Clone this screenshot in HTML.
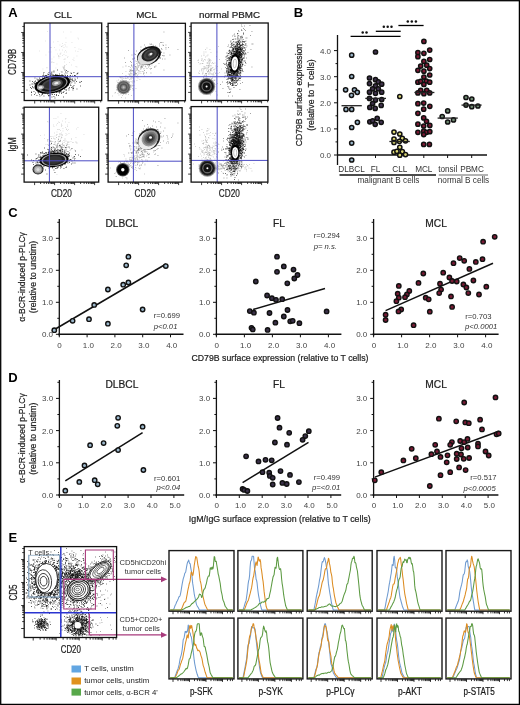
<!DOCTYPE html><html><head><meta charset="utf-8"><style>html,body{margin:0;padding:0;background:#fff;}svg{display:block;will-change:transform;}</style></head><body><svg width="520" height="705" viewBox="0 0 520 705" font-family='"Liberation Sans", sans-serif'>
<rect x="0" y="0" width="520" height="705" fill="#fff" stroke="none" stroke-width="1"/>
<text x="8.3" y="17" font-size="13" text-anchor="start" font-weight="bold" font-style="normal" fill="#000">A</text>
<text x="63" y="18.1" font-size="9.8" text-anchor="middle" font-weight="normal" font-style="normal" fill="#222" stroke="#222" stroke-width="0.22">CLL</text>
<text x="146.5" y="18.1" font-size="9.8" text-anchor="middle" font-weight="normal" font-style="normal" fill="#222" stroke="#222" stroke-width="0.22">MCL</text>
<text x="229.6" y="18.1" font-size="9.8" text-anchor="middle" font-weight="normal" font-style="normal" fill="#222" stroke="#222" stroke-width="0.22">normal PBMC</text>
<text x="15.9" y="61.8" font-size="10" text-anchor="middle" font-weight="normal" font-style="normal" fill="#222" stroke="#222" stroke-width="0.22" transform="rotate(-90 15.9 61.8)" textLength="26.2" lengthAdjust="spacingAndGlyphs">CD79B</text>
<text x="15.7" y="144.6" font-size="10" text-anchor="middle" font-weight="normal" font-style="normal" fill="#222" stroke="#222" stroke-width="0.22" transform="rotate(-90 15.7 144.6)" textLength="14.5" lengthAdjust="spacingAndGlyphs">IgM</text>
<text x="61.4" y="196.5" font-size="10" text-anchor="middle" font-weight="normal" font-style="normal" fill="#222" stroke="#222" stroke-width="0.22" textLength="21" lengthAdjust="spacingAndGlyphs">CD20</text>
<text x="145.1" y="196.5" font-size="10" text-anchor="middle" font-weight="normal" font-style="normal" fill="#222" stroke="#222" stroke-width="0.22" textLength="21" lengthAdjust="spacingAndGlyphs">CD20</text>
<text x="229.3" y="196.5" font-size="10" text-anchor="middle" font-weight="normal" font-style="normal" fill="#222" stroke="#222" stroke-width="0.22" textLength="21" lengthAdjust="spacingAndGlyphs">CD20</text>
<path d="M64 62h0.9M61.5 46.5h0.9M59.5 45h0.9M64.5 75.5h0.9M59 50h0.9M69 62.5h0.9M65 46h0.9M63.5 67h0.9M50.5 52h0.9M45 41h0.9M45.5 55h0.9M51.5 61.5h0.9M65.5 55.5h0.9M39 51h0.9M63.5 59.5h0.9M48.5 52h0.9M54 47.5h0.9M74.5 47.5h0.9M63.5 69.5h0.9M58 56.5h0.9M65 59h0.9M51.5 59h0.9M77.5 38h0.9M72.5 59.5h0.9M57.5 84h0.9M71.5 42.5h0.9M64.5 65.5h0.9M62 67h0.9M63.5 66.5h0.9M78.5 49h0.9M66 52h0.9M65.5 42.5h0.9M58 55.5h0.9M73 73h0.9M51 47.5h0.9M70.5 32h0.9M59.5 56.5h0.9M76.5 67h0.9M60.5 53h0.9M61.5 78h0.9M59.5 54h0.9M67.5 56.5h0.9M62 43.5h0.9M64 52h0.9M75.5 66.5h0.9M64 66.5h0.9M60.5 71.5h0.9M64 65.5h0.9M51 62.5h0.9M47 31.5h0.9M61 46.5h0.9M65.5 87h0.9M55.5 50h0.9M66 64.5h0.9M62 55.5h0.9M71 65h0.9M53.5 57h0.9M64.5 44.5h0.9M66.5 47h0.9M73.5 60.5h0.9M65 50.5h0.9M63 32h0.9M52.5 62.5h0.9M42.5 69h0.9M46.5 68h0.9M55.5 68h0.9M65.5 38h0.9M76.5 76.5h0.9M63.5 54.5h0.9M62.5 45.5h0.9M75 51h0.9M63.5 47.5h0.9M57.5 41.5h0.9M76.5 56h0.9M73.5 58h0.9M57 54h0.9M58.5 58h0.9M60 54h0.9M50 47.5h0.9M80.5 49.5h0.9M53.5 62.5h0.9M78 39h0.9M62 50h0.9M46.5 67.5h0.9M64 59h0.9M56.5 64h0.9M58.5 56h0.9M53 42h0.9M77.5 51.5h0.9M67 57.5h0.9" stroke="#333" stroke-opacity="0.15" stroke-width="0.9" fill="none"/>
<path d="M47.5 83h0.9M58.5 81.5h0.9M51 84.5h0.9M64.5 85h0.9M55.5 81h0.9M40 91.5h0.9M62 81.5h0.9M58.5 87h0.9M61.5 87h0.9M49.5 92.5h0.9M41 91h0.9M58 87.5h0.9M72.5 87.5h0.9M39.5 79h0.9M59.5 78h0.9M53 88.5h0.9M34.5 78h0.9M55 84h0.9M50 85h0.9M42.5 79h0.9M50 80h0.9M37 90h0.9M52.5 86.5h0.9M42 83.5h0.9M42 82h0.9M53.5 80h0.9M56.5 85h0.9M71 73.5h0.9M61 82h0.9M51 77.5h0.9M48.5 88.5h0.9M52 85h0.9M51 90.5h0.9M50 74h0.9M44 76.5h0.9M65.5 81.5h0.9M40 82.5h0.9M63.5 82.5h0.9M53 84h0.9M53.5 88h0.9M58 84h0.9M43 89h0.9M47 91h0.9M40 86.5h0.9M51 78h0.9M71 87.5h0.9M48.5 89h0.9M53.5 71h0.9M55 83.5h0.9M52 79h0.9M49.5 84h0.9M64.5 83.5h0.9M54 91.5h0.9M46.5 83.5h0.9M36.5 95.5h0.9M63 86.5h0.9M59 83.5h0.9M54.5 82.5h0.9M50.5 85h0.9M68 84h0.9M51.5 81.5h0.9M48 93h0.9M57.5 83.5h0.9M48 80h0.9M52.5 88.5h0.9M48.5 84h0.9M50.5 85.5h0.9M36.5 86.5h0.9M45 90h0.9M45.5 88.5h0.9M67 79.5h0.9M47 86.5h0.9M51.5 79.5h0.9M59 93h0.9M50 84h0.9M42.5 88h0.9M39 81.5h0.9M64 77.5h0.9M64.5 89h0.9M55.5 86.5h0.9M71.5 79.5h0.9M45.5 79h0.9M54.5 91h0.9M61 78h0.9M43.5 83.5h0.9M55 82.5h0.9M55 85h0.9M49.5 84.5h0.9M54.5 83.5h0.9M59.5 92h0.9M58.5 83.5h0.9M36.5 89.5h0.9M32 81.5h0.9M61.5 86h0.9M49.5 76.5h0.9M48 82h0.9M61 93.5h0.9M54 80h0.9M41 86.5h0.9M49.5 79.5h0.9M52.5 78.5h0.9M64.5 87h0.9M62.5 80h0.9M57.5 82.5h0.9M48.5 83.5h0.9M38.5 80h0.9M60 82h0.9M55.5 88.5h0.9M35 84h0.9M54.5 86h0.9M50 90h0.9M53.5 78h0.9M44 90h0.9M55 74.5h0.9M66.5 84.5h0.9M65.5 79.5h0.9M48.5 79.5h0.9M77 78h0.9M67.5 78h0.9M52.5 76h0.9M49.5 89.5h0.9M41.5 92h0.9M55 78.5h0.9M47 83h0.9M51.5 82h0.9M44 84.5h0.9M41 80.5h0.9M37.5 87.5h0.9M45 81h0.9M60.5 80h0.9M66.5 77.5h0.9M56 82.5h0.9M51.5 87.5h0.9M51 79.5h0.9M51.5 85h0.9M50.5 76.5h0.9M58 78h0.9M35 88h0.9M62 75h0.9M41 83h0.9M42 88.5h0.9M44 82.5h0.9M57.5 79.5h0.9M56 79h0.9M39 78h0.9M70.5 79h0.9M54 84h0.9M70 75.5h0.9M36.5 83h0.9M40 90.5h0.9M38.5 85.5h0.9M63.5 68h0.9M56.5 78h0.9M61.5 77h0.9M48 78h0.9M44.5 93h0.9M60 80.5h0.9M42 77h0.9M48.5 85h0.9M51.5 84h0.9M41.5 86.5h0.9M53.5 90.5h0.9M70.5 80h0.9M45 85.5h0.9M46 82h0.9M58.5 82.5h0.9M55 83h0.9M44.5 81.5h0.9M49.5 82h0.9M39 87.5h0.9M38.5 84h0.9M47.5 75h0.9M53.5 85h0.9M50.5 82.5h0.9M48 80.5h0.9M49.5 82.5h0.9M52 78.5h0.9M55 84.5h0.9M56 75.5h0.9M57 84.5h0.9M55.5 85.5h0.9M46 84.5h0.9M59 85h0.9M53 77h0.9M59 88.5h0.9M62.5 83.5h0.9M38 92h0.9M48.5 72.5h0.9M54.5 76.5h0.9M39 84h0.9M64.5 80h0.9M57 92h0.9M68 80.5h0.9M49 79h0.9M46 87.5h0.9M56.5 84h0.9M61.5 78.5h0.9M52.5 88h0.9M59.5 88h0.9M56 82h0.9M55 79h0.9M37 90.5h0.9M52.5 86h0.9M35.5 86h0.9M46 81.5h0.9M30 87.5h0.9M61.5 84h0.9M46.5 85.5h0.9M57 70h0.9M52 87h0.9M61 91h0.9M64 83.5h0.9M56 87.5h0.9M47 85h0.9M63.5 91.5h0.9M56 90h0.9M53.5 91.5h0.9M43 85.5h0.9M51.5 88.5h0.9M61 75h0.9M44 88h0.9M44.5 78.5h0.9M63 84.5h0.9M57 81h0.9M62.5 81h0.9M62.5 77.5h0.9M44.5 87h0.9M46.5 89h0.9M54 79.5h0.9M53 82.5h0.9M61 79.5h0.9M49.5 91h0.9M76.5 89h0.9M67.5 80.5h0.9M43 87h0.9M56 79.5h0.9M35 81h0.9M58.5 79.5h0.9M51.5 85.5h0.9M58 81.5h0.9M56.5 79h0.9M63.5 82h0.9M45 84h0.9M51 88h0.9M36 82.5h0.9M51.5 97h0.9M61.5 82h0.9M61.5 92.5h0.9M50 83h0.9M65 84h0.9M58.5 80.5h0.9M73 88.5h0.9M58.5 86.5h0.9M33.5 91.5h0.9M51 86.5h0.9M59 81.5h0.9M45 84.5h0.9M46 84h0.9M31 95h0.9M56 89h0.9M72 80.5h0.9M34 84h0.9M40 84.5h0.9M51.5 74.5h0.9M55.5 83h0.9M46.5 82.5h0.9M36 87.5h0.9M72.5 90h0.9M66 85h0.9M47.5 92.5h0.9M52 84h0.9M49.5 85.5h0.9M48 85h0.9M41.5 85h0.9M74.5 79h0.9M50.5 87.5h0.9M58.5 77.5h0.9M51.5 89h0.9M55.5 84.5h0.9M67 78h0.9M53 81.5h0.9M65 72h0.9M45.5 83h0.9M59.5 86h0.9M64.5 74h0.9M59.5 81.5h0.9M46.5 88h0.9M41.5 76.5h0.9M47.5 78h0.9M46.5 87.5h0.9M57 91h0.9M49 77.5h0.9M44 81.5h0.9M41 89h0.9M59 82.5h0.9M56 84h0.9M58.5 83h0.9M65 83.5h0.9M56.5 85.5h0.9M38 86.5h0.9M50 86h0.9M41 95h0.9M35.5 86.5h0.9M51 81h0.9M53 81h0.9M57 80h0.9M53 89h0.9M76.5 74h0.9M47 81.5h0.9M59 77.5h0.9M47.5 85h0.9M46 75.5h0.9M38 85.5h0.9M54 83h0.9M34.5 86h0.9M61 85h0.9M51 80.5h0.9M58 80.5h0.9M40.5 83h0.9M67 82.5h0.9M63.5 79.5h0.9M53.5 96.5h0.9M59.5 80.5h0.9M52 86h0.9M64 79.5h0.9M35 86.5h0.9M53 85h0.9M65.5 83h0.9M59.5 77.5h0.9M63 92.5h0.9M60.5 84h0.9M56 92.5h0.9M43.5 85.5h0.9M57.5 87h0.9M48.5 86.5h0.9M50 85.5h0.9M50 79h0.9M43 85h0.9M53 79h0.9M66 93h0.9M72 79h0.9M60 83.5h0.9M55 91.5h0.9M40.5 92h0.9M53.5 91h0.9M53.5 81h0.9M56 87h0.9M53.5 86.5h0.9M45.5 75.5h0.9M62 85.5h0.9M54 84.5h0.9M62 80h0.9M45.5 85h0.9M62.5 75.5h0.9M63.5 79h0.9M43 92.5h0.9M50.5 78.5h0.9M50 89.5h0.9M63.5 80h0.9M57 87h0.9M48 85.5h0.9M52 81.5h0.9M49.5 90.5h0.9M55.5 88h0.9M65 84.5h0.9M74 75.5h0.9M60 81h0.9M72.5 88.5h0.9M32.5 84h0.9M60 86.5h0.9M59.5 82.5h0.9M57.5 86.5h0.9M53 89.5h0.9M31 92h0.9M43.5 91h0.9M49.5 80.5h0.9M42 79h0.9M62.5 81.5h0.9M63 82h0.9M62.5 80.5h0.9M52.5 80h0.9M62 80.5h0.9M50.5 94.5h0.9M58 92h0.9M61 79h0.9M49 87h0.9M53 84.5h0.9M48 76.5h0.9M48 74.5h0.9M55.5 80h0.9M53.5 77h0.9M34.5 83h0.9M31.5 84h0.9M67 76h0.9M57.5 76.5h0.9M55 82h0.9M52.5 87h0.9M70 81.5h0.9M52.5 79.5h0.9M58 82h0.9M60.5 82.5h0.9M67.5 71.5h0.9M50.5 89h0.9M48.5 81.5h0.9M48.5 78.5h0.9M56 95.5h0.9M62.5 76.5h0.9M43.5 84h0.9M46.5 90h0.9M60.5 80.5h0.9M40 79.5h0.9M43.5 75.5h0.9M59 80h0.9M59 92h0.9M63 76.5h0.9M62 88h0.9M50 77h0.9M64.5 70h0.9M41.5 85.5h0.9M61.5 72h0.9M52 81h0.9M54 85h0.9M43 83h0.9M60.5 84.5h0.9M48 95.5h0.9M73.5 72.5h0.9M58 95.5h0.9M60.5 83.5h0.9M50 82h0.9M59.5 81h0.9M47 79.5h0.9M51 80h0.9M52 89.5h0.9M56.5 86h0.9M51 83h0.9M44.5 83.5h0.9M46 86.5h0.9M46.5 91h0.9M42.5 75.5h0.9M43.5 76.5h0.9M47 94h0.9M55.5 83.5h0.9M65.5 93.5h0.9M65.5 82.5h0.9M56.5 86.5h0.9M45.5 80.5h0.9M52 79.5h0.9M74.5 75.5h0.9M51 84h0.9M58 88.5h0.9M35.5 83.5h0.9M58 83.5h0.9M42 84.5h0.9M46.5 84.5h0.9M33.5 82.5h0.9M66 70.5h0.9M49.5 86h0.9M48 81.5h0.9M52 84.5h0.9M50 75.5h0.9M50 80.5h0.9M47.5 86.5h0.9M59.5 87h0.9M48.5 89.5h0.9M65 87h0.9M66 80.5h0.9M39.5 88h0.9M47 83.5h0.9M34.5 83.5h0.9M62 82h0.9M50 81h0.9M60 91.5h0.9M50.5 77.5h0.9M42 93h0.9M53 76.5h0.9M60 89h0.9M48.5 82h0.9M49.5 86.5h0.9M60 88.5h0.9M65.5 87.5h0.9M37.5 87h0.9M61 80.5h0.9M45 93h0.9M59 84h0.9M62.5 87.5h0.9M53.5 72h0.9M45.5 83.5h0.9M43 87.5h0.9M43.5 96h0.9M55 86h0.9M46.5 89.5h0.9M47 81h0.9M55 87.5h0.9M46.5 87h0.9M54.5 98h0.9M47 92.5h0.9M60.5 87h0.9M65 83h0.9M46 83h0.9M58 86h0.9M66.5 83.5h0.9M52.5 77h0.9M39.5 80h0.9M67 77h0.9M70.5 85.5h0.9M51.5 83.5h0.9M47.5 85.5h0.9M66.5 73h0.9M55 88h0.9M38 93h0.9M47 88.5h0.9M51.5 72h0.9M45.5 87h0.9M68 82.5h0.9M68.5 90h0.9M52.5 83h0.9M37.5 92h0.9M79.5 82h0.9M65.5 84h0.9M44 92.5h0.9M40 86h0.9M56 88h0.9M57 85.5h0.9M44 80h0.9M52.5 81h0.9M38.5 81h0.9M46 76.5h0.9M37.5 79.5h0.9M70.5 73h0.9M47 90h0.9M69 79h0.9M40 80.5h0.9M56 85h0.9M38 82.5h0.9M58.5 86h0.9M56.5 74.5h0.9M50 87h0.9M45 75.5h0.9M50.5 88.5h0.9M77 73.5h0.9M63 88h0.9M62.5 83h0.9M42 89.5h0.9M43 74h0.9M81 81.5h0.9M69.5 76h0.9M68.5 88.5h0.9M67.5 81h0.9M40.5 86h0.9M29.5 81h0.9M72.5 86.5h0.9M53.5 90h0.9M44.5 84.5h0.9M60 76.5h0.9M55.5 91.5h0.9M42.5 81h0.9M42 93.5h0.9M76 81.5h0.9M46 89h0.9M50 89h0.9M55.5 85h0.9M47 77h0.9M47 78.5h0.9M54 86h0.9M38 83.5h0.9M70 85h0.9M50.5 92h0.9M39 94.5h0.9M43.5 72.5h0.9M80 86h0.9M42.5 87h0.9M37.5 84h0.9M57.5 84.5h0.9M64.5 82h0.9M75 76h0.9M53 75h0.9M41.5 93h0.9M44 89h0.9M48.5 82.5h0.9M58.5 80h0.9M44 87.5h0.9M52.5 89.5h0.9M79.5 82.5h0.9M52 83.5h0.9M43 82h0.9M42.5 84.5h0.9M49 88.5h0.9M42 94.5h0.9M59 91.5h0.9M62 89.5h0.9M77.5 73h0.9M65.5 90h0.9M64.5 78.5h0.9M55.5 79.5h0.9M45 83h0.9M51 85.5h0.9M55.5 76.5h0.9M73.5 85.5h0.9M55 75.5h0.9M63 97h0.9M35 93h0.9M56 83h0.9M65 75.5h0.9M55.5 91h0.9M50 82.5h0.9M53 82h0.9M67 76.5h0.9M26.5 90h0.9M41.5 84.5h0.9M67 75.5h0.9M43.5 93.5h0.9M55 79.5h0.9M53 90.5h0.9M62 82.5h0.9M53 83.5h0.9M48.5 95h0.9M51.5 79h0.9M46 86h0.9M34.5 81.5h0.9M57.5 89.5h0.9M59 83h0.9M74.5 83h0.9M49.5 88.5h0.9M32.5 87.5h0.9M49 83h0.9M41.5 90h0.9M65 78h0.9M48.5 90.5h0.9M29.5 85h0.9M41.5 81h0.9M54.5 79.5h0.9M45.5 86.5h0.9M69 82.5h0.9M46 85.5h0.9M43.5 87.5h0.9M60.5 78.5h0.9M51.5 90h0.9M41.5 82.5h0.9M49.5 95.5h0.9M48 82.5h0.9M47 84.5h0.9M73 81h0.9M57 76.5h0.9M48 84h0.9M50.5 86.5h0.9M39 82.5h0.9M44.5 86h0.9M63 77h0.9M68 85h0.9M49 89h0.9M36.5 79h0.9M39.5 85h0.9M49 82.5h0.9M51.5 74h0.9M56 76.5h0.9M42.5 86.5h0.9M59 85.5h0.9M42 82.5h0.9M44 88.5h0.9M34 94.5h0.9M57 88.5h0.9M55 90h0.9M64.5 81h0.9M66.5 82h0.9M40.5 90h0.9M31 88.5h0.9M58 79.5h0.9M51 73h0.9M59 74h0.9M59.5 78.5h0.9M48.5 96h0.9M43.5 82.5h0.9M49 80h0.9M66 90h0.9M44 77.5h0.9M61.5 88h0.9M44 85.5h0.9M37.5 80.5h0.9M61.5 79h0.9M75 80h0.9M47 89.5h0.9M70.5 83h0.9M41 88.5h0.9M65.5 79h0.9M46 90.5h0.9M55.5 84h0.9M37.5 89.5h0.9M61.5 84.5h0.9M62 79.5h0.9M44 90.5h0.9M40 76.5h0.9M62 79h0.9M48 78.5h0.9M38.5 81.5h0.9M49.5 87h0.9M31 92.5h0.9M40 82h0.9M39.5 96h0.9M44.5 87.5h0.9M56 90.5h0.9M49 90h0.9M44.5 84h0.9M71.5 82h0.9M56 94.5h0.9M58.5 77h0.9M64.5 87.5h0.9M43.5 89h0.9M32 86.5h0.9M54.5 78h0.9M45 79h0.9M41.5 88.5h0.9M43 86.5h0.9M64 87h0.9M67.5 79.5h0.9M43 91.5h0.9M56.5 89h0.9M54 90h0.9M58 85h0.9M61.5 80h0.9M69.5 80h0.9M52 94.5h0.9M48 79h0.9M74 81h0.9M60.5 77.5h0.9M69.5 77.5h0.9M58.5 84.5h0.9M47.5 74h0.9M47 79h0.9M64 89h0.9M48 89h0.9M50 84.5h0.9M51.5 84.5h0.9M50.5 83.5h0.9M66 83.5h0.9M54 94.5h0.9M66.5 81.5h0.9M72 76h0.9M58.5 78h0.9M70 79h0.9M63.5 76.5h0.9M47.5 78.5h0.9M53.5 83.5h0.9M59 90.5h0.9M33.5 88h0.9M49 87.5h0.9M43 89.5h0.9M38 90.5h0.9M63.5 88h0.9M69 87.5h0.9M44 80.5h0.9M46 83.5h0.9M37 87.5h0.9M52.5 87.5h0.9M52 80.5h0.9" stroke="#000" stroke-opacity="0.75" stroke-width="0.9" fill="none"/>
<ellipse cx="52.3" cy="84.3" rx="18" ry="8.8" transform="rotate(-12 52.3 84.3)" fill="#000"/>
<ellipse cx="52.3" cy="84.3" rx="15.5" ry="7.6" transform="rotate(-12 52.3 84.3)" fill="#999"/>
<ellipse cx="52.3" cy="84.3" rx="14.2" ry="7" transform="rotate(-12 52.3 84.3)" fill="#111"/>
<ellipse cx="52.3" cy="84.3" rx="10.8" ry="5.3" transform="rotate(-12 52.3 84.3)" fill="#444"/>
<ellipse cx="52.3" cy="84.3" rx="8.1" ry="4" transform="rotate(-12 52.3 84.3)" fill="#333"/>
<ellipse cx="40.5" cy="87.5" rx="3.5" ry="2.2" transform="rotate(-12 40.5 87.5)" fill="#aaa"/>
<ellipse cx="40.5" cy="87.5" rx="1.8" ry="1.1" transform="rotate(-12 40.5 87.5)" fill="#eee"/>
<ellipse cx="56.4" cy="83.2" rx="4.5" ry="2.5" transform="rotate(-12 56.4 83.2)" fill="#999"/>
<ellipse cx="56.4" cy="83.2" rx="2.2" ry="1.2" transform="rotate(-12 56.4 83.2)" fill="#eee"/>
<path d="M24.2 92.50h-3M24.2 86.48h-1.9M24.2 82.96h-1.9M24.2 80.46h-1.9M24.2 78.52h-1.9M24.2 76.94h-1.9M24.2 75.60h-1.9M24.2 74.44h-1.9M24.2 73.42h-1.9M24.2 72.50h-3M24.2 66.48h-1.9M24.2 62.96h-1.9M24.2 60.46h-1.9M24.2 58.52h-1.9M24.2 56.94h-1.9M24.2 55.60h-1.9M24.2 54.44h-1.9M24.2 53.42h-1.9M24.2 52.50h-3M24.2 46.48h-1.9M24.2 42.96h-1.9M24.2 40.46h-1.9M24.2 38.52h-1.9M24.2 36.94h-1.9M24.2 35.60h-1.9M24.2 34.44h-1.9M24.2 33.42h-1.9M24.2 32.50h-3M24.2 26.48h-1.9" stroke="#000" stroke-width="0.75" fill="none"/>
<path d="M34.70 100.5v3M40.72 100.5v1.9M44.24 100.5v1.9M46.74 100.5v1.9M48.68 100.5v1.9M50.26 100.5v1.9M51.60 100.5v1.9M52.76 100.5v1.9M53.78 100.5v1.9M54.70 100.5v3M60.72 100.5v1.9M64.24 100.5v1.9M66.74 100.5v1.9M68.68 100.5v1.9M70.26 100.5v1.9M71.60 100.5v1.9M72.76 100.5v1.9M73.78 100.5v1.9M74.70 100.5v3M80.72 100.5v1.9M84.24 100.5v1.9M86.74 100.5v1.9M88.68 100.5v1.9M90.26 100.5v1.9M91.60 100.5v1.9M92.76 100.5v1.9M93.78 100.5v1.9M94.70 100.5v3M100.72 100.5v1.9" stroke="#000" stroke-width="0.75" fill="none"/>
<line x1="50" y1="23" x2="50" y2="100.5" stroke="#4a4ac4" stroke-width="1"/>
<line x1="24.2" y1="76.7" x2="101.7" y2="76.7" stroke="#4a4ac4" stroke-width="1"/>
<rect x="24.2" y="23" width="77.5" height="77.5" fill="none" stroke="#111" stroke-width="1.3"/>
<path d="M149 59h0.9M129 79.5h0.9M142 66.5h0.9M151.5 60h0.9M132.5 75h0.9M128.5 81.5h0.9M144 76h0.9M131 65.5h0.9M132 76.5h0.9M125.5 78.5h0.9M134.5 74.5h0.9M132.5 70.5h0.9M139.5 64h0.9M129 71.5h0.9M132.5 78.5h0.9M125.5 83h0.9M139.5 64.5h0.9M134.5 66.5h0.9M147.5 63.5h0.9M133 65h0.9M132 81h0.9M148 58.5h0.9M142.5 60h0.9M135 72.5h0.9M134.5 64.5h0.9M145.5 67h0.9M125 77h0.9M136.5 67h0.9M123 91h0.9M135.5 68.5h0.9M150 55h0.9M131.5 77h0.9M127.5 77.5h0.9M137 67h0.9M137.5 78h0.9M143.5 66h0.9M140.5 68h0.9M145.5 60h0.9M145.5 54.5h0.9M130.5 70h0.9M135 75h0.9M143.5 58.5h0.9M135 70h0.9M128 74h0.9M131.5 66.5h0.9M137 70h0.9M129 74h0.9M132 86h0.9M131.5 85h0.9M139 65.5h0.9M131.5 82h0.9M144.5 55.5h0.9M137 75.5h0.9M143.5 73h0.9M134 76.5h0.9M133.5 85.5h0.9M125.5 71.5h0.9M135 71.5h0.9M147.5 55.5h0.9M137.5 72.5h0.9M146 58.5h0.9M144 64h0.9M134.5 73.5h0.9M133.5 68.5h0.9M140 58.5h0.9M146 64h0.9M133.5 70h0.9M136 74h0.9M141.5 66h0.9M141 62h0.9M133.5 65.5h0.9M141.5 65.5h0.9M136.5 77h0.9M133 59.5h0.9M132.5 67.5h0.9M149.5 68.5h0.9M133 75h0.9M135.5 73.5h0.9M143.5 69h0.9M134 82h0.9M131 79h0.9M145.5 63.5h0.9M128 76.5h0.9M133 74.5h0.9M140 59.5h0.9M140.5 69h0.9M141 68h0.9M147 60.5h0.9M143 65.5h0.9M142.5 53h0.9M143.5 60.5h0.9M131.5 71h0.9M123 84.5h0.9M133 77.5h0.9M130.5 85.5h0.9M137 68.5h0.9M129.5 74.5h0.9M127.5 78.5h0.9M135.5 70.5h0.9M126 81h0.9M130.5 78h0.9M149.5 58h0.9M129.5 69.5h0.9M122.5 78h0.9M138.5 63.5h0.9M134.5 69h0.9M140.5 73.5h0.9M130.5 75.5h0.9M133 79h0.9M126.5 76.5h0.9M123.5 78.5h0.9M146 73h0.9M133.5 72.5h0.9M136.5 80.5h0.9M125 86.5h0.9M139.5 72h0.9M138 71h0.9M135 61h0.9M151.5 65h0.9M145 66h0.9M126.5 81.5h0.9M129 76h0.9M140 62h0.9M130 67.5h0.9M129.5 75h0.9M145 54h0.9M127 77h0.9M149.5 66.5h0.9M136 67h0.9M136 76.5h0.9M134 81h0.9M145.5 60.5h0.9M142 67.5h0.9M143 56.5h0.9M142.5 61h0.9M132 70.5h0.9M123 81h0.9M150.5 64.5h0.9M143.5 68.5h0.9M135 66.5h0.9M130 79h0.9M131 71h0.9M138 67.5h0.9M142.5 63h0.9M133 71h0.9M135.5 76h0.9M124 83h0.9M134 74.5h0.9M131.5 73.5h0.9M132 83h0.9M139.5 63h0.9M142.5 62h0.9M130 76.5h0.9M131.5 77.5h0.9M137 69.5h0.9M122.5 67h0.9M131.5 66h0.9M140.5 71.5h0.9M136.5 68h0.9M134.5 72h0.9M131 74h0.9M133 81h0.9M138.5 73.5h0.9M134.5 73h0.9M136 73.5h0.9M142 65h0.9M146 57.5h0.9M138 76.5h0.9M144.5 64h0.9M139.5 79.5h0.9M140 69h0.9M131 69h0.9M128.5 82h0.9M124.5 76.5h0.9M130 70h0.9M145 66.5h0.9M156.5 51.5h0.9M130 73.5h0.9M112 96h0.9M137.5 74.5h0.9M141.5 67.5h0.9M139 71h0.9M142.5 57.5h0.9M129.5 71.5h0.9M150 61.5h0.9M137.5 62.5h0.9M136.5 69h0.9M136 70h0.9M138.5 66h0.9M134 73h0.9M135 73.5h0.9M129.5 70.5h0.9M139 61.5h0.9M141.5 66.5h0.9M123 81.5h0.9M130.5 73h0.9M130.5 81.5h0.9M134 75h0.9M131 76.5h0.9M140 66.5h0.9M130 72h0.9M138 70.5h0.9M132.5 71h0.9M146 72.5h0.9M135 74h0.9" stroke="#444" stroke-opacity="0.3" stroke-width="0.9" fill="none"/>
<path d="M125.5 75.5h0.9M124 84h0.9M130 86h0.9M120 86h0.9M124.5 84.5h0.9M123.5 81h0.9M122.5 90.5h0.9M132.5 90h0.9M125 92.5h0.9M128 94.5h0.9M128.5 86.5h0.9M125 88h0.9M120 77.5h0.9M120.5 78h0.9M124 87h0.9M116 90h0.9M127.5 87.5h0.9M131 95.5h0.9M118 91.5h0.9M125.5 89h0.9M128 84h0.9M121 83.5h0.9M120 86.5h0.9M117 82.5h0.9M126 86.5h0.9M125.5 78.5h0.9M120 84.5h0.9M123.5 84.5h0.9M128 86.5h0.9M123.5 87h0.9M127 85h0.9M128.5 89h0.9M124.5 87h0.9M126 91.5h0.9M128 88.5h0.9M129 87h0.9M114.5 93h0.9M124 81.5h0.9M122.5 83h0.9M133 89h0.9M116.5 89.5h0.9M122 95.5h0.9M119 77h0.9M124 85.5h0.9M121.5 77.5h0.9M125.5 94.5h0.9M115 92.5h0.9M121 97.5h0.9M125.5 86h0.9M128.5 89.5h0.9M121 90h0.9M121.5 79h0.9M132.5 85.5h0.9M121 88.5h0.9M116.5 81h0.9M121.5 84.5h0.9M124 92h0.9M121.5 89h0.9M126.5 82h0.9M124.5 83h0.9M124 83.5h0.9M127 86.5h0.9M120 91h0.9M127 84.5h0.9M129 85.5h0.9M122 87.5h0.9M120 85h0.9M123 94h0.9M130.5 86h0.9M131 87h0.9M125.5 91h0.9M125 98h0.9M124.5 81.5h0.9M129.5 85h0.9M122 73.5h0.9M128 90.5h0.9M127 91.5h0.9M128 83.5h0.9M122 92h0.9M125.5 81h0.9M125 86h0.9M120 89h0.9M122 80h0.9M118.5 95h0.9M117 88h0.9M126.5 90h0.9M118 85.5h0.9M124 90.5h0.9M120.5 82h0.9M128 92h0.9M125.5 84.5h0.9M125.5 87.5h0.9M127.5 81.5h0.9M124 86.5h0.9M118.5 88h0.9M124 85h0.9M125.5 80.5h0.9M123.5 89h0.9M125 92h0.9M118 80h0.9M124.5 89h0.9M133 90h0.9M119.5 90.5h0.9M120 80.5h0.9M135.5 88.5h0.9M127 89.5h0.9M132 88.5h0.9M129 82.5h0.9M117.5 93.5h0.9M130 89.5h0.9M124.5 87.5h0.9M120.5 94h0.9M126.5 89.5h0.9M125.5 91.5h0.9M126 90.5h0.9" stroke="#555" stroke-opacity="0.35" stroke-width="0.9" fill="none"/>
<ellipse cx="123.6" cy="87.3" rx="7" ry="7" transform="rotate(0 123.6 87.3)" fill="#999"/>
<ellipse cx="123.6" cy="87.3" rx="6.1" ry="6.1" transform="rotate(0 123.6 87.3)" fill="#555"/>
<ellipse cx="123.6" cy="87.3" rx="5" ry="5" transform="rotate(0 123.6 87.3)" fill="#777"/>
<ellipse cx="123.6" cy="87.3" rx="3.9" ry="3.9" transform="rotate(0 123.6 87.3)" fill="#555"/>
<ellipse cx="123.6" cy="87.3" rx="2.4" ry="2.4" transform="rotate(0 123.6 87.3)" fill="#888"/>
<ellipse cx="123.6" cy="87.3" rx="1.1" ry="1.1" transform="rotate(0 123.6 87.3)" fill="#bbb"/>
<path d="M141 63h0.9M165.5 45h0.9M150 61.5h0.9M158.5 56h0.9M137 65h0.9M137.5 56h0.9M152.5 52.5h0.9M163.5 70h0.9M157 57h0.9M140 56h0.9M139 57h0.9M138.5 56.5h0.9M145 51.5h0.9M134 54h0.9M153 54.5h0.9M160 58h0.9M148 61h0.9M143 74h0.9M158 50.5h0.9M140.5 62.5h0.9M132 59h0.9M155.5 53.5h0.9M147.5 63h0.9M141.5 61.5h0.9M143 53.5h0.9M150.5 49h0.9M163 45.5h0.9M162.5 42.5h0.9M151 47h0.9M138.5 62h0.9M151.5 46.5h0.9M156.5 47h0.9M151 57.5h0.9M149.5 44h0.9M163.5 53h0.9M143 52h0.9M131.5 55h0.9M152.5 52h0.9M138.5 57.5h0.9M161 48.5h0.9M147.5 65.5h0.9M140 50h0.9M138 58h0.9M148 59h0.9M154 55h0.9M148 49.5h0.9M130 61.5h0.9M139.5 56h0.9M143.5 50.5h0.9M139.5 59.5h0.9M148.5 52h0.9M152.5 53h0.9M141 60h0.9M162.5 45h0.9M162 59h0.9M159 46h0.9M165.5 49h0.9M146.5 55.5h0.9M154 54h0.9M151 63.5h0.9M140.5 53h0.9M157.5 57h0.9M155 46h0.9M159 54.5h0.9M160 42.5h0.9M150 53.5h0.9M134 58h0.9M157 49h0.9M145.5 63.5h0.9M159.5 57.5h0.9M142.5 58.5h0.9M155.5 48.5h0.9M145 63.5h0.9M159 44h0.9M124 58h0.9M140.5 59h0.9M153.5 53h0.9M143.5 59.5h0.9M141 59.5h0.9M150.5 73h0.9M153.5 48.5h0.9M140 57.5h0.9M133.5 58.5h0.9M143.5 53.5h0.9M135 54.5h0.9M148 55h0.9M156.5 48.5h0.9M158.5 53.5h0.9M144 45h0.9M140.5 65h0.9M161 52h0.9M154 51h0.9M144.5 54h0.9M158 54h0.9M146.5 55h0.9M154.5 55.5h0.9M146.5 68.5h0.9M151 55h0.9M163.5 56h0.9M149.5 59h0.9M133.5 71h0.9M135 67h0.9M139.5 54h0.9M148 58h0.9M158.5 63.5h0.9M154 59.5h0.9M146 62h0.9M149 53h0.9M148 56h0.9M151.5 57.5h0.9M143 54h0.9M151 44h0.9M148 67h0.9M125 62.5h0.9M150.5 44.5h0.9M163.5 32h0.9M164.5 59h0.9M156 51.5h0.9M149.5 50h0.9M153 47h0.9M149.5 62.5h0.9M139 58.5h0.9M147 48h0.9M159.5 53.5h0.9M136.5 61.5h0.9M141 55.5h0.9M148 52h0.9M155 48.5h0.9M157 52h0.9M154.5 50h0.9M142 51.5h0.9M156 59h0.9M169.5 55h0.9M150.5 54h0.9M152 54.5h0.9M163.5 55.5h0.9M140.5 55.5h0.9M161 52.5h0.9M150 63.5h0.9M145 56h0.9M140.5 47h0.9M153 46h0.9M142.5 54h0.9M155 53h0.9M145 47h0.9M144.5 48.5h0.9M152.5 57h0.9M154 67h0.9M155 57h0.9M149.5 54.5h0.9M159.5 58.5h0.9M141 66.5h0.9M155.5 59.5h0.9M149.5 47.5h0.9M144 70.5h0.9M147.5 47.5h0.9M151 52.5h0.9M128 50.5h0.9M136.5 63.5h0.9M153 58h0.9M131 62.5h0.9M139 52.5h0.9M144 57.5h0.9M143 49h0.9M150 69h0.9M136 51h0.9M150 48h0.9M155 48h0.9M138 57h0.9M150 60.5h0.9M154 53.5h0.9M157 53h0.9M152.5 45h0.9M138 66h0.9M137 59.5h0.9M147 53.5h0.9M149 65.5h0.9M130.5 70.5h0.9M168 47.5h0.9M150.5 60h0.9M161 42.5h0.9M149 54.5h0.9M154 54.5h0.9M153.5 51h0.9M147.5 52h0.9M143 58h0.9M145 50h0.9M161.5 49.5h0.9M140.5 67.5h0.9M144 61.5h0.9M149.5 57.5h0.9M149 52h0.9M154.5 67h0.9M131 65h0.9M150 48.5h0.9M143.5 73h0.9M151 68.5h0.9M153.5 54.5h0.9M154.5 57.5h0.9M159.5 54h0.9M150.5 56.5h0.9M162 55.5h0.9M139 56.5h0.9M150 51.5h0.9M143.5 52h0.9M148 59.5h0.9M157 52.5h0.9M165.5 47.5h0.9M177.5 49.5h0.9M152 51.5h0.9M125.5 66h0.9M155.5 66h0.9M142.5 71.5h0.9M149 61h0.9M128.5 66.5h0.9" stroke="#000" stroke-opacity="0.4" stroke-width="0.9" fill="none"/>
<ellipse cx="149" cy="55.5" rx="12.5" ry="8.8" transform="rotate(-25 149 55.5)" fill="#111"/>
<ellipse cx="148" cy="56.6" rx="11" ry="7.5" transform="rotate(-25 148 56.6)" fill="#ddd"/>
<ellipse cx="150.2" cy="54.6" rx="9.2" ry="6.2" transform="rotate(-25 150.2 54.6)" fill="#222"/>
<ellipse cx="150.2" cy="54.6" rx="6.9" ry="4.7" transform="rotate(-25 150.2 54.6)" fill="#444"/>
<ellipse cx="150.2" cy="54.6" rx="4.6" ry="3.1" transform="rotate(-25 150.2 54.6)" fill="#333"/>
<ellipse cx="150.2" cy="54.6" rx="2.3" ry="1.6" transform="rotate(-25 150.2 54.6)" fill="#666"/>
<ellipse cx="151" cy="54" rx="1.6" ry="1" transform="rotate(-25 151 54)" fill="#eee"/>
<path d="M108.1 92.70h-3M108.1 86.68h-1.9M108.1 83.16h-1.9M108.1 80.66h-1.9M108.1 78.72h-1.9M108.1 77.14h-1.9M108.1 75.80h-1.9M108.1 74.64h-1.9M108.1 73.62h-1.9M108.1 72.70h-3M108.1 66.68h-1.9M108.1 63.16h-1.9M108.1 60.66h-1.9M108.1 58.72h-1.9M108.1 57.14h-1.9M108.1 55.80h-1.9M108.1 54.64h-1.9M108.1 53.62h-1.9M108.1 52.70h-3M108.1 46.68h-1.9M108.1 43.16h-1.9M108.1 40.66h-1.9M108.1 38.72h-1.9M108.1 37.14h-1.9M108.1 35.80h-1.9M108.1 34.64h-1.9M108.1 33.62h-1.9M108.1 32.70h-3M108.1 26.68h-1.9" stroke="#000" stroke-width="0.75" fill="none"/>
<path d="M118.60 100.7v3M124.62 100.7v1.9M128.14 100.7v1.9M130.64 100.7v1.9M132.58 100.7v1.9M134.16 100.7v1.9M135.50 100.7v1.9M136.66 100.7v1.9M137.68 100.7v1.9M138.60 100.7v3M144.62 100.7v1.9M148.14 100.7v1.9M150.64 100.7v1.9M152.58 100.7v1.9M154.16 100.7v1.9M155.50 100.7v1.9M156.66 100.7v1.9M157.68 100.7v1.9M158.60 100.7v3M164.62 100.7v1.9M168.14 100.7v1.9M170.64 100.7v1.9M172.58 100.7v1.9M174.16 100.7v1.9M175.50 100.7v1.9M176.66 100.7v1.9M177.68 100.7v1.9M178.60 100.7v3M184.62 100.7v1.9" stroke="#000" stroke-width="0.75" fill="none"/>
<line x1="133.9" y1="23.3" x2="133.9" y2="100.7" stroke="#4a4ac4" stroke-width="1"/>
<line x1="108.1" y1="76.7" x2="185.4" y2="76.7" stroke="#4a4ac4" stroke-width="1"/>
<rect x="108.1" y="23.3" width="77.3" height="77.4" fill="none" stroke="#111" stroke-width="1.3"/>
<path d="M206.5 77h0.9M208.5 58.5h0.9M212.5 77h0.9M211 80h0.9M213.5 70h0.9M201 56h0.9M214.5 77h0.9M208.5 65.5h0.9M208 70h0.9M206.5 63h0.9M219 72.5h0.9M205 57h0.9M204.5 77h0.9M212 68h0.9M208.5 67h0.9M202.5 83h0.9M210 95h0.9M204 68.5h0.9M212.5 67.5h0.9M201 60.5h0.9M208.5 73.5h0.9M207.5 80h0.9M213 73h0.9M208 67.5h0.9M211 79h0.9M208.5 74.5h0.9M206.5 56h0.9M203 77.5h0.9M210 86h0.9M208.5 78.5h0.9M214.5 80h0.9M205 68h0.9M208.5 60h0.9M210.5 80h0.9M205.5 89.5h0.9M206.5 68h0.9M207 63h0.9M210 70h0.9M216.5 76h0.9M210.5 68h0.9M201 69h0.9M203.5 79.5h0.9M208 86.5h0.9M211.5 78.5h0.9M209 72h0.9M211.5 79h0.9M204.5 75h0.9M221 69h0.9M201 82h0.9M208.5 73h0.9M217 95h0.9M203.5 80.5h0.9M211 74h0.9M210.5 70h0.9M216 76h0.9M209.5 82.5h0.9M212.5 74.5h0.9M209.5 87.5h0.9M210.5 69h0.9M203.5 66.5h0.9M203 71h0.9M209.5 49.5h0.9M208 76.5h0.9M209 60.5h0.9M214.5 63h0.9M202 59h0.9M208 80h0.9M214 72h0.9M202 63.5h0.9M203.5 68h0.9M199 71h0.9M211 68.5h0.9M210.5 60.5h0.9M200.5 63.5h0.9M214 80.5h0.9M205.5 82h0.9M206.5 85h0.9M210.5 65.5h0.9M212 62.5h0.9M203.5 55.5h0.9M209.5 69.5h0.9M207.5 66h0.9M215 66h0.9M204.5 82.5h0.9M215 73.5h0.9M199.5 64h0.9M211 70h0.9M216 56.5h0.9M211.5 63.5h0.9M214.5 69h0.9M213 63.5h0.9M201 59h0.9M205 60h0.9M214 83.5h0.9M209.5 59.5h0.9M207.5 63h0.9M215.5 73h0.9M210.5 66h0.9M198 62.5h0.9M202.5 73.5h0.9M208.5 62h0.9M206 85.5h0.9M203 61h0.9M206 75.5h0.9M216.5 52h0.9M208 70.5h0.9M207.5 68h0.9M206.5 80h0.9M205.5 68.5h0.9M208 71h0.9M207 80h0.9M208 71.5h0.9M207.5 60h0.9M204 59.5h0.9M209 63h0.9M202.5 72.5h0.9M210.5 52.5h0.9M216.5 70.5h0.9M207.5 80.5h0.9M208.5 64h0.9M219 59.5h0.9M207.5 78.5h0.9M202.5 69h0.9M210 94h0.9M203.5 69.5h0.9M211.5 71h0.9M202 74h0.9M213.5 80h0.9M210 73h0.9M202.5 68.5h0.9M209 66h0.9M208.5 61.5h0.9M215.5 91.5h0.9M206 74h0.9M207 82.5h0.9M210 71h0.9M207 71.5h0.9M203 77h0.9M204.5 75.5h0.9M208.5 81h0.9M203.5 76h0.9M207 72h0.9M208.5 79.5h0.9M198 73h0.9M200.5 82h0.9M198 60h0.9M199.5 86.5h0.9M201.5 71h0.9M205.5 52h0.9M206.5 76.5h0.9M207 79.5h0.9M206 70h0.9M206 73.5h0.9M217.5 73.5h0.9M209 64h0.9M204 84.5h0.9M202.5 61h0.9M207.5 65.5h0.9M218 46.5h0.9M210 77h0.9M202.5 63.5h0.9M210 86.5h0.9M203.5 54h0.9M213 85h0.9M206.5 48h0.9M215.5 68h0.9M213.5 69.5h0.9M206 65.5h0.9M215.5 84.5h0.9M197.5 60.5h0.9M217 66.5h0.9M201 70h0.9M207.5 69h0.9M205.5 67h0.9M205.5 73.5h0.9M204 67h0.9M207.5 83h0.9M210 69h0.9M210.5 74h0.9M213.5 75h0.9M217 83.5h0.9M208 66h0.9M212.5 75h0.9M207.5 55h0.9M199 73.5h0.9M212 78h0.9M201.5 80.5h0.9M205.5 74h0.9M210 62h0.9M205 49.5h0.9M203.5 52h0.9M210 70.5h0.9M212.5 73.5h0.9M205 73.5h0.9M206 76h0.9M209.5 60h0.9" stroke="#444" stroke-opacity="0.3" stroke-width="0.9" fill="none"/>
<path d="M235 63.5h0.9M232.5 71h0.9M241.5 60.5h0.9M238 42h0.9M235.5 59h0.9M227.5 64.5h0.9M238.5 56.5h0.9M235.5 53.5h0.9M240 49h0.9M231 81h0.9M234.5 67.5h0.9M236.5 52h0.9M234.5 67h0.9M231.5 65.5h0.9M237.5 73.5h0.9M231.5 53h0.9M228 72h0.9M236 70h0.9M234.5 51.5h0.9M235.5 64h0.9M232 64h0.9M237 65.5h0.9M235.5 42.5h0.9M234 64.5h0.9M235 59h0.9M232 69.5h0.9M235 64h0.9M233 56.5h0.9M237.5 53.5h0.9M231.5 59h0.9M239 65.5h0.9M240 62.5h0.9M236.5 50h0.9M231 76h0.9M235 70h0.9M237.5 63.5h0.9M234.5 64h0.9M236.5 67.5h0.9M236.5 64.5h0.9M233 60h0.9M230.5 72h0.9M228.5 60h0.9M243.5 61h0.9M231.5 62h0.9M239.5 62h0.9M237 64.5h0.9M229 92.5h0.9M236.5 58h0.9M233 66.5h0.9M235.5 70.5h0.9M238 49.5h0.9M237.5 60.5h0.9M236.5 49h0.9M234.5 56h0.9M237.5 49.5h0.9M232.5 56.5h0.9M231 71h0.9M227.5 58.5h0.9M230.5 58h0.9M239 57.5h0.9M237 55h0.9M240 72.5h0.9M241 51h0.9M230 72.5h0.9M235 60.5h0.9M238.5 51.5h0.9M238 57h0.9M238 56.5h0.9M236.5 74h0.9M237.5 68.5h0.9M241.5 38h0.9M238.5 61h0.9M236 60.5h0.9M231.5 57h0.9M235 76.5h0.9M234.5 54h0.9M241.5 55.5h0.9M242 64.5h0.9M230.5 71.5h0.9M243 50.5h0.9M240.5 61.5h0.9M240.5 60.5h0.9M229 67h0.9M235 83h0.9M239.5 70.5h0.9M235.5 58h0.9M235.5 55h0.9M238.5 39h0.9M236 63h0.9M242.5 71.5h0.9M232.5 68h0.9M232 56.5h0.9M227 75.5h0.9M239 52.5h0.9M233.5 72h0.9M236 67h0.9M233.5 56.5h0.9M234 71.5h0.9M234.5 52h0.9M240.5 55h0.9M238.5 66h0.9M235 80h0.9M236 70.5h0.9M233.5 56h0.9M235 77.5h0.9M236 85.5h0.9M236 65h0.9M238.5 64h0.9M236.5 53h0.9M240 53.5h0.9M239 50h0.9M240.5 54h0.9M240.5 48.5h0.9M232 74h0.9M232.5 63h0.9M237.5 41h0.9M235.5 67h0.9M230.5 67.5h0.9M234.5 53h0.9M236.5 56.5h0.9M245 50h0.9M236 72.5h0.9M231.5 45.5h0.9M238 59h0.9M234.5 74h0.9M235.5 53h0.9M226 63.5h0.9M238 50h0.9M239 74h0.9M240 52.5h0.9M235 57.5h0.9M235.5 52h0.9M236 65.5h0.9M237 58.5h0.9M227.5 55.5h0.9M234.5 60.5h0.9M232 69h0.9M234.5 57h0.9M232 68h0.9M236 47h0.9M238.5 57h0.9M235.5 66.5h0.9M233.5 61h0.9M228 78h0.9M234.5 76.5h0.9M237.5 43.5h0.9M240 64.5h0.9M235.5 63.5h0.9M236.5 68.5h0.9M228 72.5h0.9M234.5 58.5h0.9M239.5 72.5h0.9M237 45.5h0.9M235 68h0.9M237 51.5h0.9M234.5 51h0.9M234.5 71h0.9M239.5 56.5h0.9M235 68.5h0.9M234 61.5h0.9M242 66h0.9M239 59.5h0.9M238 47h0.9M233 74h0.9M240 75.5h0.9M237.5 64h0.9M238.5 56h0.9M240 54.5h0.9M231 52.5h0.9M232 49h0.9M239 62h0.9M234 74h0.9M240 59h0.9M239 67.5h0.9M232 55h0.9M234 68.5h0.9M236 77h0.9M235.5 75.5h0.9M234.5 60h0.9M236.5 60.5h0.9M231 78h0.9M236 54h0.9M234 80.5h0.9M233.5 74.5h0.9M234.5 58h0.9M233 61.5h0.9M243 53h0.9M242 54.5h0.9M233 70.5h0.9M237 66h0.9M229 65.5h0.9M227.5 86.5h0.9M232.5 58h0.9M229.5 71.5h0.9M233.5 68h0.9M234 58h0.9M241 54.5h0.9M228.5 66h0.9M232 58h0.9M239.5 56h0.9M239 57h0.9M238 76.5h0.9M234 60.5h0.9M232 64.5h0.9M241.5 50h0.9M240.5 51h0.9M235.5 46h0.9M242 65h0.9M237 57h0.9M242 44h0.9M231.5 83.5h0.9M234 63h0.9M235 66.5h0.9M233.5 66h0.9M233 76.5h0.9M238 61h0.9M226 68.5h0.9M239 55h0.9M230.5 51h0.9M233.5 65h0.9M239 63.5h0.9M236 58h0.9M238.5 74h0.9M237 50h0.9M231.5 68h0.9M231.5 71h0.9M236 66h0.9M236.5 68h0.9M233 59.5h0.9M245 53h0.9M232 72.5h0.9M236 55.5h0.9M230 67.5h0.9M236 76.5h0.9M233.5 73h0.9M231.5 64h0.9M232.5 64h0.9M236 73.5h0.9M230 74.5h0.9M237 49h0.9M234.5 65.5h0.9M230.5 62.5h0.9M233 58.5h0.9M234.5 64.5h0.9M232.5 47.5h0.9M233.5 67.5h0.9M235 71.5h0.9M238.5 68.5h0.9M237 53.5h0.9M233 58h0.9M235.5 65h0.9M235.5 61.5h0.9M235.5 66h0.9M235 53h0.9M244 57h0.9M234 65.5h0.9M231.5 63.5h0.9M239.5 73h0.9M236.5 69h0.9M234 72h0.9M235 69.5h0.9M226.5 73h0.9M240.5 77h0.9M237.5 54h0.9M238.5 58.5h0.9M228 64.5h0.9M235.5 49.5h0.9M233.5 60.5h0.9M241 49.5h0.9M235.5 82.5h0.9M236 68.5h0.9M237 52h0.9M236.5 67h0.9M233.5 87.5h0.9M237 67.5h0.9M242.5 51.5h0.9M232 59h0.9M231.5 79h0.9M239 71h0.9M233 68.5h0.9M239.5 53.5h0.9M233.5 78h0.9M240.5 56h0.9M237 55.5h0.9M238.5 55h0.9M237.5 67h0.9M238.5 62h0.9M227.5 78.5h0.9M232.5 76h0.9M235.5 69.5h0.9M240.5 67h0.9M242 50h0.9M234.5 63h0.9M233.5 78.5h0.9M229 62.5h0.9M231 73.5h0.9M233 67h0.9M233 69h0.9M239 60h0.9M235 71h0.9M231.5 73h0.9M231.5 44.5h0.9M231.5 57.5h0.9M235.5 62.5h0.9M234 69.5h0.9M236 51h0.9M227.5 82h0.9M228 60h0.9M239 68.5h0.9M232.5 62.5h0.9M236 75h0.9M231 69.5h0.9M234 73.5h0.9M230 66h0.9M240 70.5h0.9M232 85.5h0.9M230.5 71h0.9M233.5 63h0.9M233 77h0.9M233 57.5h0.9M229 66.5h0.9M232.5 59h0.9M236.5 48h0.9M238 65h0.9M241.5 44.5h0.9M233.5 42h0.9M237 63h0.9M234.5 70h0.9M233.5 66.5h0.9M239.5 42.5h0.9M231.5 75.5h0.9M239.5 61h0.9M237 33.5h0.9M236.5 44.5h0.9M228 69.5h0.9M240.5 45.5h0.9M237 68h0.9M231.5 69.5h0.9M232 51h0.9M232.5 52h0.9M233 53.5h0.9M236.5 60h0.9M232 57.5h0.9M237 54.5h0.9M233 80h0.9M233 63h0.9M240.5 57.5h0.9M234 52h0.9M235.5 68h0.9M238 71.5h0.9M230.5 62h0.9M234.5 69.5h0.9M235.5 56.5h0.9M236.5 46h0.9M236 57h0.9M238.5 53.5h0.9M230.5 68.5h0.9M231.5 63h0.9M230.5 57h0.9M236 61h0.9M237.5 65h0.9M235.5 70h0.9M235.5 60h0.9M237 59h0.9M234.5 73h0.9M238.5 59.5h0.9M231 61.5h0.9M233 73h0.9M232 78.5h0.9M239 69.5h0.9M237 63.5h0.9M235.5 61h0.9M234 76h0.9M239 47.5h0.9M234.5 47h0.9M231.5 67.5h0.9M237.5 57h0.9M233 48.5h0.9M230 75.5h0.9M228.5 73.5h0.9M239.5 61.5h0.9M238.5 66.5h0.9M236.5 62h0.9M238 52.5h0.9M236 64.5h0.9M229 82h0.9M233.5 54h0.9M239 44.5h0.9M235 48h0.9M232 60.5h0.9M236 74h0.9M238 58.5h0.9M239.5 58.5h0.9M230.5 76.5h0.9M236 71h0.9M231 61h0.9M231 63h0.9M230.5 75h0.9M238 55h0.9M237 51h0.9M230 66.5h0.9M235.5 69h0.9M233 64h0.9M233.5 48.5h0.9M237 62h0.9M231.5 53.5h0.9M232.5 77h0.9M237 70.5h0.9M229.5 60.5h0.9M236 66.5h0.9M237 60.5h0.9M238.5 77h0.9M242.5 58.5h0.9M236 81h0.9M231.5 64.5h0.9M233 81h0.9M237 62.5h0.9M239 60.5h0.9M230 83h0.9M237 52.5h0.9M226.5 71h0.9M233.5 57h0.9M241.5 70.5h0.9M238 60.5h0.9M235.5 48h0.9M239.5 50h0.9M232.5 64.5h0.9M238 65.5h0.9M241 45.5h0.9M238 54h0.9M231 62h0.9M233 67.5h0.9M242.5 41.5h0.9M231.5 80.5h0.9M235.5 76.5h0.9M238 49h0.9M230 58h0.9M237 84h0.9M231.5 79.5h0.9M234.5 54.5h0.9M226.5 70h0.9M230 84h0.9M239.5 57.5h0.9M235 66h0.9M238 64h0.9M241 61h0.9M234 57.5h0.9M228 53.5h0.9M232 65.5h0.9M229 58.5h0.9M231 70.5h0.9M242 59.5h0.9M240 48.5h0.9M227.5 67h0.9M235 64.5h0.9M233.5 59.5h0.9M235 79h0.9M237 47h0.9M238.5 69h0.9M242.5 64.5h0.9M240 45.5h0.9M234.5 55.5h0.9M230 78.5h0.9M232.5 57.5h0.9M238 51h0.9M231 80h0.9M235 65h0.9M235 46.5h0.9M233.5 59h0.9M232.5 69.5h0.9M229 50.5h0.9M227 74h0.9M230 70.5h0.9M233.5 64.5h0.9M226.5 72.5h0.9M233.5 69h0.9M236 71.5h0.9M232 80h0.9M230.5 59.5h0.9M241.5 59.5h0.9M227.5 74.5h0.9M239 51.5h0.9M231 60.5h0.9M233 49.5h0.9M232 77h0.9M240 52h0.9M233.5 65.5h0.9M232 61h0.9M230 72h0.9M231 54h0.9M238.5 73.5h0.9M234 57h0.9M235.5 68.5h0.9M232.5 65.5h0.9M237.5 76h0.9M234 59h0.9M236.5 80h0.9M231 57.5h0.9M230 84.5h0.9M237 61.5h0.9M232.5 72.5h0.9M239 53h0.9M235 50h0.9M232 55.5h0.9M231 67h0.9M230 69.5h0.9M231.5 43h0.9M232 57h0.9M238 55.5h0.9M235 49h0.9M230 70h0.9M238.5 52h0.9M239 52h0.9M238 42.5h0.9M230.5 66h0.9M235 57h0.9M237.5 70.5h0.9M228.5 71h0.9M236.5 61.5h0.9M236 67.5h0.9M239.5 59.5h0.9M235 60h0.9M233 62.5h0.9M232 84h0.9M227.5 71h0.9M237.5 56.5h0.9M228 74h0.9M231.5 76.5h0.9M234.5 74.5h0.9M235 73h0.9M236.5 55h0.9M236 69.5h0.9M245.5 45h0.9M231.5 60h0.9M239.5 77h0.9M237.5 64.5h0.9M228 58h0.9M241 57.5h0.9M229 75.5h0.9M228.5 53.5h0.9M237 59.5h0.9M238 62h0.9M230 82.5h0.9M234.5 61h0.9M233 55h0.9M236.5 56h0.9M240 47h0.9M234.5 55h0.9M240 71h0.9M239 64h0.9M235 85.5h0.9M234 65h0.9M241 30h0.9M238 58h0.9M237 75.5h0.9M231.5 76h0.9M240 68.5h0.9M229.5 76h0.9M235.5 59.5h0.9M237.5 71h0.9M238 69h0.9M233 61h0.9M245 62.5h0.9M231.5 73.5h0.9M237.5 63h0.9M233.5 67h0.9M236.5 70.5h0.9M226.5 53h0.9M233 60.5h0.9M234.5 71.5h0.9M237.5 62h0.9M232.5 79.5h0.9M239.5 67h0.9M228 65.5h0.9M238 68h0.9M233 71h0.9M236.5 64h0.9M235 58.5h0.9M237 54h0.9M229 74.5h0.9M234.5 62.5h0.9M231 71.5h0.9M231 72.5h0.9M230.5 52h0.9M232.5 66h0.9M228.5 57.5h0.9M232 67.5h0.9M239.5 55.5h0.9M241.5 58.5h0.9M232.5 39.5h0.9M240.5 63h0.9M229.5 75h0.9M232 79.5h0.9M238.5 41h0.9M238.5 60h0.9M232 77.5h0.9M232.5 73.5h0.9M238 57.5h0.9M237.5 72.5h0.9M234.5 68.5h0.9M238.5 61.5h0.9M239 54.5h0.9M235 67h0.9M233.5 58.5h0.9M232 66.5h0.9M239.5 67.5h0.9M230 63.5h0.9M239 61h0.9M238 69.5h0.9M237 61h0.9M234.5 68h0.9M231 55h0.9M231.5 69h0.9M239 48h0.9M241.5 60h0.9M234 63.5h0.9M240 66h0.9M229.5 78.5h0.9M237.5 58.5h0.9M241.5 70h0.9M236.5 74.5h0.9M235 75h0.9M242 52.5h0.9M235 54h0.9M239 54h0.9M233.5 62h0.9M239 46.5h0.9M237 67h0.9M238.5 54.5h0.9M236 64h0.9M232.5 80h0.9M240.5 57h0.9M230.5 79h0.9M232 76h0.9M241.5 59h0.9M234 64h0.9M234 53.5h0.9M234 61h0.9M236 50h0.9M244 42h0.9M229.5 68h0.9M237.5 53h0.9M233.5 76h0.9M234.5 76h0.9M239.5 52.5h0.9M228.5 75h0.9M232 63.5h0.9M239 43.5h0.9M241.5 53.5h0.9M229.5 53h0.9M228.5 83.5h0.9M234 82h0.9M231 69h0.9M231 68h0.9M233.5 51.5h0.9M231.5 55.5h0.9M234.5 49h0.9M231.5 70.5h0.9M237 70h0.9M231.5 81.5h0.9M237 48.5h0.9M236.5 44h0.9M240 78.5h0.9M236.5 75.5h0.9M237 72.5h0.9M231.5 66.5h0.9M235.5 51.5h0.9M231 66.5h0.9M238.5 78h0.9M236 52.5h0.9M239.5 44h0.9M233.5 74h0.9M235 70.5h0.9M234.5 62h0.9M236.5 79h0.9M238 56h0.9M239 67h0.9M237.5 66h0.9M241 62.5h0.9M238.5 75.5h0.9M236 55h0.9M236 54.5h0.9M235.5 71h0.9M224.5 64h0.9M229 63.5h0.9M242.5 48h0.9M236 62.5h0.9M228 68h0.9M236 58.5h0.9M227.5 92.5h0.9M237 46h0.9M233 59h0.9M234 62h0.9M231 67.5h0.9M232.5 82h0.9M232.5 67h0.9M235.5 64.5h0.9M244.5 54h0.9M234.5 69h0.9M234 62.5h0.9M230.5 69.5h0.9M238 80h0.9M241.5 57h0.9M230.5 70.5h0.9M241.5 51h0.9M234 59.5h0.9M233 52h0.9M229.5 77.5h0.9M242 48.5h0.9M233 68h0.9M230.5 41h0.9M229.5 72h0.9M237.5 47h0.9M232 65h0.9M237.5 68h0.9M240.5 49h0.9M234 54.5h0.9M229.5 59.5h0.9M234 83h0.9M229 64.5h0.9M233 46h0.9M241.5 63.5h0.9M236.5 52.5h0.9M238 67h0.9M240 46h0.9M234.5 59h0.9M238.5 78.5h0.9M243 53.5h0.9M232.5 55.5h0.9M226.5 79.5h0.9M236.5 59h0.9M231 74h0.9M235 54.5h0.9M239.5 62.5h0.9M237.5 59.5h0.9M227 67h0.9M229 72.5h0.9M233 44.5h0.9M237.5 51.5h0.9M240.5 50h0.9M235 55.5h0.9M240.5 47.5h0.9M232 58.5h0.9M233 65.5h0.9M227.5 68.5h0.9M233.5 70h0.9M229.5 52h0.9M239.5 49h0.9M239.5 52h0.9M242.5 55h0.9M237 74.5h0.9M235 65.5h0.9M226.5 56h0.9M244 47.5h0.9M234.5 78.5h0.9M229.5 62.5h0.9M240 51h0.9M232 80.5h0.9M227 60.5h0.9M230 92h0.9M237.5 65.5h0.9M231.5 61h0.9M237.5 59h0.9M239 78.5h0.9M233.5 71.5h0.9M235.5 49h0.9M236.5 65.5h0.9M233.5 70.5h0.9M230.5 54.5h0.9M237 80.5h0.9M236 62h0.9M230.5 65.5h0.9M240 49.5h0.9M236 68h0.9M238.5 52.5h0.9M239.5 49.5h0.9M240 65h0.9M229 75h0.9M240 57.5h0.9M244 55h0.9M226 71h0.9M235 63h0.9M231 65.5h0.9M236 51.5h0.9M234 70.5h0.9M238.5 60.5h0.9M236.5 70h0.9M237 43.5h0.9M240.5 73h0.9M235 53.5h0.9M229 60h0.9M229 66h0.9M232 67h0.9M236.5 48.5h0.9M236.5 71.5h0.9M231.5 85.5h0.9M228.5 64.5h0.9M229.5 64.5h0.9M240 67.5h0.9M228.5 62.5h0.9M234 69h0.9M233.5 58h0.9M229 63h0.9M240 65.5h0.9M241 56.5h0.9M236.5 63h0.9M235.5 48.5h0.9M229.5 63h0.9M237.5 41.5h0.9M235.5 62h0.9M229 82.5h0.9M239.5 69.5h0.9M233 55.5h0.9M235.5 72h0.9M235.5 78.5h0.9M234.5 80.5h0.9M239.5 55h0.9M239 56.5h0.9M235.5 81.5h0.9M237.5 73h0.9M236.5 76h0.9M233 69.5h0.9M236.5 51.5h0.9M238.5 58h0.9M237.5 48h0.9M231 43.5h0.9M243 47h0.9M234.5 77h0.9M242 70h0.9M236 50.5h0.9M227 84h0.9M233.5 62.5h0.9M233.5 49h0.9M240 74h0.9M240.5 68.5h0.9M237 50.5h0.9M239 43h0.9M231.5 78h0.9M236 82.5h0.9M231 63.5h0.9M231.5 61.5h0.9M228 71h0.9M232.5 60h0.9M234.5 57.5h0.9M234.5 46h0.9M240.5 66.5h0.9M232.5 83h0.9M236.5 66.5h0.9M234 66h0.9M242.5 44.5h0.9M237.5 44.5h0.9M239 56h0.9M235.5 58.5h0.9M231 53.5h0.9M241.5 68.5h0.9M232.5 57h0.9M233.5 61.5h0.9M240.5 64.5h0.9M235 74h0.9M224.5 64.5h0.9M238 47.5h0.9M230.5 56.5h0.9M236.5 75h0.9M239.5 54h0.9M245.5 54h0.9M237.5 50h0.9M238 64.5h0.9M227.5 71.5h0.9M234.5 66h0.9M239.5 68.5h0.9M234.5 70.5h0.9M227.5 74h0.9M229.5 70.5h0.9M237 71.5h0.9M238.5 49h0.9M240.5 68h0.9M233 74.5h0.9M238.5 49.5h0.9M233.5 77h0.9M229 58h0.9M243 33h0.9M238.5 48.5h0.9M233 65h0.9M236.5 53.5h0.9M241 54h0.9M231 64h0.9M244 51h0.9M237 64h0.9M232.5 73h0.9M242.5 52.5h0.9M238.5 67.5h0.9M238 67.5h0.9M243.5 58.5h0.9M229.5 69.5h0.9M228 76.5h0.9M235 67.5h0.9M233 73.5h0.9M237 76.5h0.9M229 69h0.9M234.5 59.5h0.9M235.5 54.5h0.9M237 72h0.9M244.5 41.5h0.9M234 66.5h0.9M235 72h0.9M241 66h0.9M240.5 62.5h0.9M240 55.5h0.9M232.5 85.5h0.9M228.5 74.5h0.9M242 47h0.9" stroke="#000" stroke-opacity="0.7" stroke-width="0.9" fill="none"/>
<path d="M232 45.5h0.9M241 55h0.9M233 69.5h0.9M235.5 63.5h0.9M231 75h0.9M227 82.5h0.9M236.5 49h0.9M237 67h0.9M226 61h0.9M232 47.5h0.9M241.5 49h0.9M238.5 55h0.9M244.5 60.5h0.9M233.5 44h0.9M231 61h0.9M233 73.5h0.9M236 62h0.9M237.5 58.5h0.9M234.5 71h0.9M240.5 53.5h0.9M230 47h0.9M244 26h0.9M232 65.5h0.9M236.5 44h0.9M239.5 80.5h0.9M230.5 78h0.9M244.5 45.5h0.9M250.5 49.5h0.9M237.5 44.5h0.9M240 42h0.9M232.5 74.5h0.9M237.5 56.5h0.9M245 49h0.9M241 56.5h0.9M236.5 60.5h0.9M236.5 59h0.9M233.5 51h0.9M238 58.5h0.9M232.5 49h0.9M232.5 58.5h0.9M236 61h0.9M232.5 59.5h0.9M240 37h0.9M235 42h0.9M242 43.5h0.9M238 53h0.9M234.5 36.5h0.9M236.5 65h0.9M233.5 85h0.9M236 63.5h0.9M234.5 60.5h0.9M236.5 46.5h0.9M250 35.5h0.9M235.5 65.5h0.9M239 46h0.9M236 52.5h0.9M231 57.5h0.9M235.5 51h0.9M241.5 45h0.9M239.5 51h0.9M237 60.5h0.9M239.5 46h0.9M234.5 46.5h0.9M234 69.5h0.9M242 53h0.9M240.5 37h0.9M228 45h0.9M237 37h0.9M226 64.5h0.9M237 35h0.9M245.5 63.5h0.9M232 67.5h0.9M227.5 79.5h0.9M232.5 39.5h0.9M237 48h0.9M246.5 38h0.9M231.5 61h0.9M235 73h0.9M230.5 89h0.9M233 60.5h0.9M240 55h0.9M235.5 52h0.9M236 42.5h0.9M237.5 37h0.9M242 37h0.9M240 83.5h0.9M229.5 74.5h0.9M234.5 66h0.9M229 72h0.9M231.5 59h0.9M229.5 47.5h0.9M239 52.5h0.9M231 68.5h0.9M231.5 75h0.9M223 63.5h0.9M242 37.5h0.9M227 69h0.9M232.5 48.5h0.9M239 54.5h0.9M240 47h0.9M233.5 73.5h0.9M243 28.5h0.9M238 59.5h0.9M227.5 76.5h0.9M222 82h0.9M228 79h0.9M239 40h0.9M235 63h0.9M230 64h0.9M239.5 55h0.9M234 44.5h0.9M236.5 70h0.9M235.5 39h0.9M245.5 38h0.9M238.5 47.5h0.9M227 58h0.9M230.5 77.5h0.9M246 58h0.9M237 73.5h0.9M235.5 46h0.9M243.5 54.5h0.9M236 54h0.9M236.5 50h0.9M235 76h0.9M237.5 39h0.9M240 38h0.9M229 74.5h0.9M244.5 65.5h0.9M228.5 68h0.9M227.5 46.5h0.9M240 70h0.9M234 34h0.9M239.5 58.5h0.9M231.5 63h0.9M238.5 31.5h0.9M241 50h0.9M235 39h0.9M239 47.5h0.9M239 55h0.9M241.5 54h0.9M238 30.5h0.9M228.5 67h0.9M252.5 44h0.9M230 62h0.9M239.5 49.5h0.9M240.5 36.5h0.9M231.5 70h0.9M243 57.5h0.9M233 64h0.9M239 66h0.9M231 62.5h0.9M242 49.5h0.9M228 64h0.9M234.5 71.5h0.9M237.5 49.5h0.9M233 49.5h0.9M230 73h0.9M230 56.5h0.9M228.5 78h0.9M237.5 53.5h0.9M239 60h0.9M229 78.5h0.9M233.5 82.5h0.9M238.5 70h0.9M239 43.5h0.9M238.5 60h0.9M238.5 59h0.9M235.5 44h0.9M235 76.5h0.9M233 64.5h0.9M244 48.5h0.9M237 43h0.9M240 63h0.9M238 35.5h0.9M231.5 72h0.9M235.5 52.5h0.9M242 42h0.9M234 66.5h0.9M237 57.5h0.9M234 61h0.9M231 64h0.9M236.5 78h0.9M228.5 72.5h0.9M239 59h0.9M235 70h0.9M246.5 46h0.9M238.5 57h0.9M231 74h0.9M242 45.5h0.9M233.5 61.5h0.9M226.5 69h0.9M231.5 83.5h0.9M236.5 53.5h0.9M244.5 53.5h0.9M237 39h0.9M239.5 63.5h0.9M237 61.5h0.9M230.5 63.5h0.9M231.5 81h0.9M233.5 51.5h0.9M227 76.5h0.9M227.5 68h0.9M242.5 58h0.9M245 30.5h0.9M238.5 36h0.9M236 59h0.9M229.5 70.5h0.9M238.5 52h0.9M237.5 38h0.9M228.5 87h0.9M231 63.5h0.9M230.5 69h0.9M238 56h0.9M229 50h0.9M241.5 56.5h0.9M239.5 52.5h0.9M226 62.5h0.9M238.5 51h0.9M233 62h0.9M232 63h0.9M241.5 26.5h0.9M236.5 50.5h0.9M231.5 65.5h0.9M240 61.5h0.9M230.5 47.5h0.9M240.5 56h0.9M232 56.5h0.9M237 62.5h0.9M240.5 48h0.9M235 55h0.9M241.5 30.5h0.9M238.5 40.5h0.9M237 81h0.9M240.5 71.5h0.9M230.5 71h0.9M233 67h0.9M233 50h0.9M232.5 83h0.9M229 89h0.9M251.5 44h0.9M238 46h0.9M236.5 51.5h0.9M232.5 71.5h0.9M239 63h0.9M235 60.5h0.9M234.5 66.5h0.9M234 65.5h0.9M227.5 68.5h0.9M242.5 63h0.9M225.5 75.5h0.9M233.5 76h0.9M238 61h0.9M230 42h0.9M234.5 68h0.9M232.5 49.5h0.9M243 33.5h0.9M227.5 54h0.9M238 52.5h0.9M225 57h0.9M227.5 66.5h0.9M234.5 62.5h0.9M240 52.5h0.9M235.5 76.5h0.9M233.5 77h0.9M230 70.5h0.9M239.5 45.5h0.9M233 59.5h0.9M241 55.5h0.9M240.5 39h0.9M237.5 66h0.9M236 45h0.9M239 40.5h0.9M227.5 70.5h0.9M226 82.5h0.9M228 63.5h0.9M230 60h0.9M230.5 58.5h0.9M233.5 80h0.9M230.5 70.5h0.9M236 58.5h0.9M251.5 31.5h0.9M237.5 33.5h0.9M234.5 55.5h0.9M251.5 67h0.9M239.5 78h0.9M232 65h0.9M235 66h0.9M231 46.5h0.9M235.5 66.5h0.9M232.5 53.5h0.9M235.5 56.5h0.9M238.5 61h0.9M240.5 40h0.9M227.5 61h0.9M235 47h0.9M240.5 50h0.9M233.5 49h0.9M228 96h0.9M226 56.5h0.9M231.5 71.5h0.9M241 25h0.9M244.5 45h0.9M232 51h0.9M237 71h0.9M231.5 65h0.9M233.5 60h0.9M234.5 67h0.9M233 56.5h0.9M236 60h0.9M227 81.5h0.9M233 75.5h0.9M220 84.5h0.9M238 41.5h0.9M229.5 89.5h0.9M241.5 42.5h0.9M229.5 76.5h0.9M229.5 55h0.9M228 88h0.9M230.5 76h0.9M234.5 47h0.9M238 68h0.9M226 65.5h0.9M240 51h0.9M235.5 62.5h0.9M235 50h0.9M233 54h0.9M229.5 56.5h0.9M228.5 58h0.9M238 44.5h0.9M233.5 85.5h0.9M245.5 41h0.9M240.5 62.5h0.9M237 50.5h0.9M231.5 77.5h0.9M239 53.5h0.9M233.5 52h0.9M232.5 84.5h0.9M230.5 57.5h0.9M236 48h0.9M232 43h0.9M240 64h0.9M239 52h0.9M232.5 64.5h0.9M236.5 43h0.9M233 71h0.9M228 72h0.9M241 47.5h0.9M235.5 58h0.9M236.5 68h0.9M233.5 39h0.9M239.5 61h0.9M236.5 63.5h0.9M245.5 43.5h0.9M242.5 48.5h0.9M235 77.5h0.9M228 62.5h0.9M235 54.5h0.9M238.5 44.5h0.9M229.5 66.5h0.9M241 51.5h0.9M222.5 88.5h0.9M239.5 64.5h0.9M242 62h0.9M240 45h0.9M233.5 47h0.9M237.5 55h0.9M233.5 62.5h0.9M232 79h0.9M231 78h0.9M233 58.5h0.9M232.5 63.5h0.9M239 48h0.9M231.5 71h0.9M237.5 72h0.9M231 70.5h0.9M230.5 56.5h0.9M228.5 51.5h0.9M236 41.5h0.9M240 49h0.9M234.5 54.5h0.9M228 77h0.9M232.5 60.5h0.9M231 51h0.9M235 54h0.9M232.5 60h0.9M236 53h0.9M242 82.5h0.9M236 68.5h0.9M232.5 56h0.9M236 60.5h0.9M234 47.5h0.9M237 63h0.9M226 58h0.9M243 51h0.9M242.5 44.5h0.9M231 53h0.9M247.5 52.5h0.9M228.5 63.5h0.9M234.5 36h0.9M233 63.5h0.9M234 73.5h0.9M231 46h0.9M232.5 69.5h0.9M228.5 69.5h0.9M232 96h0.9M230 80h0.9M231.5 50h0.9M234 51.5h0.9M233 50.5h0.9M236.5 52.5h0.9M238.5 58h0.9M231 78.5h0.9M236.5 61h0.9M235 59.5h0.9M240.5 48.5h0.9M236 80.5h0.9M229.5 51h0.9M234 70h0.9M235.5 54.5h0.9M244 51h0.9M237.5 71.5h0.9M229 61h0.9M235.5 45.5h0.9M232 36h0.9M238.5 54h0.9M239.5 44.5h0.9M233.5 35h0.9M237 61h0.9M231.5 56.5h0.9M233 84h0.9M230 66h0.9M244.5 61.5h0.9M249.5 25.5h0.9M242 60h0.9M225 67.5h0.9M236.5 76h0.9M241 59.5h0.9M234 64h0.9M233 59h0.9M238.5 64h0.9M239.5 89.5h0.9M232 50h0.9M233 41.5h0.9M240.5 46h0.9M231.5 54h0.9M240 54.5h0.9M231.5 70.5h0.9M236 65h0.9M242.5 46h0.9M238 50h0.9M237.5 70.5h0.9M227 75.5h0.9M227 73h0.9M239 47h0.9M231.5 53.5h0.9M237.5 49h0.9M242 40h0.9M235.5 58.5h0.9M226.5 61h0.9M233.5 55h0.9M241 53h0.9M238 79.5h0.9M236.5 77.5h0.9M238.5 51.5h0.9M235.5 72h0.9M237 55.5h0.9M226.5 66h0.9M240.5 41.5h0.9M234 68.5h0.9M232.5 69h0.9M243 39.5h0.9M232.5 65h0.9M235.5 78.5h0.9M227 56h0.9M245.5 47.5h0.9M237 44h0.9M243 41.5h0.9M238 72.5h0.9M244 29.5h0.9M230.5 68h0.9M230 54h0.9M232.5 70.5h0.9M236 62.5h0.9M233.5 58h0.9M233 68.5h0.9M231.5 72.5h0.9M224.5 73h0.9M231.5 73.5h0.9M233.5 70h0.9M243.5 52.5h0.9M236.5 56.5h0.9M241 37h0.9M235.5 55h0.9M232.5 55h0.9M224.5 76h0.9M232 84.5h0.9M241.5 36h0.9M238.5 49h0.9M233 61.5h0.9M230.5 83.5h0.9M242 41.5h0.9M243.5 41.5h0.9M239.5 41.5h0.9M228 75.5h0.9M235 49h0.9M234 53.5h0.9M245 44h0.9M228.5 65h0.9M229.5 52h0.9M240.5 59.5h0.9M235.5 48.5h0.9M232.5 75.5h0.9M241.5 51.5h0.9M230 67h0.9M228.5 50.5h0.9M230.5 44.5h0.9M226 71.5h0.9M228 72.5h0.9M236.5 57h0.9M238 59h0.9M229.5 67.5h0.9M227 65.5h0.9M230.5 62.5h0.9M240 67h0.9M233 57h0.9M237 42h0.9M243 34.5h0.9M233.5 64.5h0.9M243.5 42.5h0.9M225.5 59.5h0.9M233 53h0.9M229 58h0.9M232.5 50.5h0.9M235 58.5h0.9M234.5 58.5h0.9M234 77.5h0.9M231 47.5h0.9M234 70.5h0.9M234.5 75.5h0.9M234 63h0.9M239 67h0.9M241 53.5h0.9M243 44.5h0.9M229 66.5h0.9M224 77h0.9M238 58h0.9M241 61.5h0.9M229.5 52.5h0.9M239.5 66.5h0.9" stroke="#000" stroke-opacity="0.45" stroke-width="0.9" fill="none"/>
<ellipse cx="206.6" cy="86.4" rx="8.6" ry="8.6" transform="rotate(0 206.6 86.4)" fill="#999"/>
<ellipse cx="206.6" cy="86.4" rx="7.6" ry="7.6" transform="rotate(0 206.6 86.4)" fill="#333"/>
<ellipse cx="206.6" cy="86.4" rx="6.5" ry="6.5" transform="rotate(0 206.6 86.4)" fill="#111"/>
<ellipse cx="206.6" cy="86.4" rx="5.2" ry="5.2" transform="rotate(0 206.6 86.4)" fill="#666"/>
<ellipse cx="206.6" cy="86.4" rx="3.9" ry="3.9" transform="rotate(0 206.6 86.4)" fill="#111"/>
<ellipse cx="206.6" cy="86.4" rx="1" ry="1" transform="rotate(0 206.6 86.4)" fill="#fff"/>
<ellipse cx="234.8" cy="63.5" rx="4.5" ry="9.5" transform="rotate(3 234.8 63.5)" fill="#000"/>
<ellipse cx="234.8" cy="63.5" rx="3.4" ry="7.1" transform="rotate(3 234.8 63.5)" fill="#fff"/>
<ellipse cx="234.8" cy="63.5" rx="1.6" ry="4.5" transform="rotate(3 234.8 63.5)" fill="none" stroke="#999" stroke-width="0.6"/>
<path d="M191.1 92.40h-3M191.1 86.38h-1.9M191.1 82.86h-1.9M191.1 80.36h-1.9M191.1 78.42h-1.9M191.1 76.84h-1.9M191.1 75.50h-1.9M191.1 74.34h-1.9M191.1 73.32h-1.9M191.1 72.40h-3M191.1 66.38h-1.9M191.1 62.86h-1.9M191.1 60.36h-1.9M191.1 58.42h-1.9M191.1 56.84h-1.9M191.1 55.50h-1.9M191.1 54.34h-1.9M191.1 53.32h-1.9M191.1 52.40h-3M191.1 46.38h-1.9M191.1 42.86h-1.9M191.1 40.36h-1.9M191.1 38.42h-1.9M191.1 36.84h-1.9M191.1 35.50h-1.9M191.1 34.34h-1.9M191.1 33.32h-1.9M191.1 32.40h-3M191.1 26.38h-1.9" stroke="#000" stroke-width="0.75" fill="none"/>
<path d="M201.60 100.4v3M207.62 100.4v1.9M211.14 100.4v1.9M213.64 100.4v1.9M215.58 100.4v1.9M217.16 100.4v1.9M218.50 100.4v1.9M219.66 100.4v1.9M220.68 100.4v1.9M221.60 100.4v3M227.62 100.4v1.9M231.14 100.4v1.9M233.64 100.4v1.9M235.58 100.4v1.9M237.16 100.4v1.9M238.50 100.4v1.9M239.66 100.4v1.9M240.68 100.4v1.9M241.60 100.4v3M247.62 100.4v1.9M251.14 100.4v1.9M253.64 100.4v1.9M255.58 100.4v1.9M257.16 100.4v1.9M258.50 100.4v1.9M259.66 100.4v1.9M260.68 100.4v1.9M261.60 100.4v3M267.62 100.4v1.9" stroke="#000" stroke-width="0.75" fill="none"/>
<line x1="216.9" y1="23" x2="216.9" y2="100.4" stroke="#4a4ac4" stroke-width="1"/>
<line x1="191.1" y1="76.7" x2="268.2" y2="76.7" stroke="#4a4ac4" stroke-width="1"/>
<rect x="191.1" y="23" width="77.1" height="77.4" fill="none" stroke="#111" stroke-width="1.3"/>
<path d="M62 142h0.9M47 121.5h0.9M67 130.5h0.9M64 160.5h0.9M58.5 137h0.9M56 125h0.9M60.5 113.5h0.9M42.5 152.5h0.9M60 149h0.9M62 135.5h0.9M67 143.5h0.9M50.5 150h0.9M52.5 136.5h0.9M83.5 134.5h0.9M76 129h0.9M66.5 134.5h0.9M65 122h0.9M53 138h0.9M47.5 122h0.9M67 125h0.9M53.5 118.5h0.9M62.5 128.5h0.9M62.5 131h0.9M77.5 127.5h0.9M44 135h0.9M61 136h0.9M47 149h0.9M61 133h0.9M47 140h0.9M60.5 152h0.9M57.5 117h0.9M62 121h0.9M65 119h0.9M60 130.5h0.9M61 126.5h0.9M54 133h0.9M56 135.5h0.9M60.5 152.5h0.9M64 142h0.9M65 127.5h0.9M49.5 144.5h0.9M70.5 141.5h0.9M65 139h0.9M61 137.5h0.9M61 138h0.9M53 125h0.9M66 129h0.9M40 135.5h0.9M41.5 159.5h0.9M67.5 142.5h0.9M55.5 118.5h0.9M59.5 134h0.9M54.5 136h0.9M67 142h0.9M61 125h0.9M65 156h0.9M75.5 137.5h0.9M71 156h0.9M61.5 137.5h0.9M68.5 133.5h0.9M57 123.5h0.9M61.5 125.5h0.9M68 129.5h0.9M74 150h0.9M50.5 148.5h0.9M58 152h0.9M65.5 133.5h0.9M67 126.5h0.9M64 139h0.9M60 139h0.9M52.5 141.5h0.9M51 142.5h0.9M65.5 143.5h0.9M56.5 174.5h0.9M59.5 136h0.9M55 153h0.9M57.5 147.5h0.9M53.5 138.5h0.9M58.5 146.5h0.9M59 122.5h0.9M65.5 118.5h0.9M53.5 144.5h0.9M45.5 144.5h0.9M58 122h0.9M63.5 142.5h0.9M56.5 132h0.9M68.5 144.5h0.9M61 124h0.9M53.5 126.5h0.9M67.5 142h0.9M64 153h0.9M59 129.5h0.9M58.5 160h0.9M44 138.5h0.9M65.5 135.5h0.9M81.5 150h0.9M68.5 122.5h0.9M66 129.5h0.9" stroke="#333" stroke-opacity="0.18" stroke-width="0.9" fill="none"/>
<path d="M54 159h0.9M51 161.5h0.9M66 161h0.9M54 150h0.9M62 162h0.9M52 156.5h0.9M58 154.5h0.9M59 153h0.9M47.5 159.5h0.9M43.5 160h0.9M57 152.5h0.9M60 155h0.9M58 159h0.9M50.5 156.5h0.9M41.5 157h0.9M49.5 166h0.9M60 151.5h0.9M59.5 158.5h0.9M51.5 161h0.9M59 155.5h0.9M52 159.5h0.9M47 160h0.9M53 155.5h0.9M48.5 160.5h0.9M60.5 159h0.9M48.5 162.5h0.9M55.5 161h0.9M61.5 153.5h0.9M52.5 156h0.9M49 167.5h0.9M59.5 150h0.9M56.5 156h0.9M62 157.5h0.9M53 159.5h0.9M56.5 158h0.9M52.5 158h0.9M57 153.5h0.9M54 158h0.9M51 162h0.9M45 158h0.9M48.5 161.5h0.9M51 159h0.9M55.5 151.5h0.9M56.5 155h0.9M52 158.5h0.9M60 161h0.9M66.5 157.5h0.9M50.5 157h0.9M59.5 164.5h0.9M56 156h0.9M56 159.5h0.9M54 155.5h0.9M36 158.5h0.9M61.5 158.5h0.9M38.5 160.5h0.9M42.5 168.5h0.9M54.5 153.5h0.9M59 154.5h0.9M58 158h0.9M46 162.5h0.9M45.5 165.5h0.9M54 154h0.9M42.5 167h0.9M63.5 152h0.9M65.5 157.5h0.9M52.5 158.5h0.9M53 164.5h0.9M54 150.5h0.9M69 160h0.9M46 158h0.9M48 159.5h0.9M57 159h0.9M49.5 156h0.9M60 157.5h0.9M69 153h0.9M59.5 158h0.9M49.5 165h0.9M54.5 154.5h0.9M52.5 163h0.9M46.5 165.5h0.9M58.5 156.5h0.9M64.5 164.5h0.9M58.5 158.5h0.9M67.5 163h0.9M47.5 158.5h0.9M52.5 157h0.9M44 163.5h0.9M54.5 159h0.9M63.5 155h0.9M54 159.5h0.9M51 158.5h0.9M59.5 157.5h0.9M63 154h0.9M54.5 152.5h0.9M64 160.5h0.9M58.5 165.5h0.9M64.5 160h0.9M48.5 153h0.9M53.5 157h0.9M49.5 158h0.9M43.5 166.5h0.9M45.5 157h0.9M57 151h0.9M61 161.5h0.9M51 154.5h0.9M49.5 151h0.9M64 157.5h0.9M48.5 155.5h0.9M59 164.5h0.9M44.5 157.5h0.9M42 163h0.9M56.5 168h0.9M53 157h0.9M49.5 163h0.9M43 163.5h0.9M55.5 156h0.9M48.5 164h0.9M67 155h0.9M59 165.5h0.9M45.5 159h0.9M48 152.5h0.9M44 155.5h0.9M58 155.5h0.9M48.5 162h0.9M57.5 154.5h0.9M50 162h0.9M56 154.5h0.9M55.5 158h0.9M60.5 159.5h0.9M47.5 164h0.9M59.5 152h0.9M67.5 151.5h0.9M47.5 158h0.9M60 160h0.9M54 164.5h0.9M57.5 164h0.9M74 156.5h0.9M35.5 159h0.9M46.5 160h0.9M54 153h0.9M45.5 158.5h0.9M51 147.5h0.9M61 157.5h0.9M54 160h0.9M46.5 159.5h0.9M57 157h0.9M49 165h0.9M57.5 156h0.9M38 157h0.9M41 166h0.9M55 155h0.9M53.5 170h0.9M62 151.5h0.9M52.5 153.5h0.9M41.5 161h0.9M72.5 163h0.9M54 157h0.9M56 163h0.9M42 152h0.9M68 158h0.9M66 158h0.9M64.5 154.5h0.9M58.5 165h0.9M61 155.5h0.9M60 154.5h0.9M44 162.5h0.9M65 161h0.9M45.5 163.5h0.9M58.5 156h0.9M36.5 165.5h0.9M61 160h0.9M40.5 153.5h0.9M62 161h0.9M57.5 157h0.9M56.5 155.5h0.9M51 155h0.9M55.5 156.5h0.9M61.5 160.5h0.9M46 161.5h0.9M63 163h0.9M38.5 165h0.9M64 163.5h0.9M37 158h0.9M53 156.5h0.9M63.5 154h0.9M63.5 159.5h0.9M42.5 155.5h0.9M50.5 159.5h0.9M61.5 156.5h0.9M60 150.5h0.9M31 160h0.9M57 156.5h0.9M47 161.5h0.9M68.5 156h0.9M48 155.5h0.9M68.5 156.5h0.9M59.5 163.5h0.9M61.5 161.5h0.9M58.5 162.5h0.9M50 159h0.9M50.5 162.5h0.9M49.5 161h0.9M46 159h0.9M55 157.5h0.9M51 149.5h0.9M62 154.5h0.9M51.5 155h0.9M61 153.5h0.9M58.5 163h0.9M67 162h0.9M58 152.5h0.9M64.5 162.5h0.9M60.5 161h0.9M54.5 156h0.9M47 163.5h0.9M56.5 162h0.9M57 163h0.9M62 161.5h0.9M44.5 163.5h0.9M54 153.5h0.9M58.5 151.5h0.9M62 165h0.9M51 163h0.9M58 161h0.9M44.5 162.5h0.9M55.5 161.5h0.9M55 163.5h0.9M56.5 161.5h0.9M64.5 158h0.9M57.5 155.5h0.9M60.5 163h0.9M54 162h0.9M56.5 153.5h0.9M49.5 151.5h0.9M55.5 155.5h0.9M68 156.5h0.9M54 156h0.9M45.5 159.5h0.9M48.5 153.5h0.9M65 147.5h0.9M64 151h0.9M56.5 168.5h0.9M38 155h0.9M64 158h0.9M50.5 159h0.9M47.5 160h0.9M65 155.5h0.9M56 163.5h0.9M68.5 154h0.9M49.5 157.5h0.9M48.5 151.5h0.9M39.5 157.5h0.9M56 164h0.9M50.5 158.5h0.9M59.5 161h0.9M53.5 158.5h0.9M67.5 155h0.9M49.5 152h0.9M68 155h0.9M61 162h0.9M65.5 151h0.9M65.5 157h0.9M53.5 157.5h0.9M51 157.5h0.9M37.5 163h0.9M54 154.5h0.9M55 168.5h0.9M66 153.5h0.9M53 162h0.9M58 155h0.9M53.5 159h0.9M51.5 159h0.9M48.5 156h0.9M57 157.5h0.9M47 157h0.9M49 165.5h0.9M61 158h0.9M61.5 159h0.9M52.5 159h0.9M74 160h0.9M61.5 156h0.9M60 168h0.9M58 163h0.9M63.5 160h0.9M65.5 158h0.9M73.5 157h0.9M56 164.5h0.9M48.5 159.5h0.9M52 161.5h0.9M53 156h0.9M59 158.5h0.9M46 162h0.9M45 160.5h0.9M48 156.5h0.9M69 155.5h0.9M53.5 163h0.9M58 162.5h0.9M45 155h0.9M78 155h0.9M60.5 152.5h0.9M56 158h0.9M50 155.5h0.9M37.5 165.5h0.9M43.5 158.5h0.9M66 155h0.9M58.5 157h0.9M59 158h0.9M51.5 165h0.9M51.5 153h0.9M52 161h0.9M46.5 163h0.9M61 167h0.9M42 158.5h0.9M55 160h0.9M54 158.5h0.9M56.5 160.5h0.9M59.5 162h0.9M61.5 149.5h0.9M50 163.5h0.9M51.5 157.5h0.9M61 159.5h0.9M64.5 158.5h0.9M35.5 163h0.9M53.5 163.5h0.9M54.5 163h0.9M70 159.5h0.9M55.5 163h0.9M42.5 159h0.9M58.5 154.5h0.9M58 162h0.9M65 159.5h0.9M49.5 160.5h0.9M59 164h0.9M39 162.5h0.9M41.5 163.5h0.9M57.5 160.5h0.9M50 160.5h0.9M62.5 157h0.9M53.5 153.5h0.9M62 155.5h0.9M48.5 157.5h0.9M48 158.5h0.9M63.5 160.5h0.9M65 163.5h0.9M48 161.5h0.9M66 167h0.9M43.5 154h0.9M57.5 156.5h0.9M47.5 161h0.9M47.5 149.5h0.9M55.5 157.5h0.9M48.5 152h0.9M51.5 163.5h0.9M60 166.5h0.9M52 151h0.9M60.5 162h0.9M45 153h0.9M48 154.5h0.9M51 156h0.9M36.5 168.5h0.9M47.5 159h0.9M46.5 161.5h0.9M43.5 160.5h0.9M53.5 162.5h0.9M46 157h0.9M53.5 167.5h0.9M44 161.5h0.9M50 158h0.9M48.5 158h0.9M59.5 159.5h0.9M37.5 162.5h0.9M45 162h0.9M63 162h0.9M54 161.5h0.9M61.5 165.5h0.9M63 158h0.9M55 159h0.9M59 155h0.9M48.5 161h0.9M40 164h0.9M57.5 159h0.9M50.5 167.5h0.9M51.5 163h0.9M66.5 154h0.9M54 155h0.9M47 165h0.9M60 154h0.9M62.5 158h0.9M74.5 163h0.9M48 160h0.9M55 161.5h0.9M53.5 152h0.9M62 156.5h0.9M53 158h0.9M53 151.5h0.9M53.5 147.5h0.9M56.5 164h0.9M39 167h0.9M57 155h0.9M43.5 165h0.9M56 161h0.9M51.5 155.5h0.9M59.5 153.5h0.9M59.5 150.5h0.9M46.5 153h0.9M62 149.5h0.9M46.5 162.5h0.9M57 167.5h0.9M67.5 159.5h0.9M58 150h0.9M52 153h0.9M47 156h0.9M62 159.5h0.9M55.5 155h0.9M51 151.5h0.9M57 160h0.9M58 167h0.9M47 162.5h0.9M62 160.5h0.9M60 158.5h0.9M43 157h0.9M41 158.5h0.9M44.5 160.5h0.9M51.5 150.5h0.9M44 160.5h0.9M59 156.5h0.9M61.5 158h0.9M53 161h0.9M59.5 159h0.9M50.5 155.5h0.9M51 156.5h0.9M55.5 159h0.9M56 165h0.9M62 155h0.9M56.5 156.5h0.9M53 157.5h0.9M36.5 162h0.9M62 153.5h0.9M55.5 154.5h0.9M52 158h0.9M37 162h0.9M51.5 148h0.9M58.5 157.5h0.9M55.5 160h0.9M50 154h0.9M71 164h0.9M50 157h0.9M48 155h0.9M68.5 161h0.9M41.5 152.5h0.9M42.5 161h0.9M50.5 161.5h0.9M53.5 152.5h0.9M46.5 160.5h0.9M61.5 148h0.9M54 165.5h0.9M43.5 159.5h0.9M35.5 154h0.9M50 159.5h0.9M62.5 160.5h0.9M58.5 153.5h0.9M54.5 172.5h0.9M70.5 159.5h0.9M52 167.5h0.9M68.5 147h0.9M55.5 150.5h0.9M49 158.5h0.9M51.5 159.5h0.9M44.5 163h0.9M50.5 157.5h0.9M62.5 157.5h0.9M40 162.5h0.9M32.5 162.5h0.9M50 152.5h0.9M68 154.5h0.9M69 162.5h0.9M49 155.5h0.9M63.5 156.5h0.9M55 157h0.9M44.5 158h0.9M45.5 152.5h0.9M52.5 166.5h0.9M65.5 156.5h0.9M55 160.5h0.9M64 158.5h0.9M63.5 168.5h0.9M48 150h0.9M59.5 157h0.9M55.5 163.5h0.9M39 160h0.9M45.5 161h0.9M44 158h0.9M42.5 158.5h0.9M63.5 156h0.9M48.5 168h0.9M57 160.5h0.9M59 154h0.9M54.5 158.5h0.9M60.5 160h0.9M47.5 161.5h0.9M57 158.5h0.9M39.5 155h0.9M50.5 166h0.9M47 158h0.9M45.5 157.5h0.9M55 149h0.9M33 164.5h0.9M53.5 155.5h0.9M38 160h0.9M61.5 154.5h0.9M52 163h0.9M51 153.5h0.9M48 153h0.9M57 150h0.9M60 150h0.9M53 152h0.9M52 163.5h0.9M53 159h0.9M48 157.5h0.9M44 158.5h0.9M53 162.5h0.9M46.5 174h0.9M53.5 164h0.9M60 146h0.9M53 165h0.9M36.5 164.5h0.9M46.5 157.5h0.9M54.5 150h0.9M55 155.5h0.9M80 156.5h0.9M58 157.5h0.9M65 157.5h0.9M60 156.5h0.9M71.5 148.5h0.9M58.5 160h0.9M55 153h0.9M45 158.5h0.9M53.5 153h0.9M61 155h0.9M48 156h0.9M72.5 158h0.9M54 163h0.9M71.5 161h0.9M43 159.5h0.9M46 161h0.9M40.5 158h0.9M59 160h0.9M51 143.5h0.9M49.5 155.5h0.9M50.5 153.5h0.9M50 156h0.9M74.5 158.5h0.9M57 164h0.9M40 157h0.9M53.5 160h0.9M48 162.5h0.9M39 166.5h0.9M49.5 153.5h0.9M61 152h0.9M64.5 157h0.9M62 153h0.9M57 163.5h0.9M53.5 151.5h0.9M42.5 153.5h0.9M55 154h0.9M39.5 157h0.9M64 153h0.9M40 152.5h0.9M33 160.5h0.9M52.5 162h0.9M64.5 155.5h0.9M52 160.5h0.9M64.5 153h0.9M58 156.5h0.9M51.5 162.5h0.9M47 154.5h0.9M51.5 158h0.9M57 156h0.9M65.5 162.5h0.9M75 154.5h0.9M58.5 164h0.9M43 156h0.9M50 154.5h0.9M44 157.5h0.9M56 153h0.9M49.5 154.5h0.9M57.5 159.5h0.9M56 157h0.9M52 168h0.9M40.5 165.5h0.9M56.5 158.5h0.9M44 153.5h0.9M60.5 162.5h0.9M27 155h0.9M56 159h0.9M60 161.5h0.9M67 156.5h0.9M59 150.5h0.9M65.5 167.5h0.9M57 152h0.9M53 158.5h0.9M59 145.5h0.9M50.5 165.5h0.9M51 152.5h0.9M44 160h0.9M61.5 164h0.9M65.5 154.5h0.9M65 158h0.9M55.5 157h0.9M48.5 158.5h0.9M49 160.5h0.9M54.5 157h0.9M52 157.5h0.9M66.5 156.5h0.9M49 157.5h0.9M52.5 157.5h0.9M56 150.5h0.9M44 148h0.9M63.5 157.5h0.9M52 151.5h0.9M47.5 156.5h0.9M61.5 165h0.9M50.5 160.5h0.9M40.5 157h0.9M43 158.5h0.9M53 160.5h0.9M47.5 163.5h0.9M41.5 160.5h0.9M42.5 163h0.9M49.5 162.5h0.9M56 154h0.9M55.5 160.5h0.9M46 153h0.9M54.5 151.5h0.9M75 151h0.9M61 148h0.9M56 162h0.9M45 162.5h0.9M45 170h0.9M60 157h0.9M54 166h0.9M48.5 156.5h0.9M51.5 161.5h0.9M57.5 162h0.9M44 161h0.9" stroke="#000" stroke-opacity="0.75" stroke-width="0.9" fill="none"/>
<path d="M56 147.5h0.9M51 138.5h0.9M59.5 147.5h0.9M51 153h0.9M63.5 140.5h0.9M59.5 144.5h0.9M50.5 147h0.9M61 155.5h0.9M59 141.5h0.9M62 143.5h0.9M56.5 152.5h0.9M47.5 144.5h0.9M56.5 134.5h0.9M54.5 139h0.9M57 147h0.9M47.5 139.5h0.9M57 148h0.9M53.5 151h0.9M59.5 141h0.9M54.5 142h0.9M62 149.5h0.9M72.5 142.5h0.9M65 152.5h0.9M57.5 156.5h0.9M53 147h0.9M63.5 145h0.9M58.5 136.5h0.9M57 144.5h0.9M49.5 140.5h0.9M63 145.5h0.9M48 145.5h0.9M59 157.5h0.9M56 147h0.9M60 146h0.9M61.5 150.5h0.9M62.5 150.5h0.9M52.5 153h0.9M56.5 150h0.9M55.5 145.5h0.9M60 153.5h0.9M50.5 144.5h0.9M64.5 150h0.9M57 149.5h0.9M53.5 150.5h0.9M66 147.5h0.9M57.5 146h0.9M52 155.5h0.9M64 151h0.9M68.5 142h0.9M58 139.5h0.9M66.5 147.5h0.9M66.5 146h0.9M65.5 153h0.9M57.5 153.5h0.9M60 140.5h0.9M54.5 154.5h0.9M61 150.5h0.9M58 142h0.9M64 152h0.9M55.5 148h0.9M56 156h0.9M61.5 134.5h0.9M65 149h0.9M54 148.5h0.9M50.5 148.5h0.9M62 151.5h0.9M69 148h0.9M61.5 158.5h0.9M60.5 147h0.9M57.5 129.5h0.9M53.5 157h0.9M53.5 144.5h0.9M67 144.5h0.9M50 150h0.9M68.5 153h0.9M50 156.5h0.9M50 141.5h0.9M51.5 141.5h0.9M62 157.5h0.9M63.5 149.5h0.9M62.5 147.5h0.9M58 139h0.9M60 153h0.9M53.5 149h0.9M69.5 150.5h0.9M52.5 146.5h0.9M62 147h0.9M57.5 153h0.9M61 146.5h0.9M76.5 143h0.9M66 149.5h0.9M75.5 142h0.9M56.5 152h0.9M56.5 145h0.9M60.5 148h0.9M56.5 146h0.9M56 137.5h0.9M62 145h0.9M50.5 136.5h0.9M59.5 134h0.9M57 154h0.9M46.5 154.5h0.9M62 150.5h0.9M58 150h0.9M58 143.5h0.9M62.5 159.5h0.9M59 157h0.9M64.5 154.5h0.9M59 146h0.9M57 143.5h0.9M56.5 146.5h0.9M61.5 144.5h0.9M50.5 151.5h0.9M54.5 144.5h0.9M66 145h0.9M59.5 141.5h0.9M60.5 154h0.9M53.5 155h0.9M57 145.5h0.9M54.5 143h0.9M55 141.5h0.9M58 159h0.9M47 141h0.9M60 141h0.9M42.5 161h0.9M64 146h0.9M65.5 141h0.9M57.5 141h0.9M65 154.5h0.9M61.5 147h0.9M48 154h0.9M55.5 156.5h0.9M61 160.5h0.9M53.5 153h0.9M71 139h0.9M66 148h0.9M50.5 156.5h0.9M56 164.5h0.9M63.5 147.5h0.9M59 160h0.9M50.5 141h0.9M70.5 149.5h0.9M66 145.5h0.9" stroke="#333" stroke-opacity="0.35" stroke-width="0.9" fill="none"/>
<ellipse cx="38" cy="169.5" rx="5.5" ry="5" transform="rotate(0 38 169.5)" fill="#222"/>
<ellipse cx="38" cy="169.5" rx="4.5" ry="4.1" transform="rotate(0 38 169.5)" fill="#888"/>
<ellipse cx="38" cy="169.5" rx="3.3" ry="3" transform="rotate(0 38 169.5)" fill="#bbb"/>
<ellipse cx="38" cy="169.5" rx="1.6" ry="1.5" transform="rotate(0 38 169.5)" fill="#ddd"/>
<ellipse cx="54" cy="160" rx="14.5" ry="7" transform="rotate(-5 54 160)" fill="#000"/>
<ellipse cx="54" cy="160" rx="12.5" ry="6" transform="rotate(-5 54 160)" fill="#aaa"/>
<ellipse cx="54" cy="160" rx="11.2" ry="5.4" transform="rotate(-5 54 160)" fill="#222"/>
<ellipse cx="54" cy="160" rx="8" ry="3.9" transform="rotate(-5 54 160)" fill="#333"/>
<path d="M24.1 174.10h-3M24.1 168.08h-1.9M24.1 164.56h-1.9M24.1 162.06h-1.9M24.1 160.12h-1.9M24.1 158.54h-1.9M24.1 157.20h-1.9M24.1 156.04h-1.9M24.1 155.02h-1.9M24.1 154.10h-3M24.1 148.08h-1.9M24.1 144.56h-1.9M24.1 142.06h-1.9M24.1 140.12h-1.9M24.1 138.54h-1.9M24.1 137.20h-1.9M24.1 136.04h-1.9M24.1 135.02h-1.9M24.1 134.10h-3M24.1 128.08h-1.9M24.1 124.56h-1.9M24.1 122.06h-1.9M24.1 120.12h-1.9M24.1 118.54h-1.9M24.1 117.20h-1.9M24.1 116.04h-1.9M24.1 115.02h-1.9M24.1 114.10h-3M24.1 108.08h-1.9" stroke="#000" stroke-width="0.75" fill="none"/>
<path d="M34.60 182.1v3M40.62 182.1v1.9M44.14 182.1v1.9M46.64 182.1v1.9M48.58 182.1v1.9M50.16 182.1v1.9M51.50 182.1v1.9M52.66 182.1v1.9M53.68 182.1v1.9M54.60 182.1v3M60.62 182.1v1.9M64.14 182.1v1.9M66.64 182.1v1.9M68.58 182.1v1.9M70.16 182.1v1.9M71.50 182.1v1.9M72.66 182.1v1.9M73.68 182.1v1.9M74.60 182.1v3M80.62 182.1v1.9M84.14 182.1v1.9M86.64 182.1v1.9M88.58 182.1v1.9M90.16 182.1v1.9M91.50 182.1v1.9M92.66 182.1v1.9M93.68 182.1v1.9M94.60 182.1v3" stroke="#000" stroke-width="0.75" fill="none"/>
<line x1="49.4" y1="107.2" x2="49.4" y2="182.1" stroke="#4a4ac4" stroke-width="1"/>
<line x1="24.1" y1="160.8" x2="98.7" y2="160.8" stroke="#4a4ac4" stroke-width="1"/>
<rect x="24.1" y="107.2" width="74.6" height="74.9" fill="none" stroke="#111" stroke-width="1.3"/>
<path d="M134.5 165h0.9M155 139.5h0.9M147 136.5h0.9M149 147.5h0.9M120 162h0.9M132.5 160.5h0.9M140 149h0.9M136.5 154h0.9M140.5 155h0.9M141 149h0.9M138 150h0.9M142 145h0.9M150 138.5h0.9M137 149h0.9M135.5 157.5h0.9M135.5 151.5h0.9M129 164.5h0.9M141 154h0.9M146 141.5h0.9M122 171.5h0.9M118.5 166.5h0.9M147.5 146h0.9M130.5 157.5h0.9M130.5 149h0.9M140 148h0.9M147.5 133.5h0.9M142.5 142.5h0.9M141.5 141h0.9M141.5 145.5h0.9M130.5 160.5h0.9M143 150.5h0.9M153 142h0.9M116 176.5h0.9M121 170.5h0.9M137.5 143.5h0.9M129 165h0.9M141.5 161.5h0.9M142 152.5h0.9M149 136h0.9M134 150.5h0.9M143.5 154.5h0.9M148 141h0.9M129.5 157.5h0.9M127.5 167h0.9M139 133.5h0.9M126.5 178h0.9M126.5 169.5h0.9M131 167.5h0.9M144.5 147h0.9M144.5 146h0.9M149 154.5h0.9M143.5 141.5h0.9M130.5 160h0.9M136.5 156h0.9M135.5 161.5h0.9M139.5 154.5h0.9M140 155.5h0.9M134.5 169.5h0.9M142 152h0.9M146.5 151.5h0.9M144.5 147.5h0.9M130 150h0.9M138.5 150.5h0.9M144.5 164h0.9M123.5 171h0.9M151 145.5h0.9M142.5 138h0.9M133 164.5h0.9M142 162h0.9M140.5 152h0.9M140.5 148.5h0.9M136.5 150.5h0.9M136 152.5h0.9M134.5 146.5h0.9M128 168.5h0.9M136 148.5h0.9M132 152h0.9M147.5 129.5h0.9M148 135h0.9M138.5 160h0.9M143 145h0.9M139 168.5h0.9M149.5 141h0.9M137 157h0.9M143 156.5h0.9M130.5 162.5h0.9M137 165h0.9M151.5 136.5h0.9M147.5 153h0.9M132 153h0.9M148 145.5h0.9M142 160h0.9M133 145.5h0.9M140.5 150h0.9M152.5 136h0.9M138 157h0.9M137.5 151.5h0.9M158 148.5h0.9M125.5 160.5h0.9M129 159h0.9M133 160h0.9M141.5 139.5h0.9M119 161.5h0.9M151.5 147.5h0.9M120 162.5h0.9M143.5 156h0.9M146.5 144.5h0.9M144.5 148h0.9M141 164.5h0.9M134 150h0.9M128.5 153h0.9M142.5 157h0.9M132.5 168.5h0.9M155.5 135.5h0.9M126 161.5h0.9M130.5 152.5h0.9M127.5 164h0.9M139 157h0.9M136 170.5h0.9M149.5 146.5h0.9M139.5 165h0.9M142.5 162.5h0.9M143 140.5h0.9M142 163.5h0.9M145 143.5h0.9M131.5 160h0.9M131.5 158h0.9M138 146h0.9M144 147h0.9M147.5 149.5h0.9M150 144h0.9M143 146.5h0.9M139 145.5h0.9M139 158h0.9M139.5 155.5h0.9M135 167.5h0.9M135 160h0.9M141.5 156.5h0.9M131.5 153.5h0.9M122.5 170h0.9M131 166h0.9M140.5 133h0.9M129.5 166.5h0.9M149 143h0.9M142.5 152h0.9M149 153.5h0.9M138 144h0.9M135 158.5h0.9M131 160h0.9M131.5 156h0.9M142 146h0.9M127 161h0.9M146.5 160h0.9M146 156h0.9M133.5 142h0.9M137.5 147h0.9M123.5 162.5h0.9M146 132h0.9M137.5 163h0.9M136.5 142h0.9M135 153h0.9M139.5 157.5h0.9M132.5 157.5h0.9M142.5 134h0.9M137 158.5h0.9M126 163h0.9M128.5 166h0.9M136.5 162h0.9M146 144h0.9M136 158h0.9M134 149h0.9M147 144.5h0.9M139 141.5h0.9M153 152h0.9M137 143h0.9M138 153h0.9M139 150.5h0.9M140 147.5h0.9M142.5 156h0.9M137 160h0.9M129.5 160.5h0.9M141 159.5h0.9M137 164.5h0.9M126 166.5h0.9M148 147.5h0.9M125.5 159h0.9M140 141h0.9M140.5 146.5h0.9M147 161h0.9M153.5 142h0.9M128.5 167.5h0.9M138 152.5h0.9M141.5 135.5h0.9M141 151h0.9M139 166h0.9M128 165.5h0.9M130 145.5h0.9M123 163.5h0.9M148 149.5h0.9M143.5 149h0.9M121.5 174.5h0.9M138.5 162h0.9M157 148.5h0.9M146.5 149.5h0.9M130 163.5h0.9M132 168h0.9M128 164h0.9M129.5 159.5h0.9M139.5 147.5h0.9M135.5 148h0.9M146.5 138.5h0.9M154 151h0.9M115 173h0.9M135.5 159.5h0.9M134.5 162h0.9M131.5 167.5h0.9M153 137h0.9M139.5 169h0.9M150.5 147.5h0.9M137 159.5h0.9M135.5 143.5h0.9M142 147.5h0.9M153 146h0.9M142 154h0.9M134 157h0.9M144.5 149h0.9M148 143.5h0.9M124 156h0.9M134 156h0.9M124 167h0.9M115.5 176.5h0.9M138 168h0.9M142 154.5h0.9M144.5 165h0.9M130.5 146.5h0.9M154 154.5h0.9M144 174h0.9M141 157.5h0.9M132 158h0.9M124 161.5h0.9M125.5 177.5h0.9M130 165.5h0.9M138 148.5h0.9M137.5 153h0.9M134 158.5h0.9M124 163h0.9M144 157h0.9M150.5 141h0.9M145.5 145h0.9M147 143.5h0.9M139.5 149h0.9M145 160h0.9M128 165h0.9M137 162.5h0.9M151 135.5h0.9M136 142h0.9M135.5 155.5h0.9M122 178h0.9M142 150.5h0.9M126.5 161.5h0.9M134.5 161.5h0.9M135.5 168h0.9M132 143h0.9M151.5 138h0.9M133.5 159.5h0.9M124 171.5h0.9M114 173.5h0.9M153.5 145h0.9M131 153.5h0.9M145 144.5h0.9M132 166.5h0.9M126.5 179h0.9M122.5 166.5h0.9M135 162.5h0.9M145 148h0.9M143.5 150h0.9M129.5 148h0.9M110 168h0.9M136 153.5h0.9M137.5 156h0.9M131.5 152.5h0.9M118 162h0.9M151 145h0.9M125.5 166h0.9M147.5 155h0.9M133.5 160h0.9M140 137h0.9M131.5 160.5h0.9M140 168h0.9M145 146h0.9M133 166h0.9M140.5 146h0.9M128 153h0.9M140 157.5h0.9M141.5 144h0.9M138.5 162.5h0.9M138 147h0.9M144.5 152h0.9M143.5 147.5h0.9M133.5 161.5h0.9M128.5 166.5h0.9M142.5 156.5h0.9M155 131h0.9M132.5 163.5h0.9M137 155h0.9M129 146h0.9M136.5 157h0.9M144.5 140.5h0.9M135.5 165.5h0.9M144 152h0.9M133 150h0.9M143.5 142.5h0.9M141 165.5h0.9M140 142h0.9M123.5 154.5h0.9M147 149h0.9M137.5 150h0.9M141.5 154h0.9M127.5 162.5h0.9M134 147h0.9M139.5 165.5h0.9M137 164h0.9M127 164.5h0.9M146.5 148h0.9M133 171.5h0.9M131 152.5h0.9M135.5 150.5h0.9" stroke="#333" stroke-opacity="0.3" stroke-width="0.9" fill="none"/>
<path d="M142 138h0.9M146.5 136.5h0.9M137 150.5h0.9M149.5 149h0.9M155.5 140.5h0.9M155.5 146.5h0.9M143 134.5h0.9M142 120.5h0.9M147 142h0.9M150.5 149h0.9M155 136.5h0.9M150 147.5h0.9M142 139.5h0.9M157.5 139.5h0.9M164.5 128h0.9M136.5 152h0.9M158.5 132h0.9M168 143h0.9M142 139h0.9M141 148h0.9M157 139.5h0.9M136.5 140h0.9M131.5 135.5h0.9M132.5 135.5h0.9M149 142.5h0.9M154 136h0.9M143.5 142h0.9M152.5 134.5h0.9M148.5 137h0.9M145 141.5h0.9M144 151h0.9M138 149h0.9M143.5 155h0.9M153 130h0.9M141.5 134h0.9M150 142h0.9M164.5 118.5h0.9M157 129.5h0.9M154.5 143h0.9M155 139h0.9M147.5 140h0.9M154.5 146h0.9M135.5 142.5h0.9M135.5 139h0.9M146.5 149.5h0.9M171 137.5h0.9M140 145h0.9M141.5 147h0.9M161.5 137h0.9M155.5 134h0.9M126 136h0.9M150.5 143h0.9M158 131h0.9M150.5 140h0.9M157.5 133.5h0.9M153.5 139.5h0.9M139 145h0.9M128 134.5h0.9M145.5 137.5h0.9M158.5 145.5h0.9M155 150.5h0.9M147 146.5h0.9M139.5 145.5h0.9M145.5 139h0.9M147 124.5h0.9M147 133.5h0.9M151.5 141h0.9M144.5 138.5h0.9M141.5 147.5h0.9M145 145h0.9M142.5 154h0.9M145 151h0.9M147.5 144.5h0.9M150.5 144h0.9M153.5 147h0.9M157 140h0.9M160 127h0.9M159.5 133.5h0.9M139 149h0.9M153.5 150.5h0.9M144 126h0.9M149.5 130.5h0.9M166 143h0.9M143 129h0.9M151 139.5h0.9M153.5 134h0.9M139 143.5h0.9M148 154.5h0.9M141 138h0.9M144 131.5h0.9M145 140h0.9M144 139.5h0.9M160.5 136h0.9M137 142.5h0.9M152.5 131.5h0.9M149.5 138.5h0.9M152.5 135.5h0.9M145 134.5h0.9M148.5 131.5h0.9M163 131h0.9M150 145h0.9M148.5 140h0.9M146 134.5h0.9M139 139h0.9M156 130h0.9M144 138h0.9M161.5 148h0.9M143.5 146.5h0.9M149 136.5h0.9M148.5 129h0.9M156.5 136.5h0.9M147 153.5h0.9M160 142.5h0.9M136.5 144h0.9M147 145.5h0.9M153 121h0.9M148.5 138h0.9M157 134h0.9M138 143.5h0.9M138 139h0.9M147.5 136h0.9M146 128.5h0.9M172 136h0.9M150 127.5h0.9M128.5 143.5h0.9M155 154h0.9M157.5 129.5h0.9M163 141h0.9M153.5 146.5h0.9M149.5 133.5h0.9M152 126h0.9M138 150h0.9M134 163h0.9M148 145.5h0.9M158.5 121.5h0.9M148.5 157.5h0.9M146.5 139.5h0.9M154.5 144.5h0.9M160 133.5h0.9M146 140.5h0.9M156 145.5h0.9M156.5 149.5h0.9M144 146h0.9M167.5 139h0.9M148.5 132h0.9M143 141.5h0.9M150.5 136h0.9M135 141h0.9M156 142h0.9M136.5 143h0.9M133.5 143h0.9M177.5 123h0.9M144 137h0.9M132.5 133h0.9M147.5 137.5h0.9M155 122h0.9M157.5 145.5h0.9M136 152h0.9M138 149.5h0.9M160.5 132h0.9M149 133.5h0.9M155.5 144.5h0.9M147 139h0.9M155 142.5h0.9M136 147h0.9M145.5 145h0.9M158.5 136h0.9M156 127h0.9M142 134.5h0.9M150 139.5h0.9M143 132.5h0.9M147 136.5h0.9M153 134.5h0.9M159 135h0.9M133.5 146.5h0.9M141 151.5h0.9M147.5 128h0.9M129 146h0.9M141.5 131h0.9M151 140.5h0.9M159.5 145.5h0.9M154 133h0.9M152 142h0.9M145.5 152h0.9M155.5 133.5h0.9M157.5 165.5h0.9M159 141h0.9M167 137h0.9M153 142.5h0.9M144.5 147.5h0.9M138.5 148.5h0.9M148 127h0.9M160.5 123h0.9M155.5 131h0.9M172.5 134h0.9M166.5 135.5h0.9M155 137h0.9M149.5 144h0.9M150 137.5h0.9M137 143.5h0.9M152.5 133.5h0.9M151.5 136.5h0.9M138 138h0.9M142.5 140.5h0.9M151 147h0.9M133.5 131.5h0.9M153 133h0.9M157.5 155.5h0.9M163 136h0.9M157.5 135.5h0.9M155 131h0.9M167.5 141.5h0.9M148.5 149h0.9M152 146.5h0.9" stroke="#000" stroke-opacity="0.4" stroke-width="0.9" fill="none"/>
<ellipse cx="149" cy="139" rx="12" ry="10" transform="rotate(-40 149 139)" fill="#222"/>
<ellipse cx="148" cy="140.3" rx="10.5" ry="8.6" transform="rotate(-40 148 140.3)" fill="#eee"/>
<ellipse cx="150" cy="138.3" rx="9" ry="7.5" transform="rotate(-40 150 138.3)" fill="#999"/>
<ellipse cx="150" cy="138.3" rx="7.2" ry="6" transform="rotate(-40 150 138.3)" fill="#777"/>
<ellipse cx="150" cy="138.3" rx="5.4" ry="4.5" transform="rotate(-40 150 138.3)" fill="#555"/>
<ellipse cx="150" cy="138.3" rx="3.6" ry="3" transform="rotate(-40 150 138.3)" fill="#333"/>
<ellipse cx="150.5" cy="137.5" rx="1.5" ry="1.2" transform="rotate(0 150.5 137.5)" fill="#fff"/>
<ellipse cx="122.8" cy="169.8" rx="6.8" ry="6.8" transform="rotate(0 122.8 169.8)" fill="#555"/>
<ellipse cx="122.8" cy="169.8" rx="5.8" ry="5.8" transform="rotate(0 122.8 169.8)" fill="#000"/>
<ellipse cx="122.8" cy="169.8" rx="1.7" ry="1.7" transform="rotate(0 122.8 169.8)" fill="#fff"/>
<path d="M108.1 174.10h-3M108.1 168.08h-1.9M108.1 164.56h-1.9M108.1 162.06h-1.9M108.1 160.12h-1.9M108.1 158.54h-1.9M108.1 157.20h-1.9M108.1 156.04h-1.9M108.1 155.02h-1.9M108.1 154.10h-3M108.1 148.08h-1.9M108.1 144.56h-1.9M108.1 142.06h-1.9M108.1 140.12h-1.9M108.1 138.54h-1.9M108.1 137.20h-1.9M108.1 136.04h-1.9M108.1 135.02h-1.9M108.1 134.10h-3M108.1 128.08h-1.9M108.1 124.56h-1.9M108.1 122.06h-1.9M108.1 120.12h-1.9M108.1 118.54h-1.9M108.1 117.20h-1.9M108.1 116.04h-1.9M108.1 115.02h-1.9M108.1 114.10h-3M108.1 108.08h-1.9" stroke="#000" stroke-width="0.75" fill="none"/>
<path d="M118.60 182.1v3M124.62 182.1v1.9M128.14 182.1v1.9M130.64 182.1v1.9M132.58 182.1v1.9M134.16 182.1v1.9M135.50 182.1v1.9M136.66 182.1v1.9M137.68 182.1v1.9M138.60 182.1v3M144.62 182.1v1.9M148.14 182.1v1.9M150.64 182.1v1.9M152.58 182.1v1.9M154.16 182.1v1.9M155.50 182.1v1.9M156.66 182.1v1.9M157.68 182.1v1.9M158.60 182.1v3M164.62 182.1v1.9M168.14 182.1v1.9M170.64 182.1v1.9M172.58 182.1v1.9M174.16 182.1v1.9M175.50 182.1v1.9M176.66 182.1v1.9M177.68 182.1v1.9M178.60 182.1v3" stroke="#000" stroke-width="0.75" fill="none"/>
<line x1="133.4" y1="107.7" x2="133.4" y2="182.1" stroke="#4a4ac4" stroke-width="1"/>
<line x1="108.1" y1="161.2" x2="182.1" y2="161.2" stroke="#4a4ac4" stroke-width="1"/>
<rect x="108.1" y="107.7" width="74" height="74.4" fill="none" stroke="#111" stroke-width="1.3"/>
<path d="M206.5 160h0.9M207.5 147.5h0.9M208 152h0.9M205 136.5h0.9M217 146.5h0.9M199 127h0.9M194 144h0.9M215 133.5h0.9M206.5 131.5h0.9M214 154h0.9M210 164h0.9M216.5 161h0.9M205 137h0.9M203 132.5h0.9M217.5 148.5h0.9M209 152.5h0.9M218.5 144.5h0.9M214.5 153.5h0.9M207.5 130.5h0.9M213 143h0.9M206 152.5h0.9M208.5 162h0.9M205 152h0.9M209.5 150.5h0.9M211.5 148h0.9M214.5 143h0.9M201 150h0.9M214.5 145h0.9M205 147h0.9M209 148.5h0.9M210 132.5h0.9M216 156.5h0.9M204 164.5h0.9M210.5 165.5h0.9M202 167.5h0.9M208.5 129h0.9M212 147.5h0.9M203 148h0.9M198 156.5h0.9M207 147.5h0.9M215.5 151h0.9M205 140.5h0.9M208 161.5h0.9M205 139.5h0.9M213 151h0.9M208 172h0.9M202 152.5h0.9M199 147.5h0.9M211 162h0.9M201.5 159h0.9M212 149h0.9M221 150.5h0.9M203.5 155h0.9M198.5 166.5h0.9M213.5 146.5h0.9M211.5 156h0.9M218 144h0.9M201.5 129.5h0.9M206.5 134.5h0.9M207.5 154.5h0.9M206 140.5h0.9M214.5 148.5h0.9M209.5 160h0.9M201.5 141h0.9M221 149h0.9M205.5 138h0.9M206 150h0.9M208 156h0.9M199.5 135h0.9M212.5 146h0.9M201 156h0.9M203 153h0.9M214.5 172h0.9M208 157.5h0.9M210 158.5h0.9M195 146.5h0.9M209.5 155h0.9M204.5 159h0.9M214 151h0.9M207 146.5h0.9M209 162.5h0.9M216 145.5h0.9M203.5 142.5h0.9M213.5 152.5h0.9M209.5 155.5h0.9M210 149h0.9M203 144h0.9M209 154.5h0.9M206.5 146h0.9M215 145.5h0.9M209.5 147h0.9M204 135h0.9M205.5 142h0.9M212.5 138.5h0.9M206 157h0.9M207.5 155.5h0.9M212.5 133.5h0.9M215 149h0.9M210.5 168h0.9M206.5 151h0.9M210.5 147.5h0.9M214.5 159h0.9M213.5 151h0.9M206.5 147h0.9M206.5 133.5h0.9M208 145.5h0.9M208.5 152.5h0.9M210 168.5h0.9M204 154h0.9M211.5 151h0.9M207 140h0.9M205 157.5h0.9M215.5 143.5h0.9M210.5 155.5h0.9M213.5 153h0.9M210.5 159.5h0.9M202.5 151h0.9M199 130.5h0.9M211 160.5h0.9M206.5 149h0.9M209 154h0.9M206 142.5h0.9M205.5 158.5h0.9M206 165h0.9M207 164h0.9M202 143.5h0.9M207.5 171h0.9M208.5 153.5h0.9M205.5 167h0.9M212.5 154.5h0.9M200 154h0.9M206 154.5h0.9M209.5 159h0.9M209 147h0.9M203 143.5h0.9M202 160.5h0.9M208.5 138h0.9M208 137.5h0.9M214 135.5h0.9M204.5 152.5h0.9M206 141.5h0.9M205.5 148h0.9M205.5 152.5h0.9M207 142.5h0.9M208.5 133.5h0.9M215.5 133h0.9M207.5 153.5h0.9M210 153h0.9M214.5 139h0.9M205.5 144.5h0.9M205.5 147.5h0.9M207 152h0.9M207 154h0.9M209 155h0.9M215 142h0.9M216.5 146h0.9M211.5 152h0.9M206.5 130.5h0.9M216 142.5h0.9M204 161h0.9M208.5 169h0.9M216.5 157.5h0.9M209.5 158h0.9M201.5 152h0.9M209 145.5h0.9M209.5 135.5h0.9M212.5 163h0.9M201.5 151.5h0.9M216 154.5h0.9M203 140.5h0.9M212.5 168.5h0.9M202.5 150.5h0.9M204 147.5h0.9M209.5 150h0.9M204.5 171h0.9M207.5 148.5h0.9M213.5 150.5h0.9M207 159.5h0.9M203 157.5h0.9M213 157h0.9M207 150h0.9M199.5 149h0.9M209 146.5h0.9M204 149.5h0.9M209 162h0.9M208 145h0.9M207.5 145.5h0.9M207 128.5h0.9" stroke="#444" stroke-opacity="0.3" stroke-width="0.9" fill="none"/>
<path d="M232 135h0.9M237 147.5h0.9M234.5 160h0.9M231 159.5h0.9M238 141h0.9M242.5 134h0.9M232 145.5h0.9M237 146.5h0.9M229 144.5h0.9M232 174.5h0.9M240 150h0.9M231.5 151.5h0.9M231.5 150h0.9M237.5 144h0.9M237 145h0.9M232 163.5h0.9M238 145h0.9M233 149.5h0.9M236.5 157h0.9M240 153.5h0.9M229.5 168.5h0.9M238.5 157h0.9M242 133.5h0.9M235 143h0.9M241 136.5h0.9M232.5 163.5h0.9M238 144.5h0.9M243.5 135h0.9M237.5 146h0.9M237.5 145.5h0.9M232.5 150h0.9M230.5 153h0.9M233.5 157.5h0.9M235 141h0.9M235.5 161h0.9M229 148.5h0.9M239.5 134h0.9M232 154.5h0.9M234 141h0.9M242.5 139h0.9M236 124h0.9M233.5 135h0.9M239.5 161.5h0.9M229 168h0.9M238.5 146.5h0.9M238 152.5h0.9M235.5 129.5h0.9M232.5 147.5h0.9M235.5 140.5h0.9M240 137.5h0.9M239 143.5h0.9M237.5 136.5h0.9M236.5 140h0.9M230 147h0.9M234.5 156.5h0.9M238 138h0.9M237 122.5h0.9M230.5 161h0.9M239.5 156.5h0.9M236 154h0.9M239.5 130.5h0.9M231.5 160h0.9M239 151h0.9M235 144h0.9M235 138.5h0.9M229 149h0.9M234.5 145.5h0.9M240.5 155h0.9M232.5 154h0.9M229.5 158.5h0.9M236.5 146h0.9M235.5 163.5h0.9M235.5 137.5h0.9M242.5 149h0.9M241.5 141.5h0.9M237.5 141.5h0.9M238 145.5h0.9M231.5 164h0.9M239.5 127.5h0.9M236 138.5h0.9M232.5 141.5h0.9M234 148h0.9M235.5 128.5h0.9M233 157h0.9M230.5 154h0.9M237.5 143.5h0.9M237.5 140.5h0.9M235.5 162.5h0.9M232 160h0.9M230 138h0.9M230 165.5h0.9M232.5 156h0.9M237.5 148h0.9M226.5 149h0.9M236.5 162h0.9M239 130.5h0.9M234 157.5h0.9M232 153.5h0.9M234 149h0.9M239 141h0.9M245 150.5h0.9M236 145h0.9M233 131.5h0.9M236.5 147h0.9M229.5 124.5h0.9M234.5 147h0.9M239 135.5h0.9M234 146.5h0.9M238 154h0.9M239.5 141h0.9M236 136h0.9M234.5 143.5h0.9M233 155h0.9M236 156h0.9M234.5 159h0.9M234.5 158h0.9M236.5 156h0.9M237 135h0.9M228.5 168h0.9M236.5 153h0.9M235.5 143h0.9M246.5 137.5h0.9M235.5 147.5h0.9M233.5 134.5h0.9M233.5 144h0.9M233 156.5h0.9M231 151.5h0.9M239.5 158h0.9M235.5 117h0.9M237.5 153.5h0.9M232 161h0.9M232 151h0.9M235 142.5h0.9M239 150.5h0.9M230 154.5h0.9M239.5 139.5h0.9M234 148.5h0.9M234.5 149h0.9M238.5 143h0.9M243.5 141.5h0.9M231.5 168.5h0.9M243.5 149.5h0.9M236.5 136.5h0.9M232.5 152h0.9M239 155.5h0.9M241.5 161h0.9M237 148h0.9M236 161h0.9M237 159.5h0.9M235.5 156h0.9M240 147h0.9M229 165.5h0.9M238 143.5h0.9M236.5 145.5h0.9M230.5 145.5h0.9M230.5 149.5h0.9M234 160h0.9M234.5 152h0.9M230 158h0.9M237 142h0.9M237 144h0.9M233 150.5h0.9M240 145.5h0.9M231.5 141h0.9M242.5 140.5h0.9M240 146h0.9M238 147h0.9M231 143h0.9M242.5 147.5h0.9M235 151.5h0.9M234.5 171.5h0.9M236 146h0.9M235 134h0.9M229.5 154.5h0.9M227.5 162h0.9M239 145.5h0.9M232 148h0.9M236 130h0.9M231 140.5h0.9M233.5 158.5h0.9M241 167h0.9M234.5 168h0.9M236 142.5h0.9M244.5 138h0.9M234.5 145h0.9M241 142.5h0.9M238.5 144h0.9M237.5 136h0.9M234 139.5h0.9M238 153h0.9M236 153.5h0.9M233.5 153h0.9M235.5 134h0.9M233 150h0.9M230.5 145h0.9M230.5 159.5h0.9M235.5 138h0.9M233.5 140h0.9M232.5 150.5h0.9M228 160h0.9M236.5 163h0.9M235.5 123.5h0.9M234 146h0.9M237.5 143h0.9M235 149.5h0.9M228 166.5h0.9M231.5 150.5h0.9M240 140.5h0.9M233.5 165h0.9M233.5 159h0.9M236.5 150.5h0.9M238.5 146h0.9M233.5 158h0.9M231.5 148h0.9M238.5 158h0.9M233 152.5h0.9M240 149h0.9M240.5 145.5h0.9M241 138h0.9M237.5 137h0.9M237 154.5h0.9M236 132.5h0.9M233.5 139h0.9M237 143h0.9M233.5 157h0.9M236.5 147.5h0.9M233.5 149h0.9M233 141.5h0.9M236.5 144h0.9M237.5 149h0.9M234 123.5h0.9M239.5 142.5h0.9M240.5 149h0.9M232.5 153.5h0.9M234.5 148h0.9M240 143h0.9M242 143h0.9M238.5 131h0.9M226.5 169.5h0.9M239 160.5h0.9M230 150h0.9M237 149h0.9M238 138.5h0.9M236.5 136h0.9M234 152h0.9M233.5 145h0.9M238.5 151h0.9M239 133.5h0.9M233.5 156.5h0.9M233.5 143.5h0.9M230.5 161.5h0.9M235 140.5h0.9M236 160h0.9M236 158.5h0.9M233 151.5h0.9M235 149h0.9M232 139.5h0.9M234.5 128h0.9M237.5 135.5h0.9M233 136.5h0.9M239 145h0.9M239 147.5h0.9M233.5 154h0.9M237.5 149.5h0.9M233 143h0.9M232 145h0.9M234 163.5h0.9M239.5 155.5h0.9M242.5 165h0.9M244 153h0.9M235.5 159h0.9M236 151.5h0.9M231 157.5h0.9M235 156.5h0.9M237 129.5h0.9M236 160.5h0.9M232.5 137.5h0.9M235 145.5h0.9M228 165.5h0.9M239.5 142h0.9M229 151h0.9M241 157.5h0.9M240.5 138.5h0.9M238.5 132.5h0.9M241.5 154.5h0.9M231 128h0.9M237 149.5h0.9M234 154.5h0.9M241.5 152.5h0.9M230 145.5h0.9M232.5 139h0.9M232 147.5h0.9M232 153h0.9M234 155.5h0.9M235 147.5h0.9M226.5 175h0.9M233 148.5h0.9M234.5 142.5h0.9M237.5 142.5h0.9M236 133.5h0.9M234 135.5h0.9M243 134.5h0.9M232 149.5h0.9M242.5 131h0.9M230.5 148.5h0.9M238.5 133h0.9M231 137h0.9M238 147.5h0.9M234.5 154h0.9M235 150h0.9M233.5 141h0.9M232.5 154.5h0.9M232 157h0.9M245 140h0.9M231.5 139h0.9M234 134h0.9M230.5 156h0.9M236.5 163.5h0.9M240 142h0.9M236 135.5h0.9M238.5 159h0.9M234.5 144.5h0.9M235.5 150h0.9M238 149h0.9M239 132h0.9M237 129h0.9M239.5 163h0.9M236.5 159.5h0.9M241 158.5h0.9M229 138.5h0.9M231.5 147h0.9M234.5 150.5h0.9M235.5 145.5h0.9M228 142h0.9M238 150.5h0.9M231 144h0.9M237.5 137.5h0.9M239 139.5h0.9M234.5 146.5h0.9M243 145h0.9M232.5 155h0.9M233.5 149.5h0.9M228 150h0.9M237 134h0.9M236.5 134h0.9M231 141h0.9M230 152h0.9M239 141.5h0.9M232 149h0.9M236.5 143h0.9M234.5 158.5h0.9M230.5 160.5h0.9M236.5 149h0.9M237 146h0.9M237 161.5h0.9M234 153.5h0.9M231.5 173h0.9M238.5 147h0.9M234 147.5h0.9M231.5 159.5h0.9M236.5 158h0.9M230.5 150h0.9M233 148h0.9M239.5 150.5h0.9M236.5 167h0.9M229 150h0.9M235.5 138.5h0.9M229.5 137h0.9M232.5 167h0.9M234.5 135h0.9M229.5 143h0.9M232 139h0.9M228 148.5h0.9M234 118.5h0.9M238.5 153.5h0.9M231 158.5h0.9M229.5 167h0.9M238.5 128.5h0.9M236 168.5h0.9M235.5 141h0.9M225.5 159.5h0.9M233.5 151.5h0.9M233 137.5h0.9M239.5 144h0.9M236 134.5h0.9M235 156h0.9M229.5 161.5h0.9M233.5 145.5h0.9M241.5 146h0.9M231.5 137.5h0.9M232 166h0.9M236.5 161.5h0.9M231 162.5h0.9M227.5 148.5h0.9M243 149.5h0.9M231.5 153.5h0.9M235.5 156.5h0.9M233 161.5h0.9M237 141h0.9M237 159h0.9M231 143.5h0.9M243.5 129h0.9M231.5 175h0.9M236.5 139.5h0.9M242.5 140h0.9M232 136.5h0.9M233.5 148h0.9M238.5 132h0.9M234 171.5h0.9M233.5 146h0.9M236.5 161h0.9M234.5 137.5h0.9M231 159h0.9M241.5 125.5h0.9M230 134h0.9M230 151.5h0.9M233.5 168.5h0.9M238 149.5h0.9M240.5 139h0.9M231 147.5h0.9M241 131h0.9M237.5 157h0.9M234.5 148.5h0.9M238 157.5h0.9M241 127.5h0.9M228.5 154.5h0.9M234.5 140h0.9M235 133h0.9M235.5 140h0.9M230 159h0.9M225 173.5h0.9M230.5 153.5h0.9M238.5 148h0.9M229 150.5h0.9M240 142.5h0.9M230.5 140.5h0.9M236 151h0.9M238.5 154h0.9M240 126.5h0.9M243 149h0.9M239 144.5h0.9M235 148.5h0.9M239 164.5h0.9M235 169h0.9M232.5 161.5h0.9M244 126.5h0.9M242.5 152h0.9M237 127.5h0.9M237.5 123h0.9M242 145h0.9M237.5 160.5h0.9M243 146h0.9M240 132h0.9M232 144.5h0.9M233.5 155h0.9M234.5 146h0.9M241.5 151h0.9M233 165.5h0.9M232 141h0.9M243.5 142.5h0.9M245.5 149h0.9M233 162h0.9M233.5 134h0.9M236 126.5h0.9M237.5 146.5h0.9M235.5 141.5h0.9M226 164h0.9M233.5 153.5h0.9M236.5 148h0.9M235.5 158h0.9M236.5 152h0.9M237.5 150.5h0.9M240 150.5h0.9M238.5 149h0.9M235 137.5h0.9M234.5 153.5h0.9M240 147.5h0.9M240 149.5h0.9M233 155.5h0.9M231 148.5h0.9M235.5 146.5h0.9M230.5 158h0.9M235 155h0.9M243.5 144.5h0.9M242.5 149.5h0.9M234 167h0.9M231.5 124h0.9M237.5 156.5h0.9M235.5 150.5h0.9M233.5 143h0.9M232.5 148h0.9M232.5 166h0.9M240 131.5h0.9M235 163.5h0.9M235 159.5h0.9M234.5 155.5h0.9M231.5 156h0.9M229.5 161h0.9M233.5 125h0.9M235.5 152.5h0.9M236.5 138.5h0.9M236 152h0.9M234.5 169.5h0.9M239.5 145.5h0.9M238.5 140.5h0.9M232.5 149h0.9M234 164h0.9M229.5 153h0.9M239 163h0.9M233.5 151h0.9M239 137h0.9M231 146.5h0.9M233.5 175h0.9M237.5 148.5h0.9M241.5 140.5h0.9M235.5 158.5h0.9M237.5 152.5h0.9M236 141.5h0.9M239.5 131h0.9M240 139.5h0.9M232 132.5h0.9M232 159.5h0.9M239.5 136h0.9M236 147h0.9M231.5 137h0.9M227.5 138.5h0.9M234 150.5h0.9M237 158h0.9M238.5 142.5h0.9M233 139h0.9M234 159.5h0.9M233 167h0.9M239.5 143.5h0.9M242.5 117.5h0.9M239.5 153h0.9M239 130h0.9M244.5 146.5h0.9M233.5 160h0.9M236 139h0.9M239 137.5h0.9M238 150h0.9M241 135.5h0.9M239.5 151.5h0.9M243 142h0.9M241 156.5h0.9M239 140.5h0.9M236.5 155.5h0.9M234.5 135.5h0.9M231 163.5h0.9M235 158h0.9M236.5 149.5h0.9M237 143.5h0.9M238 133.5h0.9M237.5 141h0.9M232.5 159h0.9M238 136h0.9M231 126.5h0.9M232 140.5h0.9M234.5 144h0.9M232.5 171.5h0.9M233 149h0.9M233 145h0.9M237.5 138.5h0.9M243.5 136.5h0.9M234 171h0.9M231.5 162h0.9M240 152h0.9M227.5 162.5h0.9M236.5 142h0.9M241 141h0.9M239 136.5h0.9M230 144h0.9M238 158.5h0.9M234 155h0.9M229 161h0.9M236.5 153.5h0.9M235 170h0.9M235.5 147h0.9M236 148.5h0.9M236 135h0.9M236.5 158.5h0.9M236.5 128h0.9M232.5 152.5h0.9M230 162h0.9M241 144.5h0.9M240.5 133.5h0.9M232.5 143.5h0.9M230 168.5h0.9M237.5 150h0.9M235.5 142h0.9M228 163h0.9M234.5 130h0.9M235 130.5h0.9M242 152.5h0.9M238.5 164h0.9M233.5 147h0.9M231.5 161h0.9M229 154.5h0.9M238.5 147.5h0.9M231 152h0.9M241.5 128h0.9M240 129h0.9M233.5 166.5h0.9M235.5 153h0.9M241.5 163h0.9M233 171.5h0.9M235 160h0.9M234 140.5h0.9M234 141.5h0.9M229 160h0.9M234 151.5h0.9M234.5 160.5h0.9M238 152h0.9M235 135h0.9M235.5 134.5h0.9M241 151.5h0.9M230.5 135.5h0.9M231 150h0.9M240.5 138h0.9M237.5 163h0.9M235.5 155.5h0.9M236 144h0.9M231.5 151h0.9M235.5 146h0.9M233 142h0.9M239.5 146h0.9M241.5 136.5h0.9M231 149h0.9M239.5 147.5h0.9M237.5 130.5h0.9M235.5 151h0.9M242 135h0.9M234 137h0.9M242 121.5h0.9M229.5 169.5h0.9M234.5 157h0.9M232 156.5h0.9M241 143.5h0.9M238 141.5h0.9M237.5 168h0.9M240.5 147h0.9M240 153h0.9M243 135.5h0.9M241.5 142.5h0.9M240 143.5h0.9M230.5 137h0.9M235 148h0.9M229.5 134.5h0.9M237.5 139.5h0.9M230 150.5h0.9M233 154.5h0.9M232.5 146.5h0.9M233 146h0.9M234 179.5h0.9M235 155.5h0.9M236 159h0.9M233.5 173.5h0.9M242.5 130.5h0.9M229.5 138h0.9M235 140h0.9M238.5 129.5h0.9M237 156.5h0.9M237 144.5h0.9M236 143h0.9M242.5 145h0.9M236.5 137h0.9M237.5 147.5h0.9M235.5 164h0.9M235 152h0.9M236.5 156.5h0.9M241 150.5h0.9M232 151.5h0.9M232.5 138h0.9M237.5 132h0.9M242 127.5h0.9M235 132.5h0.9M240 127h0.9M239 129h0.9M233 153h0.9M230.5 166h0.9M237 157.5h0.9M233 168.5h0.9M231.5 152.5h0.9M234.5 129h0.9M234 145.5h0.9M244 146.5h0.9M242.5 150h0.9M238 146.5h0.9M234 137.5h0.9M241.5 138h0.9M234.5 150h0.9M238.5 155h0.9M234.5 153h0.9M238.5 152.5h0.9M241 153.5h0.9M233 139.5h0.9M237 152h0.9M240 157.5h0.9M241.5 141h0.9M235 154.5h0.9M239.5 160.5h0.9M239 152h0.9M239 143h0.9M238.5 150.5h0.9M232 143.5h0.9M234 153h0.9M239.5 137h0.9M238 148h0.9M231 156.5h0.9M232 159h0.9M242.5 148.5h0.9M239.5 123.5h0.9M238.5 142h0.9M237.5 164h0.9M245.5 118.5h0.9M226.5 139.5h0.9M233.5 163h0.9M233 157.5h0.9M240.5 134.5h0.9M240.5 141h0.9M235.5 154.5h0.9M237.5 155h0.9M238.5 148.5h0.9M231 151h0.9M233.5 140.5h0.9M234.5 167.5h0.9M234.5 166.5h0.9M236 175.5h0.9M236 148h0.9M240.5 144h0.9M234 151h0.9M239 134.5h0.9M237 145.5h0.9M237.5 147h0.9M234.5 159.5h0.9M236.5 162.5h0.9M235 150.5h0.9M240 158.5h0.9M239 142h0.9M235.5 131h0.9M236.5 150h0.9M226.5 155.5h0.9M242.5 135.5h0.9M224.5 163.5h0.9M239 132.5h0.9M233.5 155.5h0.9M231 154.5h0.9M241 164.5h0.9M229 168.5h0.9M232.5 164.5h0.9M242 143.5h0.9M236 137h0.9M235 135.5h0.9M234 158.5h0.9M243 141.5h0.9M237.5 135h0.9M231.5 140h0.9M240.5 157.5h0.9M232.5 140h0.9M238 159.5h0.9M245 145h0.9M238 140h0.9M236 162h0.9M235 125h0.9M235 123h0.9M229.5 140h0.9M236 132h0.9M232.5 130.5h0.9M240.5 128.5h0.9M237 151.5h0.9M234.5 138h0.9M235 152.5h0.9M232.5 159.5h0.9M229.5 150h0.9M238 140.5h0.9M237 128h0.9M231 161.5h0.9M240.5 146.5h0.9M238.5 139.5h0.9M239 135h0.9M240 126h0.9M231 138h0.9M234.5 149.5h0.9M233.5 169h0.9M233 156h0.9M237 155h0.9M234.5 154.5h0.9M241.5 140h0.9M227.5 155.5h0.9M230.5 176h0.9M235.5 135h0.9M234 143.5h0.9M236 147.5h0.9M230.5 157h0.9M230 142.5h0.9M229.5 163h0.9M231.5 134.5h0.9M236.5 133.5h0.9M240 144h0.9M236.5 144.5h0.9M237 130.5h0.9M236.5 146.5h0.9M237 148.5h0.9M242 136h0.9M231.5 154h0.9M232 150.5h0.9M238 127.5h0.9M239.5 137.5h0.9M235 130h0.9M235 147h0.9M235 141.5h0.9M238 154.5h0.9M235.5 139h0.9M240.5 154h0.9M234.5 177.5h0.9M232 146.5h0.9M239 138h0.9M240 136.5h0.9M229 158.5h0.9M232.5 145h0.9M235.5 152h0.9M234.5 143h0.9M239.5 151h0.9M233 160h0.9M236 142h0.9M231.5 143h0.9M236 150.5h0.9M233.5 171h0.9M237.5 145h0.9M241.5 137h0.9M237 153h0.9M231 153.5h0.9M242 155.5h0.9M237.5 133.5h0.9M233 140h0.9M229 145h0.9M234 122h0.9M238 142.5h0.9M233.5 161h0.9M232 147h0.9M237.5 134h0.9M236 169h0.9M238.5 137.5h0.9M237.5 154.5h0.9M233 147.5h0.9M231 152.5h0.9M229.5 142.5h0.9M232 163h0.9M238 143h0.9M231 169.5h0.9M227 147h0.9M226.5 157h0.9M231 163h0.9M232.5 158h0.9M239 118h0.9M235 132h0.9M238 153.5h0.9M241.5 150.5h0.9M236.5 133h0.9M233.5 147.5h0.9M237.5 132.5h0.9M237.5 153h0.9M237 136h0.9M241 133.5h0.9M239.5 133.5h0.9M242 137h0.9M235 153h0.9M238 157h0.9M236.5 160.5h0.9M232.5 137h0.9M238.5 160.5h0.9M234 150h0.9M230.5 141.5h0.9M234.5 151h0.9M236 144.5h0.9M239.5 122.5h0.9M244 157h0.9M234.5 168.5h0.9M241 149h0.9M231.5 149h0.9M233.5 156h0.9M240.5 137h0.9M232 144h0.9M238.5 145h0.9M232.5 155.5h0.9M237 142.5h0.9M236 145.5h0.9M233.5 142.5h0.9M238 139.5h0.9M241.5 149h0.9M232.5 148.5h0.9M236.5 151h0.9M233.5 144.5h0.9M236 157.5h0.9M224.5 152.5h0.9M237.5 161h0.9M236 154.5h0.9M238.5 137h0.9M230.5 149h0.9M233 142.5h0.9M229 143h0.9M238 165.5h0.9M233.5 138h0.9M233 163.5h0.9M243 136h0.9M232 162.5h0.9M235 154h0.9M230.5 172.5h0.9M234 129.5h0.9M234.5 162.5h0.9M234 147h0.9M233.5 137.5h0.9M231.5 141.5h0.9M241.5 148h0.9M233.5 170h0.9M238.5 135.5h0.9M242 138h0.9M239 144h0.9M233.5 152.5h0.9M236.5 141h0.9M236.5 134.5h0.9M239 121h0.9M234.5 161.5h0.9M239.5 114h0.9M239.5 138.5h0.9M230.5 129h0.9M236.5 141.5h0.9M242.5 129.5h0.9M232 141.5h0.9M237 134.5h0.9M235 161h0.9M236.5 168.5h0.9M239 148h0.9M240.5 155.5h0.9M241.5 146.5h0.9M235.5 153.5h0.9M233 140.5h0.9M234 162h0.9M241.5 153.5h0.9M233.5 142h0.9M239 149.5h0.9M243.5 153h0.9M232.5 145.5h0.9M230.5 152.5h0.9M235.5 132.5h0.9M233 160.5h0.9M233 147h0.9M240.5 127.5h0.9M237 155.5h0.9M235.5 149h0.9M237 139.5h0.9M235 157.5h0.9M236.5 148.5h0.9M236.5 129h0.9M234 158h0.9" stroke="#000" stroke-opacity="0.7" stroke-width="0.9" fill="none"/>
<path d="M235.5 149h0.9M239 142h0.9M228.5 166h0.9M238 131h0.9M234 159h0.9M226.5 159.5h0.9M230.5 170.5h0.9M239 141h0.9M238.5 161h0.9M234 145h0.9M231.5 154.5h0.9M230 138.5h0.9M225 149h0.9M228.5 125.5h0.9M237.5 137.5h0.9M236 128h0.9M237.5 117h0.9M235.5 153.5h0.9M240 149.5h0.9M239 148.5h0.9M237.5 131.5h0.9M223 149.5h0.9M231 170h0.9M225.5 152.5h0.9M231.5 141.5h0.9M231 146.5h0.9M233.5 154.5h0.9M240 150.5h0.9M232.5 159.5h0.9M234.5 148h0.9M236 132.5h0.9M221.5 150h0.9M229 151.5h0.9M246.5 125h0.9M240 141.5h0.9M240.5 125.5h0.9M235.5 144.5h0.9M237 173.5h0.9M238 137h0.9M245.5 142h0.9M235.5 143.5h0.9M236 152.5h0.9M233.5 140h0.9M240.5 166h0.9M237 146.5h0.9M232.5 156.5h0.9M233.5 143.5h0.9M235 133h0.9M236 142.5h0.9M233.5 141h0.9M237 135.5h0.9M236.5 158.5h0.9M237 138.5h0.9M231.5 169h0.9M242 129.5h0.9M237 135h0.9M238 118.5h0.9M239 123h0.9M230 163h0.9M242 130.5h0.9M233.5 128.5h0.9M230 127h0.9M237 127.5h0.9M229.5 166.5h0.9M238.5 143.5h0.9M241 162h0.9M232 146.5h0.9M237 121.5h0.9M240.5 165h0.9M229 148.5h0.9M226.5 156.5h0.9M236.5 138h0.9M241.5 143.5h0.9M232.5 155h0.9M232.5 154.5h0.9M234 154h0.9M237 154h0.9M227 168.5h0.9M231 167h0.9M234 138h0.9M232 158.5h0.9M233 148h0.9M230 134.5h0.9M237 141h0.9M226.5 148h0.9M227.5 169h0.9M230 174.5h0.9M237.5 149.5h0.9M234 140.5h0.9M242 115h0.9M243 126.5h0.9M236 153.5h0.9M236.5 147h0.9M234 144h0.9M242 137h0.9M236.5 153h0.9M234.5 145.5h0.9M238 135.5h0.9M247.5 138h0.9M241 159h0.9M226.5 144.5h0.9M238.5 154.5h0.9M231.5 145.5h0.9M233 126.5h0.9M234.5 145h0.9M242 148.5h0.9M243 126h0.9M232 134.5h0.9M246.5 124.5h0.9M229 140h0.9M245 119.5h0.9M238 122.5h0.9M240.5 153h0.9M237 141.5h0.9M234.5 144h0.9M235 129h0.9M231 141.5h0.9M230.5 154h0.9M225.5 149h0.9M235.5 160h0.9M238 120.5h0.9M229 158h0.9M235.5 136h0.9M238.5 119.5h0.9M231 156.5h0.9M242.5 141.5h0.9M230.5 161.5h0.9M237.5 125h0.9M233.5 152h0.9M244 136h0.9M239 138h0.9M240.5 146.5h0.9M239 128h0.9M235 137.5h0.9M218 152h0.9M236.5 139h0.9M234 142.5h0.9M240 123.5h0.9M236 144h0.9M239.5 120.5h0.9M238 123.5h0.9M234.5 161.5h0.9M240.5 138h0.9M234.5 133.5h0.9M239 133h0.9M234 130h0.9M230.5 159h0.9M233 122h0.9M240.5 128.5h0.9M234.5 144.5h0.9M237.5 131h0.9M236.5 164.5h0.9M232 137.5h0.9M240.5 140h0.9M232.5 135h0.9M242 128.5h0.9M236 148h0.9M231.5 150h0.9M236.5 157h0.9M243.5 121.5h0.9M238.5 151h0.9M239 148h0.9M228 159.5h0.9M234.5 127h0.9M239 133.5h0.9M238 139h0.9M235 154h0.9M241.5 130.5h0.9M238 151.5h0.9M234 158.5h0.9M241.5 154h0.9M228.5 147.5h0.9M236 138h0.9M238 137.5h0.9M242.5 147.5h0.9M234 153.5h0.9M236.5 159.5h0.9M238.5 142h0.9M241.5 111.5h0.9M227 156h0.9M230.5 168h0.9M246.5 125.5h0.9M231.5 147.5h0.9M235.5 138.5h0.9M234.5 142h0.9M241 131h0.9M239.5 132.5h0.9M237.5 147h0.9M232 143.5h0.9M234.5 129.5h0.9M245 117h0.9M230.5 157.5h0.9M243 124.5h0.9M237 149.5h0.9M241 132.5h0.9M226 146.5h0.9M236.5 117h0.9M239.5 108h0.9M231 163.5h0.9M222 147h0.9M232.5 135.5h0.9M230.5 151h0.9M231 135h0.9M243.5 125.5h0.9M237 147.5h0.9M224.5 157h0.9M230.5 174.5h0.9M244 140h0.9M237.5 127.5h0.9M228 153h0.9M235.5 136.5h0.9M240 143h0.9M234.5 143.5h0.9M250 113.5h0.9M229.5 148.5h0.9M233.5 160h0.9M237 172h0.9M231 150.5h0.9M232.5 156h0.9M234.5 155.5h0.9M232 144h0.9M236 127h0.9M240 147.5h0.9M243 128.5h0.9M228.5 131.5h0.9M233.5 153.5h0.9M237.5 161h0.9M241 154h0.9M238 131.5h0.9M240 135.5h0.9M235 155h0.9M230 159h0.9M238 140h0.9M235 126h0.9M226.5 162h0.9M228 150.5h0.9M236 134h0.9M239 122.5h0.9M223.5 168.5h0.9M235 119h0.9M244.5 121.5h0.9M237 156.5h0.9M234.5 156.5h0.9M232.5 123.5h0.9M235 142h0.9M234.5 149h0.9M237.5 111h0.9M238 139.5h0.9M234.5 173h0.9M235 151h0.9M230 155h0.9M237 146h0.9M242.5 126.5h0.9M247 117h0.9M230.5 174h0.9M235 135.5h0.9M238 180h0.9M238 132h0.9M234 136h0.9M236.5 143h0.9M238 143h0.9M228.5 152h0.9M238.5 134h0.9M234 147h0.9M236.5 140.5h0.9M237 158.5h0.9M231.5 139h0.9M236 155h0.9M232 145h0.9M230.5 143.5h0.9M238 129h0.9M239.5 135.5h0.9M234.5 165.5h0.9M234 136.5h0.9M228 138.5h0.9M230.5 143h0.9M228.5 128.5h0.9M235.5 148h0.9M229.5 135h0.9M245.5 155.5h0.9M230.5 149h0.9M236 149h0.9M240 144.5h0.9M243.5 117h0.9M247.5 139.5h0.9M229.5 163.5h0.9M232.5 146h0.9M241.5 126h0.9M236 132h0.9M229 147.5h0.9M234.5 159h0.9M237 132.5h0.9M229 142.5h0.9M230 171h0.9M242.5 166.5h0.9M235 121.5h0.9M237 129h0.9M242 145h0.9M234 141.5h0.9M243.5 129.5h0.9M241 123.5h0.9M236.5 132.5h0.9M237 144.5h0.9M239.5 153h0.9M236 122.5h0.9M233 135.5h0.9M236.5 131h0.9M238.5 156.5h0.9M235.5 134.5h0.9M235 141.5h0.9M239.5 118.5h0.9M238 114.5h0.9M234.5 152h0.9M234.5 131.5h0.9M242.5 156.5h0.9M239 136h0.9M240 129.5h0.9M236.5 136.5h0.9M225.5 165.5h0.9M241.5 131h0.9M231 130.5h0.9M233.5 132.5h0.9M231 129h0.9M235 148h0.9M227 140.5h0.9M234 126h0.9M237.5 152.5h0.9M239.5 170.5h0.9M237 164h0.9M229.5 168h0.9M232.5 158h0.9M233.5 142.5h0.9M233.5 142h0.9M242.5 129.5h0.9M233 150h0.9M229 171.5h0.9M223.5 178h0.9M230.5 156h0.9M242 151h0.9M230.5 136h0.9M235 150.5h0.9M237.5 159h0.9M244.5 129h0.9M244.5 117h0.9M239 126.5h0.9M225.5 154h0.9M233.5 156.5h0.9M231.5 123h0.9M237 132h0.9M237.5 133h0.9M237 125h0.9M242.5 138.5h0.9M229 151h0.9M237.5 145.5h0.9M237.5 136.5h0.9M240.5 109.5h0.9M234 160h0.9M235.5 138h0.9M241.5 137.5h0.9M238 149h0.9M229 145.5h0.9M239.5 125.5h0.9M234 122.5h0.9M237 174h0.9M235.5 165.5h0.9M241 167h0.9M229 157.5h0.9M233 158h0.9M233 142h0.9M232 148.5h0.9M232.5 158.5h0.9M238.5 149h0.9M236.5 137.5h0.9M234 153h0.9M235.5 146.5h0.9M236 141h0.9M237 114h0.9M237 150.5h0.9M227 169.5h0.9M228 156h0.9M236 147h0.9M239 156.5h0.9M238.5 126.5h0.9M230 144h0.9M241 156h0.9M235 147h0.9M235 168h0.9M230.5 152h0.9M239 131h0.9M228 160h0.9M234 156.5h0.9M232.5 166h0.9M236.5 130.5h0.9M237.5 128h0.9M231.5 160h0.9M242 152.5h0.9M239 129h0.9M230.5 147h0.9M238 133.5h0.9M230 165h0.9M240 143.5h0.9M234 161h0.9M232.5 116h0.9M231 148h0.9M238 141h0.9M225.5 162.5h0.9M243.5 134.5h0.9M244.5 144h0.9M228 135.5h0.9M226 157.5h0.9M240.5 122h0.9M242.5 117h0.9M235.5 149.5h0.9M239 125.5h0.9M235.5 139.5h0.9M232.5 164h0.9M240 166.5h0.9M234.5 130.5h0.9M235 148.5h0.9M228 131.5h0.9M247 125h0.9M234 131h0.9M238 141.5h0.9M238 119.5h0.9M238.5 142.5h0.9M232.5 142h0.9M243 120.5h0.9M231 126h0.9M230.5 158h0.9M232 157h0.9M223 138.5h0.9M238.5 166.5h0.9M235.5 129.5h0.9M240.5 124h0.9M238 117h0.9M236 142h0.9M242.5 148.5h0.9M233 140h0.9M230 141.5h0.9M234 148h0.9M244.5 113h0.9M235.5 153h0.9M226 169.5h0.9M226.5 178h0.9M237 157h0.9M234.5 157h0.9M233 129.5h0.9M225.5 148.5h0.9M231 152.5h0.9M241.5 122.5h0.9M238.5 146.5h0.9M235.5 142h0.9M243 128h0.9M232 130h0.9M241.5 138h0.9M233.5 135h0.9M234 162h0.9M237.5 127h0.9M236 165.5h0.9M223 149h0.9M239 130h0.9M233 146h0.9M236.5 138.5h0.9M230 145.5h0.9M232.5 143h0.9M232.5 144.5h0.9M238.5 146h0.9M242 122h0.9M233.5 139h0.9M223 141h0.9M239.5 133h0.9M237.5 138.5h0.9M238 143.5h0.9M233.5 149h0.9M245 109h0.9M227.5 160.5h0.9M242.5 127.5h0.9M229 153.5h0.9M233.5 136.5h0.9M227 138.5h0.9M242 136h0.9M231 167.5h0.9M236.5 163.5h0.9M236 160h0.9M230 128.5h0.9M223 173.5h0.9M237 140h0.9M234.5 126.5h0.9M218 173h0.9M235.5 143h0.9M229.5 140h0.9M237.5 141h0.9M240.5 130h0.9M235 155.5h0.9M237.5 148h0.9M239 136.5h0.9M229.5 152.5h0.9M230 132.5h0.9M238.5 141h0.9M231.5 148h0.9M236.5 143.5h0.9M240 147h0.9M233.5 144h0.9M246.5 132.5h0.9M236.5 130h0.9M240.5 123.5h0.9M234.5 128.5h0.9M229 141.5h0.9M232 132h0.9M235.5 131.5h0.9M236 166h0.9M228 128.5h0.9M239.5 126.5h0.9M233 144.5h0.9M239.5 160.5h0.9M234 143.5h0.9M234.5 139h0.9M234.5 115h0.9M232 156h0.9M243.5 115h0.9M239.5 126h0.9M240.5 139.5h0.9M236.5 155.5h0.9M227.5 137.5h0.9M242.5 143.5h0.9M239.5 149h0.9M233 145.5h0.9M237.5 162h0.9M245 126.5h0.9M243 122h0.9M238 147h0.9M243 134h0.9M238.5 148.5h0.9M238.5 124h0.9M239.5 142h0.9M233.5 147.5h0.9M236.5 152.5h0.9M246 134h0.9M247 130.5h0.9M229 153h0.9M241.5 132h0.9M247.5 139h0.9M245.5 128h0.9M231 142.5h0.9M230 148h0.9" stroke="#000" stroke-opacity="0.45" stroke-width="0.9" fill="none"/>
<path d="M199.5 167.5h0.9M218 164h0.9M227.5 166.5h0.9M219.5 169.5h0.9M228.5 168h0.9M241 167h0.9M235 165.5h0.9M232 168.5h0.9M218.5 162.5h0.9M209.5 164h0.9M231.5 166.5h0.9M221.5 168.5h0.9M233.5 171h0.9M218 168.5h0.9M233.5 164h0.9M226.5 164.5h0.9M222.5 168h0.9M204.5 164.5h0.9M215.5 167.5h0.9M216 168h0.9M214.5 165.5h0.9M232 168h0.9M227 167h0.9M237 171h0.9M220.5 165h0.9M212.5 172h0.9M214.5 163h0.9M228 170h0.9M210 166.5h0.9M208 165h0.9M244.5 167.5h0.9M222 167h0.9M228.5 166.5h0.9M211 163.5h0.9M249 164.5h0.9M239.5 165h0.9M240.5 169h0.9M222.5 173h0.9M214 166.5h0.9M214.5 164.5h0.9M220.5 164h0.9M221 171.5h0.9M204 163.5h0.9M213.5 165.5h0.9M237 169h0.9M230.5 167.5h0.9M253.5 163.5h0.9M211 167h0.9M215 163h0.9M221.5 165h0.9M219 164h0.9M241 168.5h0.9M247 165.5h0.9M225.5 166.5h0.9M225 166h0.9M223 161h0.9M221.5 169h0.9M202 166h0.9M232 171h0.9M224 168.5h0.9M246 171h0.9M219.5 165h0.9M237 167.5h0.9M218.5 166.5h0.9M229 166.5h0.9M222 166.5h0.9M207 172h0.9M239.5 171.5h0.9M223.5 167.5h0.9M232 169.5h0.9M203 168h0.9M213 167h0.9M217 172h0.9M231.5 167h0.9M241.5 167h0.9M216.5 166.5h0.9M220.5 167h0.9M235 166.5h0.9M224 170h0.9M228.5 170h0.9M226.5 163h0.9M211.5 162h0.9M238.5 168h0.9M219.5 164h0.9M229.5 166.5h0.9M229 164.5h0.9M212 171.5h0.9M213.5 167h0.9M241 161.5h0.9M233.5 167h0.9M223.5 168h0.9M211 160.5h0.9M247.5 166h0.9M235.5 170.5h0.9M228.5 168.5h0.9M233.5 171.5h0.9M231 170.5h0.9M221.5 165.5h0.9M226 168h0.9M231.5 173h0.9M235 167h0.9M248.5 168h0.9M229.5 168.5h0.9M221 164h0.9M226.5 166h0.9M215 167.5h0.9M222.5 165h0.9M204 166.5h0.9M246 169.5h0.9M238 167h0.9M237.5 165h0.9M219.5 168.5h0.9M208 167h0.9M228.5 172h0.9M216.5 168.5h0.9M217.5 165.5h0.9M193 164h0.9M238.5 168.5h0.9M227 174.5h0.9M231.5 163.5h0.9M222.5 167h0.9M244 164.5h0.9M230 170h0.9M201 167.5h0.9M199 166h0.9M245.5 168h0.9M225.5 167.5h0.9M250.5 168.5h0.9M237.5 165.5h0.9M220 164h0.9M223 165h0.9M223.5 165.5h0.9M228.5 169h0.9M227 164h0.9M222.5 165.5h0.9M232 161.5h0.9M218.5 170h0.9M227.5 164.5h0.9M230.5 168h0.9M214.5 169h0.9M233 166.5h0.9M236 163.5h0.9M234 166.5h0.9M214 165h0.9M239 165.5h0.9M221 165h0.9M215.5 170h0.9M251.5 171h0.9M231 169.5h0.9M221 165.5h0.9M211 171.5h0.9M217.5 167.5h0.9M218.5 167h0.9M227 171h0.9M210.5 168h0.9M217 165.5h0.9M244.5 169h0.9M220.5 168.5h0.9M225 170.5h0.9M223.5 165h0.9M226.5 170h0.9M218 166h0.9M229.5 165h0.9M235.5 169h0.9M198 165h0.9M212.5 169.5h0.9M217 167h0.9M220.5 169h0.9M236.5 169h0.9M238 170h0.9M224.5 165.5h0.9M216.5 169.5h0.9M235.5 170h0.9M221.5 166h0.9M228.5 170.5h0.9M229.5 167.5h0.9M215.5 168.5h0.9M231.5 164h0.9M246 164.5h0.9M236 166.5h0.9M227 164.5h0.9M218.5 169h0.9M223 166h0.9M227 167.5h0.9M245.5 166.5h0.9M230 168.5h0.9M208.5 161.5h0.9M226.5 169.5h0.9M227.5 165.5h0.9M217.5 169.5h0.9" stroke="#444" stroke-opacity="0.3" stroke-width="0.9" fill="none"/>
<ellipse cx="207.4" cy="168.2" rx="8.6" ry="8.6" transform="rotate(0 207.4 168.2)" fill="#999"/>
<ellipse cx="207.4" cy="168.2" rx="7.6" ry="7.6" transform="rotate(0 207.4 168.2)" fill="#333"/>
<ellipse cx="207.4" cy="168.2" rx="6.5" ry="6.5" transform="rotate(0 207.4 168.2)" fill="#111"/>
<ellipse cx="207.4" cy="168.2" rx="5.2" ry="5.2" transform="rotate(0 207.4 168.2)" fill="#666"/>
<ellipse cx="207.4" cy="168.2" rx="3.9" ry="3.9" transform="rotate(0 207.4 168.2)" fill="#111"/>
<ellipse cx="207.4" cy="168.2" rx="1" ry="1" transform="rotate(0 207.4 168.2)" fill="#fff"/>
<ellipse cx="235.2" cy="152.7" rx="4.3" ry="8" transform="rotate(0 235.2 152.7)" fill="#000"/>
<ellipse cx="235.2" cy="152.7" rx="3.1" ry="5.8" transform="rotate(0 235.2 152.7)" fill="#fff"/>
<ellipse cx="235.2" cy="152.7" rx="1.5" ry="3.8" transform="rotate(0 235.2 152.7)" fill="none" stroke="#999" stroke-width="0.6"/>
<path d="M191.1 174.10h-3M191.1 168.08h-1.9M191.1 164.56h-1.9M191.1 162.06h-1.9M191.1 160.12h-1.9M191.1 158.54h-1.9M191.1 157.20h-1.9M191.1 156.04h-1.9M191.1 155.02h-1.9M191.1 154.10h-3M191.1 148.08h-1.9M191.1 144.56h-1.9M191.1 142.06h-1.9M191.1 140.12h-1.9M191.1 138.54h-1.9M191.1 137.20h-1.9M191.1 136.04h-1.9M191.1 135.02h-1.9M191.1 134.10h-3M191.1 128.08h-1.9M191.1 124.56h-1.9M191.1 122.06h-1.9M191.1 120.12h-1.9M191.1 118.54h-1.9M191.1 117.20h-1.9M191.1 116.04h-1.9M191.1 115.02h-1.9M191.1 114.10h-3M191.1 108.08h-1.9" stroke="#000" stroke-width="0.75" fill="none"/>
<path d="M201.60 182.1v3M207.62 182.1v1.9M211.14 182.1v1.9M213.64 182.1v1.9M215.58 182.1v1.9M217.16 182.1v1.9M218.50 182.1v1.9M219.66 182.1v1.9M220.68 182.1v1.9M221.60 182.1v3M227.62 182.1v1.9M231.14 182.1v1.9M233.64 182.1v1.9M235.58 182.1v1.9M237.16 182.1v1.9M238.50 182.1v1.9M239.66 182.1v1.9M240.68 182.1v1.9M241.60 182.1v3M247.62 182.1v1.9M251.14 182.1v1.9M253.64 182.1v1.9M255.58 182.1v1.9M257.16 182.1v1.9M258.50 182.1v1.9M259.66 182.1v1.9M260.68 182.1v1.9M261.60 182.1v3M267.62 182.1v1.9" stroke="#000" stroke-width="0.75" fill="none"/>
<line x1="217.2" y1="106.6" x2="217.2" y2="182.1" stroke="#4a4ac4" stroke-width="1"/>
<line x1="191.1" y1="160.4" x2="267.9" y2="160.4" stroke="#4a4ac4" stroke-width="1"/>
<rect x="191.1" y="106.6" width="76.8" height="75.5" fill="none" stroke="#111" stroke-width="1.3"/>
<text x="293.8" y="17.3" font-size="13" text-anchor="start" font-weight="bold" font-style="normal" fill="#000">B</text>
<line x1="337.5" y1="35" x2="337.5" y2="165" stroke="#111" stroke-width="1.3"/>
<line x1="337.5" y1="155" x2="487" y2="155" stroke="#111" stroke-width="1.3"/>
<path d="M334.0 155.0H337.5M335.5 141.9H337.5M334.0 128.9H337.5M335.5 115.8H337.5M334.0 102.8H337.5M335.5 89.8H337.5M334.0 76.7H337.5M335.5 63.6H337.5M334.0 50.6H337.5" stroke="#111" stroke-width="1" fill="none"/>
<text x="331" y="158" font-size="8" text-anchor="end" font-weight="normal" font-style="normal" fill="#444">0.0</text>
<text x="331" y="131.9" font-size="8" text-anchor="end" font-weight="normal" font-style="normal" fill="#444">1.0</text>
<text x="331" y="105.8" font-size="8" text-anchor="end" font-weight="normal" font-style="normal" fill="#444">2.0</text>
<text x="331" y="79.7" font-size="8" text-anchor="end" font-weight="normal" font-style="normal" fill="#444">3.0</text>
<text x="331" y="53.6" font-size="8" text-anchor="end" font-weight="normal" font-style="normal" fill="#444">4.0</text>
<path d="M375.5 155.0V158.0M399.8 155.0V158.0M423.8 155.0V158.0M447.6 155.0V158.0M471.7 155.0V158.0" stroke="#111" stroke-width="1" fill="none"/>
<text x="351.5" y="171.5" font-size="8.2" text-anchor="middle" font-weight="normal" font-style="normal" fill="#333">DLBCL</text>
<text x="375.5" y="171.5" font-size="8.2" text-anchor="middle" font-weight="normal" font-style="normal" fill="#333">FL</text>
<text x="399.8" y="171.5" font-size="8.2" text-anchor="middle" font-weight="normal" font-style="normal" fill="#333">CLL</text>
<text x="423.8" y="171.5" font-size="8.2" text-anchor="middle" font-weight="normal" font-style="normal" fill="#333">MCL</text>
<text x="447.8" y="171.5" font-size="8.2" text-anchor="middle" font-weight="normal" font-style="normal" fill="#333">tonsil</text>
<text x="472" y="171.5" font-size="8.2" text-anchor="middle" font-weight="normal" font-style="normal" fill="#333">PBMC</text>
<line x1="339.5" y1="175" x2="436" y2="175" stroke="#111" stroke-width="1.3"/>
<line x1="438.8" y1="175" x2="488" y2="175" stroke="#666" stroke-width="1"/>
<text x="388.5" y="183" font-size="8.2" text-anchor="middle" font-weight="normal" font-style="normal" fill="#333">malignant B cells</text>
<text x="463.5" y="183" font-size="8.2" text-anchor="middle" font-weight="normal" font-style="normal" fill="#333">normal B cells</text>
<text x="302.4" y="95" font-size="9.6" text-anchor="middle" font-weight="normal" font-style="normal" fill="#222" stroke="#222" stroke-width="0.22" transform="rotate(-90 302.4 95)" textLength="102.3" lengthAdjust="spacingAndGlyphs">CD79B surface expression</text>
<text x="314" y="95" font-size="9.2" text-anchor="middle" font-weight="normal" font-style="normal" fill="#222" stroke="#222" stroke-width="0.22" transform="rotate(-90 314 95)" textLength="71.5" lengthAdjust="spacingAndGlyphs">(relative to T cells)</text>
<line x1="350.6" y1="36.3" x2="400.6" y2="36.3" stroke="#000" stroke-width="1.3"/>
<line x1="375.8" y1="31.3" x2="400.7" y2="31.3" stroke="#000" stroke-width="1.3"/>
<line x1="398.4" y1="25.5" x2="423.6" y2="25.5" stroke="#000" stroke-width="1.3"/>
<circle cx="362.7" cy="32.5" r="1.25" fill="#111"/>
<circle cx="366.5" cy="32.5" r="1.25" fill="#111"/>
<circle cx="383.8" cy="26.8" r="1.25" fill="#111"/>
<circle cx="387.7" cy="26.8" r="1.25" fill="#111"/>
<circle cx="391.5" cy="26.8" r="1.25" fill="#111"/>
<circle cx="407.8" cy="21.6" r="1.25" fill="#111"/>
<circle cx="411.8" cy="21.6" r="1.25" fill="#111"/>
<circle cx="415.9" cy="21.6" r="1.25" fill="#111"/>
<circle cx="351.7" cy="55.2" r="2.1" fill="#9cb8cc" stroke="#111" stroke-width="1.5"/>
<circle cx="351.7" cy="76.5" r="2.1" fill="#9cb8cc" stroke="#111" stroke-width="1.5"/>
<circle cx="345.6" cy="89.8" r="2.1" fill="#9cb8cc" stroke="#111" stroke-width="1.5"/>
<circle cx="354.5" cy="89.8" r="2.1" fill="#9cb8cc" stroke="#111" stroke-width="1.5"/>
<circle cx="357.3" cy="92.3" r="2.1" fill="#9cb8cc" stroke="#111" stroke-width="1.5"/>
<circle cx="351.5" cy="95.3" r="2.1" fill="#9cb8cc" stroke="#111" stroke-width="1.5"/>
<circle cx="346" cy="109.4" r="2.1" fill="#9cb8cc" stroke="#111" stroke-width="1.5"/>
<circle cx="351.7" cy="109.4" r="2.1" fill="#9cb8cc" stroke="#111" stroke-width="1.5"/>
<circle cx="357.4" cy="122.3" r="2.1" fill="#9cb8cc" stroke="#111" stroke-width="1.5"/>
<circle cx="351.7" cy="127.5" r="2.1" fill="#9cb8cc" stroke="#111" stroke-width="1.5"/>
<circle cx="351.7" cy="143.1" r="2.1" fill="#9cb8cc" stroke="#111" stroke-width="1.5"/>
<circle cx="351.7" cy="160" r="2.1" fill="#9cb8cc" stroke="#111" stroke-width="1.5"/>
<circle cx="375.5" cy="52" r="2.1" fill="#40324e" stroke="#111" stroke-width="1.5"/>
<circle cx="369.5" cy="78" r="2.1" fill="#40324e" stroke="#111" stroke-width="1.5"/>
<circle cx="375.5" cy="79.7" r="2.1" fill="#40324e" stroke="#111" stroke-width="1.5"/>
<circle cx="369.5" cy="83.6" r="2.1" fill="#40324e" stroke="#111" stroke-width="1.5"/>
<circle cx="378.3" cy="81.9" r="2.1" fill="#40324e" stroke="#111" stroke-width="1.5"/>
<circle cx="381.7" cy="84.2" r="2.1" fill="#40324e" stroke="#111" stroke-width="1.5"/>
<circle cx="375.5" cy="85.9" r="2.1" fill="#40324e" stroke="#111" stroke-width="1.5"/>
<circle cx="372.6" cy="88.8" r="2.1" fill="#40324e" stroke="#111" stroke-width="1.5"/>
<circle cx="378.3" cy="88.8" r="2.1" fill="#40324e" stroke="#111" stroke-width="1.5"/>
<circle cx="369.5" cy="92.2" r="2.1" fill="#40324e" stroke="#111" stroke-width="1.5"/>
<circle cx="375.5" cy="93.3" r="2.1" fill="#40324e" stroke="#111" stroke-width="1.5"/>
<circle cx="381.7" cy="92.2" r="2.1" fill="#40324e" stroke="#111" stroke-width="1.5"/>
<circle cx="369.5" cy="98.4" r="2.1" fill="#40324e" stroke="#111" stroke-width="1.5"/>
<circle cx="375.5" cy="100.1" r="2.1" fill="#40324e" stroke="#111" stroke-width="1.5"/>
<circle cx="381.7" cy="99.5" r="2.1" fill="#40324e" stroke="#111" stroke-width="1.5"/>
<circle cx="372.6" cy="103.5" r="2.1" fill="#40324e" stroke="#111" stroke-width="1.5"/>
<circle cx="369.8" cy="107.4" r="2.1" fill="#40324e" stroke="#111" stroke-width="1.5"/>
<circle cx="375.2" cy="108.4" r="2.1" fill="#40324e" stroke="#111" stroke-width="1.5"/>
<circle cx="381.2" cy="105.4" r="2.1" fill="#40324e" stroke="#111" stroke-width="1.5"/>
<circle cx="369.8" cy="121.8" r="2.1" fill="#40324e" stroke="#111" stroke-width="1.5"/>
<circle cx="372.7" cy="120.8" r="2.1" fill="#40324e" stroke="#111" stroke-width="1.5"/>
<circle cx="377.2" cy="118.3" r="2.1" fill="#40324e" stroke="#111" stroke-width="1.5"/>
<circle cx="381.2" cy="122.3" r="2.1" fill="#40324e" stroke="#111" stroke-width="1.5"/>
<circle cx="375.2" cy="124.3" r="2.1" fill="#40324e" stroke="#111" stroke-width="1.5"/>
<circle cx="399.8" cy="96.5" r="2.1" fill="#dcd874" stroke="#111" stroke-width="1.5"/>
<circle cx="394" cy="132.1" r="2.1" fill="#dcd874" stroke="#111" stroke-width="1.5"/>
<circle cx="399.8" cy="134" r="2.1" fill="#dcd874" stroke="#111" stroke-width="1.5"/>
<circle cx="402.3" cy="138.3" r="2.1" fill="#dcd874" stroke="#111" stroke-width="1.5"/>
<circle cx="394" cy="139.2" r="2.1" fill="#dcd874" stroke="#111" stroke-width="1.5"/>
<circle cx="399.4" cy="141.3" r="2.1" fill="#dcd874" stroke="#111" stroke-width="1.5"/>
<circle cx="405.5" cy="140.8" r="2.1" fill="#dcd874" stroke="#111" stroke-width="1.5"/>
<circle cx="394" cy="142.5" r="2.1" fill="#dcd874" stroke="#111" stroke-width="1.5"/>
<circle cx="399.8" cy="147.3" r="2.1" fill="#dcd874" stroke="#111" stroke-width="1.5"/>
<circle cx="394" cy="152.2" r="2.1" fill="#dcd874" stroke="#111" stroke-width="1.5"/>
<circle cx="396.9" cy="151.3" r="2.1" fill="#dcd874" stroke="#111" stroke-width="1.5"/>
<circle cx="402.3" cy="151.7" r="2.1" fill="#dcd874" stroke="#111" stroke-width="1.5"/>
<circle cx="399.8" cy="155.2" r="2.1" fill="#dcd874" stroke="#111" stroke-width="1.5"/>
<circle cx="405.5" cy="154.6" r="2.1" fill="#dcd874" stroke="#111" stroke-width="1.5"/>
<circle cx="423.9" cy="41.4" r="2.1" fill="#7e1834" stroke="#111" stroke-width="1.5"/>
<circle cx="429.7" cy="50.1" r="2.1" fill="#7e1834" stroke="#111" stroke-width="1.5"/>
<circle cx="417.9" cy="52.7" r="2.1" fill="#7e1834" stroke="#111" stroke-width="1.5"/>
<circle cx="423.9" cy="53.3" r="2.1" fill="#7e1834" stroke="#111" stroke-width="1.5"/>
<circle cx="417.9" cy="56.7" r="2.1" fill="#7e1834" stroke="#111" stroke-width="1.5"/>
<circle cx="429.7" cy="59.5" r="2.1" fill="#7e1834" stroke="#111" stroke-width="1.5"/>
<circle cx="423.9" cy="61.4" r="2.1" fill="#7e1834" stroke="#111" stroke-width="1.5"/>
<circle cx="420.7" cy="66.1" r="2.1" fill="#7e1834" stroke="#111" stroke-width="1.5"/>
<circle cx="426.7" cy="65.2" r="2.1" fill="#7e1834" stroke="#111" stroke-width="1.5"/>
<circle cx="417.9" cy="70.3" r="2.1" fill="#7e1834" stroke="#111" stroke-width="1.5"/>
<circle cx="423.9" cy="71.2" r="2.1" fill="#7e1834" stroke="#111" stroke-width="1.5"/>
<circle cx="429.7" cy="68.6" r="2.1" fill="#7e1834" stroke="#111" stroke-width="1.5"/>
<circle cx="429.7" cy="75" r="2.1" fill="#7e1834" stroke="#111" stroke-width="1.5"/>
<circle cx="423.9" cy="77.1" r="2.1" fill="#7e1834" stroke="#111" stroke-width="1.5"/>
<circle cx="417.9" cy="82.2" r="2.1" fill="#7e1834" stroke="#111" stroke-width="1.5"/>
<circle cx="420.7" cy="81.4" r="2.1" fill="#7e1834" stroke="#111" stroke-width="1.5"/>
<circle cx="426.3" cy="81" r="2.1" fill="#7e1834" stroke="#111" stroke-width="1.5"/>
<circle cx="429.7" cy="82.2" r="2.1" fill="#7e1834" stroke="#111" stroke-width="1.5"/>
<circle cx="423.9" cy="84.4" r="2.1" fill="#7e1834" stroke="#111" stroke-width="1.5"/>
<circle cx="420.7" cy="90.3" r="2.1" fill="#7e1834" stroke="#111" stroke-width="1.5"/>
<circle cx="426.7" cy="90.3" r="2.1" fill="#7e1834" stroke="#111" stroke-width="1.5"/>
<circle cx="417.9" cy="92.9" r="2.1" fill="#7e1834" stroke="#111" stroke-width="1.5"/>
<circle cx="423.9" cy="93.7" r="2.1" fill="#7e1834" stroke="#111" stroke-width="1.5"/>
<circle cx="429.7" cy="92.9" r="2.1" fill="#7e1834" stroke="#111" stroke-width="1.5"/>
<circle cx="417.9" cy="103.7" r="2.1" fill="#7e1834" stroke="#111" stroke-width="1.5"/>
<circle cx="423.7" cy="103.1" r="2.1" fill="#7e1834" stroke="#111" stroke-width="1.5"/>
<circle cx="429.8" cy="106.3" r="2.1" fill="#7e1834" stroke="#111" stroke-width="1.5"/>
<circle cx="423.7" cy="109.2" r="2.1" fill="#7e1834" stroke="#111" stroke-width="1.5"/>
<circle cx="417.9" cy="113.3" r="2.1" fill="#7e1834" stroke="#111" stroke-width="1.5"/>
<circle cx="423.7" cy="117.9" r="2.1" fill="#7e1834" stroke="#111" stroke-width="1.5"/>
<circle cx="426.5" cy="121.3" r="2.1" fill="#7e1834" stroke="#111" stroke-width="1.5"/>
<circle cx="417.9" cy="124.2" r="2.1" fill="#7e1834" stroke="#111" stroke-width="1.5"/>
<circle cx="423.7" cy="126" r="2.1" fill="#7e1834" stroke="#111" stroke-width="1.5"/>
<circle cx="429.8" cy="125.4" r="2.1" fill="#7e1834" stroke="#111" stroke-width="1.5"/>
<circle cx="417.9" cy="132.3" r="2.1" fill="#7e1834" stroke="#111" stroke-width="1.5"/>
<circle cx="423.7" cy="131.2" r="2.1" fill="#7e1834" stroke="#111" stroke-width="1.5"/>
<circle cx="426.5" cy="132.3" r="2.1" fill="#7e1834" stroke="#111" stroke-width="1.5"/>
<circle cx="429.8" cy="131.7" r="2.1" fill="#7e1834" stroke="#111" stroke-width="1.5"/>
<circle cx="423.7" cy="134.6" r="2.1" fill="#7e1834" stroke="#111" stroke-width="1.5"/>
<circle cx="423.7" cy="144.4" r="2.1" fill="#7e1834" stroke="#111" stroke-width="1.5"/>
<circle cx="429.4" cy="144.4" r="2.1" fill="#7e1834" stroke="#111" stroke-width="1.5"/>
<circle cx="447.7" cy="110.9" r="2.1" fill="#6f8a72" stroke="#111" stroke-width="1.5"/>
<circle cx="442.2" cy="116.5" r="2.1" fill="#6f8a72" stroke="#111" stroke-width="1.5"/>
<circle cx="447.7" cy="122" r="2.1" fill="#6f8a72" stroke="#111" stroke-width="1.5"/>
<circle cx="453.5" cy="119.9" r="2.1" fill="#6f8a72" stroke="#111" stroke-width="1.5"/>
<circle cx="466" cy="97.5" r="2.1" fill="#6f8a72" stroke="#111" stroke-width="1.5"/>
<circle cx="471.8" cy="99" r="2.1" fill="#6f8a72" stroke="#111" stroke-width="1.5"/>
<circle cx="466" cy="105.1" r="2.1" fill="#6f8a72" stroke="#111" stroke-width="1.5"/>
<circle cx="471.8" cy="106.7" r="2.1" fill="#6f8a72" stroke="#111" stroke-width="1.5"/>
<circle cx="477.9" cy="106" r="2.1" fill="#6f8a72" stroke="#111" stroke-width="1.5"/>
<line x1="341.5" y1="105.7" x2="361.8" y2="105.7" stroke="#222" stroke-width="1.3"/>
<line x1="365.3" y1="98.4" x2="386" y2="98.4" stroke="#222" stroke-width="1.3"/>
<line x1="389.4" y1="141.5" x2="409.8" y2="141.5" stroke="#222" stroke-width="1.3"/>
<line x1="414.4" y1="92.5" x2="434.4" y2="92.5" stroke="#222" stroke-width="1.3"/>
<line x1="437.6" y1="118.1" x2="457.8" y2="118.1" stroke="#222" stroke-width="1.3"/>
<line x1="461.5" y1="105.1" x2="481.6" y2="105.1" stroke="#222" stroke-width="1.3"/>
<text x="8.3" y="216.5" font-size="13" text-anchor="start" font-weight="bold" font-style="normal" fill="#000">C</text>
<line x1="59.3" y1="219" x2="59.3" y2="335.8" stroke="#111" stroke-width="1.3"/>
<line x1="58.3" y1="334.3" x2="183.5" y2="334.3" stroke="#111" stroke-width="1.4"/>
<path d="M55.9 334.3H59.3M57.3 318.3H59.3M55.9 302.3H59.3M57.3 286.3H59.3M55.9 270.3H59.3M57.3 254.3H59.3M55.9 238.3H59.3M57.3 222.3H59.3M59.3 334.3V337.3M87.1 334.3V337.3M114.9 334.3V337.3M142.7 334.3V337.3M170.5 334.3V337.3" stroke="#111" stroke-width="1" fill="none"/>
<text x="53" y="337.2" font-size="8" text-anchor="end" font-weight="normal" font-style="normal" fill="#444">0.0</text>
<text x="53" y="305.2" font-size="8" text-anchor="end" font-weight="normal" font-style="normal" fill="#444">1.0</text>
<text x="53" y="273.2" font-size="8" text-anchor="end" font-weight="normal" font-style="normal" fill="#444">2.0</text>
<text x="53" y="241.2" font-size="8" text-anchor="end" font-weight="normal" font-style="normal" fill="#444">3.0</text>
<text x="59.6" y="347.7" font-size="8" text-anchor="middle" font-weight="normal" font-style="normal" fill="#444">0</text>
<text x="88.3" y="347.7" font-size="8" text-anchor="middle" font-weight="normal" font-style="normal" fill="#444">1.0</text>
<text x="116.1" y="347.7" font-size="8" text-anchor="middle" font-weight="normal" font-style="normal" fill="#444">2.0</text>
<text x="143.9" y="347.7" font-size="8" text-anchor="middle" font-weight="normal" font-style="normal" fill="#444">3.0</text>
<text x="171.7" y="347.7" font-size="8" text-anchor="middle" font-weight="normal" font-style="normal" fill="#444">4.0</text>
<text x="121.8" y="227.2" font-size="10.2" text-anchor="middle" font-weight="normal" font-style="normal" fill="#222" stroke="#222" stroke-width="0.22">DLBCL</text>
<line x1="52" y1="331" x2="166" y2="264" stroke="#111" stroke-width="1.5"/>
<circle cx="54.3" cy="330.2" r="2.2" fill="#9cb8cc" stroke="#111" stroke-width="1.4"/>
<circle cx="72.6" cy="320.8" r="2.2" fill="#9cb8cc" stroke="#111" stroke-width="1.4"/>
<circle cx="89" cy="319.2" r="2.2" fill="#9cb8cc" stroke="#111" stroke-width="1.4"/>
<circle cx="94.2" cy="304.9" r="2.2" fill="#9cb8cc" stroke="#111" stroke-width="1.4"/>
<circle cx="107.9" cy="289.5" r="2.2" fill="#9cb8cc" stroke="#111" stroke-width="1.4"/>
<circle cx="107.9" cy="323.7" r="2.2" fill="#9cb8cc" stroke="#111" stroke-width="1.4"/>
<circle cx="123.2" cy="284.7" r="2.2" fill="#9cb8cc" stroke="#111" stroke-width="1.4"/>
<circle cx="128.4" cy="282.5" r="2.2" fill="#9cb8cc" stroke="#111" stroke-width="1.4"/>
<circle cx="126.2" cy="265.3" r="2.2" fill="#9cb8cc" stroke="#111" stroke-width="1.4"/>
<circle cx="128.4" cy="256.7" r="2.2" fill="#9cb8cc" stroke="#111" stroke-width="1.4"/>
<circle cx="142.6" cy="309.5" r="2.2" fill="#9cb8cc" stroke="#111" stroke-width="1.4"/>
<circle cx="165.8" cy="266.1" r="2.2" fill="#9cb8cc" stroke="#111" stroke-width="1.4"/>
<text x="153.7" y="318" font-size="7.7" text-anchor="start" font-weight="normal" font-style="normal" fill="#333">r=0.699</text>
<text x="153.7" y="328.9" font-size="7.7" text-anchor="start" font-weight="normal" font-style="italic" fill="#333">p&lt;0.01</text>
<line x1="216.4" y1="219" x2="216.4" y2="335.8" stroke="#111" stroke-width="1.3"/>
<line x1="215.4" y1="334.3" x2="341.4" y2="334.3" stroke="#111" stroke-width="1.4"/>
<path d="M213.0 334.3H216.4M214.4 318.3H216.4M213.0 302.3H216.4M214.4 286.3H216.4M213.0 270.3H216.4M214.4 254.3H216.4M213.0 238.3H216.4M214.4 222.3H216.4M216.4 334.3V337.3M244.4 334.3V337.3M272.4 334.3V337.3M300.4 334.3V337.3M328.4 334.3V337.3" stroke="#111" stroke-width="1" fill="none"/>
<text x="210.1" y="337.2" font-size="8" text-anchor="end" font-weight="normal" font-style="normal" fill="#444">0.0</text>
<text x="210.1" y="305.2" font-size="8" text-anchor="end" font-weight="normal" font-style="normal" fill="#444">1.0</text>
<text x="210.1" y="273.2" font-size="8" text-anchor="end" font-weight="normal" font-style="normal" fill="#444">2.0</text>
<text x="210.1" y="241.2" font-size="8" text-anchor="end" font-weight="normal" font-style="normal" fill="#444">3.0</text>
<text x="216.7" y="347.7" font-size="8" text-anchor="middle" font-weight="normal" font-style="normal" fill="#444">0</text>
<text x="245.6" y="347.7" font-size="8" text-anchor="middle" font-weight="normal" font-style="normal" fill="#444">1.0</text>
<text x="273.6" y="347.7" font-size="8" text-anchor="middle" font-weight="normal" font-style="normal" fill="#444">2.0</text>
<text x="301.6" y="347.7" font-size="8" text-anchor="middle" font-weight="normal" font-style="normal" fill="#444">3.0</text>
<text x="329.6" y="347.7" font-size="8" text-anchor="middle" font-weight="normal" font-style="normal" fill="#444">4.0</text>
<text x="278.9" y="227.2" font-size="10.2" text-anchor="middle" font-weight="normal" font-style="normal" fill="#222" stroke="#222" stroke-width="0.22">FL</text>
<line x1="253.1" y1="309.5" x2="325" y2="288.5" stroke="#111" stroke-width="1.5"/>
<circle cx="277" cy="256.7" r="2.2" fill="#3a3048" stroke="#111" stroke-width="1.4"/>
<circle cx="283.8" cy="266.4" r="2.2" fill="#3a3048" stroke="#111" stroke-width="1.4"/>
<circle cx="277" cy="271.8" r="2.2" fill="#3a3048" stroke="#111" stroke-width="1.4"/>
<circle cx="293.5" cy="269.6" r="2.2" fill="#3a3048" stroke="#111" stroke-width="1.4"/>
<circle cx="297.5" cy="275" r="2.2" fill="#3a3048" stroke="#111" stroke-width="1.4"/>
<circle cx="294.3" cy="278.5" r="2.2" fill="#3a3048" stroke="#111" stroke-width="1.4"/>
<circle cx="255.8" cy="281.5" r="2.2" fill="#3a3048" stroke="#111" stroke-width="1.4"/>
<circle cx="287.3" cy="283.3" r="2.2" fill="#3a3048" stroke="#111" stroke-width="1.4"/>
<circle cx="267.1" cy="295.5" r="2.2" fill="#3a3048" stroke="#111" stroke-width="1.4"/>
<circle cx="271.9" cy="298.2" r="2.2" fill="#3a3048" stroke="#111" stroke-width="1.4"/>
<circle cx="276" cy="299.8" r="2.2" fill="#3a3048" stroke="#111" stroke-width="1.4"/>
<circle cx="282.2" cy="299.2" r="2.2" fill="#3a3048" stroke="#111" stroke-width="1.4"/>
<circle cx="249.8" cy="311.1" r="2.2" fill="#3a3048" stroke="#111" stroke-width="1.4"/>
<circle cx="253.9" cy="312.7" r="2.2" fill="#3a3048" stroke="#111" stroke-width="1.4"/>
<circle cx="269.5" cy="313" r="2.2" fill="#3a3048" stroke="#111" stroke-width="1.4"/>
<circle cx="287.5" cy="310" r="2.2" fill="#3a3048" stroke="#111" stroke-width="1.4"/>
<circle cx="283.8" cy="316.5" r="2.2" fill="#3a3048" stroke="#111" stroke-width="1.4"/>
<circle cx="275.4" cy="322.7" r="2.2" fill="#3a3048" stroke="#111" stroke-width="1.4"/>
<circle cx="290.2" cy="321.3" r="2.2" fill="#3a3048" stroke="#111" stroke-width="1.4"/>
<circle cx="292.7" cy="320.8" r="2.2" fill="#3a3048" stroke="#111" stroke-width="1.4"/>
<circle cx="299.4" cy="323.2" r="2.2" fill="#3a3048" stroke="#111" stroke-width="1.4"/>
<circle cx="251.5" cy="327.8" r="2.2" fill="#3a3048" stroke="#111" stroke-width="1.4"/>
<circle cx="252.8" cy="329.4" r="2.2" fill="#3a3048" stroke="#111" stroke-width="1.4"/>
<circle cx="267.6" cy="329.9" r="2.2" fill="#3a3048" stroke="#111" stroke-width="1.4"/>
<circle cx="326.6" cy="311.4" r="2.2" fill="#3a3048" stroke="#111" stroke-width="1.4"/>
<text x="313.7" y="238" font-size="7.7" text-anchor="start" font-weight="normal" font-style="normal" fill="#333">r=0.294</text>
<text x="313.7" y="248.5" font-size="7.7" text-anchor="start" font-weight="normal" font-style="italic" fill="#333">p= n.s.</text>
<line x1="373.6" y1="219" x2="373.6" y2="335.8" stroke="#111" stroke-width="1.3"/>
<line x1="372.6" y1="334.3" x2="498.6" y2="334.3" stroke="#111" stroke-width="1.4"/>
<path d="M370.20000000000005 334.3H373.6M371.6 318.3H373.6M370.20000000000005 302.3H373.6M371.6 286.3H373.6M370.20000000000005 270.3H373.6M371.6 254.3H373.6M370.20000000000005 238.3H373.6M371.6 222.3H373.6M373.6 334.3V337.3M401.6 334.3V337.3M429.6 334.3V337.3M457.6 334.3V337.3M485.6 334.3V337.3" stroke="#111" stroke-width="1" fill="none"/>
<text x="367.3" y="337.2" font-size="8" text-anchor="end" font-weight="normal" font-style="normal" fill="#444">0.0</text>
<text x="367.3" y="305.2" font-size="8" text-anchor="end" font-weight="normal" font-style="normal" fill="#444">1.0</text>
<text x="367.3" y="273.2" font-size="8" text-anchor="end" font-weight="normal" font-style="normal" fill="#444">2.0</text>
<text x="367.3" y="241.2" font-size="8" text-anchor="end" font-weight="normal" font-style="normal" fill="#444">3.0</text>
<text x="373.9" y="347.7" font-size="8" text-anchor="middle" font-weight="normal" font-style="normal" fill="#444">0</text>
<text x="402.8" y="347.7" font-size="8" text-anchor="middle" font-weight="normal" font-style="normal" fill="#444">1.0</text>
<text x="430.8" y="347.7" font-size="8" text-anchor="middle" font-weight="normal" font-style="normal" fill="#444">2.0</text>
<text x="458.8" y="347.7" font-size="8" text-anchor="middle" font-weight="normal" font-style="normal" fill="#444">3.0</text>
<text x="486.8" y="347.7" font-size="8" text-anchor="middle" font-weight="normal" font-style="normal" fill="#444">4.0</text>
<text x="436.1" y="227.2" font-size="10.2" text-anchor="middle" font-weight="normal" font-style="normal" fill="#222" stroke="#222" stroke-width="0.22">MCL</text>
<line x1="385.6" y1="310.6" x2="493" y2="263.2" stroke="#111" stroke-width="1.5"/>
<circle cx="494.7" cy="236.8" r="2.2" fill="#781a34" stroke="#111" stroke-width="1.4"/>
<circle cx="483.1" cy="241.7" r="2.2" fill="#781a34" stroke="#111" stroke-width="1.4"/>
<circle cx="459.7" cy="258.1" r="2.2" fill="#781a34" stroke="#111" stroke-width="1.4"/>
<circle cx="464.2" cy="260.8" r="2.2" fill="#781a34" stroke="#111" stroke-width="1.4"/>
<circle cx="475.8" cy="261.9" r="2.2" fill="#781a34" stroke="#111" stroke-width="1.4"/>
<circle cx="482.5" cy="259.2" r="2.2" fill="#781a34" stroke="#111" stroke-width="1.4"/>
<circle cx="453.5" cy="263.2" r="2.2" fill="#781a34" stroke="#111" stroke-width="1.4"/>
<circle cx="469.4" cy="268.9" r="2.2" fill="#781a34" stroke="#111" stroke-width="1.4"/>
<circle cx="443.2" cy="272.7" r="2.2" fill="#781a34" stroke="#111" stroke-width="1.4"/>
<circle cx="423.3" cy="273.5" r="2.2" fill="#781a34" stroke="#111" stroke-width="1.4"/>
<circle cx="449.4" cy="277.5" r="2.2" fill="#781a34" stroke="#111" stroke-width="1.4"/>
<circle cx="452.1" cy="281" r="2.2" fill="#781a34" stroke="#111" stroke-width="1.4"/>
<circle cx="456.7" cy="281.5" r="2.2" fill="#781a34" stroke="#111" stroke-width="1.4"/>
<circle cx="473.4" cy="280.5" r="2.2" fill="#781a34" stroke="#111" stroke-width="1.4"/>
<circle cx="418.5" cy="282.9" r="2.2" fill="#781a34" stroke="#111" stroke-width="1.4"/>
<circle cx="440" cy="283.7" r="2.2" fill="#781a34" stroke="#111" stroke-width="1.4"/>
<circle cx="463.4" cy="284.5" r="2.2" fill="#781a34" stroke="#111" stroke-width="1.4"/>
<circle cx="466.4" cy="287.5" r="2.2" fill="#781a34" stroke="#111" stroke-width="1.4"/>
<circle cx="398.8" cy="285.9" r="2.2" fill="#781a34" stroke="#111" stroke-width="1.4"/>
<circle cx="441.1" cy="289.6" r="2.2" fill="#781a34" stroke="#111" stroke-width="1.4"/>
<circle cx="409.3" cy="291" r="2.2" fill="#781a34" stroke="#111" stroke-width="1.4"/>
<circle cx="468.3" cy="293.1" r="2.2" fill="#781a34" stroke="#111" stroke-width="1.4"/>
<circle cx="439.2" cy="293.1" r="2.2" fill="#781a34" stroke="#111" stroke-width="1.4"/>
<circle cx="486.3" cy="286.7" r="2.2" fill="#781a34" stroke="#111" stroke-width="1.4"/>
<circle cx="397.7" cy="293.7" r="2.2" fill="#781a34" stroke="#111" stroke-width="1.4"/>
<circle cx="406.9" cy="294.5" r="2.2" fill="#781a34" stroke="#111" stroke-width="1.4"/>
<circle cx="405" cy="297.2" r="2.2" fill="#781a34" stroke="#111" stroke-width="1.4"/>
<circle cx="479" cy="294.5" r="2.2" fill="#781a34" stroke="#111" stroke-width="1.4"/>
<circle cx="451" cy="296.4" r="2.2" fill="#781a34" stroke="#111" stroke-width="1.4"/>
<circle cx="425.7" cy="297.7" r="2.2" fill="#781a34" stroke="#111" stroke-width="1.4"/>
<circle cx="428.7" cy="299.3" r="2.2" fill="#781a34" stroke="#111" stroke-width="1.4"/>
<circle cx="398.8" cy="297.7" r="2.2" fill="#781a34" stroke="#111" stroke-width="1.4"/>
<circle cx="396.4" cy="301.2" r="2.2" fill="#781a34" stroke="#111" stroke-width="1.4"/>
<circle cx="452.1" cy="306.9" r="2.2" fill="#781a34" stroke="#111" stroke-width="1.4"/>
<circle cx="401.2" cy="309.5" r="2.2" fill="#781a34" stroke="#111" stroke-width="1.4"/>
<circle cx="398.5" cy="311.4" r="2.2" fill="#781a34" stroke="#111" stroke-width="1.4"/>
<circle cx="429.8" cy="311.7" r="2.2" fill="#781a34" stroke="#111" stroke-width="1.4"/>
<circle cx="385.6" cy="314.7" r="2.2" fill="#781a34" stroke="#111" stroke-width="1.4"/>
<circle cx="385.6" cy="320" r="2.2" fill="#781a34" stroke="#111" stroke-width="1.4"/>
<circle cx="413.6" cy="325.2" r="2.2" fill="#781a34" stroke="#111" stroke-width="1.4"/>
<text x="465.2" y="318.8" font-size="7.7" text-anchor="start" font-weight="normal" font-style="normal" fill="#333">r=0.703</text>
<text x="465" y="329.3" font-size="7.7" text-anchor="start" font-weight="normal" font-style="italic" fill="#333">p&lt;0.0001</text>
<text x="280" y="360.5" font-size="9.3" text-anchor="middle" font-weight="normal" font-style="normal" fill="#222" stroke="#222" stroke-width="0.22" textLength="177" lengthAdjust="spacingAndGlyphs">CD79B surface expression (relative to T cells)</text>
<text x="24.6" y="276.9" font-size="9.5" text-anchor="middle" font-weight="normal" font-style="normal" fill="#222" stroke="#222" stroke-width="0.22" transform="rotate(-90 24.6 276.9)" textLength="89.6" lengthAdjust="spacingAndGlyphs">&#945;-BCR-induced p-PLC&#947;</text>
<text x="35.6" y="277" font-size="9" text-anchor="middle" font-weight="normal" font-style="normal" fill="#222" stroke="#222" stroke-width="0.22" transform="rotate(-90 35.6 277)" textLength="72.3" lengthAdjust="spacingAndGlyphs">(relative to unstim)</text>
<text x="8.3" y="381.5" font-size="13" text-anchor="start" font-weight="bold" font-style="normal" fill="#000">D</text>
<line x1="59.4" y1="380" x2="59.4" y2="496.5" stroke="#111" stroke-width="1.3"/>
<line x1="58.4" y1="495" x2="184.2" y2="495" stroke="#111" stroke-width="1.4"/>
<path d="M56.0 495.0H59.4M57.4 478.9H59.4M56.0 462.8H59.4M57.4 446.7H59.4M56.0 430.6H59.4M57.4 414.5H59.4M56.0 398.4H59.4M57.4 382.3H59.4M59.4 495V498M82.3 495V498M105.2 495V498M128.1 495V498M151.0 495V498M173.9 495V498" stroke="#111" stroke-width="1" fill="none"/>
<text x="53.1" y="497.9" font-size="8" text-anchor="end" font-weight="normal" font-style="normal" fill="#444">0.0</text>
<text x="53.1" y="465.7" font-size="8" text-anchor="end" font-weight="normal" font-style="normal" fill="#444">1.0</text>
<text x="53.1" y="433.5" font-size="8" text-anchor="end" font-weight="normal" font-style="normal" fill="#444">2.0</text>
<text x="53.1" y="401.3" font-size="8" text-anchor="end" font-weight="normal" font-style="normal" fill="#444">3.0</text>
<text x="59.7" y="508.4" font-size="8" text-anchor="middle" font-weight="normal" font-style="normal" fill="#444">0</text>
<text x="83.5" y="508.4" font-size="8" text-anchor="middle" font-weight="normal" font-style="normal" fill="#444">1.0</text>
<text x="106.4" y="508.4" font-size="8" text-anchor="middle" font-weight="normal" font-style="normal" fill="#444">2.0</text>
<text x="129.3" y="508.4" font-size="8" text-anchor="middle" font-weight="normal" font-style="normal" fill="#444">3.0</text>
<text x="152.2" y="508.4" font-size="8" text-anchor="middle" font-weight="normal" font-style="normal" fill="#444">4.0</text>
<text x="175.1" y="508.4" font-size="8" text-anchor="middle" font-weight="normal" font-style="normal" fill="#444">5.0</text>
<text x="121.9" y="388.2" font-size="10.2" text-anchor="middle" font-weight="normal" font-style="normal" fill="#222" stroke="#222" stroke-width="0.22">DLBCL</text>
<line x1="65.3" y1="480.8" x2="142.6" y2="432.6" stroke="#111" stroke-width="1.5"/>
<circle cx="65.3" cy="490.7" r="2.2" fill="#9cb8cc" stroke="#111" stroke-width="1.4"/>
<circle cx="79.3" cy="481.9" r="2.2" fill="#9cb8cc" stroke="#111" stroke-width="1.4"/>
<circle cx="84.5" cy="465.4" r="2.2" fill="#9cb8cc" stroke="#111" stroke-width="1.4"/>
<circle cx="90.1" cy="445.2" r="2.2" fill="#9cb8cc" stroke="#111" stroke-width="1.4"/>
<circle cx="94.7" cy="480.2" r="2.2" fill="#9cb8cc" stroke="#111" stroke-width="1.4"/>
<circle cx="97.7" cy="484.3" r="2.2" fill="#9cb8cc" stroke="#111" stroke-width="1.4"/>
<circle cx="103.6" cy="443.1" r="2.2" fill="#9cb8cc" stroke="#111" stroke-width="1.4"/>
<circle cx="118.1" cy="417.8" r="2.2" fill="#9cb8cc" stroke="#111" stroke-width="1.4"/>
<circle cx="117.3" cy="425.8" r="2.2" fill="#9cb8cc" stroke="#111" stroke-width="1.4"/>
<circle cx="118.1" cy="450.1" r="2.2" fill="#9cb8cc" stroke="#111" stroke-width="1.4"/>
<circle cx="142.6" cy="426.7" r="2.2" fill="#9cb8cc" stroke="#111" stroke-width="1.4"/>
<circle cx="143.4" cy="470" r="2.2" fill="#9cb8cc" stroke="#111" stroke-width="1.4"/>
<text x="154" y="480.8" font-size="7.7" text-anchor="start" font-weight="normal" font-style="normal" fill="#333">r=0.601</text>
<text x="156.6" y="490.2" font-size="7.7" text-anchor="start" font-weight="normal" font-style="italic" fill="#333">p&lt;0.04</text>
<line x1="216.4" y1="380" x2="216.4" y2="496.5" stroke="#111" stroke-width="1.3"/>
<line x1="215.4" y1="495" x2="341.2" y2="495" stroke="#111" stroke-width="1.4"/>
<path d="M213.0 495.0H216.4M214.4 478.9H216.4M213.0 462.8H216.4M214.4 446.7H216.4M213.0 430.6H216.4M214.4 414.5H216.4M213.0 398.4H216.4M214.4 382.3H216.4M216.4 495V498M239.3 495V498M262.2 495V498M285.1 495V498M308.0 495V498M330.9 495V498" stroke="#111" stroke-width="1" fill="none"/>
<text x="210.1" y="497.9" font-size="8" text-anchor="end" font-weight="normal" font-style="normal" fill="#444">0.0</text>
<text x="210.1" y="465.7" font-size="8" text-anchor="end" font-weight="normal" font-style="normal" fill="#444">1.0</text>
<text x="210.1" y="433.5" font-size="8" text-anchor="end" font-weight="normal" font-style="normal" fill="#444">2.0</text>
<text x="210.1" y="401.3" font-size="8" text-anchor="end" font-weight="normal" font-style="normal" fill="#444">3.0</text>
<text x="216.7" y="508.4" font-size="8" text-anchor="middle" font-weight="normal" font-style="normal" fill="#444">0</text>
<text x="240.5" y="508.4" font-size="8" text-anchor="middle" font-weight="normal" font-style="normal" fill="#444">1.0</text>
<text x="263.4" y="508.4" font-size="8" text-anchor="middle" font-weight="normal" font-style="normal" fill="#444">2.0</text>
<text x="286.3" y="508.4" font-size="8" text-anchor="middle" font-weight="normal" font-style="normal" fill="#444">3.0</text>
<text x="309.2" y="508.4" font-size="8" text-anchor="middle" font-weight="normal" font-style="normal" fill="#444">4.0</text>
<text x="332.1" y="508.4" font-size="8" text-anchor="middle" font-weight="normal" font-style="normal" fill="#444">5.0</text>
<text x="278.9" y="388.2" font-size="10.2" text-anchor="middle" font-weight="normal" font-style="normal" fill="#222" stroke="#222" stroke-width="0.22">FL</text>
<line x1="242.6" y1="482.7" x2="308.5" y2="442.3" stroke="#111" stroke-width="1.5"/>
<circle cx="277.6" cy="418" r="2.2" fill="#3a3048" stroke="#111" stroke-width="1.4"/>
<circle cx="279.5" cy="427.7" r="2.2" fill="#3a3048" stroke="#111" stroke-width="1.4"/>
<circle cx="289.2" cy="432.8" r="2.2" fill="#3a3048" stroke="#111" stroke-width="1.4"/>
<circle cx="308.8" cy="431.2" r="2.2" fill="#3a3048" stroke="#111" stroke-width="1.4"/>
<circle cx="305.3" cy="436.1" r="2.2" fill="#3a3048" stroke="#111" stroke-width="1.4"/>
<circle cx="302.6" cy="439.8" r="2.2" fill="#3a3048" stroke="#111" stroke-width="1.4"/>
<circle cx="274.9" cy="442.5" r="2.2" fill="#3a3048" stroke="#111" stroke-width="1.4"/>
<circle cx="287" cy="444.7" r="2.2" fill="#3a3048" stroke="#111" stroke-width="1.4"/>
<circle cx="246.1" cy="456.3" r="2.2" fill="#3a3048" stroke="#111" stroke-width="1.4"/>
<circle cx="258.5" cy="461.4" r="2.2" fill="#3a3048" stroke="#111" stroke-width="1.4"/>
<circle cx="265.5" cy="459.8" r="2.2" fill="#3a3048" stroke="#111" stroke-width="1.4"/>
<circle cx="271.7" cy="460.3" r="2.2" fill="#3a3048" stroke="#111" stroke-width="1.4"/>
<circle cx="262.5" cy="472.2" r="2.2" fill="#3a3048" stroke="#111" stroke-width="1.4"/>
<circle cx="269.2" cy="472.7" r="2.2" fill="#3a3048" stroke="#111" stroke-width="1.4"/>
<circle cx="269.8" cy="475.9" r="2.2" fill="#3a3048" stroke="#111" stroke-width="1.4"/>
<circle cx="272.7" cy="477.8" r="2.2" fill="#3a3048" stroke="#111" stroke-width="1.4"/>
<circle cx="280.5" cy="471.1" r="2.2" fill="#3a3048" stroke="#111" stroke-width="1.4"/>
<circle cx="290" cy="474.9" r="2.2" fill="#3a3048" stroke="#111" stroke-width="1.4"/>
<circle cx="272.7" cy="484.5" r="2.2" fill="#3a3048" stroke="#111" stroke-width="1.4"/>
<circle cx="282.4" cy="482.9" r="2.2" fill="#3a3048" stroke="#111" stroke-width="1.4"/>
<circle cx="286.7" cy="484" r="2.2" fill="#3a3048" stroke="#111" stroke-width="1.4"/>
<circle cx="298.9" cy="482.1" r="2.2" fill="#3a3048" stroke="#111" stroke-width="1.4"/>
<circle cx="242.6" cy="488.9" r="2.2" fill="#3a3048" stroke="#111" stroke-width="1.4"/>
<circle cx="244.2" cy="489.9" r="2.2" fill="#3a3048" stroke="#111" stroke-width="1.4"/>
<circle cx="247.4" cy="491" r="2.2" fill="#3a3048" stroke="#111" stroke-width="1.4"/>
<text x="313.8" y="480.2" font-size="7.7" text-anchor="start" font-weight="normal" font-style="normal" fill="#333">r=0.499</text>
<text x="312.1" y="490.3" font-size="7.7" text-anchor="start" font-weight="normal" font-style="italic" fill="#333">p=&lt;0.01</text>
<line x1="373.6" y1="380" x2="373.6" y2="496.5" stroke="#111" stroke-width="1.3"/>
<line x1="372.6" y1="495" x2="498.4" y2="495" stroke="#111" stroke-width="1.4"/>
<path d="M370.20000000000005 495.0H373.6M371.6 478.9H373.6M370.20000000000005 462.8H373.6M371.6 446.7H373.6M370.20000000000005 430.6H373.6M371.6 414.5H373.6M370.20000000000005 398.4H373.6M371.6 382.3H373.6M373.6 495V498M396.5 495V498M419.4 495V498M442.3 495V498M465.2 495V498M488.1 495V498" stroke="#111" stroke-width="1" fill="none"/>
<text x="367.3" y="497.9" font-size="8" text-anchor="end" font-weight="normal" font-style="normal" fill="#444">0.0</text>
<text x="367.3" y="465.7" font-size="8" text-anchor="end" font-weight="normal" font-style="normal" fill="#444">1.0</text>
<text x="367.3" y="433.5" font-size="8" text-anchor="end" font-weight="normal" font-style="normal" fill="#444">2.0</text>
<text x="367.3" y="401.3" font-size="8" text-anchor="end" font-weight="normal" font-style="normal" fill="#444">3.0</text>
<text x="373.9" y="508.4" font-size="8" text-anchor="middle" font-weight="normal" font-style="normal" fill="#444">0</text>
<text x="397.7" y="508.4" font-size="8" text-anchor="middle" font-weight="normal" font-style="normal" fill="#444">1.0</text>
<text x="420.6" y="508.4" font-size="8" text-anchor="middle" font-weight="normal" font-style="normal" fill="#444">2.0</text>
<text x="443.5" y="508.4" font-size="8" text-anchor="middle" font-weight="normal" font-style="normal" fill="#444">3.0</text>
<text x="466.4" y="508.4" font-size="8" text-anchor="middle" font-weight="normal" font-style="normal" fill="#444">4.0</text>
<text x="489.3" y="508.4" font-size="8" text-anchor="middle" font-weight="normal" font-style="normal" fill="#444">5.0</text>
<text x="436.1" y="388.2" font-size="10.2" text-anchor="middle" font-weight="normal" font-style="normal" fill="#222" stroke="#222" stroke-width="0.22">MCL</text>
<line x1="374.8" y1="477.1" x2="498.7" y2="431.3" stroke="#111" stroke-width="1.5"/>
<circle cx="495.5" cy="397.4" r="2.2" fill="#781a34" stroke="#111" stroke-width="1.4"/>
<circle cx="464.2" cy="402.5" r="2.2" fill="#781a34" stroke="#111" stroke-width="1.4"/>
<circle cx="438.9" cy="418.7" r="2.2" fill="#781a34" stroke="#111" stroke-width="1.4"/>
<circle cx="456.2" cy="421.3" r="2.2" fill="#781a34" stroke="#111" stroke-width="1.4"/>
<circle cx="465.3" cy="422.4" r="2.2" fill="#781a34" stroke="#111" stroke-width="1.4"/>
<circle cx="468.8" cy="423.2" r="2.2" fill="#781a34" stroke="#111" stroke-width="1.4"/>
<circle cx="480.1" cy="419.7" r="2.2" fill="#781a34" stroke="#111" stroke-width="1.4"/>
<circle cx="482" cy="429.4" r="2.2" fill="#781a34" stroke="#111" stroke-width="1.4"/>
<circle cx="496.5" cy="434.3" r="2.2" fill="#781a34" stroke="#111" stroke-width="1.4"/>
<circle cx="498.7" cy="433.5" r="2.2" fill="#781a34" stroke="#111" stroke-width="1.4"/>
<circle cx="451.9" cy="442.1" r="2.2" fill="#781a34" stroke="#111" stroke-width="1.4"/>
<circle cx="450.2" cy="444.8" r="2.2" fill="#781a34" stroke="#111" stroke-width="1.4"/>
<circle cx="435.2" cy="444.8" r="2.2" fill="#781a34" stroke="#111" stroke-width="1.4"/>
<circle cx="460.2" cy="441" r="2.2" fill="#781a34" stroke="#111" stroke-width="1.4"/>
<circle cx="464.2" cy="442.1" r="2.2" fill="#781a34" stroke="#111" stroke-width="1.4"/>
<circle cx="467.5" cy="438.9" r="2.2" fill="#781a34" stroke="#111" stroke-width="1.4"/>
<circle cx="478" cy="443.7" r="2.2" fill="#781a34" stroke="#111" stroke-width="1.4"/>
<circle cx="478" cy="446.4" r="2.2" fill="#781a34" stroke="#111" stroke-width="1.4"/>
<circle cx="411.7" cy="448.8" r="2.2" fill="#781a34" stroke="#111" stroke-width="1.4"/>
<circle cx="437" cy="451.5" r="2.2" fill="#781a34" stroke="#111" stroke-width="1.4"/>
<circle cx="461.5" cy="448.3" r="2.2" fill="#781a34" stroke="#111" stroke-width="1.4"/>
<circle cx="467.7" cy="447.5" r="2.2" fill="#781a34" stroke="#111" stroke-width="1.4"/>
<circle cx="431.4" cy="454.2" r="2.2" fill="#781a34" stroke="#111" stroke-width="1.4"/>
<circle cx="447.5" cy="455.3" r="2.2" fill="#781a34" stroke="#111" stroke-width="1.4"/>
<circle cx="456.7" cy="453.7" r="2.2" fill="#781a34" stroke="#111" stroke-width="1.4"/>
<circle cx="461" cy="454.5" r="2.2" fill="#781a34" stroke="#111" stroke-width="1.4"/>
<circle cx="485.5" cy="451.5" r="2.2" fill="#781a34" stroke="#111" stroke-width="1.4"/>
<circle cx="488.7" cy="455.5" r="2.2" fill="#781a34" stroke="#111" stroke-width="1.4"/>
<circle cx="440.5" cy="456.9" r="2.2" fill="#781a34" stroke="#111" stroke-width="1.4"/>
<circle cx="415.8" cy="458.2" r="2.2" fill="#781a34" stroke="#111" stroke-width="1.4"/>
<circle cx="403.4" cy="460.4" r="2.2" fill="#781a34" stroke="#111" stroke-width="1.4"/>
<circle cx="456.7" cy="459" r="2.2" fill="#781a34" stroke="#111" stroke-width="1.4"/>
<circle cx="463.7" cy="458.8" r="2.2" fill="#781a34" stroke="#111" stroke-width="1.4"/>
<circle cx="469.1" cy="458" r="2.2" fill="#781a34" stroke="#111" stroke-width="1.4"/>
<circle cx="446.7" cy="462.3" r="2.2" fill="#781a34" stroke="#111" stroke-width="1.4"/>
<circle cx="459.1" cy="467.4" r="2.2" fill="#781a34" stroke="#111" stroke-width="1.4"/>
<circle cx="465.6" cy="470.1" r="2.2" fill="#781a34" stroke="#111" stroke-width="1.4"/>
<circle cx="450.2" cy="472.2" r="2.2" fill="#781a34" stroke="#111" stroke-width="1.4"/>
<circle cx="440.5" cy="475.2" r="2.2" fill="#781a34" stroke="#111" stroke-width="1.4"/>
<circle cx="381.3" cy="472.2" r="2.2" fill="#781a34" stroke="#111" stroke-width="1.4"/>
<circle cx="374.8" cy="480.3" r="2.2" fill="#781a34" stroke="#111" stroke-width="1.4"/>
<circle cx="429.8" cy="486" r="2.2" fill="#781a34" stroke="#111" stroke-width="1.4"/>
<text x="470.2" y="480.4" font-size="7.7" text-anchor="start" font-weight="normal" font-style="normal" fill="#333">r=0.517</text>
<text x="463.4" y="490.5" font-size="7.7" text-anchor="start" font-weight="normal" font-style="italic" fill="#333">p&lt;0.0005</text>
<text x="279.8" y="521.6" font-size="9.3" text-anchor="middle" font-weight="normal" font-style="normal" fill="#222" stroke="#222" stroke-width="0.22" textLength="182" lengthAdjust="spacingAndGlyphs">IgM/IgG surface expression (relative to T cells)</text>
<text x="24.6" y="438.1" font-size="9.5" text-anchor="middle" font-weight="normal" font-style="normal" fill="#222" stroke="#222" stroke-width="0.22" transform="rotate(-90 24.6 438.1)" textLength="89.6" lengthAdjust="spacingAndGlyphs">&#945;-BCR-induced p-PLC&#947;</text>
<text x="35.6" y="438.7" font-size="9" text-anchor="middle" font-weight="normal" font-style="normal" fill="#222" stroke="#222" stroke-width="0.22" transform="rotate(-90 35.6 438.7)" textLength="72.3" lengthAdjust="spacingAndGlyphs">(relative to unstim)</text>
<text x="8.4" y="541.5" font-size="13" text-anchor="start" font-weight="bold" font-style="normal" fill="#000">E</text>
<path d="M44 563.5h0.9M52 582.5h0.9M49.5 591h0.9M57.5 586h0.9M45 558.5h0.9M49 578.5h0.9M57.5 593.5h0.9M50.5 594.5h0.9M46 579.5h0.9M39.5 577h0.9M48 591h0.9M40.5 588.5h0.9M66 566h0.9M44.5 580.5h0.9M55 600.5h0.9M56.5 580h0.9M39.5 579.5h0.9M46 582.5h0.9M39 596h0.9M40.5 587h0.9M48 569h0.9M47 580.5h0.9M45 588.5h0.9M42.5 606.5h0.9M56 570.5h0.9M25.5 593h0.9M48.5 581h0.9M38 565h0.9M31 606.5h0.9M60 574.5h0.9M62 561h0.9M52 587.5h0.9M39 575.5h0.9M37.5 580.5h0.9M57.5 590.5h0.9M50 591.5h0.9M31.5 601h0.9M46 566.5h0.9M43 573.5h0.9M47 583.5h0.9M26.5 593h0.9M61 569.5h0.9M59 593h0.9M55 597h0.9M34.5 587.5h0.9M38 604.5h0.9M38 567.5h0.9M56 586.5h0.9M46.5 581.5h0.9M51.5 598h0.9M40.5 574h0.9M41.5 579.5h0.9M46.5 566.5h0.9M49 567h0.9M43.5 577.5h0.9M44.5 595.5h0.9M60 591.5h0.9M59.5 577h0.9M58.5 579.5h0.9M48 583h0.9M35 573.5h0.9M45 584h0.9M45 571h0.9M36.5 580h0.9M36.5 567.5h0.9M45.5 582h0.9M39.5 561.5h0.9M48.5 588.5h0.9M43 576h0.9M26.5 589.5h0.9M37 587.5h0.9M41.5 578.5h0.9M44.5 561h0.9M69.5 563.5h0.9M47 571.5h0.9M44.5 594.5h0.9M30.5 578.5h0.9M50.5 581.5h0.9M49.5 572h0.9M32.5 566h0.9M43 588h0.9M47 597h0.9M47 582h0.9M48 562h0.9M51 568.5h0.9M43 604.5h0.9M36 581h0.9M49 581.5h0.9M46.5 574h0.9M63 559h0.9M37.5 595.5h0.9M51 572h0.9M38.5 577.5h0.9M68.5 585h0.9M37.5 582.5h0.9M41 595.5h0.9M49 593h0.9M47.5 601.5h0.9M50 583h0.9M37.5 575.5h0.9M49.5 575h0.9M67.5 580h0.9M40 590.5h0.9M42 584.5h0.9M45.5 572.5h0.9M58 581h0.9M55.5 576.5h0.9M34 567h0.9M42 578h0.9M47 585.5h0.9M35.5 582.5h0.9M36 573h0.9M68 593.5h0.9M43 599h0.9M58.5 589.5h0.9M59 577.5h0.9M51.5 567h0.9M42 585h0.9M42 583.5h0.9M62 569.5h0.9M58 573h0.9M38.5 582.5h0.9M55 572.5h0.9M40 575.5h0.9M40 582h0.9M40 577.5h0.9M49.5 575.5h0.9M56 573h0.9M39.5 601.5h0.9M59 580.5h0.9M53.5 583.5h0.9M42 587h0.9M49 593.5h0.9M30.5 588.5h0.9M47.5 573h0.9M42.5 575.5h0.9M35 574h0.9M53 564h0.9M43 555h0.9M41.5 584h0.9M46 580.5h0.9M37 586h0.9M38.5 589.5h0.9M48 576h0.9M59 576h0.9M55 581h0.9M46.5 590.5h0.9M50 580h0.9M47 576.5h0.9M37.5 553h0.9M45.5 577.5h0.9M56.5 584.5h0.9M56 598h0.9M45.5 571h0.9M53.5 574h0.9M44 595h0.9M51 591.5h0.9M35 580.5h0.9M56 566.5h0.9M48 584.5h0.9M26.5 597h0.9M40.5 578.5h0.9M60.5 561h0.9M50.5 575.5h0.9M46.5 571.5h0.9M58 568.5h0.9M49.5 585.5h0.9M45.5 577h0.9M44 591h0.9M50 579h0.9M37 581.5h0.9M51 579.5h0.9M58.5 560h0.9M67.5 578h0.9M36.5 561.5h0.9M53.5 586h0.9M44.5 579.5h0.9M48 575.5h0.9M45.5 563h0.9M58 575h0.9M37.5 593.5h0.9M50.5 559h0.9M32 576h0.9M35.5 578.5h0.9M68.5 611.5h0.9M46 588.5h0.9M54 579h0.9M34 591.5h0.9M45 585h0.9M52.5 571.5h0.9M60.5 581h0.9M48.5 575.5h0.9M52.5 590.5h0.9M41.5 586h0.9M42.5 567h0.9M43.5 586.5h0.9M40.5 577h0.9M47 586.5h0.9M45.5 570h0.9M33 592.5h0.9M55.5 573h0.9M59 579.5h0.9M50.5 593.5h0.9M42.5 572h0.9M31.5 583.5h0.9M50.5 589h0.9M51.5 581.5h0.9M56 569.5h0.9M45.5 598.5h0.9M50 594.5h0.9M54 578.5h0.9M63 592h0.9M46.5 579h0.9M37.5 578.5h0.9M44.5 582.5h0.9M43 586h0.9M45.5 563.5h0.9M42 570.5h0.9M35.5 577.5h0.9M54 568.5h0.9M29.5 578.5h0.9M72 574h0.9M49 576h0.9M54 595.5h0.9M45 592.5h0.9M37 582.5h0.9M35.5 582h0.9M41 582.5h0.9M47.5 574h0.9M39.5 567.5h0.9M43 584.5h0.9M57.5 577h0.9M49 589h0.9M51 584.5h0.9M47 600.5h0.9M46 576h0.9M51.5 597.5h0.9M58.5 580.5h0.9M53.5 585.5h0.9M47 587h0.9M52 582h0.9M61 576.5h0.9M58.5 602.5h0.9M64.5 583h0.9M45 563.5h0.9M46 606h0.9M33 564h0.9M53.5 587h0.9M31 579.5h0.9M49.5 564.5h0.9M54.5 566.5h0.9M56 582.5h0.9M40.5 563.5h0.9M43.5 579.5h0.9M45.5 574h0.9M44.5 589.5h0.9M39 578h0.9M50.5 580h0.9M54 596.5h0.9M43.5 582.5h0.9M52 568.5h0.9M58 560.5h0.9M38 575h0.9M44 569.5h0.9M34.5 574.5h0.9M54.5 584.5h0.9M58 574h0.9M43.5 576.5h0.9M47.5 585h0.9M61.5 587.5h0.9M48 594.5h0.9M40 566.5h0.9M47.5 590h0.9M43.5 579h0.9M49.5 587h0.9M55 581.5h0.9M48.5 554.5h0.9M57 563.5h0.9M46 607h0.9M43.5 563.5h0.9M45 578.5h0.9M52.5 588.5h0.9M45.5 592h0.9M38.5 587h0.9M41 587.5h0.9M40.5 575.5h0.9M59 568.5h0.9M36.5 586h0.9M44 575.5h0.9M45 602.5h0.9M37.5 577h0.9M48 570h0.9M46 585h0.9M38.5 592h0.9M36.5 578.5h0.9M49 613.5h0.9M31.5 583h0.9M68 574h0.9M55.5 582.5h0.9M34 584h0.9M39 581h0.9M33.5 587.5h0.9M26 578h0.9M57.5 585.5h0.9M42.5 608.5h0.9M46 580h0.9M40 575h0.9M51.5 573.5h0.9M39.5 574h0.9M43.5 582h0.9M40 593h0.9M49 579.5h0.9M33 578h0.9M60.5 585.5h0.9M56.5 573h0.9M33.5 572.5h0.9M58 569.5h0.9M39.5 591.5h0.9M44 578h0.9M49.5 581h0.9M40 579.5h0.9M52 569h0.9M44.5 568h0.9M52.5 586.5h0.9M54.5 591h0.9M55 587.5h0.9M39.5 590h0.9M38.5 604.5h0.9M49 586h0.9M36 591.5h0.9M56.5 563.5h0.9M41.5 575h0.9M41 594.5h0.9M64.5 569h0.9M55 577h0.9M58 554.5h0.9M42.5 593h0.9M40 592.5h0.9M42 592h0.9M51.5 575.5h0.9M40 578h0.9M56 580h0.9M40.5 615h0.9M33 577.5h0.9M51 569h0.9M46 575.5h0.9M33.5 584.5h0.9M36.5 572h0.9M57 568h0.9M51.5 592.5h0.9M54.5 585h0.9M44.5 565h0.9M47.5 584.5h0.9M42 569.5h0.9M53.5 569h0.9M50 575h0.9M32 597h0.9M51.5 585.5h0.9M34 578.5h0.9M48.5 572h0.9M60 558.5h0.9M52 560h0.9M33 566.5h0.9M40.5 570h0.9M33.5 570h0.9M37.5 576.5h0.9M43 554.5h0.9M40.5 592.5h0.9M42 578.5h0.9M39.5 572h0.9M45 565h0.9M44.5 562h0.9M48.5 562.5h0.9M51 590h0.9M32 586h0.9M42 591.5h0.9M41 576h0.9M43 592.5h0.9M29 587h0.9M43.5 589h0.9M52.5 597h0.9M40 559h0.9M41.5 592h0.9M65 583h0.9M30.5 590h0.9M52.5 583h0.9M45 582h0.9M52 585.5h0.9M38.5 572.5h0.9M52.5 581h0.9M52.5 564h0.9M43.5 585.5h0.9M45 574.5h0.9M47.5 596h0.9M27.5 595.5h0.9M55.5 570.5h0.9M53.5 569.5h0.9M48 586h0.9M44.5 585.5h0.9M40.5 590h0.9M41 571.5h0.9M44.5 578.5h0.9M44.5 585h0.9M32.5 565h0.9M43 568.5h0.9M55 594.5h0.9M52 571.5h0.9M50 573.5h0.9M50 568h0.9M57 583h0.9M43 564.5h0.9M48 573.5h0.9M47.5 571.5h0.9M41 585.5h0.9M58 565.5h0.9M44 583h0.9M44 574.5h0.9M64 570h0.9M48.5 574h0.9M44.5 555h0.9M53 576.5h0.9M37 596.5h0.9M43 572.5h0.9M38 590h0.9M45.5 575.5h0.9M34 569.5h0.9M48.5 578.5h0.9M28.5 570h0.9M47.5 607h0.9M39 555.5h0.9M52 574h0.9M34 585h0.9M43.5 569h0.9M34.5 577.5h0.9M46 560.5h0.9M54 565.5h0.9M57.5 582.5h0.9M44 582.5h0.9M59.5 573h0.9M52.5 569.5h0.9M45.5 589h0.9M35 582.5h0.9M27 567h0.9M42 588h0.9M51.5 569.5h0.9M44.5 581h0.9M32 583.5h0.9M57 592h0.9M40.5 574.5h0.9M37.5 573.5h0.9M43.5 586h0.9M46 569h0.9M52.5 588h0.9M40.5 576.5h0.9M44.5 561.5h0.9M46.5 586h0.9M62 581h0.9M43 577.5h0.9M50.5 587.5h0.9M38 581h0.9M51 558h0.9M57 576.5h0.9M53 578.5h0.9M43.5 578h0.9M48 588h0.9M43 567h0.9M39.5 569h0.9M42.5 576h0.9M52 587h0.9M37 605h0.9M50.5 566h0.9M44 589h0.9M47.5 588h0.9M65.5 589h0.9M62.5 586.5h0.9M40 595h0.9M39.5 589h0.9M51 570.5h0.9M39.5 577.5h0.9M46.5 599.5h0.9M53 572.5h0.9M40.5 580.5h0.9M52.5 582h0.9M54 572.5h0.9M38.5 565h0.9M31 575h0.9M46.5 577.5h0.9M46 601h0.9M36.5 577h0.9M42 570h0.9M57.5 579.5h0.9M56.5 568h0.9M62 603.5h0.9M38.5 579.5h0.9M45 585.5h0.9M35 584.5h0.9M52 573.5h0.9M27 572.5h0.9M42.5 588h0.9M41 567.5h0.9M51.5 583.5h0.9M52.5 580.5h0.9M55 585h0.9M31 582h0.9M52.5 580h0.9M58.5 575h0.9M52 567h0.9M46 574h0.9M37.5 566h0.9M41 567h0.9M38.5 588h0.9M36 592h0.9M32 583h0.9M52 592.5h0.9M34 589.5h0.9M45 575h0.9M42.5 582.5h0.9M46.5 592h0.9M28 588.5h0.9M41.5 579h0.9M34 579h0.9M45.5 584h0.9M55 568.5h0.9M64.5 574h0.9M37.5 588h0.9M55.5 593h0.9M58.5 585h0.9M47 584h0.9M46 574.5h0.9M60 599h0.9M42 562.5h0.9M46 569.5h0.9M30 587h0.9M61 557.5h0.9M45 589h0.9M36.5 565h0.9M41 597.5h0.9M59 587h0.9M46 576.5h0.9M54 577.5h0.9M41.5 588h0.9M60 587h0.9M43.5 581.5h0.9M54 594.5h0.9M42 565h0.9M50 580.5h0.9M49 571h0.9M39 553.5h0.9M42.5 575h0.9M51 609h0.9M42 576.5h0.9M50.5 561.5h0.9M34.5 572h0.9M51 589.5h0.9M41 586.5h0.9M46.5 605.5h0.9M29.5 598h0.9M53.5 585h0.9M46 575h0.9M39 564.5h0.9M64.5 591h0.9M53 585h0.9M31 578h0.9M48 593h0.9M38.5 584h0.9M45 581.5h0.9M40.5 585h0.9M48 561.5h0.9M57.5 604h0.9M39.5 593h0.9M62 583h0.9M60 584h0.9M56 579.5h0.9M59.5 600h0.9M53 575.5h0.9M44 571.5h0.9M52.5 587h0.9M41.5 591h0.9M42.5 600.5h0.9M54.5 598h0.9M41.5 571h0.9M32 588h0.9M38 595.5h0.9M48.5 589.5h0.9M36.5 575h0.9M36.5 585h0.9M45.5 578.5h0.9M51 593.5h0.9M45.5 594.5h0.9M39 584.5h0.9M38 583.5h0.9M53 571.5h0.9M32.5 579.5h0.9M52 584h0.9M40 590h0.9M45 589.5h0.9M40 586h0.9M57.5 574.5h0.9M45 588h0.9M52 585h0.9M46.5 565h0.9M47.5 568h0.9M48 557h0.9M59.5 601h0.9M51 572.5h0.9M45 590.5h0.9M53 574h0.9M57.5 589h0.9M52 577.5h0.9M49 574.5h0.9M57 581.5h0.9M49 584.5h0.9M50 566.5h0.9M58 582.5h0.9M42.5 571h0.9M47.5 572.5h0.9M41.5 604h0.9M46.5 584.5h0.9M48 579.5h0.9M53 595.5h0.9M46.5 572h0.9M52 558.5h0.9M48.5 579h0.9M50 565.5h0.9M43.5 570.5h0.9M42.5 587h0.9M45.5 575h0.9M57 581h0.9M30 570h0.9M50.5 585.5h0.9M49 583.5h0.9M39.5 580h0.9M37 572h0.9M39 572h0.9M44 578.5h0.9M40 592h0.9M43 596.5h0.9M55 568h0.9M54 566h0.9M59 584h0.9M38.5 557.5h0.9M43 566.5h0.9M55.5 567.5h0.9M46.5 583h0.9M44.5 587.5h0.9M38.5 586h0.9M36.5 582h0.9M37 578h0.9M51 593h0.9M31 572h0.9M38 592.5h0.9M39 587.5h0.9M47 568h0.9M57.5 569.5h0.9M59.5 590h0.9M31 603h0.9M60.5 569h0.9M49 566h0.9M51.5 571.5h0.9M46 570h0.9M47 592h0.9M52.5 583.5h0.9M56 567h0.9M46 561.5h0.9M41 579h0.9M33 592h0.9M35.5 575h0.9M37 589h0.9M41.5 592.5h0.9M40.5 583h0.9M52.5 590h0.9M36 576h0.9M45.5 561h0.9M50.5 565.5h0.9M55 574.5h0.9M52 600.5h0.9M43.5 564.5h0.9M43 597h0.9M38.5 578h0.9M56.5 586h0.9M48 576.5h0.9M45.5 580h0.9M52 581h0.9M54 560.5h0.9M53 574.5h0.9M46.5 575.5h0.9M51.5 579h0.9M48 592.5h0.9M47.5 576h0.9M58.5 596h0.9M35.5 583h0.9M42.5 563.5h0.9M37.5 575h0.9M45 579.5h0.9M42 615h0.9M52 570h0.9M47 589h0.9M33 572.5h0.9M43 577h0.9M42 583h0.9M55 583.5h0.9M55 591h0.9M41.5 583h0.9M43 587h0.9M60.5 578.5h0.9M33.5 581.5h0.9M49 575h0.9M47 590.5h0.9M40.5 583.5h0.9M45.5 570.5h0.9M45 599h0.9M32 566h0.9M62.5 565h0.9M55.5 588.5h0.9M51 583h0.9M57 561.5h0.9M48.5 595h0.9M37.5 583.5h0.9M56.5 593h0.9M45.5 599h0.9M50.5 591h0.9M37.5 572.5h0.9M40 598h0.9M27 561.5h0.9M53 581.5h0.9M44 592.5h0.9M30.5 574.5h0.9M55 588h0.9M39 577h0.9M34 594h0.9M43 593h0.9M53 571h0.9M45 587h0.9M50 596h0.9M55.5 583.5h0.9M52 573h0.9M41.5 586.5h0.9M49.5 569h0.9M46 572h0.9M42 593.5h0.9M38.5 573.5h0.9M51 581h0.9M48 565.5h0.9M46.5 576.5h0.9M40 574.5h0.9M62 581.5h0.9M59 581.5h0.9M34.5 581h0.9M57 594.5h0.9M39.5 603h0.9M40.5 573h0.9M42.5 595h0.9M50 589.5h0.9M28.5 580h0.9M45.5 587.5h0.9M41 566h0.9M33 593.5h0.9M55.5 578.5h0.9M45.5 565.5h0.9M42 581.5h0.9M48.5 574.5h0.9M55 595h0.9M40 584.5h0.9M34 584.5h0.9M39 579h0.9M48 578h0.9M55.5 572.5h0.9M43 584h0.9M45 572.5h0.9M52 581.5h0.9M54 594h0.9M44 573h0.9M43 574h0.9M30.5 597h0.9M50 604h0.9M42 586.5h0.9M49 580h0.9M55 580.5h0.9M46 582h0.9M28.5 573.5h0.9M40.5 597.5h0.9M51.5 588.5h0.9M52 578.5h0.9M35 587h0.9M56.5 581.5h0.9M50 590.5h0.9M59.5 586.5h0.9M60.5 583.5h0.9M64 566.5h0.9M54.5 583.5h0.9M48 567.5h0.9M38.5 574.5h0.9M39.5 571.5h0.9M63 576.5h0.9M53 598h0.9M60 570.5h0.9M42 563h0.9M46 590.5h0.9M44.5 589h0.9M40.5 592h0.9M60 580.5h0.9M51.5 582h0.9M37 583.5h0.9M50.5 584.5h0.9M41 582h0.9M48.5 569.5h0.9M33.5 577.5h0.9M49 587h0.9M56.5 585h0.9M54.5 597.5h0.9M27.5 590.5h0.9M43 585.5h0.9M48.5 570.5h0.9M39.5 585h0.9M45.5 588h0.9M43.5 602h0.9M44.5 601.5h0.9M40.5 586h0.9M56 567.5h0.9M56 594.5h0.9M51.5 591h0.9M45 563h0.9M45 564.5h0.9M49.5 595.5h0.9M49.5 582h0.9M37.5 576h0.9M64.5 567.5h0.9M42 566.5h0.9M56.5 578h0.9M36.5 568h0.9M55.5 587.5h0.9M53 580h0.9M54 593.5h0.9M52 564.5h0.9M30.5 565.5h0.9M49 565.5h0.9M38 580.5h0.9M54.5 585.5h0.9M53 589.5h0.9M58.5 580h0.9M45 562.5h0.9M44.5 574h0.9M55 587h0.9M58.5 591h0.9M56 585.5h0.9M47.5 576.5h0.9M46 570.5h0.9M49.5 579h0.9M30 553h0.9M44 593h0.9M49.5 590h0.9M59.5 570h0.9M58.5 587h0.9M46.5 587.5h0.9M44 583.5h0.9M48 595h0.9M53.5 579h0.9M28.5 565h0.9M42 576h0.9M35.5 576h0.9M47 573.5h0.9M45 579h0.9M40.5 571h0.9M45 582.5h0.9M37.5 559.5h0.9M38.5 585h0.9M33 589h0.9M41.5 581h0.9M40 585.5h0.9M46.5 583.5h0.9M30.5 587h0.9M32.5 576.5h0.9M50 577.5h0.9M50 581.5h0.9M54 591h0.9M41.5 570.5h0.9M47.5 572h0.9M47 588h0.9M51.5 594.5h0.9M49.5 569.5h0.9M39 585h0.9M61.5 576h0.9M38.5 593.5h0.9M45 586.5h0.9M54.5 570h0.9M50.5 586h0.9M34.5 578.5h0.9M37.5 594h0.9M46.5 585h0.9M38.5 590.5h0.9M48 590h0.9M45.5 565h0.9M37 577.5h0.9M57 575.5h0.9M41.5 582.5h0.9M54.5 576.5h0.9M69 583h0.9M44 572.5h0.9M38 587.5h0.9M35 578h0.9M45.5 566.5h0.9M38 592h0.9M43.5 588h0.9M50.5 585h0.9M36.5 592.5h0.9M43 572h0.9M49.5 586.5h0.9M56 578.5h0.9M41 577h0.9M36.5 572.5h0.9M62 572h0.9M42.5 586h0.9M48 587h0.9M39 569h0.9M31 577.5h0.9M41 585h0.9M43.5 557.5h0.9M52.5 554.5h0.9M42.5 573h0.9M41 579.5h0.9M53.5 571h0.9M41 587h0.9M50 586.5h0.9M48.5 577h0.9M42 575h0.9M53 594.5h0.9M44 579.5h0.9M44.5 568.5h0.9M63.5 594.5h0.9M44.5 575h0.9M46 567.5h0.9M43.5 587h0.9M59 588.5h0.9M56.5 569h0.9M47.5 579h0.9M59 589h0.9M31.5 596h0.9M46 584h0.9M40 598.5h0.9M49.5 592.5h0.9M38 586.5h0.9M39.5 572.5h0.9M36.5 573h0.9M46 585.5h0.9M33.5 569.5h0.9M41 563.5h0.9M43.5 577h0.9M44.5 583.5h0.9M53.5 587.5h0.9M48 585.5h0.9M39.5 570h0.9M51 585h0.9M63.5 577.5h0.9M38 582.5h0.9M42.5 570.5h0.9M57 599h0.9M49 573h0.9M48 579h0.9M35 588h0.9M49 592h0.9M66.5 558.5h0.9M36.5 576h0.9M33.5 584h0.9M42.5 580.5h0.9M48 580.5h0.9M47 578h0.9M49.5 588h0.9M44 575h0.9M43 583h0.9M34 599h0.9M36 596.5h0.9M48.5 585h0.9M48.5 586h0.9M53 595h0.9M38 585h0.9M59.5 594h0.9M38 583h0.9M48.5 582.5h0.9M33 602h0.9M42 579h0.9M49 572h0.9M52 591.5h0.9M55 592h0.9M57 587.5h0.9M62.5 576.5h0.9M34.5 602h0.9M56 598.5h0.9M54 582.5h0.9M41 570.5h0.9M58.5 590h0.9M49 569h0.9M42 574h0.9M44 551h0.9M48.5 596h0.9M42 580.5h0.9M48.5 570h0.9M50 572h0.9M46 581h0.9M37.5 589h0.9M42.5 568h0.9M45.5 569.5h0.9M53 588.5h0.9M50.5 577.5h0.9M34 578h0.9M44 579h0.9M53 566.5h0.9M46.5 593h0.9M40 570h0.9M44.5 576.5h0.9M48.5 594h0.9M45.5 586h0.9M49 573.5h0.9M56.5 576h0.9M45 569.5h0.9M43 570h0.9M42.5 562h0.9M46.5 598h0.9M31 598h0.9M45.5 589.5h0.9M38 601h0.9M37.5 579.5h0.9M59.5 567h0.9M27 579.5h0.9M39 565h0.9M58 592.5h0.9M35 579h0.9M42.5 591.5h0.9M39.5 597h0.9M65.5 581.5h0.9M42.5 581h0.9M59 570h0.9M32.5 593.5h0.9M45.5 591.5h0.9M46 612.5h0.9M41 591.5h0.9M29 581h0.9M55 592.5h0.9M34.5 598.5h0.9M41.5 593.5h0.9M44 576.5h0.9M60 571h0.9M57.5 576.5h0.9M39 571.5h0.9M56 579h0.9M43.5 564h0.9M56.5 591h0.9M49 588h0.9M47.5 581h0.9M40 573h0.9M35.5 581.5h0.9M58 579.5h0.9M46 564h0.9M42 590.5h0.9M51 580.5h0.9M45 580.5h0.9M49.5 576.5h0.9M58.5 566.5h0.9M57.5 582h0.9M54 576.5h0.9M47.5 586h0.9M55 585.5h0.9M50 574h0.9M61 582h0.9M36 572h0.9M33.5 582h0.9M45.5 582.5h0.9M35.5 575.5h0.9M41 590.5h0.9M33.5 564h0.9M57 584h0.9M33 594h0.9M59 592h0.9M33 598h0.9M53 586.5h0.9M50 576h0.9M48 577.5h0.9M27 590.5h0.9M41 574.5h0.9M43 565.5h0.9M36 561h0.9M50.5 592.5h0.9M32.5 560h0.9M44 571h0.9M40 589.5h0.9M60.5 571.5h0.9M56.5 590.5h0.9M43.5 597h0.9M26 582.5h0.9M47.5 580h0.9M53.5 575.5h0.9M44.5 592h0.9M45.5 569h0.9M51 579h0.9M41.5 585.5h0.9M39.5 569.5h0.9M46.5 567.5h0.9M61 587h0.9M47.5 582.5h0.9M37.5 585h0.9M36 590.5h0.9M41.5 577.5h0.9M59 590.5h0.9M34.5 572.5h0.9M30.5 570.5h0.9M52.5 593h0.9M52.5 579h0.9M57.5 563h0.9M55.5 568h0.9M35 567h0.9M40 597.5h0.9M47.5 581.5h0.9M49 572.5h0.9M58.5 576h0.9M53 562.5h0.9M49.5 581.5h0.9M58 552.5h0.9M51 588.5h0.9M44 594h0.9M64 589h0.9M53 594h0.9M50 593h0.9M51.5 573h0.9M37.5 592.5h0.9M46.5 595.5h0.9M31.5 570.5h0.9M52 588.5h0.9M36.5 569.5h0.9M47.5 594.5h0.9M46.5 555.5h0.9M55 579.5h0.9M56.5 583h0.9M49.5 583.5h0.9M50 589h0.9M61 569h0.9M60.5 577h0.9M40 572h0.9M42.5 566h0.9M30 600.5h0.9M45 570h0.9M51.5 594h0.9M31.5 575.5h0.9M48.5 571h0.9M50 567h0.9M40.5 576h0.9M28.5 602.5h0.9M32 578h0.9M57 578.5h0.9M31.5 586h0.9M54 562.5h0.9M41.5 581.5h0.9M49.5 586h0.9M46 605.5h0.9M37 577h0.9M55.5 566h0.9M56.5 567.5h0.9M68.5 573h0.9M55.5 577h0.9M52.5 572h0.9M47 588.5h0.9M42.5 576.5h0.9M35 578.5h0.9M42 589h0.9M52 572.5h0.9M50 593.5h0.9M44.5 567.5h0.9M67 586h0.9M52 606.5h0.9M39.5 583h0.9M30 585h0.9M49.5 571.5h0.9M44.5 596.5h0.9M44.5 563h0.9M42 565.5h0.9M47.5 557h0.9M36.5 582.5h0.9M28.5 563.5h0.9M54.5 566h0.9M46 583h0.9M37 562h0.9M59 574h0.9M50.5 572h0.9M49.5 566h0.9M34.5 569h0.9M41 573.5h0.9M43.5 584.5h0.9M41.5 589.5h0.9M57.5 598h0.9M31 595h0.9M46 583.5h0.9M38 589.5h0.9M41 589h0.9M43 580h0.9M54 588.5h0.9M56 581.5h0.9M50 574.5h0.9M50 571h0.9M48.5 573.5h0.9M64.5 592.5h0.9M48.5 566h0.9M36 587.5h0.9M45 583h0.9M47 577.5h0.9M35 571.5h0.9M51 597.5h0.9M41 592.5h0.9M34 568.5h0.9M46 564.5h0.9M54.5 573.5h0.9M50.5 576.5h0.9M44 580h0.9M29.5 568.5h0.9M42 603.5h0.9M53 587.5h0.9M37.5 589.5h0.9M57 588h0.9M68.5 566h0.9M53 573h0.9M43.5 571h0.9M48.5 576h0.9M47 579h0.9M51.5 589.5h0.9M39 567h0.9M60 572.5h0.9M33 560h0.9M46 573h0.9M30.5 570h0.9M37 590.5h0.9M35.5 578h0.9M52 584.5h0.9M41.5 594h0.9M49 588.5h0.9M37 568.5h0.9M44.5 571.5h0.9M51.5 584h0.9M36.5 590h0.9M40.5 572h0.9M46.5 579.5h0.9M55 609.5h0.9M50 595h0.9M42 575.5h0.9M57.5 584.5h0.9M50 571.5h0.9M60.5 578h0.9M40.5 579.5h0.9M58.5 568.5h0.9M42.5 596h0.9M65.5 573.5h0.9M39 570.5h0.9M45.5 567.5h0.9M54 579.5h0.9M44 589.5h0.9M44 567h0.9M46.5 602.5h0.9M44.5 577.5h0.9M50.5 552h0.9M35.5 573.5h0.9M67 586.5h0.9M59 569.5h0.9M48.5 560h0.9M50 563h0.9M27 585h0.9M54.5 601h0.9M50.5 568.5h0.9M34 567.5h0.9M37.5 591.5h0.9M48.5 579.5h0.9M53.5 580h0.9M46.5 571h0.9M41 580h0.9M36.5 597h0.9M47 574h0.9M54.5 569h0.9M62 574h0.9M43 571h0.9M37 583h0.9M40.5 591h0.9M46.5 580h0.9M41 598h0.9M42.5 584.5h0.9" stroke="#000" stroke-opacity="0.8" stroke-width="0.9" fill="none"/>
<path d="M43 577h0.9M46.5 590.5h0.9M34.5 575.5h0.9M32 587h0.9M37.5 572h0.9M52.5 581.5h0.9M50 580h0.9M50 583h0.9M34.5 584.5h0.9M42.5 578.5h0.9M48.5 574.5h0.9M35 597h0.9M64 577.5h0.9M57 586.5h0.9M39.5 571h0.9M43 576h0.9M42.5 580h0.9M34.5 593h0.9M34.5 568h0.9M55 591.5h0.9M60.5 583.5h0.9M39.5 596.5h0.9M45 580h0.9M37.5 587h0.9M26 593h0.9M30.5 590.5h0.9M70.5 578h0.9M34 607h0.9M41.5 567.5h0.9M31 564.5h0.9M39 555.5h0.9M54 595h0.9M45 576.5h0.9M30 588h0.9M39 589.5h0.9M56 582.5h0.9M59.5 585.5h0.9M60 552.5h0.9M44.5 579.5h0.9M29.5 573.5h0.9M55.5 589h0.9M40.5 586h0.9M57.5 567.5h0.9M48.5 595.5h0.9M39 598.5h0.9M45 596h0.9M55 585h0.9M43 573.5h0.9M47.5 584.5h0.9M60 580.5h0.9M49.5 603.5h0.9M49 587.5h0.9M62 583h0.9M50 591.5h0.9M44.5 567.5h0.9M31 579h0.9M57 595h0.9M62 593.5h0.9M39.5 563h0.9M40.5 578.5h0.9M38.5 594h0.9M38 589.5h0.9M53.5 559h0.9M41.5 598h0.9M54.5 583.5h0.9M35 572.5h0.9M46.5 598h0.9M51 580.5h0.9M48 592h0.9M28.5 569h0.9M46 597.5h0.9M56.5 571.5h0.9M46 572h0.9M42 583.5h0.9M42 574.5h0.9M34 561h0.9M44 584.5h0.9M52 571h0.9M38.5 598h0.9M50 593h0.9M40 572.5h0.9M34.5 594.5h0.9M34.5 559.5h0.9M46 585h0.9M47 581h0.9M44 563.5h0.9M62.5 580h0.9M58 561.5h0.9M51 566.5h0.9M33 585h0.9M56 599.5h0.9M59 578h0.9M53.5 574h0.9M40.5 585h0.9M44.5 592.5h0.9M27.5 596.5h0.9M40 601h0.9M57 567h0.9M45.5 590.5h0.9M38 572h0.9M43 591.5h0.9M55 576.5h0.9M54 601h0.9M55 572.5h0.9M37.5 585.5h0.9M54 587.5h0.9M42 570h0.9M58.5 580h0.9M64.5 567h0.9M42.5 573.5h0.9M64 598h0.9M41 557h0.9M57.5 583.5h0.9M34.5 562.5h0.9M50 579h0.9M47.5 587h0.9M42 578.5h0.9M52.5 580.5h0.9M43 590h0.9M26.5 598h0.9M50.5 572h0.9M44 598h0.9M51.5 559h0.9M36 584.5h0.9M63.5 592h0.9M44 589.5h0.9M46 578h0.9M50 554.5h0.9M56 589h0.9M41.5 571h0.9M34 585.5h0.9M63 553.5h0.9M39 572h0.9M55.5 579h0.9M36.5 584.5h0.9M50 603h0.9M48.5 576.5h0.9M41 571.5h0.9M51 592.5h0.9M44 580.5h0.9M59.5 583.5h0.9M51 568h0.9M40 554.5h0.9M32.5 587h0.9M58.5 578.5h0.9M34 583h0.9M57.5 580h0.9M55 581h0.9M34 570.5h0.9M43.5 611.5h0.9M52 579h0.9M49 585h0.9M41.5 580.5h0.9M43.5 591.5h0.9M61.5 599h0.9M43 589h0.9M39 568h0.9M47 590h0.9M45.5 592.5h0.9M54 592h0.9M44.5 564.5h0.9M64 576h0.9M53.5 588.5h0.9M42.5 605.5h0.9M52.5 582h0.9M42 569.5h0.9M33.5 589.5h0.9M41.5 576h0.9M51 577.5h0.9M52.5 574h0.9M41 594h0.9M39.5 590h0.9M51 582h0.9M29.5 565h0.9M35 565.5h0.9M54.5 571h0.9M33.5 575.5h0.9M45 560.5h0.9M52 591.5h0.9M40 592.5h0.9M30.5 575h0.9M44.5 583h0.9M57.5 578h0.9M36 585h0.9M47.5 587.5h0.9M42.5 584h0.9M40.5 589h0.9M39.5 574h0.9M57.5 572h0.9M46 589.5h0.9M43 593.5h0.9M40.5 595h0.9M30.5 564.5h0.9M46.5 600.5h0.9M62 571h0.9M45.5 575.5h0.9M42.5 599.5h0.9M48.5 575h0.9M39 579.5h0.9M50.5 575.5h0.9M73.5 584.5h0.9M35 583h0.9M57 587.5h0.9M38 567h0.9M41 585.5h0.9M40.5 603h0.9M49.5 576.5h0.9M45.5 600.5h0.9M29 585h0.9M72.5 595h0.9M37 583.5h0.9M43.5 617.5h0.9M39.5 578.5h0.9M42.5 564h0.9M51 576.5h0.9M51 591.5h0.9M53 560.5h0.9M61 593h0.9M54 582h0.9M46 575h0.9M50 594h0.9M40.5 592.5h0.9M41.5 589.5h0.9M44.5 593h0.9M65 585h0.9M41 576.5h0.9M52 575.5h0.9M55.5 586h0.9M55 575h0.9M36.5 572.5h0.9M50 572h0.9M53 555.5h0.9M39.5 580h0.9M28 574h0.9M31.5 581h0.9M37.5 561h0.9M40.5 583.5h0.9M47 584h0.9M58 577.5h0.9M44 571h0.9M40 595.5h0.9" stroke="#000" stroke-opacity="0.5" stroke-width="0.9" fill="none"/>
<path d="M80.5 550.5h0.9M69 573.5h0.9M73 570.5h0.9M78 568.5h0.9M63.5 569h0.9M70 570.5h0.9M73 566h0.9M84 568h0.9M78.5 568.5h0.9M83.5 563h0.9M80 580.5h0.9M69.5 574.5h0.9M62.5 568.5h0.9M77 559.5h0.9M59.5 566.5h0.9M70 567.5h0.9M74 572.5h0.9M83 569.5h0.9M61.5 571.5h0.9M75 567.5h0.9M83 568h0.9M69.5 570h0.9M61 573.5h0.9M72.5 579.5h0.9M77 569h0.9M73.5 557h0.9M71.5 568.5h0.9M79 569.5h0.9M77 571.5h0.9M68.5 568.5h0.9M70.5 556.5h0.9M62 573h0.9M82 577.5h0.9M66.5 578h0.9M83 560.5h0.9M75.5 579.5h0.9M73 575.5h0.9M68 563.5h0.9M78.5 565h0.9M73 567h0.9M65 578h0.9M71.5 563.5h0.9M69 567h0.9M66 573h0.9M70 572.5h0.9M66 558.5h0.9M66 568h0.9M63 573h0.9M70 573.5h0.9M69.5 572.5h0.9M65 557.5h0.9M76.5 562h0.9M79.5 561h0.9M75.5 560h0.9M60 577.5h0.9M71 574h0.9M73.5 552.5h0.9M75 575h0.9M81 579h0.9M75 565.5h0.9M72.5 557h0.9M77.5 572h0.9M74.5 560h0.9M81 561.5h0.9M68.5 563.5h0.9M65 559h0.9M86 569h0.9M74 559h0.9M73.5 566h0.9M73 554.5h0.9M71.5 551h0.9M71 559h0.9M78 576h0.9M72.5 557.5h0.9M82.5 555h0.9M68.5 564.5h0.9M67 576.5h0.9M75 574.5h0.9M70 573h0.9M71 565h0.9M74 569h0.9M76 564.5h0.9M61.5 563.5h0.9M53.5 564h0.9M66.5 572.5h0.9M53 582h0.9M69.5 553.5h0.9M75 570h0.9M75 583.5h0.9M66.5 568.5h0.9M73 560.5h0.9M74 576h0.9M66 569.5h0.9M79 571h0.9M61 568.5h0.9M69.5 575.5h0.9M71 581.5h0.9M63.5 570h0.9M66 580h0.9M83 558.5h0.9M77 565.5h0.9M60.5 557.5h0.9M72.5 570h0.9M69.5 568.5h0.9M74 568.5h0.9M64 567h0.9M75.5 554h0.9M82.5 577.5h0.9M73 582.5h0.9M66.5 558.5h0.9M67.5 560.5h0.9M85 566.5h0.9M71.5 569h0.9M83 567.5h0.9M69.5 568h0.9M81 564.5h0.9M82 568.5h0.9M71 570h0.9M85.5 564h0.9M81.5 570.5h0.9M73 566.5h0.9M77.5 571h0.9M74.5 571.5h0.9M66 561h0.9M65 563.5h0.9M70.5 563h0.9M75.5 558.5h0.9M70.5 573h0.9M83.5 566.5h0.9M80.5 577h0.9M65 568h0.9M65 563h0.9M75 556h0.9M75.5 565h0.9M70.5 570.5h0.9M66.5 552.5h0.9M72 560.5h0.9M70.5 557.5h0.9M65.5 558h0.9M63 559.5h0.9M66.5 566h0.9M94 561h0.9M61 570.5h0.9M63.5 559h0.9M69.5 566.5h0.9M72.5 568h0.9M71 574.5h0.9M77.5 561.5h0.9M70.5 555.5h0.9M76.5 564.5h0.9M85 560.5h0.9M82.5 558.5h0.9M60.5 559h0.9M74.5 574h0.9M66 573.5h0.9M68.5 562h0.9M70 579h0.9M73 568.5h0.9M61.5 567h0.9M74 578.5h0.9M66 560.5h0.9M65.5 561h0.9M76.5 559.5h0.9M80.5 566h0.9M65.5 560.5h0.9M62.5 554.5h0.9M79.5 572.5h0.9M65 562.5h0.9M83 560h0.9M73.5 570h0.9M70.5 564.5h0.9M61 566h0.9M73 555.5h0.9M75 558.5h0.9M54 550.5h0.9M69 554.5h0.9M71.5 554h0.9M75 564h0.9M70.5 566h0.9M65 565h0.9M72.5 575h0.9M63.5 564.5h0.9M65.5 568h0.9M78 560.5h0.9M64 554h0.9M64.5 555.5h0.9M70.5 567h0.9M71 568.5h0.9M66 570.5h0.9M71 569h0.9M76 563h0.9M80 572h0.9M69 579.5h0.9M83 553.5h0.9M56.5 561h0.9M75 573h0.9M76.5 565.5h0.9M78.5 571.5h0.9M68.5 567h0.9M79 560.5h0.9M67.5 559h0.9M82 571h0.9M77.5 563h0.9M71.5 575h0.9M70 575h0.9M71.5 565.5h0.9M75.5 572.5h0.9M84 563h0.9M83.5 560h0.9M66 548.5h0.9" stroke="#000" stroke-opacity="0.6" stroke-width="0.9" fill="none"/>
<path d="M80.5 579h0.9M65.5 575.5h0.9M71 570h0.9M74.5 576h0.9M70 572h0.9M75 577h0.9M64.5 576.5h0.9M76 565h0.9M77 580.5h0.9M66 581h0.9M72 577.5h0.9M72 571.5h0.9M64 585h0.9M64.5 575.5h0.9M83.5 574.5h0.9M74 568h0.9M69 571h0.9M62 578.5h0.9M79 571.5h0.9M70 577h0.9M79 570.5h0.9M82.5 576.5h0.9M73.5 571h0.9M78 576.5h0.9M85.5 571h0.9M84.5 572h0.9M77.5 574h0.9M75.5 580h0.9M70 578.5h0.9M72 575h0.9M69 576.5h0.9M60.5 576.5h0.9M81 576.5h0.9M62.5 573h0.9M72 582h0.9M71 575.5h0.9M72.5 576.5h0.9M68 577h0.9M78 578h0.9M68.5 579h0.9M87.5 575.5h0.9M77 566h0.9M84 580h0.9M82.5 575h0.9M81.5 584h0.9M69 574.5h0.9M81.5 574.5h0.9M59.5 578.5h0.9M76 571.5h0.9M76.5 575.5h0.9M62 579h0.9M89.5 578.5h0.9M65.5 572h0.9M64.5 574h0.9M83.5 574h0.9M81 573.5h0.9M80.5 572h0.9M70 572.5h0.9M60.5 576h0.9M64.5 575h0.9M75 575.5h0.9M76.5 573h0.9M74 579h0.9M73 575.5h0.9M56.5 574h0.9M81 570.5h0.9M67 579.5h0.9M66 580h0.9M73 573h0.9M60.5 582h0.9M60.5 573h0.9M78.5 570h0.9M71.5 571.5h0.9M69.5 576.5h0.9M67.5 578.5h0.9M76 576.5h0.9M77 577.5h0.9M66.5 570h0.9M75 578h0.9M66.5 570.5h0.9M70.5 577h0.9M79.5 573h0.9M65.5 576h0.9M78.5 574h0.9M81 579.5h0.9M66.5 573h0.9M80 585h0.9M82.5 573h0.9M62 573.5h0.9M82 567.5h0.9M64.5 579.5h0.9M75.5 579h0.9M66 573.5h0.9M70.5 571h0.9M72 574.5h0.9M79.5 573.5h0.9M71.5 577h0.9M82 577h0.9M75.5 573.5h0.9M70 571h0.9M74.5 575h0.9M85.5 573.5h0.9M80 578.5h0.9M60.5 575h0.9M72.5 575.5h0.9M66.5 579.5h0.9M80.5 575.5h0.9M78 570.5h0.9M81.5 571.5h0.9M61 577.5h0.9M76.5 572h0.9M62 573h0.9M71.5 566.5h0.9M81.5 577h0.9M73 579h0.9M72 571h0.9M78.5 576h0.9M66.5 571h0.9M68 580h0.9M73.5 585h0.9M69.5 578h0.9M76 574h0.9M79 571h0.9M72.5 571h0.9M59 578h0.9M65 572h0.9M77.5 573.5h0.9M77.5 580.5h0.9M75.5 576.5h0.9M66 579.5h0.9M78.5 575.5h0.9M90 570h0.9M71.5 575.5h0.9M71.5 569h0.9M79 577.5h0.9M65.5 578.5h0.9M67 576h0.9M71 576h0.9M71 578h0.9M69 584.5h0.9M79 572h0.9M67 575.5h0.9M84 576.5h0.9M66.5 578h0.9M74.5 577.5h0.9M70.5 583h0.9M75.5 581.5h0.9M71.5 580h0.9M74 581h0.9M66 574h0.9M75.5 578.5h0.9M84.5 569.5h0.9M82.5 581.5h0.9M69.5 574h0.9M77 575.5h0.9M70 575.5h0.9M85.5 576h0.9M67.5 570h0.9M66.5 577h0.9M68 573h0.9M78.5 573h0.9M71.5 576h0.9M84 574.5h0.9M79 574.5h0.9M84 569h0.9M66 574.5h0.9M89 578h0.9M78 574.5h0.9M80 572h0.9M63 579h0.9M81.5 568h0.9M61 575.5h0.9M61.5 578.5h0.9M66.5 579h0.9M78.5 573.5h0.9M67.5 579.5h0.9M64.5 581.5h0.9M77 576h0.9M76.5 569.5h0.9M68 577.5h0.9M76.5 574h0.9M83 573h0.9M81 577.5h0.9M79.5 575.5h0.9M78 571.5h0.9M78 580h0.9M72 576h0.9M73 578.5h0.9M61 583h0.9M76.5 578.5h0.9M77 577h0.9M82.5 574h0.9M80 579h0.9M77.5 572h0.9M80.5 581h0.9M72 577h0.9M77.5 577.5h0.9M88 575h0.9M70.5 578.5h0.9M63 577.5h0.9M80 569.5h0.9M69.5 577.5h0.9M74 574h0.9M75.5 570h0.9M69.5 582h0.9M70 577.5h0.9M74.5 578h0.9M76.5 576h0.9M82.5 574.5h0.9M62 575h0.9M84.5 577h0.9M71.5 570h0.9M83 578h0.9M62.5 572.5h0.9M69.5 571h0.9M74 571h0.9M77 573.5h0.9M70.5 578h0.9M77.5 575h0.9M60 570.5h0.9M86.5 574.5h0.9M67 574.5h0.9M65.5 576.5h0.9M73.5 575h0.9M76.5 578h0.9M77 575h0.9M85.5 572.5h0.9M73.5 574h0.9M80 575h0.9M73 578h0.9M89.5 578h0.9M84 571.5h0.9M73.5 575.5h0.9M63.5 583h0.9M64.5 578h0.9M66 577h0.9M80 576h0.9M68 574h0.9M80.5 573.5h0.9M75.5 578h0.9M57.5 579h0.9M84 579.5h0.9M78.5 571.5h0.9M82 580.5h0.9M69.5 573.5h0.9M73 574h0.9M59 569.5h0.9M65 574.5h0.9M77 572.5h0.9M76 579.5h0.9M95 574.5h0.9M68 579.5h0.9M64.5 573h0.9M76.5 577h0.9M89 574.5h0.9M71.5 574h0.9M68.5 571.5h0.9M74.5 572.5h0.9M72.5 574h0.9M76 575h0.9M56.5 579h0.9M74.5 573h0.9M75 572.5h0.9M74.5 572h0.9M79 575.5h0.9M64 574.5h0.9M74.5 571h0.9M76 574.5h0.9M68.5 575h0.9M70 571.5h0.9" stroke="#000" stroke-opacity="0.75" stroke-width="0.9" fill="none"/>
<path d="M39.5 600h0.9M35.5 605h0.9M57.5 606.5h0.9M42.5 600h0.9M52.5 601h0.9M47 602h0.9M34.5 608h0.9M36 597h0.9M58 598.5h0.9M60.5 604.5h0.9M53.5 601.5h0.9M36 598.5h0.9M51 602.5h0.9M38 598.5h0.9M41.5 603h0.9M54.5 606.5h0.9M46.5 608.5h0.9M57 609h0.9M41.5 605.5h0.9M60.5 596h0.9M59 604.5h0.9M59 603.5h0.9M61 601.5h0.9M45 606h0.9M57 598h0.9M61.5 607.5h0.9M60 600h0.9M62.5 605h0.9M59 603h0.9M46 600.5h0.9M44 606.5h0.9M42.5 600.5h0.9M53 602h0.9M30 600.5h0.9M46.5 609h0.9M56.5 599h0.9M39.5 601h0.9M52 600h0.9M54 597.5h0.9M53 607.5h0.9M52.5 604.5h0.9M52.5 603.5h0.9M51 609h0.9M60 606.5h0.9M44 601h0.9M60 599h0.9M60 598h0.9M70.5 608h0.9M44.5 601h0.9M30.5 603h0.9M61.5 605.5h0.9M47.5 611h0.9M55.5 604.5h0.9M47 605.5h0.9M75.5 604.5h0.9M34 604h0.9M68.5 607.5h0.9M45 604.5h0.9M35.5 605.5h0.9M41.5 601h0.9M44.5 600h0.9M66.5 608.5h0.9M47 603.5h0.9M66.5 602h0.9M45.5 599.5h0.9M65 603.5h0.9M50 601.5h0.9M41 606.5h0.9M42.5 601h0.9M33.5 598.5h0.9M45 601h0.9M35.5 600.5h0.9M48.5 593h0.9M55.5 602h0.9M37 602h0.9M54 603h0.9M50.5 603h0.9M56 597.5h0.9M44 604.5h0.9M50 599h0.9M47 600h0.9M50 596.5h0.9M34 597.5h0.9M48.5 612.5h0.9M59.5 607.5h0.9M50 609h0.9M53.5 603h0.9M60.5 598h0.9M28.5 598.5h0.9M63.5 606.5h0.9M51.5 602h0.9M48 604.5h0.9M41.5 606h0.9M40.5 608h0.9M46.5 599.5h0.9M47 599.5h0.9M48.5 596h0.9M45 603h0.9M61.5 596.5h0.9M47.5 601h0.9M49.5 602h0.9M63 603h0.9M41 612.5h0.9M50 602.5h0.9M58.5 600.5h0.9M47.5 606h0.9M38 601h0.9M59 610h0.9M49 602.5h0.9M60.5 597h0.9M43 600h0.9M29.5 591.5h0.9M46 606.5h0.9M56 608h0.9M62.5 599.5h0.9M37 604h0.9" stroke="#000" stroke-opacity="0.5" stroke-width="0.9" fill="none"/>
<path d="M78 629.5h0.9M78 633h0.9M82 627h0.9M75.5 630h0.9M74 631.5h0.9M84.5 631.5h0.9M70.5 628h0.9M80 631h0.9M69 621.5h0.9M77.5 634h0.9M74.5 631h0.9M80 615h0.9M76.5 627h0.9M85.5 629.5h0.9M76 617.5h0.9M78 624.5h0.9M85.5 631.5h0.9M69.5 610.5h0.9M75.5 627h0.9M72 622h0.9M85 630h0.9M68 627.5h0.9M79 624h0.9M81 629h0.9M92.5 627h0.9M73.5 622h0.9M81.5 629h0.9M79.5 622.5h0.9M78.5 617.5h0.9M82.5 628.5h0.9M79 620h0.9M76.5 622h0.9M79.5 623.5h0.9M80 631.5h0.9M85.5 619h0.9M76 618.5h0.9M85.5 620h0.9M86 622.5h0.9M84 622h0.9M76.5 626.5h0.9M78.5 624.5h0.9M82 633h0.9M83 622.5h0.9M67 626h0.9M61.5 630h0.9M81.5 617.5h0.9M81.5 621.5h0.9M85.5 620.5h0.9M73 621.5h0.9M79.5 619h0.9M91 623h0.9M88.5 623.5h0.9M76 621h0.9M73.5 628.5h0.9M85 626h0.9M72.5 627h0.9M73.5 608.5h0.9M78.5 614.5h0.9M74.5 626h0.9M75.5 624h0.9M87 631.5h0.9M87 627h0.9M74.5 627.5h0.9M79 627.5h0.9M81.5 626h0.9M82.5 620h0.9M81 619h0.9M77 622h0.9M78 629h0.9M69 619h0.9M83.5 624h0.9M70.5 611.5h0.9M75.5 614.5h0.9M78.5 625h0.9M88.5 617.5h0.9M81.5 618h0.9M72 624h0.9M77.5 620.5h0.9M91.5 620.5h0.9M73.5 629h0.9M85 617h0.9M75 623h0.9M69.5 617h0.9M75.5 619.5h0.9M79.5 630.5h0.9M79 627h0.9M72.5 621.5h0.9M80 629h0.9M77 628.5h0.9M76 618h0.9M68 630.5h0.9M80 629.5h0.9M75 634.5h0.9M80.5 631.5h0.9M74 623h0.9M85 625h0.9M78 634.5h0.9M84.5 626.5h0.9M88.5 616h0.9M77.5 621.5h0.9M86 635h0.9M75 626h0.9M83 628.5h0.9M79.5 631.5h0.9M89 626h0.9M71.5 624.5h0.9M77.5 623h0.9M82 630h0.9M83 628h0.9M76 620h0.9M79.5 624.5h0.9M77.5 628.5h0.9M76 632h0.9M84 619.5h0.9M85.5 623h0.9M73.5 623.5h0.9M70.5 627.5h0.9M84.5 616h0.9M81.5 629.5h0.9M80.5 622.5h0.9M83 627.5h0.9M82.5 627h0.9M76.5 625h0.9M81.5 631.5h0.9M67 617.5h0.9M68.5 622h0.9M74 626.5h0.9M76 633.5h0.9M74.5 621h0.9M73 623.5h0.9M78.5 622h0.9M72.5 617h0.9M79 622h0.9M72 623.5h0.9M87 619.5h0.9M75 613h0.9M66.5 614h0.9M83 624.5h0.9M69.5 621h0.9M75 621h0.9M86 613h0.9M75 626.5h0.9M80.5 611.5h0.9M79 617.5h0.9M74.5 615.5h0.9M83.5 623.5h0.9M67.5 630.5h0.9M84.5 618.5h0.9M83 614h0.9M70.5 626h0.9M70 630h0.9M86 625.5h0.9M80.5 635h0.9M80.5 633.5h0.9M86 619h0.9M90.5 632.5h0.9M78.5 630.5h0.9M79.5 627h0.9M72 623h0.9M80.5 628h0.9M77.5 633h0.9M64 620h0.9M83.5 623h0.9M81.5 635h0.9M82.5 616.5h0.9M76.5 618.5h0.9M80.5 632h0.9M76.5 628.5h0.9M78.5 627h0.9M81 632h0.9M82 625.5h0.9M78.5 628.5h0.9M81.5 623h0.9M74.5 624h0.9M75 629h0.9M88.5 628.5h0.9M72.5 633h0.9M76 620.5h0.9M81.5 617h0.9M77.5 629h0.9M82.5 622.5h0.9M75 625h0.9M85 614.5h0.9M82.5 627.5h0.9M86 618.5h0.9M84.5 620h0.9M79.5 623h0.9M64 625h0.9M80.5 631h0.9M74.5 618.5h0.9M82 623.5h0.9M84 634.5h0.9M76.5 624.5h0.9M74 613h0.9M78 630h0.9M84 625.5h0.9M88.5 622.5h0.9M78 622h0.9M79.5 626.5h0.9M72 628.5h0.9M78.5 613.5h0.9M72 631.5h0.9M74.5 621.5h0.9M75.5 626.5h0.9M81.5 624h0.9M87.5 622h0.9M75.5 624.5h0.9M79 634.5h0.9M91.5 623.5h0.9M77 629.5h0.9M77.5 631h0.9M72 631h0.9M65.5 629h0.9M73 630h0.9M82 620h0.9M79.5 620.5h0.9M71.5 616h0.9M77 619h0.9M66 627.5h0.9M68 630h0.9M69 620h0.9M70.5 623h0.9M66 622h0.9M86 619.5h0.9M82.5 607.5h0.9M76.5 631h0.9M82 616.5h0.9M73 612h0.9M73.5 617h0.9M81.5 625h0.9M86 630.5h0.9M85.5 628.5h0.9M67.5 623h0.9M64 616.5h0.9M74 633.5h0.9M78 627h0.9M82.5 619.5h0.9M84.5 627h0.9M72.5 622h0.9M76.5 629.5h0.9M86.5 623.5h0.9M79 623h0.9M82 627.5h0.9M73.5 634h0.9M93 620h0.9M70.5 630.5h0.9M69.5 629.5h0.9M80.5 630h0.9M69.5 626.5h0.9M79.5 631h0.9M80 622h0.9M84.5 634.5h0.9M86 620.5h0.9M81 619.5h0.9M77 630.5h0.9M85 620.5h0.9M74.5 625h0.9M77 617.5h0.9M77 615.5h0.9M87.5 627.5h0.9M81.5 622h0.9M84.5 623.5h0.9M83 629.5h0.9M88 632h0.9M78 618.5h0.9M87 622.5h0.9M64.5 628h0.9M83 619.5h0.9M82 617h0.9M80 628h0.9M74 630.5h0.9M86.5 619.5h0.9M78.5 636h0.9M85.5 621h0.9M74.5 629h0.9M74 626h0.9M70 629.5h0.9M68.5 626.5h0.9M82 621h0.9M68.5 617.5h0.9M66.5 617h0.9M80 626h0.9M84 634h0.9M80.5 625h0.9M74.5 624.5h0.9M83.5 629.5h0.9M81.5 614.5h0.9M73.5 621h0.9M82 632.5h0.9M89 622h0.9M77.5 626h0.9M78 620h0.9M82.5 612.5h0.9M81.5 616.5h0.9M71 625.5h0.9M71.5 627h0.9M70.5 620h0.9M80.5 623.5h0.9M83.5 627.5h0.9M86 616.5h0.9M79.5 624h0.9M80.5 619.5h0.9M83 617h0.9M83.5 629h0.9M67 628h0.9M66.5 629h0.9M68.5 625h0.9M76.5 615h0.9M67 628.5h0.9M75 632.5h0.9M81.5 620.5h0.9M77 618h0.9M81 620h0.9M78.5 633h0.9M81.5 627.5h0.9M77.5 633.5h0.9M61 626.5h0.9M87.5 621.5h0.9M78 632h0.9M80 626.5h0.9M84 617.5h0.9M88 629h0.9M61 620h0.9M78.5 616h0.9M86.5 628.5h0.9M76 625.5h0.9M84.5 629h0.9M84.5 624h0.9M89 617h0.9M70.5 629.5h0.9M77 627.5h0.9M79 625h0.9M72.5 628.5h0.9M86.5 621h0.9M73.5 631.5h0.9M72 625.5h0.9M67.5 625.5h0.9M72.5 620.5h0.9M67 626.5h0.9M90 624h0.9M78 619h0.9M69.5 620.5h0.9M75.5 628.5h0.9M76.5 628h0.9M86.5 632.5h0.9M76 614.5h0.9M77.5 627h0.9M95.5 624h0.9M72.5 624h0.9M80 630.5h0.9M59.5 633.5h0.9M87.5 635h0.9M83.5 625.5h0.9M82 634.5h0.9M72.5 630.5h0.9M89.5 621.5h0.9M72.5 626h0.9M74.5 635h0.9M71.5 634.5h0.9M67 632.5h0.9M73 623h0.9M89 625.5h0.9M89.5 626.5h0.9M74 627.5h0.9M71 621.5h0.9M75 630h0.9M75.5 629h0.9M68 625.5h0.9M71.5 630h0.9M75 619.5h0.9M68 632h0.9M77 626h0.9M89.5 624.5h0.9M82 615h0.9M74.5 633.5h0.9M79 626.5h0.9M79 624.5h0.9M77 621.5h0.9M77 613.5h0.9M78.5 625.5h0.9M81 618.5h0.9M72.5 631h0.9M74 629h0.9M74.5 618h0.9M69.5 622h0.9M75.5 618h0.9M86.5 626h0.9M73 635.5h0.9M83 621h0.9M72 624.5h0.9M82.5 617h0.9M85 623.5h0.9M83.5 625h0.9M81 630h0.9M86 621.5h0.9M89.5 617.5h0.9M80 630h0.9M78.5 631.5h0.9M68.5 625.5h0.9M84.5 626h0.9M72 627h0.9M79.5 619.5h0.9M72.5 626.5h0.9M80 623h0.9M82 628h0.9M85.5 619.5h0.9M80 612.5h0.9M72 628h0.9M82 626h0.9M79.5 634h0.9M76.5 621h0.9M87.5 630h0.9M88 624h0.9M69.5 625h0.9M82 624h0.9M71 624.5h0.9M82.5 619h0.9M86.5 624.5h0.9M78 623h0.9M82 623h0.9M80 634h0.9M86 616h0.9M86.5 623h0.9M83 633h0.9M80.5 627.5h0.9M80.5 624h0.9M76.5 611h0.9M68 628.5h0.9M83 629h0.9M81.5 623.5h0.9M78.5 635.5h0.9M70 622h0.9M71.5 632.5h0.9M89.5 625.5h0.9M75 633h0.9M81.5 627h0.9M77.5 614h0.9M66 626h0.9M84 620.5h0.9M79 616h0.9M69.5 625.5h0.9M82.5 630.5h0.9M78 625.5h0.9M83.5 628.5h0.9M75.5 611h0.9M83 632h0.9M81 628h0.9M81 633.5h0.9M75 625.5h0.9M72.5 624.5h0.9M73.5 620.5h0.9M66.5 625h0.9M84 606.5h0.9M85.5 625.5h0.9M86.5 626.5h0.9M77 620h0.9M85 624h0.9M82.5 634h0.9M84 621h0.9M88 613.5h0.9M86.5 609.5h0.9M72.5 625h0.9M74 612h0.9M69 627h0.9M68 629.5h0.9M85 634h0.9M79.5 625h0.9M85 629.5h0.9M80 632.5h0.9M66.5 631h0.9M74.5 610.5h0.9M84.5 620.5h0.9M80.5 621h0.9M75.5 636h0.9M68.5 631.5h0.9M74 628.5h0.9M81.5 616h0.9M80 620h0.9M85.5 628h0.9M83 623h0.9M89.5 622.5h0.9M79 618.5h0.9M77 627h0.9M77.5 626.5h0.9M71 631.5h0.9M85 631h0.9M75 623.5h0.9M76 626h0.9M76 622h0.9M76 631.5h0.9M84.5 622h0.9M91 628h0.9M69.5 629h0.9M83.5 633.5h0.9M69 619.5h0.9M81.5 612.5h0.9M75 624.5h0.9M81.5 628h0.9M70 625.5h0.9M82.5 618.5h0.9M92 625h0.9M76.5 618h0.9M71.5 615h0.9M67.5 630h0.9M78 627.5h0.9M68.5 612.5h0.9M78.5 626.5h0.9M84 630h0.9M79 629h0.9M79.5 629h0.9M78 623.5h0.9M73.5 631h0.9M90 627.5h0.9M77.5 621h0.9M78.5 620.5h0.9M65 628.5h0.9M80 624h0.9M78.5 634h0.9M88.5 632.5h0.9M81 631h0.9M77.5 628h0.9M75.5 615.5h0.9M77.5 627.5h0.9M77.5 630h0.9M80 632h0.9M82 631.5h0.9M86.5 622.5h0.9M80.5 623h0.9M79.5 635h0.9M70 604.5h0.9M82 636h0.9M83.5 620h0.9M82.5 634.5h0.9M85.5 630.5h0.9M81.5 628.5h0.9M78.5 610h0.9M77 617h0.9M76.5 620.5h0.9M88 614h0.9M81 622h0.9M86 631h0.9M79 616.5h0.9M79.5 628h0.9M77 619.5h0.9M71 632.5h0.9M77.5 622.5h0.9M75 628.5h0.9M73 619h0.9M86 624h0.9M78 624h0.9M88 621.5h0.9M77.5 619.5h0.9M79.5 622h0.9M82 624.5h0.9M79 630h0.9M70 630.5h0.9M72 617.5h0.9M76 635h0.9M74.5 628.5h0.9M72.5 629.5h0.9M80 633h0.9M79 625.5h0.9M67 627.5h0.9M83 627h0.9M79 629.5h0.9M66.5 627.5h0.9M80.5 620h0.9M81 625h0.9M74 616.5h0.9M67.5 621h0.9M75.5 626h0.9M89.5 625h0.9M74 622.5h0.9M79.5 630h0.9M88 610.5h0.9M85.5 627.5h0.9M78.5 621h0.9M62.5 626h0.9M74.5 627h0.9M77.5 617.5h0.9M69.5 633h0.9M70.5 618.5h0.9M92 620h0.9M70 619.5h0.9M82.5 620.5h0.9M77 610.5h0.9M74.5 625.5h0.9M78.5 635h0.9M81 607h0.9M68 619.5h0.9M64.5 630.5h0.9M72 610h0.9M72 622.5h0.9M70.5 617.5h0.9M84 618h0.9M79.5 632.5h0.9M75.5 633h0.9M87 622h0.9M85 629h0.9M79.5 618h0.9M61 622h0.9M80.5 614.5h0.9M88 626h0.9M74 629.5h0.9M75 619h0.9M82 613.5h0.9M81.5 624.5h0.9M76.5 620h0.9M78 607.5h0.9M86 621h0.9M86 623.5h0.9M73.5 624h0.9M74 624.5h0.9M81 624h0.9M80.5 625.5h0.9M77 616.5h0.9M80 625.5h0.9M86.5 617h0.9M67.5 624.5h0.9M74 625.5h0.9M70 618.5h0.9M77.5 616h0.9M73.5 633.5h0.9M77.5 625.5h0.9M84.5 614.5h0.9M75.5 625h0.9M82.5 621h0.9M81.5 612h0.9M80.5 630.5h0.9M72.5 623.5h0.9M85 626.5h0.9M73 622.5h0.9M74.5 630.5h0.9M71 626h0.9M71 630.5h0.9M80 633.5h0.9M78 621.5h0.9M77.5 624h0.9M76.5 626h0.9M77 630h0.9M76.5 624h0.9M77.5 629.5h0.9M80 623.5h0.9M78 626h0.9M81 616.5h0.9M76.5 608.5h0.9M68.5 630.5h0.9M70.5 625h0.9M81.5 622.5h0.9M79.5 618.5h0.9M69 616h0.9M81 612h0.9M76.5 633h0.9M83 631.5h0.9M75.5 633.5h0.9M80.5 627h0.9M69 628.5h0.9M77 631h0.9M74 621h0.9M78.5 632h0.9M70.5 622h0.9M75 624h0.9M75.5 632h0.9M64.5 621.5h0.9M71 622.5h0.9M76 627h0.9M72.5 634.5h0.9M76.5 632.5h0.9M90.5 635.5h0.9M78 626.5h0.9M73.5 614.5h0.9M70 620h0.9M82.5 633h0.9M79 626h0.9" stroke="#000" stroke-opacity="0.75" stroke-width="0.9" fill="none"/>
<path d="M42.5 621.5h0.9M44 628h0.9M41 624.5h0.9M43.5 627h0.9M44 621.5h0.9M38 622.5h0.9M32 620h0.9M40.5 622h0.9M38.5 626.5h0.9M42.5 626.5h0.9M40.5 623h0.9M38.5 624.5h0.9M35 621.5h0.9M43 626.5h0.9M41 620.5h0.9M43 622h0.9M41 621h0.9M47.5 628.5h0.9M38.5 620.5h0.9M41 626h0.9M45.5 624h0.9M37 625h0.9M42 619.5h0.9M38 624.5h0.9M44.5 627h0.9M43.5 623h0.9M40 630.5h0.9M32.5 622h0.9M38.5 624h0.9M47 623.5h0.9M40.5 624.5h0.9M40 625h0.9M49.5 622h0.9M40.5 624h0.9M34 625.5h0.9M41 618.5h0.9M38 627h0.9M39 619.5h0.9M44 623.5h0.9M41.5 619.5h0.9M36.5 621h0.9M40.5 623.5h0.9M46 628.5h0.9M41.5 623.5h0.9M47.5 624h0.9M44.5 622.5h0.9M41 623h0.9M39 625h0.9M38.5 623.5h0.9M42.5 630h0.9M35 624h0.9M44 625.5h0.9M43 623h0.9M37.5 621.5h0.9M36.5 627h0.9M39.5 621.5h0.9M44 623h0.9M42.5 623.5h0.9M42.5 624.5h0.9M34 628h0.9M44.5 620h0.9M41.5 627.5h0.9M48 627h0.9M39 620.5h0.9M44 619h0.9M40 623h0.9M39 628h0.9M45 630h0.9M41 623.5h0.9M45 618.5h0.9M37 621h0.9M36 624h0.9M42 624h0.9M41 626.5h0.9M45 627.5h0.9M46 625h0.9M45.5 622.5h0.9M41 622h0.9M41 625h0.9M39.5 629.5h0.9M36 626.5h0.9M37.5 625h0.9M41.5 621.5h0.9M37 622h0.9M41.5 626.5h0.9M46.5 619h0.9M42.5 622.5h0.9M44 625h0.9M41 628.5h0.9M45 620.5h0.9M38 628h0.9M40.5 619h0.9M44 627.5h0.9M39 621.5h0.9M43 625.5h0.9M36 621h0.9M40 622h0.9M42 625.5h0.9M47.5 625h0.9M44 619.5h0.9M39 627h0.9M36.5 628h0.9M43 624.5h0.9M40.5 620.5h0.9M37.5 622.5h0.9M39.5 627.5h0.9M38 622h0.9M35.5 624.5h0.9M41 627h0.9M47.5 625.5h0.9M37 623.5h0.9M40 616.5h0.9M43 630h0.9M44 620h0.9M39.5 623.5h0.9M38.5 622.5h0.9M43.5 621.5h0.9M39 622h0.9M38.5 625h0.9M34.5 618.5h0.9M42 629h0.9M39.5 625h0.9M36.5 624.5h0.9M38.5 629.5h0.9M37.5 626h0.9M45.5 630h0.9M40.5 619.5h0.9M44 622h0.9M38 626h0.9M42 626h0.9M43.5 627.5h0.9M47.5 624.5h0.9M40.5 621.5h0.9M40 624h0.9M42 620h0.9M40 623.5h0.9M42.5 621h0.9M42 621h0.9M45 626h0.9M45.5 621.5h0.9M37 620h0.9M40.5 627h0.9M43.5 626h0.9M37 627h0.9M43.5 622.5h0.9M32.5 621.5h0.9M40.5 628.5h0.9M46.5 628.5h0.9M42.5 625.5h0.9M45.5 622h0.9M42.5 623h0.9M38 625.5h0.9M45 629.5h0.9M44 627h0.9M39 629.5h0.9M45.5 623.5h0.9M47 626h0.9M46.5 623.5h0.9M41 627.5h0.9M42 621.5h0.9M40.5 625.5h0.9M37 623h0.9M37.5 624.5h0.9M40.5 621h0.9M41 622.5h0.9M37.5 627h0.9M43.5 620h0.9M37 628h0.9M38 625h0.9M37.5 629.5h0.9M50 624.5h0.9M43.5 625.5h0.9M41 624h0.9M40 626.5h0.9M37 621.5h0.9M46.5 623h0.9M42 628h0.9M39.5 625.5h0.9M44.5 628h0.9M39.5 619h0.9M39 624h0.9M45.5 627.5h0.9M43.5 622h0.9M44 624h0.9M38 619h0.9M44.5 619.5h0.9M45.5 630.5h0.9M42.5 627h0.9M38.5 623h0.9M39 627.5h0.9M44.5 621.5h0.9M40 624.5h0.9M35 622.5h0.9M41.5 620h0.9M39.5 627h0.9M38.5 626h0.9M46.5 619.5h0.9M45.5 624.5h0.9" stroke="#000" stroke-opacity="0.7" stroke-width="0.9" fill="none"/>
<path d="M77.5 578.5h0.9M73 598.5h0.9M67.5 593.5h0.9M80 591h0.9M84.5 585.5h0.9M89 587.5h0.9M86.5 586.5h0.9M80.5 588.5h0.9M91.5 583h0.9M73.5 602.5h0.9M85 591h0.9M76.5 581h0.9M76.5 594h0.9M88 598.5h0.9M90 594h0.9M73 588.5h0.9M90.5 592h0.9M89.5 579h0.9M75 585h0.9M80.5 585h0.9M68.5 590.5h0.9M61 586.5h0.9M82 582h0.9M78 584h0.9M76 593h0.9M82 594.5h0.9M72.5 603h0.9M81 586h0.9M89 588h0.9M94 597.5h0.9M78 587.5h0.9M72 585h0.9M76.5 601.5h0.9M80 590.5h0.9M82 588.5h0.9M69 579.5h0.9M90 589h0.9M91 606h0.9M81 597h0.9M76 590h0.9M79.5 591h0.9M90.5 590.5h0.9M86 592h0.9M83.5 605.5h0.9M66.5 600.5h0.9M74 593h0.9M76 587.5h0.9M68 570.5h0.9M95.5 598h0.9M77 576.5h0.9M84 603.5h0.9M82 577.5h0.9M74.5 593.5h0.9M78 600h0.9M71 586h0.9M59 600h0.9M84 588h0.9M64.5 598h0.9M67.5 581h0.9M63.5 580h0.9M71 582.5h0.9M87.5 597h0.9M79 586.5h0.9M78 580.5h0.9M81.5 583.5h0.9M74.5 594h0.9M71.5 580h0.9M86.5 577h0.9M68.5 581.5h0.9M72.5 590h0.9M52.5 587h0.9M90 600.5h0.9M85.5 590.5h0.9M80.5 586.5h0.9M65 594h0.9M87 593.5h0.9M78.5 598h0.9M81 600h0.9M75 576.5h0.9M82.5 598h0.9M72 593h0.9M84.5 569h0.9M98.5 597.5h0.9M77 581.5h0.9M65.5 618h0.9M76 596.5h0.9M84 583.5h0.9M78 589.5h0.9M77 602.5h0.9M74.5 588h0.9M79 589h0.9M85 568h0.9M64 573.5h0.9M90 597.5h0.9M73 594h0.9M64 588.5h0.9M90.5 596.5h0.9M96 587h0.9M88 592h0.9M81 593h0.9M85 602h0.9M79 594h0.9M77.5 593.5h0.9M72 599h0.9M84.5 593.5h0.9M78.5 585.5h0.9M71 582h0.9M72 598.5h0.9M82 579.5h0.9M70.5 602h0.9M92 598h0.9M96 585.5h0.9M82.5 586h0.9M97 595h0.9M73.5 591h0.9M60.5 588h0.9M70.5 598h0.9M90 593.5h0.9M70.5 582.5h0.9M85 589.5h0.9M77 582.5h0.9M85.5 584h0.9M79 580h0.9M81 591.5h0.9M76 599h0.9M68.5 604.5h0.9M82.5 596.5h0.9M81.5 586h0.9M74.5 599.5h0.9M76.5 598.5h0.9M84.5 581h0.9M95 600h0.9M86 594.5h0.9M78.5 598.5h0.9M100 591h0.9M70.5 591.5h0.9M80 599.5h0.9M69 588h0.9M76.5 599.5h0.9M88 593.5h0.9M88 592.5h0.9M80 573h0.9M72 582.5h0.9M82.5 592h0.9M70.5 592h0.9M78 594.5h0.9M74.5 585.5h0.9M89 589.5h0.9M87 584h0.9M77 588.5h0.9M71 597h0.9M68 593h0.9M61.5 597h0.9M79 600.5h0.9M95 586h0.9M79 581h0.9M75 592h0.9M79 597.5h0.9M83 599h0.9M73.5 592.5h0.9M70.5 590h0.9M56.5 590.5h0.9M79 587.5h0.9M75.5 577.5h0.9M73.5 586.5h0.9M80.5 595h0.9M75 590h0.9M81.5 584h0.9M87 607.5h0.9M81.5 587.5h0.9M80.5 600.5h0.9M89 580.5h0.9M81 585.5h0.9M75 593.5h0.9M83 589h0.9M72 589.5h0.9M70.5 605h0.9M66 596h0.9M70.5 587h0.9M76 587h0.9M76.5 592h0.9M75 594.5h0.9M84.5 587h0.9M84.5 591.5h0.9M74 595h0.9M87.5 588.5h0.9M64 597h0.9M86.5 582h0.9M77.5 594.5h0.9M59.5 597h0.9M84 597.5h0.9M90.5 582.5h0.9M86 609h0.9M84 585h0.9M64 593.5h0.9M79.5 585h0.9M80.5 598h0.9M86.5 594h0.9M68.5 588.5h0.9M60 582.5h0.9M79.5 595h0.9M78 590.5h0.9M62.5 580.5h0.9M69 586h0.9M73.5 608h0.9M86.5 582.5h0.9M73 586.5h0.9M62 600h0.9M83.5 596h0.9M79 594.5h0.9M75.5 575h0.9M79 591h0.9M67.5 572.5h0.9M87 582.5h0.9M76.5 585h0.9M91.5 578.5h0.9M86.5 570.5h0.9M85.5 586.5h0.9M60 591h0.9M77.5 577.5h0.9M81 590.5h0.9M72 583h0.9M70 601.5h0.9M74 599.5h0.9M84.5 585h0.9M63.5 592h0.9M83.5 600h0.9M81 594h0.9M73 584.5h0.9M104 599.5h0.9M67.5 593h0.9M82 576h0.9M76 595h0.9M91.5 603.5h0.9M75.5 588h0.9M74.5 592.5h0.9M85 582h0.9M76.5 586h0.9M72 586.5h0.9M93 604.5h0.9M90 577h0.9M80.5 610h0.9M81.5 585h0.9M83 588.5h0.9M75 592.5h0.9M82 589.5h0.9M78 582.5h0.9M78 596.5h0.9M79 589.5h0.9M66.5 600h0.9M69 596h0.9M75.5 597h0.9M86.5 588h0.9M53.5 574h0.9M70.5 583h0.9M80.5 606.5h0.9M83.5 589.5h0.9M89 589h0.9M85 593.5h0.9M62.5 598.5h0.9M92.5 588h0.9M84.5 595h0.9M86.5 585.5h0.9M74 597.5h0.9M86 603.5h0.9M73.5 580h0.9M87 578.5h0.9M75 589h0.9M92 591h0.9M89 576h0.9M67.5 599h0.9M79.5 582.5h0.9M76.5 591.5h0.9M87.5 590.5h0.9M74 593.5h0.9M71 594h0.9M76 588.5h0.9M76 583h0.9M89.5 578.5h0.9M80 580.5h0.9M85.5 589h0.9M80 594.5h0.9M81 592.5h0.9M81.5 593.5h0.9M74.5 588.5h0.9M74 601.5h0.9M67 604.5h0.9M74 596h0.9M78.5 589.5h0.9M83 604.5h0.9M77.5 590.5h0.9M74 607h0.9M87.5 600h0.9M78.5 575.5h0.9M82 576.5h0.9M73.5 598.5h0.9M73.5 585.5h0.9M61.5 596.5h0.9M81.5 587h0.9M81 578h0.9M71 592.5h0.9M68.5 587h0.9M87 586h0.9M80.5 594.5h0.9M74 591h0.9M64 586h0.9M78.5 596h0.9M88.5 587h0.9M82 590h0.9M72 584.5h0.9M78 591h0.9M72.5 612.5h0.9M78 596h0.9M76 613h0.9M80 600.5h0.9M78 583h0.9M91 596h0.9M76 592h0.9M64.5 592h0.9M73.5 594.5h0.9M81 582.5h0.9M89 597h0.9M72.5 593.5h0.9M88.5 583.5h0.9M72 595h0.9M77 588h0.9M92 598.5h0.9M75.5 600.5h0.9M93 594.5h0.9M80.5 587h0.9M79 592.5h0.9M88.5 583h0.9M65 586.5h0.9M81 574.5h0.9M76.5 584h0.9M69 591.5h0.9M87.5 580h0.9M80 589.5h0.9M83.5 590.5h0.9M73 597.5h0.9M81.5 582.5h0.9M62 585h0.9M79.5 596.5h0.9M73.5 587.5h0.9M63.5 587h0.9M79 586h0.9M77 583h0.9M65.5 590.5h0.9M87.5 586h0.9M74 584h0.9M67.5 586h0.9M68 588.5h0.9M73.5 581.5h0.9M78 598.5h0.9M77.5 582h0.9M76 595.5h0.9M84 601h0.9M66 602.5h0.9M81 602.5h0.9M80.5 586h0.9M84 595.5h0.9M85.5 578h0.9M87 583.5h0.9M78.5 587h0.9M68.5 597h0.9M69.5 586h0.9M89.5 572.5h0.9M74.5 596.5h0.9M77.5 586.5h0.9M83.5 584.5h0.9M73.5 592h0.9M69 579h0.9M64.5 597.5h0.9M93 599.5h0.9M72.5 586h0.9M70 590h0.9M86 589.5h0.9M77.5 564.5h0.9M90 572h0.9M65.5 603.5h0.9M81.5 584.5h0.9M76 590.5h0.9M78 580h0.9M89.5 594h0.9M74 580h0.9M78 597.5h0.9M96.5 606h0.9M75 587h0.9M70 594h0.9M80.5 594h0.9M70.5 600h0.9M78 592h0.9M88 609h0.9M77.5 600.5h0.9M57.5 605.5h0.9M78 601h0.9M76.5 595h0.9M83.5 586h0.9M73.5 567.5h0.9M82.5 589.5h0.9M76.5 600.5h0.9M63 592h0.9M76 598.5h0.9M74.5 581h0.9M76.5 605.5h0.9M71.5 601h0.9M77 574.5h0.9M83.5 609.5h0.9M76.5 583.5h0.9M101.5 595h0.9M59 597.5h0.9M82 582.5h0.9M73.5 590h0.9M92 586.5h0.9M73 582.5h0.9M77 597.5h0.9M79.5 588h0.9M90 602h0.9M65.5 581.5h0.9M71 589h0.9M79.5 590h0.9M68 573h0.9M80.5 601h0.9M80 587.5h0.9M83 588h0.9M68 587.5h0.9M84 587h0.9M83 602.5h0.9M75.5 587h0.9M88 591.5h0.9M69 587.5h0.9M89 594h0.9M93.5 596h0.9M80.5 599.5h0.9M73.5 599.5h0.9M77.5 589h0.9M69.5 584h0.9M82.5 593.5h0.9M79 596.5h0.9M71.5 587.5h0.9M91.5 583.5h0.9M88.5 589h0.9M82.5 593h0.9M86 585.5h0.9M71 598h0.9M75.5 589.5h0.9M77 587.5h0.9M64 590h0.9M75 580h0.9M92.5 586.5h0.9M82 589h0.9M84.5 592h0.9M75.5 578.5h0.9M86.5 579h0.9M73.5 605h0.9M80.5 591.5h0.9M79.5 593h0.9M76 594h0.9M77.5 588.5h0.9M82.5 596h0.9M81.5 598.5h0.9M93.5 604.5h0.9M87.5 592h0.9M85 588.5h0.9M85.5 582.5h0.9M94.5 589h0.9M62 601.5h0.9M86.5 602h0.9M89 590h0.9M76.5 602h0.9M72.5 591.5h0.9M83.5 591.5h0.9M85.5 575.5h0.9M88 582h0.9M82.5 590h0.9M95 586.5h0.9M69 581.5h0.9M75 597h0.9M78 585h0.9M100 603.5h0.9M79 578h0.9M74.5 584h0.9M72 574h0.9M74.5 586.5h0.9M73.5 581h0.9M61 583h0.9M85 600.5h0.9M69.5 590h0.9M83 598.5h0.9M75 577h0.9M86 590.5h0.9M71.5 587h0.9M81 581h0.9M90.5 609h0.9M60.5 598.5h0.9M75 596h0.9M85.5 592h0.9M67.5 590h0.9M78.5 586.5h0.9M69 606.5h0.9M66 595.5h0.9M77.5 599.5h0.9M92 586h0.9M73 600.5h0.9M84.5 588.5h0.9M78.5 591h0.9M62 597h0.9M85 584h0.9M79.5 583.5h0.9M84 581h0.9M72.5 588h0.9M79 609.5h0.9M85 601.5h0.9M92 595.5h0.9M71 588.5h0.9M90.5 608h0.9M88.5 610h0.9M84 584.5h0.9M79.5 593.5h0.9M86 598h0.9M72 600.5h0.9M84 596.5h0.9M83 587h0.9M77.5 598.5h0.9M75 582h0.9M59 591.5h0.9M71.5 591h0.9M70.5 587.5h0.9M75.5 598.5h0.9M72 582h0.9M79.5 597.5h0.9M71.5 595h0.9M78.5 595h0.9M64 592h0.9M76.5 592.5h0.9M61.5 591h0.9M89.5 592.5h0.9M89.5 585.5h0.9M67 582.5h0.9M85 585.5h0.9M87 585h0.9M84.5 589.5h0.9M74.5 590h0.9M71.5 577.5h0.9M67.5 585h0.9M85 584.5h0.9M78 579.5h0.9M70.5 599h0.9M77.5 606h0.9M73 574.5h0.9M89 599h0.9M107 607.5h0.9M64.5 588h0.9M84 598.5h0.9M70.5 589h0.9M67 599h0.9M71.5 582h0.9M63 583h0.9M64.5 599.5h0.9M83.5 581h0.9M71.5 590.5h0.9M89 596h0.9M94.5 568.5h0.9M65.5 596.5h0.9M80 588.5h0.9M69 595h0.9M74.5 602h0.9M87 598h0.9M63.5 593.5h0.9M92.5 605.5h0.9M88.5 600h0.9M72.5 602.5h0.9M93.5 594.5h0.9M66 586h0.9M81.5 592.5h0.9M90 598.5h0.9M89 590.5h0.9M87 585.5h0.9M73 598h0.9M80.5 584.5h0.9M86 602.5h0.9M84.5 601.5h0.9M86 598.5h0.9M72 576h0.9M75.5 565h0.9M74 582h0.9M78.5 583.5h0.9M76.5 603h0.9M70 577h0.9M90 597h0.9M81 588h0.9M86 588.5h0.9M73.5 595.5h0.9M72 595.5h0.9M69 586.5h0.9M80 585h0.9M86.5 590h0.9M80 575h0.9M83 591.5h0.9M62.5 593h0.9M81 585h0.9M69.5 579.5h0.9M76.5 607h0.9M65.5 593.5h0.9M86 583.5h0.9M75 567.5h0.9M85 573h0.9M88.5 582h0.9M74 611h0.9M68.5 589.5h0.9M81.5 603.5h0.9M57.5 590h0.9M83 598h0.9M72 591.5h0.9M93.5 594h0.9M95.5 581h0.9M72.5 591h0.9M70 596h0.9M69.5 593.5h0.9M66 584h0.9M80.5 595.5h0.9M70.5 578.5h0.9M83 583h0.9M81.5 601.5h0.9M83.5 578.5h0.9M82 599.5h0.9M82.5 613.5h0.9M89.5 592h0.9M79.5 588.5h0.9M88.5 581.5h0.9M63.5 599h0.9M82 593.5h0.9M76 591h0.9M73.5 602h0.9M89.5 590.5h0.9M78.5 593.5h0.9M86 593h0.9M75 589.5h0.9M81 590h0.9M75.5 601h0.9M82 598.5h0.9M71.5 598h0.9M73 586h0.9M78 607.5h0.9M72 594h0.9M66.5 604.5h0.9M91.5 579.5h0.9M88 596.5h0.9M92 585h0.9M85.5 599.5h0.9M77 594.5h0.9M86.5 574.5h0.9M74.5 584.5h0.9M77.5 581.5h0.9M68.5 593h0.9M93.5 581.5h0.9M91.5 599h0.9M87 602h0.9M66.5 585h0.9M81.5 597.5h0.9M68 576h0.9M84.5 590.5h0.9M68.5 600.5h0.9M85 592.5h0.9M96.5 593.5h0.9M91 590.5h0.9M55.5 582h0.9M57 589.5h0.9M88.5 577.5h0.9M84.5 589h0.9M71 596h0.9M94.5 590h0.9M92 590.5h0.9M84 593h0.9M75.5 596h0.9M70.5 583.5h0.9M86 596h0.9M87.5 595.5h0.9M86.5 585h0.9M83 585.5h0.9M69 589.5h0.9M84 591.5h0.9M93.5 597h0.9M82.5 592.5h0.9M68 592h0.9M79 605.5h0.9M72.5 590.5h0.9M73 592.5h0.9M79 593h0.9M87.5 609.5h0.9M92.5 594h0.9M65.5 584.5h0.9M74 582.5h0.9M79 588.5h0.9M73 594.5h0.9M73 602h0.9M66 595h0.9M94.5 573.5h0.9M98.5 576h0.9M61 574.5h0.9M69.5 586.5h0.9M63.5 589.5h0.9M85.5 585h0.9M80 596.5h0.9M93 590.5h0.9M84.5 595.5h0.9M82 597h0.9M81.5 604.5h0.9M87.5 581h0.9M91.5 585.5h0.9M72 600h0.9M76 577.5h0.9M84 595h0.9M83 580h0.9M85.5 586h0.9M86 581h0.9M71 575h0.9M72.5 600h0.9M90 593h0.9M85 594h0.9M78 592.5h0.9M82.5 600.5h0.9M83.5 598.5h0.9M69.5 576h0.9M82.5 583h0.9M80 582.5h0.9M79.5 590.5h0.9M77 593.5h0.9M74.5 591h0.9M84.5 603.5h0.9M82 598h0.9M83.5 605h0.9M96 586h0.9M91.5 571h0.9M73.5 577h0.9M84 594.5h0.9M81 594.5h0.9M75.5 574.5h0.9M81.5 590.5h0.9M74 586h0.9M89.5 585h0.9M70 596.5h0.9M90.5 580.5h0.9M82 595.5h0.9M90 590.5h0.9M88 586h0.9M72 589h0.9M78.5 594.5h0.9M73.5 605.5h0.9M94.5 582h0.9M80 583h0.9M76.5 593.5h0.9M80 580h0.9M62 576h0.9M88.5 589.5h0.9M79 603h0.9M70.5 594.5h0.9M63 588h0.9M67 589h0.9M85.5 596.5h0.9M80.5 588h0.9M79 583.5h0.9M84 593.5h0.9M88.5 609.5h0.9M85.5 595.5h0.9M80 598h0.9M68 580h0.9M86.5 595h0.9M83 577.5h0.9M74 578.5h0.9M73 604h0.9M68 586h0.9M84.5 584.5h0.9M65 587.5h0.9" stroke="#000" stroke-opacity="0.75" stroke-width="0.9" fill="none"/>
<path d="M98.5 564.5h0.9M86.5 576h0.9M98 567.5h0.9M82 581.5h0.9M105.5 570.5h0.9M100 565.5h0.9M103 567h0.9M107.5 566.5h0.9M107 567.5h0.9M99 580h0.9M92 581.5h0.9M94 573h0.9M99.5 567.5h0.9M87 574.5h0.9M89 579.5h0.9M101.5 569h0.9M86 583h0.9M103.5 560h0.9M94.5 582h0.9M101.5 577.5h0.9M91 567.5h0.9M98.5 571.5h0.9M98.5 565.5h0.9M102 583.5h0.9M99.5 582.5h0.9M90 580.5h0.9M105.5 573h0.9M97 568.5h0.9M95 564h0.9M72 582h0.9M82.5 577h0.9M99 565.5h0.9M87 573h0.9M86 568.5h0.9M100.5 565.5h0.9M102 576.5h0.9M109.5 565h0.9M102 578.5h0.9M104.5 566h0.9M94.5 575h0.9M109.5 568h0.9M93.5 575h0.9M99 568.5h0.9M95 568h0.9M93 578.5h0.9M100 568.5h0.9M106 568h0.9M97.5 577.5h0.9M109 564h0.9M113 580.5h0.9M90.5 576.5h0.9M104 567.5h0.9M90.5 575h0.9M96 572h0.9M105 578h0.9M107.5 569.5h0.9M88 576h0.9M91 580.5h0.9M106 564.5h0.9M108 560.5h0.9M96 573.5h0.9M106.5 577.5h0.9M91.5 581.5h0.9M104 576h0.9M83.5 575.5h0.9M108 563.5h0.9M108.5 564.5h0.9M89.5 578h0.9M93.5 568.5h0.9M92 572.5h0.9M107 572h0.9M112.5 568.5h0.9M92 581h0.9M107.5 567.5h0.9M81 565h0.9M98 567h0.9M102 559h0.9M102.5 566h0.9M86 578.5h0.9M100.5 576h0.9M110.5 571.5h0.9M104 564.5h0.9M96 575h0.9M90.5 566.5h0.9M84 588.5h0.9M107 579h0.9M98.5 579.5h0.9M102 572.5h0.9M103.5 576h0.9M102 566h0.9M97.5 571h0.9M100.5 572h0.9M93.5 572h0.9M93 564h0.9M104 570.5h0.9M68.5 588h0.9M91.5 562h0.9M106.5 573h0.9M106.5 572.5h0.9M101 576h0.9M94 563.5h0.9M91 585h0.9M105.5 561h0.9M79 573.5h0.9M110.5 565h0.9M93 574h0.9M104 557.5h0.9M108.5 560.5h0.9M96 580.5h0.9M74.5 598h0.9M99.5 567h0.9M103 565h0.9M104.5 567.5h0.9M102.5 562h0.9M99.5 584h0.9M101 568.5h0.9M89.5 575.5h0.9M97 564.5h0.9M97.5 570.5h0.9M82 585h0.9M108 561.5h0.9M98 574h0.9M88 568h0.9M97.5 569.5h0.9M98 582h0.9M97.5 567.5h0.9M98.5 583h0.9M100 558.5h0.9M102.5 565h0.9M97.5 580.5h0.9M102.5 563h0.9M101 574.5h0.9M99.5 574h0.9M97.5 582h0.9M109.5 559h0.9M85 579h0.9M107 566.5h0.9M99 572.5h0.9M86 581.5h0.9M96 569.5h0.9M103.5 563.5h0.9M96 579h0.9M102.5 571.5h0.9M98.5 565h0.9M113 574.5h0.9M101.5 567.5h0.9M111.5 566.5h0.9M92 576h0.9M97.5 580h0.9M92 586h0.9M94 577.5h0.9M96.5 576h0.9M111 566.5h0.9M87.5 578.5h0.9M106.5 579h0.9M93 573h0.9M92 576.5h0.9M101.5 562.5h0.9M108 568.5h0.9M101.5 584.5h0.9M89.5 581h0.9M94.5 568.5h0.9M90 577h0.9M103 572h0.9M104.5 568h0.9M101.5 574h0.9M89 570h0.9M99 556.5h0.9M108 573.5h0.9M80.5 570.5h0.9M92.5 578.5h0.9M94 582.5h0.9M101 563h0.9M101 560h0.9M96 575.5h0.9M113 566h0.9M107 555h0.9M106.5 576.5h0.9M107.5 573.5h0.9M84.5 575h0.9M93 572h0.9M99 569.5h0.9M89.5 580.5h0.9M84.5 578h0.9M108.5 567.5h0.9M85 576.5h0.9M89.5 575h0.9M99 579.5h0.9M88.5 566h0.9M96 573h0.9M103 583.5h0.9M113 572.5h0.9M100.5 569.5h0.9M92 578h0.9M85 589h0.9M81 586.5h0.9M90 574h0.9M100.5 578.5h0.9M104 568.5h0.9M111.5 551h0.9M94.5 568h0.9M91.5 563h0.9M90 577.5h0.9M90.5 572h0.9M95.5 570h0.9M89.5 577h0.9M100 573h0.9M98 568.5h0.9M112 569.5h0.9M99 567.5h0.9M83 580h0.9M91.5 577.5h0.9M101.5 570h0.9M98.5 574h0.9M103 580.5h0.9M92.5 577h0.9M96.5 580h0.9M100.5 570.5h0.9M102 565.5h0.9M110.5 568.5h0.9M101.5 582h0.9M84.5 577.5h0.9M86.5 570h0.9M95.5 563h0.9M95.5 568.5h0.9M112 571.5h0.9M104.5 570.5h0.9M90.5 581.5h0.9M105.5 559h0.9M102 578h0.9M98 561.5h0.9M98.5 586.5h0.9M100 571.5h0.9M109 565h0.9M88 580.5h0.9M103.5 569h0.9M111.5 568h0.9M103.5 567h0.9M106.5 579.5h0.9M89.5 587h0.9M101.5 565.5h0.9M88.5 581.5h0.9M102 563.5h0.9M105.5 576.5h0.9M98.5 566.5h0.9M80.5 574.5h0.9M107.5 564h0.9M98.5 571h0.9M99.5 583.5h0.9M111 573h0.9M91.5 582h0.9M101.5 562h0.9M89.5 573.5h0.9M109.5 565.5h0.9M94.5 576.5h0.9M96.5 568h0.9M108 565h0.9M80 586h0.9M105 552h0.9M108.5 566h0.9M89.5 579.5h0.9M85 572.5h0.9M104 570h0.9M82.5 581h0.9M95 564.5h0.9M106.5 561h0.9M105.5 571.5h0.9M93 579h0.9M99.5 578.5h0.9M104.5 558.5h0.9M96.5 577h0.9M106 561.5h0.9M101 572.5h0.9M102.5 576.5h0.9M93 580h0.9M94.5 578.5h0.9M91 576.5h0.9M104.5 561h0.9M102.5 573.5h0.9M98 571h0.9M97 567.5h0.9M108.5 569.5h0.9M107.5 562h0.9M101 564h0.9M101.5 556.5h0.9M103 564h0.9M100.5 579.5h0.9M93.5 574h0.9M102.5 555h0.9M104.5 570h0.9M96 562h0.9M85 577h0.9M95 580h0.9M101 580.5h0.9M92.5 573h0.9M106.5 572h0.9M98.5 581h0.9M103 579.5h0.9M88.5 578h0.9M105 566.5h0.9M97 578h0.9M106.5 563.5h0.9M105 564.5h0.9M93.5 573h0.9M103 562h0.9M103.5 574.5h0.9M96 570h0.9M88 578.5h0.9M99.5 579h0.9M83.5 582.5h0.9M109 575.5h0.9M86.5 582.5h0.9M100 582.5h0.9M107.5 575.5h0.9M103 576h0.9M100.5 566.5h0.9M106.5 564h0.9M80.5 586h0.9M91 581.5h0.9M113.5 562.5h0.9M100.5 562.5h0.9M91 574h0.9M115 556.5h0.9M105 570.5h0.9M85 573.5h0.9M107 571h0.9M90.5 583.5h0.9M87 580h0.9M105 556h0.9M99 570.5h0.9M92.5 582h0.9M91.5 580.5h0.9M109 573.5h0.9M94.5 569.5h0.9M110 559h0.9M110.5 574h0.9M88 575h0.9M104 562.5h0.9M106.5 567h0.9M97.5 582.5h0.9M105.5 577h0.9M86 570.5h0.9M107.5 557h0.9M99 569h0.9M96.5 571h0.9M85.5 573.5h0.9M98.5 567h0.9M114 560.5h0.9M109.5 560h0.9M104 563.5h0.9M106 584h0.9M85.5 577.5h0.9M103 574h0.9M95.5 569.5h0.9M87 580.5h0.9M104.5 569h0.9M98.5 566h0.9M84.5 587h0.9M97 577.5h0.9M88.5 569h0.9M90 576.5h0.9M92 575h0.9M103.5 568h0.9M102.5 567.5h0.9M89.5 572h0.9M82 589h0.9M105 560h0.9M87.5 574.5h0.9M102 569.5h0.9M96.5 573h0.9M84 582h0.9M98.5 575h0.9M90.5 574h0.9M109.5 581.5h0.9M100.5 584.5h0.9M91 578h0.9M95 583.5h0.9M100.5 571.5h0.9M112 570.5h0.9M94 577h0.9M98.5 580h0.9M88 595h0.9M90 564h0.9M99.5 572h0.9M102 556.5h0.9M106 574h0.9M90 583.5h0.9M104 564h0.9M83 585h0.9M100 581.5h0.9M99 576h0.9M102.5 570h0.9M86 576.5h0.9M99.5 570.5h0.9M100.5 575.5h0.9M101.5 574.5h0.9M89.5 568.5h0.9M109 569.5h0.9M101.5 563.5h0.9M92.5 572h0.9M99.5 566h0.9M97 569.5h0.9M100 571h0.9M77 596h0.9M95.5 567.5h0.9M105.5 567h0.9M83 592h0.9M92.5 584h0.9M95 568.5h0.9M76.5 586h0.9M90.5 578.5h0.9M92 582h0.9M94.5 577.5h0.9M82.5 579h0.9M95 569.5h0.9M92.5 581h0.9M91 572h0.9M91.5 572.5h0.9M106.5 567.5h0.9M90.5 587.5h0.9M107 563h0.9M90.5 578h0.9M95.5 577.5h0.9M102.5 577h0.9M83 579.5h0.9M91.5 569.5h0.9M114.5 558h0.9M94.5 574.5h0.9M110.5 561h0.9M97 581.5h0.9M90 571h0.9M96.5 567.5h0.9M99 577.5h0.9M100.5 577h0.9M96 576h0.9M94.5 584h0.9M82.5 586.5h0.9M95 557h0.9M80 576h0.9M97 571h0.9M98 576.5h0.9M114.5 552h0.9M101 555.5h0.9M81.5 577.5h0.9M90.5 580h0.9M88 566h0.9M87 569.5h0.9M91.5 576h0.9M96 582h0.9M90 588h0.9M105.5 573.5h0.9M104.5 575.5h0.9M100.5 568.5h0.9M105.5 566.5h0.9M113 571.5h0.9M98 568h0.9M94.5 587h0.9M100 566.5h0.9M94 567.5h0.9M111 564h0.9M90.5 568h0.9M78 584h0.9M93 583.5h0.9M87 568.5h0.9M94 574h0.9M103.5 564.5h0.9M95 574h0.9M83 580.5h0.9M115 562h0.9M101 573.5h0.9M110 561.5h0.9M98.5 576.5h0.9M106 572.5h0.9M99 571h0.9M89.5 568h0.9M98.5 578.5h0.9M98.5 573h0.9M106 559.5h0.9M100 567h0.9M103.5 558h0.9M94 571.5h0.9M114 558.5h0.9M92.5 566.5h0.9M90 581.5h0.9M92 573.5h0.9M86 577h0.9M100 570h0.9M96.5 584h0.9M104 572h0.9M108.5 557.5h0.9M96 563h0.9M92 577h0.9M103.5 578.5h0.9M96.5 575h0.9M92 568h0.9M96 574.5h0.9M91 571.5h0.9M96.5 569.5h0.9M76 587h0.9M100 581h0.9M87 587h0.9M98.5 577h0.9M94 578h0.9M114 576.5h0.9M91.5 576.5h0.9M98 572.5h0.9M96.5 563.5h0.9M101.5 576.5h0.9M87.5 579.5h0.9M100.5 570h0.9" stroke="#000" stroke-opacity="0.6" stroke-width="0.9" fill="none"/>
<path d="M96.5 598h0.9M105 590h0.9M98.5 603.5h0.9M95.5 588.5h0.9M106 603.5h0.9M107.5 598h0.9M95 609.5h0.9M109.5 604h0.9M96 599h0.9M93 590h0.9M100.5 600.5h0.9M104.5 599h0.9M110 595h0.9M107 591h0.9M87.5 608h0.9M101.5 605h0.9M100 597h0.9M89.5 594.5h0.9M100 585h0.9M92.5 598h0.9M103.5 594.5h0.9M111 594h0.9M105 608.5h0.9" stroke="#000" stroke-opacity="0.4" stroke-width="0.9" fill="none"/>
<path d="M96 632h0.9M101 620h0.9M114.5 634.5h0.9M100 631.5h0.9M110 625h0.9M97 625.5h0.9M101.5 622.5h0.9M100 617.5h0.9M107 617.5h0.9M111 629.5h0.9M99.5 623h0.9M97.5 625.5h0.9M99 635.5h0.9" stroke="#000" stroke-opacity="0.4" stroke-width="0.9" fill="none"/>
<ellipse cx="46.5" cy="578.5" rx="11" ry="15" transform="rotate(0 46.5 578.5)" fill="#fff"/>
<ellipse cx="46.5" cy="578.5" rx="11" ry="15" transform="rotate(0 46.5 578.5)" fill="none" stroke="#222" stroke-width="0.9"/>
<ellipse cx="43.6" cy="581.2" rx="8" ry="11.5" transform="rotate(-5 43.6 581.2)" fill="none" stroke="#333" stroke-width="0.9"/>
<ellipse cx="43.6" cy="581.2" rx="5.4" ry="7.8" transform="rotate(-5 43.6 581.2)" fill="none" stroke="#333" stroke-width="0.9"/>
<ellipse cx="43.6" cy="581.2" rx="3.4" ry="4.8" transform="rotate(-5 43.6 581.2)" fill="none" stroke="#333" stroke-width="0.9"/>
<ellipse cx="78.5" cy="590" rx="11.5" ry="10.5" transform="rotate(-15 78.5 590)" fill="#fff"/>
<ellipse cx="78.5" cy="590" rx="11.5" ry="10.5" transform="rotate(-15 78.5 590)" fill="none" stroke="#222" stroke-width="1.0"/>
<ellipse cx="78.5" cy="590" rx="9.8" ry="8.9" transform="rotate(-15 78.5 590)" fill="none" stroke="#222" stroke-width="1.0"/>
<ellipse cx="77.8" cy="589.6" rx="7.8" ry="7.1" transform="rotate(-15 77.8 589.6)" fill="none" stroke="#444" stroke-width="0.9"/>
<ellipse cx="77.8" cy="589.6" rx="5.8" ry="5.2" transform="rotate(-15 77.8 589.6)" fill="none" stroke="#444" stroke-width="0.9"/>
<ellipse cx="77.8" cy="589.6" rx="3.7" ry="3.4" transform="rotate(-15 77.8 589.6)" fill="none" stroke="#444" stroke-width="0.9"/>
<ellipse cx="77.6" cy="589.5" rx="1.8" ry="1.3" fill="#fff" stroke="#333" stroke-width="0.6"/>
<ellipse cx="99.5" cy="571" rx="13.5" ry="7" transform="rotate(-38 99.5 571)" fill="#fff"/>
<ellipse cx="99.5" cy="571" rx="13.5" ry="7" transform="rotate(-38 99.5 571)" fill="none" stroke="#222" stroke-width="0.9"/>
<ellipse cx="99.5" cy="571" rx="11.5" ry="6" transform="rotate(-38 99.5 571)" fill="none" stroke="#222" stroke-width="0.9"/>
<ellipse cx="100.5" cy="570.5" rx="9.2" ry="4.8" transform="rotate(-38 100.5 570.5)" fill="none" stroke="#555" stroke-width="0.8"/>
<ellipse cx="100.5" cy="570.5" rx="6.8" ry="3.5" transform="rotate(-38 100.5 570.5)" fill="none" stroke="#555" stroke-width="0.8"/>
<ellipse cx="100.5" cy="570.5" rx="4.3" ry="2.2" transform="rotate(-38 100.5 570.5)" fill="none" stroke="#555" stroke-width="0.8"/>
<circle cx="77.8" cy="625.2" r="3.3" fill="#fff"/>
<line x1="60.8" y1="546.6" x2="60.8" y2="637.5" stroke="#2a34d0" stroke-width="1.5"/>
<line x1="24.2" y1="612.8" x2="116.6" y2="612.8" stroke="#2a34d0" stroke-width="1.5"/>
<rect x="28.8" y="555" width="30.9" height="42" fill="none" stroke="#6d8fb0" stroke-width="1"/>
<rect x="28.3" y="548.5" width="21" height="6.3" fill="#fff" stroke="none" stroke-width="1"/>
<text x="28.2" y="555.2" font-size="7.3" text-anchor="start" font-weight="normal" font-style="normal" fill="#333">T cells</text>
<path d="M85.4 579.3V550H113.3V579.3M63.8 579.3H95.4V609H63.8Z" fill="none" stroke="#a83a7c" stroke-width="1.1"/>
<path d="M63.8 579.3H162" fill="none" stroke="#a83a7c" stroke-width="1.3"/>
<path d="M89.3 613.6V634.9H162" fill="none" stroke="#a83a7c" stroke-width="1.3"/>
<path d="M161 576.4L167.3 579.3L161 582.2Z M161 632L167.3 634.9L161 637.8Z" fill="#a83a7c"/>
<path d="M24.2 628.50h-3M24.2 621.58h-2M24.2 617.53h-2M24.2 614.65h-2M24.2 612.42h-2M24.2 610.60h-2M24.2 609.06h-2M24.2 607.73h-2M24.2 606.55h-2M24.2 605.50h-3M24.2 598.58h-2M24.2 594.53h-2M24.2 591.65h-2M24.2 589.42h-2M24.2 587.60h-2M24.2 586.06h-2M24.2 584.73h-2M24.2 583.55h-2M24.2 582.50h-3M24.2 575.58h-2M24.2 571.53h-2M24.2 568.65h-2M24.2 566.42h-2M24.2 564.60h-2M24.2 563.06h-2M24.2 561.73h-2M24.2 560.55h-2M24.2 559.50h-3M24.2 552.58h-2M24.2 548.53h-2" stroke="#000" stroke-width="0.8" fill="none"/>
<path d="M33.20 637.5v3M40.12 637.5v2.2M44.17 637.5v2.2M47.05 637.5v2.2M49.28 637.5v2.2M51.10 637.5v2.2M52.64 637.5v2.2M53.97 637.5v2.2M55.15 637.5v2.2M56.20 637.5v3M63.12 637.5v2.2M67.17 637.5v2.2M70.05 637.5v2.2M72.28 637.5v2.2M74.10 637.5v2.2M75.64 637.5v2.2M76.97 637.5v2.2M78.15 637.5v2.2M79.20 637.5v3M86.12 637.5v2.2M90.17 637.5v2.2M93.05 637.5v2.2M95.28 637.5v2.2M97.10 637.5v2.2M98.64 637.5v2.2M99.97 637.5v2.2M101.15 637.5v2.2M102.20 637.5v3M109.12 637.5v2.2M113.17 637.5v2.2M116.05 637.5v2.2" stroke="#000" stroke-width="0.8" fill="none"/>
<rect x="24.2" y="546.6" width="92.4" height="90.9" fill="none" stroke="#111" stroke-width="1.3"/>
<text x="70.8" y="653.1" font-size="10" text-anchor="middle" font-weight="normal" font-style="normal" fill="#1a1a1a" stroke="#1a1a1a" stroke-width="0.22" textLength="20.2" lengthAdjust="spacingAndGlyphs">CD20</text>
<text x="17.3" y="592.6" font-size="10" text-anchor="middle" font-weight="normal" font-style="normal" fill="#222" stroke="#222" stroke-width="0.22" transform="rotate(-90 17.3 592.6)" textLength="16" lengthAdjust="spacingAndGlyphs">CD5</text>
<text x="142.9" y="565.3" font-size="8" text-anchor="middle" font-weight="normal" font-style="normal" fill="#333" textLength="46.6" lengthAdjust="spacingAndGlyphs">CD5hiCD20hi</text>
<text x="142.9" y="573.6" font-size="8" text-anchor="middle" font-weight="normal" font-style="normal" fill="#333" textLength="36.4" lengthAdjust="spacingAndGlyphs">tumor cells</text>
<text x="141" y="621.5" font-size="8" text-anchor="middle" font-weight="normal" font-style="normal" fill="#333" textLength="42.8" lengthAdjust="spacingAndGlyphs">CD5+CD20+</text>
<text x="141.3" y="630.5" font-size="8" text-anchor="middle" font-weight="normal" font-style="normal" fill="#333" textLength="37" lengthAdjust="spacingAndGlyphs">tumor cells</text>
<rect x="71.5" y="665.5" width="9.5" height="7" fill="#62a6e2" stroke="none" stroke-width="1"/>
<text x="84.2" y="671.4" font-size="7.8" text-anchor="start" font-weight="normal" font-style="normal" fill="#222">T cells, unstim</text>
<rect x="71.5" y="677.5" width="9.5" height="7" fill="#e0921e" stroke="none" stroke-width="1"/>
<text x="84.2" y="683.4" font-size="7.8" text-anchor="start" font-weight="normal" font-style="normal" fill="#222">tumor cells, unstim</text>
<rect x="71.5" y="688.6" width="9.5" height="7" fill="#58a84a" stroke="none" stroke-width="1"/>
<text x="84.2" y="694.5" font-size="7.8" text-anchor="start" font-weight="normal" font-style="normal" fill="#222">tumor cells, &#945;-BCR 4'</text>
<path d="M170.2 610.0 170.7 610.0 171.2 610.0 171.7 610.0 172.2 610.0 172.7 610.0 173.2 610.0 173.7 609.2 174.2 608.0 174.7 606.6 175.2 605.3 175.7 604.4 176.2 603.2 176.7 601.8 177.2 601.1 177.7 600.1 178.2 598.9 178.7 597.5 179.2 596.5 179.7 596.4 180.2 595.2 180.7 592.8 181.2 590.1 181.7 586.9 182.2 583.8 182.7 581.4 183.2 578.9 183.7 577.4 184.2 575.8 184.7 573.5 185.2 572.7 185.7 572.0 186.2 569.1 186.7 566.1 187.2 563.6 187.7 561.9 188.2 561.5 188.7 560.0 189.2 562.2 189.7 563.5 190.2 563.8 190.7 567.7 191.2 570.2 191.7 572.8 192.2 578.6 192.7 583.4 193.2 586.5 193.7 590.1 194.2 593.8 194.7 596.4 195.2 598.3 195.7 600.8 196.2 603.3 196.7 604.9 197.2 606.0 197.7 606.7 198.2 607.6 198.7 608.6 199.2 609.4 199.7 610.0 200.2 610.0 200.7 610.0 201.2 610.0 201.7 610.0 202.2 610.0 202.7 610.0 203.2 610.0 203.7 610.0 204.2 610.0 204.7 610.0 205.2 610.0 205.7 610.0 206.2 610.0 206.7 610.0 207.2 610.0 207.7 610.0 208.2 610.0 208.7 610.0 209.2 610.0 209.7 610.0 210.2 610.0 210.7 610.0 211.2 610.0 211.7 610.0 212.2 610.0 212.7 610.0 213.2 610.0 213.7 610.0 214.2 610.0 214.7 610.0 215.2 610.0 215.7 610.0 216.2 610.0 216.7 610.0 217.2 610.0 217.7 610.0 218.2 610.0 218.7 610.0 219.2 610.0 219.7 610.0 220.2 610.0 220.7 610.0 221.2 610.0 221.7 610.0 222.2 610.0 222.7 610.0 223.2 610.0 223.7 610.0 224.2 610.0 224.7 610.0 225.2 610.0 225.7 610.0 226.2 610.0 226.7 610.0 227.2 610.0 227.7 610.0 228.2 610.0 228.7 610.0 229.2 610.0 229.7 610.0 230.2 610.0 230.7 610.0 231.2 610.0 231.7 610.0 232.2 610.0 232.7 610.0" fill="none" stroke="#6e9ad0" stroke-width="1.05" stroke-linejoin="round"/>
<path d="M170.2 610.0 170.7 610.0 171.2 610.0 171.7 610.0 172.2 610.0 172.7 610.0 173.2 610.0 173.7 610.0 174.2 610.0 174.7 610.0 175.2 610.0 175.7 610.0 176.2 610.0 176.7 610.0 177.2 610.0 177.7 610.0 178.2 610.0 178.7 610.0 179.2 610.0 179.7 610.0 180.2 610.0 180.7 610.0 181.2 609.4 181.7 608.4 182.2 607.5 182.7 606.3 183.2 605.0 183.7 603.7 184.2 602.6 184.7 602.0 185.2 601.9 185.7 601.3 186.2 599.4 186.7 596.7 187.2 594.1 187.7 591.0 188.2 588.6 188.7 586.4 189.2 583.8 189.7 582.6 190.2 580.5 190.7 575.5 191.2 572.1 191.7 572.1 192.2 574.2 192.7 575.6 193.2 573.9 193.7 570.1 194.2 565.5 194.7 562.5 195.2 559.4 195.7 556.6 196.2 556.9 196.7 557.3 197.2 560.3 197.7 563.8 198.2 566.5 198.7 568.3 199.2 571.9 199.7 577.2 200.2 580.9 200.7 582.5 201.2 585.0 201.7 589.1 202.2 592.6 202.7 595.1 203.2 597.3 203.7 599.4 204.2 601.6 204.7 603.6 205.2 605.0 205.7 605.9 206.2 607.0 206.7 607.9 207.2 608.9 207.7 609.8 208.2 610.0 208.7 610.0 209.2 610.0 209.7 610.0 210.2 610.0 210.7 610.0 211.2 610.0 211.7 610.0 212.2 610.0 212.7 610.0 213.2 610.0 213.7 610.0 214.2 610.0 214.7 610.0 215.2 610.0 215.7 610.0 216.2 610.0 216.7 610.0 217.2 610.0 217.7 610.0 218.2 610.0 218.7 610.0 219.2 610.0 219.7 610.0 220.2 610.0 220.7 610.0 221.2 610.0 221.7 610.0 222.2 610.0 222.7 610.0 223.2 610.0 223.7 610.0 224.2 610.0 224.7 610.0 225.2 610.0 225.7 610.0 226.2 610.0 226.7 610.0 227.2 610.0 227.7 610.0 228.2 610.0 228.7 610.0 229.2 610.0 229.7 610.0 230.2 610.0 230.7 610.0 231.2 610.0 231.7 610.0 232.2 610.0 232.7 610.0" fill="none" stroke="#dc8c22" stroke-width="1.05" stroke-linejoin="round"/>
<path d="M170.2 610.0 170.7 610.0 171.2 610.0 171.7 610.0 172.2 610.0 172.7 610.0 173.2 610.0 173.7 610.0 174.2 610.0 174.7 610.0 175.2 610.0 175.7 610.0 176.2 610.0 176.7 610.0 177.2 610.0 177.7 610.0 178.2 610.0 178.7 610.0 179.2 610.0 179.7 610.0 180.2 610.0 180.7 610.0 181.2 610.0 181.7 609.9 182.2 609.6 182.7 609.4 183.2 609.2 183.7 609.0 184.2 608.8 184.7 608.5 185.2 608.1 185.7 607.7 186.2 607.5 186.7 607.3 187.2 607.2 187.7 607.0 188.2 606.7 188.7 606.4 189.2 606.4 189.7 606.4 190.2 605.7 190.7 605.0 191.2 604.6 191.7 603.9 192.2 603.5 192.7 603.4 193.2 602.6 193.7 602.2 194.2 601.9 194.7 601.2 195.2 600.8 195.7 600.5 196.2 600.0 196.7 599.4 197.2 598.8 197.7 598.1 198.2 597.6 198.7 596.5 199.2 594.7 199.7 594.0 200.2 594.5 200.7 594.6 201.2 595.8 201.7 597.5 202.2 596.5 202.7 594.1 203.2 591.7 203.7 590.0 204.2 589.1 204.7 588.9 205.2 587.8 205.7 585.5 206.2 584.1 206.7 582.0 207.2 579.1 207.7 577.6 208.2 576.4 208.7 575.9 209.2 576.1 209.7 572.7 210.2 567.9 210.7 567.8 211.2 569.4 211.7 567.5 212.2 567.0 212.7 569.1 213.2 568.0 213.7 562.3 214.2 556.6 214.7 556.9 215.2 561.4 215.7 561.3 216.2 561.2 216.7 564.5 217.2 567.3 217.7 570.5 218.2 574.1 218.7 575.7 219.2 578.3 219.7 580.9 220.2 583.4 220.7 587.5 221.2 591.1 221.7 593.1 222.2 595.5 222.7 598.8 223.2 600.5 223.7 601.5 224.2 602.9 224.7 604.8 225.2 606.2 225.7 606.9 226.2 607.5 226.7 608.2 227.2 609.0 227.7 609.8 228.2 610.0 228.7 610.0 229.2 610.0 229.7 610.0 230.2 610.0 230.7 610.0 231.2 610.0 231.7 610.0 232.2 610.0 232.7 610.0" fill="none" stroke="#5c9a42" stroke-width="1.05" stroke-linejoin="round"/>
<path d="M173.00 611.2v3M177.97 611.2v2.2M180.87 611.2v2.2M182.93 611.2v2.2M184.53 611.2v2.2M185.84 611.2v2.2M186.94 611.2v2.2M187.90 611.2v2.2M188.75 611.2v2.2M189.50 611.2v3M194.47 611.2v2.2M197.37 611.2v2.2M199.43 611.2v2.2M201.03 611.2v2.2M202.34 611.2v2.2M203.44 611.2v2.2M204.40 611.2v2.2M205.25 611.2v2.2M206.00 611.2v3M210.97 611.2v2.2M213.87 611.2v2.2M215.93 611.2v2.2M217.53 611.2v2.2M218.84 611.2v2.2M219.94 611.2v2.2M220.90 611.2v2.2M221.75 611.2v2.2M222.50 611.2v3M227.47 611.2v2.2M230.37 611.2v2.2M232.43 611.2v2.2" stroke="#000" stroke-width="0.8" fill="none"/>
<rect x="169" y="550.6" width="65" height="60.6" fill="none" stroke="#1a1a1a" stroke-width="1.4"/>
<path d="M170.2 677.7 170.7 677.7 171.2 677.7 171.7 677.7 172.2 677.7 172.7 677.7 173.2 677.7 173.7 677.7 174.2 677.7 174.7 677.4 175.2 676.1 175.7 674.8 176.2 673.5 176.7 671.9 177.2 670.8 177.7 669.8 178.2 668.2 178.7 666.3 179.2 664.2 179.7 661.1 180.2 658.4 180.7 656.6 181.2 655.1 181.7 652.6 182.2 649.6 182.7 644.7 183.2 639.7 183.7 638.8 184.2 637.4 184.7 634.1 185.2 631.4 185.7 631.5 186.2 632.7 186.7 631.3 187.2 631.9 187.7 630.0 188.2 625.0 188.7 626.4 189.2 631.4 189.7 632.5 190.2 633.1 190.7 636.0 191.2 636.5 191.7 639.0 192.2 643.2 192.7 647.0 193.2 651.1 193.7 655.7 194.2 660.2 194.7 663.6 195.2 666.2 195.7 668.6 196.2 670.8 196.7 672.6 197.2 674.3 197.7 675.7 198.2 677.1 198.7 677.7 199.2 677.7 199.7 677.7 200.2 677.7 200.7 677.7 201.2 677.7 201.7 677.7 202.2 677.7 202.7 677.7 203.2 677.7 203.7 677.7 204.2 677.7 204.7 677.7 205.2 677.7 205.7 677.7 206.2 677.7 206.7 677.7 207.2 677.7 207.7 677.7 208.2 677.7 208.7 677.7 209.2 677.7 209.7 677.7 210.2 677.7 210.7 677.7 211.2 677.7 211.7 677.7 212.2 677.7 212.7 677.7 213.2 677.7 213.7 677.7 214.2 677.7 214.7 677.7 215.2 677.7 215.7 677.7 216.2 677.7 216.7 677.7 217.2 677.7 217.7 677.7 218.2 677.7 218.7 677.7 219.2 677.7 219.7 677.7 220.2 677.7 220.7 677.7 221.2 677.7 221.7 677.7 222.2 677.7 222.7 677.7 223.2 677.7 223.7 677.7 224.2 677.7 224.7 677.7 225.2 677.7 225.7 677.7 226.2 677.7 226.7 677.7 227.2 677.7 227.7 677.7 228.2 677.7 228.7 677.7 229.2 677.7 229.7 677.7 230.2 677.7 230.7 677.7 231.2 677.7 231.7 677.7 232.2 677.7 232.7 677.7" fill="none" stroke="#6e9ad0" stroke-width="1.05" stroke-linejoin="round"/>
<path d="M170.2 677.7 170.7 677.7 171.2 677.7 171.7 677.7 172.2 677.7 172.7 677.7 173.2 677.7 173.7 677.7 174.2 677.7 174.7 677.7 175.2 677.7 175.7 676.6 176.2 675.4 176.7 674.3 177.2 673.1 177.7 671.6 178.2 670.2 178.7 669.9 179.2 669.2 179.7 667.4 180.2 665.3 180.7 663.7 181.2 662.5 181.7 660.9 182.2 659.8 182.7 658.4 183.2 655.6 183.7 652.7 184.2 650.6 184.7 647.5 185.2 644.4 185.7 642.2 186.2 640.1 186.7 637.4 187.2 634.8 187.7 637.2 188.2 638.0 188.7 633.2 189.2 629.1 189.7 625.8 190.2 625.3 190.7 628.4 191.2 627.1 191.7 625.5 192.2 628.7 192.7 631.2 193.2 634.6 193.7 639.3 194.2 642.4 194.7 644.8 195.2 645.5 195.7 644.3 196.2 646.1 196.7 648.1 197.2 648.9 197.7 650.6 198.2 650.6 198.7 650.1 199.2 650.8 199.7 651.6 200.2 652.5 200.7 654.8 201.2 656.3 201.7 657.7 202.2 659.9 202.7 662.8 203.2 665.6 203.7 666.9 204.2 668.4 204.7 670.6 205.2 672.3 205.7 673.7 206.2 675.2 206.7 676.6 207.2 677.7 207.7 677.7 208.2 677.7 208.7 677.7 209.2 677.7 209.7 677.7 210.2 677.7 210.7 677.7 211.2 677.7 211.7 677.7 212.2 677.7 212.7 677.7 213.2 677.7 213.7 677.7 214.2 677.7 214.7 677.7 215.2 677.7 215.7 677.7 216.2 677.7 216.7 677.7 217.2 677.7 217.7 677.7 218.2 677.7 218.7 677.7 219.2 677.7 219.7 677.7 220.2 677.7 220.7 677.7 221.2 677.7 221.7 677.7 222.2 677.7 222.7 677.7 223.2 677.7 223.7 677.7 224.2 677.7 224.7 677.7 225.2 677.7 225.7 677.7 226.2 677.7 226.7 677.7 227.2 677.7 227.7 677.7 228.2 677.7 228.7 677.7 229.2 677.7 229.7 677.7 230.2 677.7 230.7 677.7 231.2 677.7 231.7 677.7 232.2 677.7 232.7 677.7" fill="none" stroke="#dc8c22" stroke-width="1.05" stroke-linejoin="round"/>
<path d="M170.2 677.7 170.7 677.7 171.2 677.7 171.7 677.7 172.2 677.7 172.7 677.7 173.2 677.7 173.7 677.7 174.2 677.7 174.7 677.7 175.2 677.7 175.7 677.7 176.2 677.7 176.7 677.6 177.2 677.2 177.7 676.7 178.2 676.4 178.7 676.0 179.2 675.6 179.7 675.2 180.2 674.7 180.7 674.3 181.2 674.0 181.7 673.8 182.2 673.5 182.7 673.0 183.2 672.5 183.7 672.0 184.2 671.2 184.7 670.5 185.2 669.9 185.7 668.9 186.2 668.4 186.7 668.9 187.2 668.5 187.7 667.1 188.2 664.9 188.7 661.8 189.2 659.1 189.7 658.8 190.2 658.1 190.7 656.0 191.2 653.4 191.7 651.5 192.2 649.5 192.7 647.4 193.2 645.8 193.7 642.0 194.2 637.3 194.7 633.9 195.2 632.1 195.7 631.3 196.2 631.0 196.7 628.4 197.2 624.5 197.7 623.7 198.2 623.7 198.7 623.7 199.2 623.7 199.7 630.5 200.2 635.4 200.7 634.7 201.2 632.7 201.7 633.4 202.2 635.8 202.7 637.1 203.2 638.6 203.7 643.0 204.2 646.8 204.7 646.5 205.2 647.1 205.7 650.1 206.2 652.1 206.7 654.3 207.2 657.3 207.7 660.2 208.2 663.1 208.7 665.0 209.2 667.1 209.7 670.2 210.2 672.8 210.7 673.8 211.2 674.8 211.7 675.6 212.2 676.6 212.7 677.6 213.2 677.7 213.7 677.7 214.2 677.7 214.7 677.7 215.2 677.7 215.7 677.7 216.2 677.7 216.7 677.7 217.2 677.7 217.7 677.7 218.2 677.7 218.7 677.7 219.2 677.7 219.7 677.7 220.2 677.7 220.7 677.7 221.2 677.7 221.7 677.7 222.2 677.7 222.7 677.7 223.2 677.7 223.7 677.7 224.2 677.7 224.7 677.7 225.2 677.7 225.7 677.7 226.2 677.7 226.7 677.7 227.2 677.7 227.7 677.7 228.2 677.7 228.7 677.7 229.2 677.7 229.7 677.7 230.2 677.7 230.7 677.7 231.2 677.7 231.7 677.7 232.2 677.7 232.7 677.7" fill="none" stroke="#5c9a42" stroke-width="1.05" stroke-linejoin="round"/>
<path d="M173.00 678.9v3M177.97 678.9v2.2M180.87 678.9v2.2M182.93 678.9v2.2M184.53 678.9v2.2M185.84 678.9v2.2M186.94 678.9v2.2M187.90 678.9v2.2M188.75 678.9v2.2M189.50 678.9v3M194.47 678.9v2.2M197.37 678.9v2.2M199.43 678.9v2.2M201.03 678.9v2.2M202.34 678.9v2.2M203.44 678.9v2.2M204.40 678.9v2.2M205.25 678.9v2.2M206.00 678.9v3M210.97 678.9v2.2M213.87 678.9v2.2M215.93 678.9v2.2M217.53 678.9v2.2M218.84 678.9v2.2M219.94 678.9v2.2M220.90 678.9v2.2M221.75 678.9v2.2M222.50 678.9v3M227.47 678.9v2.2M230.37 678.9v2.2M232.43 678.9v2.2" stroke="#000" stroke-width="0.8" fill="none"/>
<rect x="169" y="618.1" width="65" height="60.8" fill="none" stroke="#1a1a1a" stroke-width="1.4"/>
<path d="M239.1 610.0 239.6 610.0 240.1 610.0 240.6 610.0 241.1 610.0 241.6 610.0 242.1 610.0 242.6 610.0 243.1 609.7 243.6 608.1 244.1 606.7 244.6 604.9 245.1 603.1 245.6 601.7 246.1 600.4 246.6 596.7 247.1 593.3 247.6 589.1 248.1 584.1 248.6 580.9 249.1 579.3 249.6 575.2 250.1 567.0 250.6 561.7 251.1 560.6 251.6 559.8 252.1 556.3 252.6 556.2 253.1 556.2 253.6 556.4 254.1 563.0 254.6 569.3 255.1 570.6 255.6 574.4 256.1 579.2 256.6 580.3 257.1 583.2 257.6 588.3 258.1 592.1 258.6 595.6 259.1 598.2 259.6 600.9 260.1 603.5 260.6 605.7 261.1 607.6 261.6 609.4 262.1 610.0 262.6 610.0 263.1 610.0 263.6 610.0 264.1 610.0 264.6 610.0 265.1 610.0 265.6 610.0 266.1 610.0 266.6 610.0 267.1 610.0 267.6 610.0 268.1 610.0 268.6 610.0 269.1 610.0 269.6 610.0 270.1 610.0 270.6 610.0 271.1 610.0 271.6 610.0 272.1 610.0 272.6 610.0 273.1 610.0 273.6 610.0 274.1 610.0 274.6 610.0 275.1 610.0 275.6 610.0 276.1 610.0 276.6 610.0 277.1 610.0 277.6 610.0 278.1 610.0 278.6 610.0 279.1 610.0 279.6 610.0 280.1 610.0 280.6 610.0 281.1 610.0 281.6 610.0 282.1 610.0 282.6 610.0 283.1 610.0 283.6 610.0 284.1 610.0 284.6 610.0 285.1 610.0 285.6 610.0 286.1 610.0 286.6 610.0 287.1 610.0 287.6 610.0 288.1 610.0 288.6 610.0 289.1 610.0 289.6 610.0 290.1 610.0 290.6 610.0 291.1 610.0 291.6 610.0 292.1 610.0 292.6 610.0 293.1 610.0 293.6 610.0 294.1 610.0 294.6 610.0 295.1 610.0 295.6 610.0 296.1 610.0 296.6 610.0 297.1 610.0 297.6 610.0 298.1 610.0 298.6 610.0 299.1 610.0 299.6 610.0 300.1 610.0 300.6 610.0 301.1 610.0 301.6 610.0" fill="none" stroke="#6e9ad0" stroke-width="1.05" stroke-linejoin="round"/>
<path d="M239.1 610.0 239.6 610.0 240.1 610.0 240.6 610.0 241.1 610.0 241.6 610.0 242.1 610.0 242.6 610.0 243.1 610.0 243.6 610.0 244.1 610.0 244.6 609.1 245.1 607.9 245.6 606.5 246.1 605.1 246.6 603.8 247.1 602.5 247.6 601.4 248.1 600.7 248.6 599.4 249.1 597.3 249.6 595.5 250.1 593.7 250.6 591.6 251.1 589.7 251.6 587.7 252.1 584.5 252.6 580.7 253.1 577.7 253.6 576.3 254.1 573.0 254.6 569.6 255.1 567.1 255.6 563.6 256.1 561.8 256.6 564.1 257.1 565.5 257.6 561.1 258.1 557.0 258.6 558.0 259.1 561.0 259.6 561.1 260.1 559.5 260.6 561.8 261.1 567.9 261.6 570.6 262.1 574.4 262.6 578.6 263.1 581.4 263.6 586.3 264.1 591.4 264.6 595.4 265.1 599.0 265.6 602.6 266.1 606.3 266.6 607.6 267.1 609.1 267.6 610.0 268.1 610.0 268.6 610.0 269.1 610.0 269.6 610.0 270.1 610.0 270.6 610.0 271.1 610.0 271.6 610.0 272.1 610.0 272.6 610.0 273.1 610.0 273.6 610.0 274.1 610.0 274.6 610.0 275.1 610.0 275.6 610.0 276.1 610.0 276.6 610.0 277.1 610.0 277.6 610.0 278.1 610.0 278.6 610.0 279.1 610.0 279.6 610.0 280.1 610.0 280.6 610.0 281.1 610.0 281.6 610.0 282.1 610.0 282.6 610.0 283.1 610.0 283.6 610.0 284.1 610.0 284.6 610.0 285.1 610.0 285.6 610.0 286.1 610.0 286.6 610.0 287.1 610.0 287.6 610.0 288.1 610.0 288.6 610.0 289.1 610.0 289.6 610.0 290.1 610.0 290.6 610.0 291.1 610.0 291.6 610.0 292.1 610.0 292.6 610.0 293.1 610.0 293.6 610.0 294.1 610.0 294.6 610.0 295.1 610.0 295.6 610.0 296.1 610.0 296.6 610.0 297.1 610.0 297.6 610.0 298.1 610.0 298.6 610.0 299.1 610.0 299.6 610.0 300.1 610.0 300.6 610.0 301.1 610.0 301.6 610.0" fill="none" stroke="#dc8c22" stroke-width="1.05" stroke-linejoin="round"/>
<path d="M239.1 610.0 239.6 610.0 240.1 610.0 240.6 610.0 241.1 610.0 241.6 610.0 242.1 610.0 242.6 610.0 243.1 610.0 243.6 610.0 244.1 610.0 244.6 610.0 245.1 610.0 245.6 610.0 246.1 610.0 246.6 610.0 247.1 610.0 247.6 610.0 248.1 610.0 248.6 610.0 249.1 610.0 249.6 610.0 250.1 610.0 250.6 609.9 251.1 609.7 251.6 609.4 252.1 609.2 252.6 609.0 253.1 608.7 253.6 608.4 254.1 608.1 254.6 607.9 255.1 607.6 255.6 607.3 256.1 607.0 256.6 606.5 257.1 606.0 257.6 605.7 258.1 605.3 258.6 604.5 259.1 603.8 259.6 603.5 260.1 603.2 260.6 603.3 261.1 603.1 261.6 602.3 262.1 601.9 262.6 601.9 263.1 602.1 263.6 602.3 264.1 602.0 264.6 601.3 265.1 601.1 265.6 601.3 266.1 600.8 266.6 599.4 267.1 598.6 267.6 598.7 268.1 598.6 268.6 598.3 269.1 597.5 269.6 594.9 270.1 592.6 270.6 590.6 271.1 587.5 271.6 584.9 272.1 581.9 272.6 579.4 273.1 576.7 273.6 575.9 274.1 574.6 274.6 570.3 275.1 567.2 275.6 568.3 276.1 568.3 276.6 563.0 277.1 558.0 277.6 557.3 278.1 561.4 278.6 565.6 279.1 568.2 279.6 569.5 280.1 568.8 280.6 568.7 281.1 572.4 281.6 578.8 282.1 583.3 282.6 586.2 283.1 589.9 283.6 594.2 284.1 597.5 284.6 600.3 285.1 602.9 285.6 605.5 286.1 606.8 286.6 608.0 287.1 609.3 287.6 610.0 288.1 610.0 288.6 610.0 289.1 610.0 289.6 610.0 290.1 610.0 290.6 610.0 291.1 610.0 291.6 610.0 292.1 610.0 292.6 610.0 293.1 610.0 293.6 610.0 294.1 610.0 294.6 610.0 295.1 610.0 295.6 610.0 296.1 610.0 296.6 610.0 297.1 610.0 297.6 610.0 298.1 610.0 298.6 610.0 299.1 610.0 299.6 610.0 300.1 610.0 300.6 610.0 301.1 610.0 301.6 610.0" fill="none" stroke="#5c9a42" stroke-width="1.05" stroke-linejoin="round"/>
<path d="M241.90 611.2v3M246.87 611.2v2.2M249.77 611.2v2.2M251.83 611.2v2.2M253.43 611.2v2.2M254.74 611.2v2.2M255.84 611.2v2.2M256.80 611.2v2.2M257.65 611.2v2.2M258.40 611.2v3M263.37 611.2v2.2M266.27 611.2v2.2M268.33 611.2v2.2M269.93 611.2v2.2M271.24 611.2v2.2M272.34 611.2v2.2M273.30 611.2v2.2M274.15 611.2v2.2M274.90 611.2v3M279.87 611.2v2.2M282.77 611.2v2.2M284.83 611.2v2.2M286.43 611.2v2.2M287.74 611.2v2.2M288.84 611.2v2.2M289.80 611.2v2.2M290.65 611.2v2.2M291.40 611.2v3M296.37 611.2v2.2M299.27 611.2v2.2M301.33 611.2v2.2" stroke="#000" stroke-width="0.8" fill="none"/>
<rect x="237.9" y="550.6" width="65" height="60.6" fill="none" stroke="#1a1a1a" stroke-width="1.4"/>
<path d="M239.1 677.7 239.6 677.7 240.1 677.7 240.6 677.7 241.1 677.7 241.6 677.7 242.1 677.7 242.6 677.7 243.1 677.2 243.6 674.6 244.1 672.1 244.6 669.5 245.1 667.0 245.6 664.0 246.1 661.5 246.6 658.9 247.1 654.1 247.6 647.9 248.1 644.6 248.6 644.2 249.1 643.4 249.6 640.1 250.1 637.7 250.6 635.3 251.1 630.1 251.6 626.6 252.1 627.3 252.6 627.9 253.1 627.6 253.6 627.9 254.1 628.1 254.6 628.3 255.1 629.2 255.6 633.9 256.1 639.5 256.6 644.1 257.1 649.0 257.6 652.5 258.1 656.1 258.6 660.4 259.1 664.0 259.6 667.7 260.1 670.7 260.6 673.1 261.1 674.4 261.6 675.7 262.1 677.0 262.6 677.7 263.1 677.7 263.6 677.7 264.1 677.7 264.6 677.7 265.1 677.7 265.6 677.7 266.1 677.7 266.6 677.7 267.1 677.7 267.6 677.7 268.1 677.7 268.6 677.7 269.1 677.7 269.6 677.7 270.1 677.7 270.6 677.7 271.1 677.7 271.6 677.7 272.1 677.7 272.6 677.7 273.1 677.7 273.6 677.7 274.1 677.7 274.6 677.7 275.1 677.7 275.6 677.7 276.1 677.7 276.6 677.7 277.1 677.7 277.6 677.7 278.1 677.7 278.6 677.7 279.1 677.7 279.6 677.7 280.1 677.7 280.6 677.7 281.1 677.7 281.6 677.7 282.1 677.7 282.6 677.7 283.1 677.7 283.6 677.7 284.1 677.7 284.6 677.7 285.1 677.7 285.6 677.7 286.1 677.7 286.6 677.7 287.1 677.7 287.6 677.7 288.1 677.7 288.6 677.7 289.1 677.7 289.6 677.7 290.1 677.7 290.6 677.7 291.1 677.7 291.6 677.7 292.1 677.7 292.6 677.7 293.1 677.7 293.6 677.7 294.1 677.7 294.6 677.7 295.1 677.7 295.6 677.7 296.1 677.7 296.6 677.7 297.1 677.7 297.6 677.7 298.1 677.7 298.6 677.7 299.1 677.7 299.6 677.7 300.1 677.7 300.6 677.7 301.1 677.7 301.6 677.7" fill="none" stroke="#6e9ad0" stroke-width="1.05" stroke-linejoin="round"/>
<path d="M239.1 677.7 239.6 677.7 240.1 677.7 240.6 677.7 241.1 677.7 241.6 677.7 242.1 677.7 242.6 677.7 243.1 677.7 243.6 677.2 244.1 674.5 244.6 671.9 245.1 669.5 245.6 667.1 246.1 664.5 246.6 661.6 247.1 657.4 247.6 652.2 248.1 647.3 248.6 643.6 249.1 639.4 249.6 636.4 250.1 635.0 250.6 633.2 251.1 630.4 251.6 627.8 252.1 626.7 252.6 625.9 253.1 623.7 253.6 623.8 254.1 626.9 254.6 629.2 255.1 631.5 255.6 634.7 256.1 638.0 256.6 640.6 257.1 643.0 257.6 647.1 258.1 652.2 258.6 656.8 259.1 660.5 259.6 662.9 260.1 665.9 260.6 669.3 261.1 672.7 261.6 674.3 262.1 675.1 262.6 676.2 263.1 677.5 263.6 677.7 264.1 677.7 264.6 677.7 265.1 677.7 265.6 677.7 266.1 677.7 266.6 677.7 267.1 677.7 267.6 677.7 268.1 677.7 268.6 677.7 269.1 677.7 269.6 677.7 270.1 677.7 270.6 677.7 271.1 677.7 271.6 677.7 272.1 677.7 272.6 677.7 273.1 677.7 273.6 677.7 274.1 677.7 274.6 677.7 275.1 677.7 275.6 677.7 276.1 677.7 276.6 677.7 277.1 677.7 277.6 677.7 278.1 677.7 278.6 677.7 279.1 677.7 279.6 677.7 280.1 677.7 280.6 677.7 281.1 677.7 281.6 677.7 282.1 677.7 282.6 677.7 283.1 677.7 283.6 677.7 284.1 677.7 284.6 677.7 285.1 677.7 285.6 677.7 286.1 677.7 286.6 677.7 287.1 677.7 287.6 677.7 288.1 677.7 288.6 677.7 289.1 677.7 289.6 677.7 290.1 677.7 290.6 677.7 291.1 677.7 291.6 677.7 292.1 677.7 292.6 677.7 293.1 677.7 293.6 677.7 294.1 677.7 294.6 677.7 295.1 677.7 295.6 677.7 296.1 677.7 296.6 677.7 297.1 677.7 297.6 677.7 298.1 677.7 298.6 677.7 299.1 677.7 299.6 677.7 300.1 677.7 300.6 677.7 301.1 677.7 301.6 677.7" fill="none" stroke="#dc8c22" stroke-width="1.05" stroke-linejoin="round"/>
<path d="M239.1 677.7 239.6 677.7 240.1 677.7 240.6 677.7 241.1 677.7 241.6 677.7 242.1 677.7 242.6 677.7 243.1 677.7 243.6 677.7 244.1 677.7 244.6 677.7 245.1 677.7 245.6 677.7 246.1 677.7 246.6 677.7 247.1 677.7 247.6 677.7 248.1 677.6 248.6 676.9 249.1 676.3 249.6 675.7 250.1 675.0 250.6 674.3 251.1 673.7 251.6 673.3 252.1 672.4 252.6 671.3 253.1 670.4 253.6 668.8 254.1 666.6 254.6 665.8 255.1 665.7 255.6 664.8 256.1 662.6 256.6 659.9 257.1 657.4 257.6 654.7 258.1 651.3 258.6 649.5 259.1 648.7 259.6 645.2 260.1 640.4 260.6 638.2 261.1 637.2 261.6 637.0 262.1 636.1 262.6 633.6 263.1 629.0 263.6 626.1 264.1 627.5 264.6 629.5 265.1 631.1 265.6 632.1 266.1 630.8 266.6 632.8 267.1 638.0 267.6 641.9 268.1 643.7 268.6 647.0 269.1 651.9 269.6 657.7 270.1 662.3 270.6 664.8 271.1 667.2 271.6 669.6 272.1 671.6 272.6 673.1 273.1 674.0 273.6 674.9 274.1 675.6 274.6 676.3 275.1 677.1 275.6 677.7 276.1 677.7 276.6 677.7 277.1 677.7 277.6 677.7 278.1 677.7 278.6 677.7 279.1 677.7 279.6 677.7 280.1 677.7 280.6 677.7 281.1 677.7 281.6 677.7 282.1 677.7 282.6 677.7 283.1 677.7 283.6 677.7 284.1 677.7 284.6 677.7 285.1 677.7 285.6 677.7 286.1 677.7 286.6 677.7 287.1 677.7 287.6 677.7 288.1 677.7 288.6 677.7 289.1 677.7 289.6 677.7 290.1 677.7 290.6 677.7 291.1 677.7 291.6 677.7 292.1 677.7 292.6 677.7 293.1 677.7 293.6 677.7 294.1 677.7 294.6 677.7 295.1 677.7 295.6 677.7 296.1 677.7 296.6 677.7 297.1 677.7 297.6 677.7 298.1 677.7 298.6 677.7 299.1 677.7 299.6 677.7 300.1 677.7 300.6 677.7 301.1 677.7 301.6 677.7" fill="none" stroke="#5c9a42" stroke-width="1.05" stroke-linejoin="round"/>
<path d="M241.90 678.9v3M246.87 678.9v2.2M249.77 678.9v2.2M251.83 678.9v2.2M253.43 678.9v2.2M254.74 678.9v2.2M255.84 678.9v2.2M256.80 678.9v2.2M257.65 678.9v2.2M258.40 678.9v3M263.37 678.9v2.2M266.27 678.9v2.2M268.33 678.9v2.2M269.93 678.9v2.2M271.24 678.9v2.2M272.34 678.9v2.2M273.30 678.9v2.2M274.15 678.9v2.2M274.90 678.9v3M279.87 678.9v2.2M282.77 678.9v2.2M284.83 678.9v2.2M286.43 678.9v2.2M287.74 678.9v2.2M288.84 678.9v2.2M289.80 678.9v2.2M290.65 678.9v2.2M291.40 678.9v3M296.37 678.9v2.2M299.27 678.9v2.2M301.33 678.9v2.2" stroke="#000" stroke-width="0.8" fill="none"/>
<rect x="237.9" y="618.1" width="65" height="60.8" fill="none" stroke="#1a1a1a" stroke-width="1.4"/>
<path d="M308.4 610.0 308.9 610.0 309.4 610.0 309.9 610.0 310.4 610.0 310.9 610.0 311.4 610.0 311.9 610.0 312.4 610.0 312.9 610.0 313.4 610.0 313.9 610.0 314.4 607.4 314.9 605.0 315.4 602.4 315.9 599.3 316.4 596.3 316.9 594.0 317.4 592.0 317.9 589.4 318.4 587.1 318.9 584.3 319.4 580.7 319.9 578.3 320.4 575.8 320.9 571.4 321.4 567.2 321.9 563.3 322.4 561.5 322.9 562.0 323.4 560.9 323.9 559.1 324.4 557.6 324.9 558.8 325.4 561.2 325.9 563.3 326.4 566.9 326.9 568.9 327.4 571.4 327.9 577.8 328.4 583.4 328.9 586.7 329.4 590.2 329.9 593.5 330.4 596.2 330.9 599.1 331.4 602.7 331.9 604.6 332.4 606.5 332.9 608.7 333.4 610.0 333.9 610.0 334.4 610.0 334.9 610.0 335.4 610.0 335.9 610.0 336.4 610.0 336.9 610.0 337.4 610.0 337.9 610.0 338.4 610.0 338.9 610.0 339.4 610.0 339.9 610.0 340.4 610.0 340.9 610.0 341.4 610.0 341.9 610.0 342.4 610.0 342.9 610.0 343.4 610.0 343.9 610.0 344.4 610.0 344.9 610.0 345.4 610.0 345.9 610.0 346.4 610.0 346.9 610.0 347.4 610.0 347.9 610.0 348.4 610.0 348.9 610.0 349.4 610.0 349.9 610.0 350.4 610.0 350.9 610.0 351.4 610.0 351.9 610.0 352.4 610.0 352.9 610.0 353.4 610.0 353.9 610.0 354.4 610.0 354.9 610.0 355.4 610.0 355.9 610.0 356.4 610.0 356.9 610.0 357.4 610.0 357.9 610.0 358.4 610.0 358.9 610.0 359.4 610.0 359.9 610.0 360.4 610.0 360.9 610.0 361.4 610.0 361.9 610.0 362.4 610.0 362.9 610.0 363.4 610.0 363.9 610.0 364.4 610.0 364.9 610.0 365.4 610.0 365.9 610.0 366.4 610.0 366.9 610.0 367.4 610.0 367.9 610.0 368.4 610.0 368.9 610.0 369.4 610.0 369.9 610.0 370.4 610.0 370.9 610.0" fill="none" stroke="#6e9ad0" stroke-width="1.05" stroke-linejoin="round"/>
<path d="M308.4 610.0 308.9 610.0 309.4 610.0 309.9 610.0 310.4 610.0 310.9 610.0 311.4 610.0 311.9 610.0 312.4 610.0 312.9 610.0 313.4 610.0 313.9 610.0 314.4 610.0 314.9 610.0 315.4 608.9 315.9 607.3 316.4 605.7 316.9 603.6 317.4 601.3 317.9 599.3 318.4 597.5 318.9 596.5 319.4 595.6 319.9 593.3 320.4 590.6 320.9 588.6 321.4 586.5 321.9 583.7 322.4 581.7 322.9 580.8 323.4 579.0 323.9 576.5 324.4 573.8 324.9 570.7 325.4 568.8 325.9 568.9 326.4 568.4 326.9 565.5 327.4 562.7 327.9 561.5 328.4 558.3 328.9 559.1 329.4 563.3 329.9 565.4 330.4 568.5 330.9 572.7 331.4 574.2 331.9 576.9 332.4 582.5 332.9 586.3 333.4 588.7 333.9 592.2 334.4 595.6 334.9 597.9 335.4 600.4 335.9 602.7 336.4 604.1 336.9 605.5 337.4 606.7 337.9 607.7 338.4 608.8 338.9 610.0 339.4 610.0 339.9 610.0 340.4 610.0 340.9 610.0 341.4 610.0 341.9 610.0 342.4 610.0 342.9 610.0 343.4 610.0 343.9 610.0 344.4 610.0 344.9 610.0 345.4 610.0 345.9 610.0 346.4 610.0 346.9 610.0 347.4 610.0 347.9 610.0 348.4 610.0 348.9 610.0 349.4 610.0 349.9 610.0 350.4 610.0 350.9 610.0 351.4 610.0 351.9 610.0 352.4 610.0 352.9 610.0 353.4 610.0 353.9 610.0 354.4 610.0 354.9 610.0 355.4 610.0 355.9 610.0 356.4 610.0 356.9 610.0 357.4 610.0 357.9 610.0 358.4 610.0 358.9 610.0 359.4 610.0 359.9 610.0 360.4 610.0 360.9 610.0 361.4 610.0 361.9 610.0 362.4 610.0 362.9 610.0 363.4 610.0 363.9 610.0 364.4 610.0 364.9 610.0 365.4 610.0 365.9 610.0 366.4 610.0 366.9 610.0 367.4 610.0 367.9 610.0 368.4 610.0 368.9 610.0 369.4 610.0 369.9 610.0 370.4 610.0 370.9 610.0" fill="none" stroke="#dc8c22" stroke-width="1.05" stroke-linejoin="round"/>
<path d="M308.4 610.0 308.9 610.0 309.4 610.0 309.9 610.0 310.4 610.0 310.9 610.0 311.4 610.0 311.9 610.0 312.4 610.0 312.9 610.0 313.4 610.0 313.9 610.0 314.4 610.0 314.9 609.8 315.4 609.6 315.9 609.3 316.4 609.0 316.9 608.8 317.4 608.5 317.9 608.3 318.4 608.0 318.9 607.6 319.4 607.4 319.9 607.4 320.4 607.4 320.9 607.2 321.4 606.9 321.9 606.8 322.4 606.9 322.9 607.0 323.4 606.9 323.9 606.8 324.4 606.5 324.9 606.4 325.4 606.2 325.9 606.2 326.4 606.2 326.9 605.8 327.4 605.3 327.9 605.0 328.4 604.7 328.9 604.2 329.4 603.9 329.9 604.1 330.4 604.7 330.9 605.3 331.4 605.8 331.9 606.1 332.4 606.1 332.9 606.0 333.4 606.1 333.9 606.4 334.4 606.5 334.9 606.4 335.4 606.6 335.9 606.6 336.4 606.2 336.9 606.1 337.4 605.9 337.9 605.6 338.4 605.4 338.9 605.0 339.4 604.4 339.9 603.7 340.4 603.3 340.9 603.2 341.4 602.5 341.9 601.7 342.4 600.5 342.9 598.5 343.4 596.8 343.9 595.2 344.4 593.9 344.9 592.7 345.4 591.5 345.9 589.8 346.4 587.0 346.9 584.4 347.4 583.9 347.9 582.9 348.4 580.1 348.9 577.8 349.4 575.0 349.9 572.5 350.4 570.0 350.9 565.2 351.4 562.0 351.9 561.2 352.4 558.6 352.9 558.1 353.4 558.5 353.9 556.2 354.4 557.7 354.9 562.8 355.4 562.6 355.9 563.6 356.4 566.8 356.9 568.8 357.4 571.0 357.9 575.6 358.4 580.4 358.9 585.2 359.4 590.6 359.9 595.7 360.4 598.7 360.9 600.8 361.4 602.7 361.9 604.5 362.4 605.7 362.9 606.5 363.4 607.6 363.9 608.7 364.4 609.8 364.9 610.0 365.4 610.0 365.9 610.0 366.4 610.0 366.9 610.0 367.4 610.0 367.9 610.0 368.4 610.0 368.9 610.0 369.4 610.0 369.9 610.0 370.4 610.0 370.9 610.0" fill="none" stroke="#5c9a42" stroke-width="1.05" stroke-linejoin="round"/>
<path d="M311.20 611.2v3M316.17 611.2v2.2M319.07 611.2v2.2M321.13 611.2v2.2M322.73 611.2v2.2M324.04 611.2v2.2M325.14 611.2v2.2M326.10 611.2v2.2M326.95 611.2v2.2M327.70 611.2v3M332.67 611.2v2.2M335.57 611.2v2.2M337.63 611.2v2.2M339.23 611.2v2.2M340.54 611.2v2.2M341.64 611.2v2.2M342.60 611.2v2.2M343.45 611.2v2.2M344.20 611.2v3M349.17 611.2v2.2M352.07 611.2v2.2M354.13 611.2v2.2M355.73 611.2v2.2M357.04 611.2v2.2M358.14 611.2v2.2M359.10 611.2v2.2M359.95 611.2v2.2M360.70 611.2v3M365.67 611.2v2.2M368.57 611.2v2.2M370.63 611.2v2.2" stroke="#000" stroke-width="0.8" fill="none"/>
<rect x="307.2" y="550.6" width="65" height="60.6" fill="none" stroke="#1a1a1a" stroke-width="1.4"/>
<path d="M308.4 677.7 308.9 677.7 309.4 677.7 309.9 677.7 310.4 677.7 310.9 677.7 311.4 677.7 311.9 677.7 312.4 677.7 312.9 677.7 313.4 677.7 313.9 677.7 314.4 675.6 314.9 673.5 315.4 671.5 315.9 669.5 316.4 668.4 316.9 667.4 317.4 664.1 317.9 660.0 318.4 656.4 318.9 653.0 319.4 651.4 319.9 649.4 320.4 646.5 320.9 645.7 321.4 643.0 321.9 638.4 322.4 636.7 322.9 634.5 323.4 631.0 323.9 627.5 324.4 625.4 324.9 623.7 325.4 623.7 325.9 626.0 326.4 630.6 326.9 630.9 327.4 633.5 327.9 637.2 328.4 640.4 328.9 645.0 329.4 649.7 329.9 653.6 330.4 659.3 330.9 663.9 331.4 665.1 331.9 666.5 332.4 668.7 332.9 671.3 333.4 673.1 333.9 673.7 334.4 674.7 334.9 675.5 335.4 676.2 335.9 676.9 336.4 677.7 336.9 677.7 337.4 677.7 337.9 677.7 338.4 677.7 338.9 677.7 339.4 677.7 339.9 677.7 340.4 677.7 340.9 677.7 341.4 677.7 341.9 677.7 342.4 677.7 342.9 677.7 343.4 677.7 343.9 677.7 344.4 677.7 344.9 677.7 345.4 677.7 345.9 677.7 346.4 677.7 346.9 677.7 347.4 677.7 347.9 677.7 348.4 677.7 348.9 677.7 349.4 677.7 349.9 677.7 350.4 677.7 350.9 677.7 351.4 677.7 351.9 677.7 352.4 677.7 352.9 677.7 353.4 677.7 353.9 677.7 354.4 677.7 354.9 677.7 355.4 677.7 355.9 677.7 356.4 677.7 356.9 677.7 357.4 677.7 357.9 677.7 358.4 677.7 358.9 677.7 359.4 677.7 359.9 677.7 360.4 677.7 360.9 677.7 361.4 677.7 361.9 677.7 362.4 677.7 362.9 677.7 363.4 677.7 363.9 677.7 364.4 677.7 364.9 677.7 365.4 677.7 365.9 677.7 366.4 677.7 366.9 677.7 367.4 677.7 367.9 677.7 368.4 677.7 368.9 677.7 369.4 677.7 369.9 677.7 370.4 677.7 370.9 677.7" fill="none" stroke="#6e9ad0" stroke-width="1.05" stroke-linejoin="round"/>
<path d="M308.4 677.7 308.9 677.7 309.4 677.7 309.9 677.7 310.4 677.7 310.9 677.7 311.4 677.7 311.9 677.7 312.4 677.7 312.9 677.7 313.4 677.7 313.9 677.7 314.4 676.9 314.9 675.0 315.4 673.2 315.9 671.2 316.4 669.0 316.9 667.1 317.4 665.5 317.9 662.2 318.4 658.0 318.9 654.9 319.4 652.6 319.9 650.3 320.4 648.5 320.9 647.2 321.4 643.4 321.9 639.5 322.4 638.7 322.9 637.2 323.4 633.7 323.9 629.8 324.4 626.2 324.9 625.2 325.4 626.6 325.9 626.7 326.4 628.4 326.9 633.0 327.4 637.9 327.9 641.0 328.4 640.4 328.9 642.3 329.4 647.3 329.9 651.3 330.4 653.6 330.9 656.0 331.4 660.9 331.9 664.5 332.4 665.2 332.9 665.7 333.4 667.7 333.9 670.2 334.4 672.4 334.9 673.4 335.4 674.2 335.9 674.8 336.4 675.3 336.9 675.9 337.4 676.5 337.9 677.2 338.4 677.7 338.9 677.7 339.4 677.7 339.9 677.7 340.4 677.7 340.9 677.7 341.4 677.7 341.9 677.7 342.4 677.7 342.9 677.7 343.4 677.7 343.9 677.7 344.4 677.7 344.9 677.7 345.4 677.7 345.9 677.7 346.4 677.7 346.9 677.7 347.4 677.7 347.9 677.7 348.4 677.7 348.9 677.7 349.4 677.7 349.9 677.7 350.4 677.7 350.9 677.7 351.4 677.7 351.9 677.7 352.4 677.7 352.9 677.7 353.4 677.7 353.9 677.7 354.4 677.7 354.9 677.7 355.4 677.7 355.9 677.7 356.4 677.7 356.9 677.7 357.4 677.7 357.9 677.7 358.4 677.7 358.9 677.7 359.4 677.7 359.9 677.7 360.4 677.7 360.9 677.7 361.4 677.7 361.9 677.7 362.4 677.7 362.9 677.7 363.4 677.7 363.9 677.7 364.4 677.7 364.9 677.7 365.4 677.7 365.9 677.7 366.4 677.7 366.9 677.7 367.4 677.7 367.9 677.7 368.4 677.7 368.9 677.7 369.4 677.7 369.9 677.7 370.4 677.7 370.9 677.7" fill="none" stroke="#dc8c22" stroke-width="1.05" stroke-linejoin="round"/>
<path d="M308.4 677.7 308.9 677.7 309.4 677.7 309.9 677.7 310.4 677.7 310.9 677.7 311.4 677.7 311.9 677.7 312.4 677.7 312.9 677.7 313.4 677.7 313.9 677.7 314.4 677.7 314.9 677.4 315.4 677.0 315.9 676.6 316.4 676.0 316.9 675.5 317.4 675.6 317.9 675.3 318.4 675.0 318.9 675.1 319.4 675.1 319.9 674.7 320.4 674.2 320.9 674.0 321.4 673.8 321.9 673.5 322.4 673.4 322.9 673.6 323.4 673.6 323.9 673.2 324.4 673.2 324.9 673.2 325.4 673.0 325.9 673.0 326.4 673.3 326.9 673.2 327.4 672.8 327.9 672.5 328.4 672.3 328.9 672.3 329.4 672.4 329.9 672.2 330.4 671.9 330.9 671.5 331.4 671.0 331.9 670.2 332.4 668.5 332.9 666.7 333.4 664.0 333.9 661.2 334.4 658.4 334.9 656.5 335.4 656.2 335.9 654.7 336.4 652.4 336.9 650.7 337.4 648.8 337.9 645.9 338.4 642.5 338.9 640.3 339.4 637.7 339.9 634.6 340.4 633.0 340.9 631.3 341.4 628.0 341.9 625.7 342.4 625.1 342.9 626.2 343.4 627.8 343.9 628.7 344.4 628.5 344.9 634.3 345.4 640.4 345.9 641.1 346.4 644.2 346.9 650.0 347.4 654.3 347.9 658.6 348.4 661.9 348.9 664.0 349.4 667.2 349.9 670.3 350.4 672.6 350.9 674.1 351.4 674.6 351.9 675.3 352.4 675.7 352.9 676.2 353.4 676.7 353.9 677.1 354.4 677.6 354.9 677.7 355.4 677.7 355.9 677.7 356.4 677.7 356.9 677.7 357.4 677.7 357.9 677.7 358.4 677.7 358.9 677.7 359.4 677.7 359.9 677.7 360.4 677.7 360.9 677.7 361.4 677.7 361.9 677.7 362.4 677.7 362.9 677.7 363.4 677.7 363.9 677.7 364.4 677.7 364.9 677.7 365.4 677.7 365.9 677.7 366.4 677.7 366.9 677.7 367.4 677.7 367.9 677.7 368.4 677.7 368.9 677.7 369.4 677.7 369.9 677.7 370.4 677.7 370.9 677.7" fill="none" stroke="#5c9a42" stroke-width="1.05" stroke-linejoin="round"/>
<path d="M311.20 678.9v3M316.17 678.9v2.2M319.07 678.9v2.2M321.13 678.9v2.2M322.73 678.9v2.2M324.04 678.9v2.2M325.14 678.9v2.2M326.10 678.9v2.2M326.95 678.9v2.2M327.70 678.9v3M332.67 678.9v2.2M335.57 678.9v2.2M337.63 678.9v2.2M339.23 678.9v2.2M340.54 678.9v2.2M341.64 678.9v2.2M342.60 678.9v2.2M343.45 678.9v2.2M344.20 678.9v3M349.17 678.9v2.2M352.07 678.9v2.2M354.13 678.9v2.2M355.73 678.9v2.2M357.04 678.9v2.2M358.14 678.9v2.2M359.10 678.9v2.2M359.95 678.9v2.2M360.70 678.9v3M365.67 678.9v2.2M368.57 678.9v2.2M370.63 678.9v2.2" stroke="#000" stroke-width="0.8" fill="none"/>
<rect x="307.2" y="618.1" width="65" height="60.8" fill="none" stroke="#1a1a1a" stroke-width="1.4"/>
<path d="M378.2 610.0 378.7 610.0 379.2 610.0 379.7 610.0 380.2 610.0 380.7 610.0 381.2 610.0 381.7 610.0 382.2 610.0 382.7 610.0 383.2 610.0 383.7 610.0 384.2 610.0 384.7 609.1 385.2 606.8 385.7 604.2 386.2 601.3 386.7 598.8 387.2 596.5 387.7 594.1 388.2 591.5 388.7 588.0 389.2 584.7 389.7 582.2 390.2 579.3 390.7 576.0 391.2 573.5 391.7 569.1 392.2 564.6 392.7 565.2 393.2 565.4 393.7 558.3 394.2 556.2 394.7 560.3 395.2 567.3 395.7 568.0 396.2 567.4 396.7 570.9 397.2 576.4 397.7 579.7 398.2 582.7 398.7 587.0 399.2 591.6 399.7 595.5 400.2 598.3 400.7 599.8 401.2 601.8 401.7 603.7 402.2 605.5 402.7 607.0 403.2 608.3 403.7 609.5 404.2 610.0 404.7 610.0 405.2 610.0 405.7 610.0 406.2 610.0 406.7 610.0 407.2 610.0 407.7 610.0 408.2 610.0 408.7 610.0 409.2 610.0 409.7 610.0 410.2 610.0 410.7 610.0 411.2 610.0 411.7 610.0 412.2 610.0 412.7 610.0 413.2 610.0 413.7 610.0 414.2 610.0 414.7 610.0 415.2 610.0 415.7 610.0 416.2 610.0 416.7 610.0 417.2 610.0 417.7 610.0 418.2 610.0 418.7 610.0 419.2 610.0 419.7 610.0 420.2 610.0 420.7 610.0 421.2 610.0 421.7 610.0 422.2 610.0 422.7 610.0 423.2 610.0 423.7 610.0 424.2 610.0 424.7 610.0 425.2 610.0 425.7 610.0 426.2 610.0 426.7 610.0 427.2 610.0 427.7 610.0 428.2 610.0 428.7 610.0 429.2 610.0 429.7 610.0 430.2 610.0 430.7 610.0 431.2 610.0 431.7 610.0 432.2 610.0 432.7 610.0 433.2 610.0 433.7 610.0 434.2 610.0 434.7 610.0 435.2 610.0 435.7 610.0 436.2 610.0 436.7 610.0 437.2 610.0 437.7 610.0 438.2 610.0 438.7 610.0 439.2 610.0 439.7 610.0 440.2 610.0 440.7 610.0" fill="none" stroke="#6e9ad0" stroke-width="1.05" stroke-linejoin="round"/>
<path d="M378.2 610.0 378.7 610.0 379.2 610.0 379.7 610.0 380.2 610.0 380.7 610.0 381.2 610.0 381.7 610.0 382.2 610.0 382.7 610.0 383.2 610.0 383.7 610.0 384.2 610.0 384.7 610.0 385.2 610.0 385.7 610.0 386.2 610.0 386.7 609.2 387.2 607.6 387.7 606.1 388.2 604.8 388.7 603.4 389.2 602.0 389.7 600.4 390.2 598.8 390.7 597.9 391.2 595.9 391.7 592.7 392.2 589.5 392.7 586.4 393.2 584.3 393.7 584.1 394.2 583.8 394.7 581.3 395.2 578.1 395.7 575.3 396.2 572.8 396.7 570.4 397.2 567.0 397.7 563.5 398.2 561.8 398.7 559.6 399.2 558.9 399.7 558.8 400.2 557.2 400.7 559.1 401.2 564.0 401.7 567.2 402.2 571.5 402.7 576.3 403.2 579.9 403.7 584.6 404.2 589.5 404.7 593.3 405.2 596.1 405.7 598.4 406.2 601.3 406.7 603.9 407.2 605.9 407.7 607.8 408.2 609.8 408.7 610.0 409.2 610.0 409.7 610.0 410.2 610.0 410.7 610.0 411.2 610.0 411.7 610.0 412.2 610.0 412.7 610.0 413.2 610.0 413.7 610.0 414.2 610.0 414.7 610.0 415.2 610.0 415.7 610.0 416.2 610.0 416.7 610.0 417.2 610.0 417.7 610.0 418.2 610.0 418.7 610.0 419.2 610.0 419.7 610.0 420.2 610.0 420.7 610.0 421.2 610.0 421.7 610.0 422.2 610.0 422.7 610.0 423.2 610.0 423.7 610.0 424.2 610.0 424.7 610.0 425.2 610.0 425.7 610.0 426.2 610.0 426.7 610.0 427.2 610.0 427.7 610.0 428.2 610.0 428.7 610.0 429.2 610.0 429.7 610.0 430.2 610.0 430.7 610.0 431.2 610.0 431.7 610.0 432.2 610.0 432.7 610.0 433.2 610.0 433.7 610.0 434.2 610.0 434.7 610.0 435.2 610.0 435.7 610.0 436.2 610.0 436.7 610.0 437.2 610.0 437.7 610.0 438.2 610.0 438.7 610.0 439.2 610.0 439.7 610.0 440.2 610.0 440.7 610.0" fill="none" stroke="#dc8c22" stroke-width="1.05" stroke-linejoin="round"/>
<path d="M378.2 610.0 378.7 610.0 379.2 610.0 379.7 610.0 380.2 610.0 380.7 610.0 381.2 610.0 381.7 610.0 382.2 610.0 382.7 610.0 383.2 610.0 383.7 610.0 384.2 610.0 384.7 610.0 385.2 610.0 385.7 610.0 386.2 610.0 386.7 610.0 387.2 610.0 387.7 610.0 388.2 610.0 388.7 610.0 389.2 610.0 389.7 609.6 390.2 608.6 390.7 607.6 391.2 606.6 391.7 605.8 392.2 604.8 392.7 603.7 393.2 602.8 393.7 601.9 394.2 600.5 394.7 599.2 395.2 597.5 395.7 594.9 396.2 592.3 396.7 590.2 397.2 588.7 397.7 587.0 398.2 583.4 398.7 580.5 399.2 579.0 399.7 578.4 400.2 576.6 400.7 572.0 401.2 568.2 401.7 566.9 402.2 566.1 402.7 563.2 403.2 561.6 403.7 562.5 404.2 561.1 404.7 559.1 405.2 560.0 405.7 560.3 406.2 559.7 406.7 562.6 407.2 562.6 407.7 559.2 408.2 558.8 408.7 557.4 409.2 557.2 409.7 558.8 410.2 557.6 410.7 559.0 411.2 562.3 411.7 564.0 412.2 563.6 412.7 566.5 413.2 570.7 413.7 572.0 414.2 577.2 414.7 585.4 415.2 589.5 415.7 591.2 416.2 593.3 416.7 596.4 417.2 599.2 417.7 601.9 418.2 603.8 418.7 605.4 419.2 606.9 419.7 608.7 420.2 610.0 420.7 610.0 421.2 610.0 421.7 610.0 422.2 610.0 422.7 610.0 423.2 610.0 423.7 610.0 424.2 610.0 424.7 610.0 425.2 610.0 425.7 610.0 426.2 610.0 426.7 610.0 427.2 610.0 427.7 610.0 428.2 610.0 428.7 610.0 429.2 610.0 429.7 610.0 430.2 610.0 430.7 610.0 431.2 610.0 431.7 610.0 432.2 610.0 432.7 610.0 433.2 610.0 433.7 610.0 434.2 610.0 434.7 610.0 435.2 610.0 435.7 610.0 436.2 610.0 436.7 610.0 437.2 610.0 437.7 610.0 438.2 610.0 438.7 610.0 439.2 610.0 439.7 610.0 440.2 610.0 440.7 610.0" fill="none" stroke="#5c9a42" stroke-width="1.05" stroke-linejoin="round"/>
<path d="M381.00 611.2v3M385.97 611.2v2.2M388.87 611.2v2.2M390.93 611.2v2.2M392.53 611.2v2.2M393.84 611.2v2.2M394.94 611.2v2.2M395.90 611.2v2.2M396.75 611.2v2.2M397.50 611.2v3M402.47 611.2v2.2M405.37 611.2v2.2M407.43 611.2v2.2M409.03 611.2v2.2M410.34 611.2v2.2M411.44 611.2v2.2M412.40 611.2v2.2M413.25 611.2v2.2M414.00 611.2v3M418.97 611.2v2.2M421.87 611.2v2.2M423.93 611.2v2.2M425.53 611.2v2.2M426.84 611.2v2.2M427.94 611.2v2.2M428.90 611.2v2.2M429.75 611.2v2.2M430.50 611.2v3M435.47 611.2v2.2M438.37 611.2v2.2M440.43 611.2v2.2" stroke="#000" stroke-width="0.8" fill="none"/>
<rect x="377" y="550.6" width="65" height="60.6" fill="none" stroke="#1a1a1a" stroke-width="1.4"/>
<path d="M378.2 677.7 378.7 677.7 379.2 677.7 379.7 677.7 380.2 677.7 380.7 677.7 381.2 677.7 381.7 677.7 382.2 676.9 382.7 674.6 383.2 672.0 383.7 669.6 384.2 667.5 384.7 665.3 385.2 663.6 385.7 662.6 386.2 659.6 386.7 655.6 387.2 653.7 387.7 652.2 388.2 649.6 388.7 646.1 389.2 642.7 389.7 640.1 390.2 635.8 390.7 633.2 391.2 632.5 391.7 629.4 392.2 628.1 392.7 631.1 393.2 631.7 393.7 626.3 394.2 624.1 394.7 627.0 395.2 629.3 395.7 631.4 396.2 636.7 396.7 640.6 397.2 643.0 397.7 646.8 398.2 651.7 398.7 656.5 399.2 660.2 399.7 663.0 400.2 665.2 400.7 667.0 401.2 669.1 401.7 671.8 402.2 673.6 402.7 674.4 403.2 675.3 403.7 676.2 404.2 677.2 404.7 677.7 405.2 677.7 405.7 677.7 406.2 677.7 406.7 677.7 407.2 677.7 407.7 677.7 408.2 677.7 408.7 677.7 409.2 677.7 409.7 677.7 410.2 677.7 410.7 677.7 411.2 677.7 411.7 677.7 412.2 677.7 412.7 677.7 413.2 677.7 413.7 677.7 414.2 677.7 414.7 677.7 415.2 677.7 415.7 677.7 416.2 677.7 416.7 677.7 417.2 677.7 417.7 677.7 418.2 677.7 418.7 677.7 419.2 677.7 419.7 677.7 420.2 677.7 420.7 677.7 421.2 677.7 421.7 677.7 422.2 677.7 422.7 677.7 423.2 677.7 423.7 677.7 424.2 677.7 424.7 677.7 425.2 677.7 425.7 677.7 426.2 677.7 426.7 677.7 427.2 677.7 427.7 677.7 428.2 677.7 428.7 677.7 429.2 677.7 429.7 677.7 430.2 677.7 430.7 677.7 431.2 677.7 431.7 677.7 432.2 677.7 432.7 677.7 433.2 677.7 433.7 677.7 434.2 677.7 434.7 677.7 435.2 677.7 435.7 677.7 436.2 677.7 436.7 677.7 437.2 677.7 437.7 677.7 438.2 677.7 438.7 677.7 439.2 677.7 439.7 677.7 440.2 677.7 440.7 677.7" fill="none" stroke="#6e9ad0" stroke-width="1.05" stroke-linejoin="round"/>
<path d="M378.2 677.7 378.7 677.7 379.2 677.7 379.7 677.7 380.2 677.7 380.7 677.7 381.2 675.8 381.7 673.6 382.2 671.7 382.7 669.6 383.2 667.1 383.7 664.7 384.2 663.1 384.7 661.5 385.2 657.4 385.7 653.1 386.2 649.9 386.7 646.1 387.2 643.8 387.7 642.5 388.2 640.4 388.7 638.6 389.2 636.1 389.7 631.3 390.2 628.6 390.7 626.6 391.2 624.6 391.7 628.3 392.2 630.6 392.7 626.4 393.2 625.6 393.7 628.6 394.2 628.8 394.7 628.7 395.2 634.1 395.7 640.8 396.2 644.9 396.7 649.1 397.2 653.9 397.7 657.5 398.2 661.0 398.7 663.2 399.2 666.0 399.7 668.5 400.2 670.7 400.7 673.0 401.2 674.1 401.7 675.0 402.2 675.8 402.7 676.7 403.2 677.6 403.7 677.7 404.2 677.7 404.7 677.7 405.2 677.7 405.7 677.7 406.2 677.7 406.7 677.7 407.2 677.7 407.7 677.7 408.2 677.7 408.7 677.7 409.2 677.7 409.7 677.7 410.2 677.7 410.7 677.7 411.2 677.7 411.7 677.7 412.2 677.7 412.7 677.7 413.2 677.7 413.7 677.7 414.2 677.7 414.7 677.7 415.2 677.7 415.7 677.7 416.2 677.7 416.7 677.7 417.2 677.7 417.7 677.7 418.2 677.7 418.7 677.7 419.2 677.7 419.7 677.7 420.2 677.7 420.7 677.7 421.2 677.7 421.7 677.7 422.2 677.7 422.7 677.7 423.2 677.7 423.7 677.7 424.2 677.7 424.7 677.7 425.2 677.7 425.7 677.7 426.2 677.7 426.7 677.7 427.2 677.7 427.7 677.7 428.2 677.7 428.7 677.7 429.2 677.7 429.7 677.7 430.2 677.7 430.7 677.7 431.2 677.7 431.7 677.7 432.2 677.7 432.7 677.7 433.2 677.7 433.7 677.7 434.2 677.7 434.7 677.7 435.2 677.7 435.7 677.7 436.2 677.7 436.7 677.7 437.2 677.7 437.7 677.7 438.2 677.7 438.7 677.7 439.2 677.7 439.7 677.7 440.2 677.7 440.7 677.7" fill="none" stroke="#dc8c22" stroke-width="1.05" stroke-linejoin="round"/>
<path d="M378.2 677.7 378.7 677.7 379.2 677.7 379.7 677.7 380.2 677.7 380.7 677.7 381.2 677.7 381.7 677.7 382.2 677.7 382.7 677.7 383.2 677.7 383.7 676.5 384.2 675.2 384.7 673.9 385.2 672.0 385.7 670.0 386.2 669.0 386.7 667.9 387.2 666.3 387.7 664.9 388.2 662.6 388.7 659.9 389.2 657.6 389.7 655.1 390.2 652.3 390.7 649.2 391.2 645.9 391.7 643.2 392.2 640.4 392.7 637.9 393.2 636.9 393.7 633.6 394.2 627.2 394.7 624.8 395.2 629.2 395.7 632.0 396.2 626.4 396.7 623.8 397.2 627.3 397.7 625.5 398.2 626.5 398.7 631.2 399.2 631.9 399.7 634.0 400.2 636.6 400.7 637.5 401.2 641.2 401.7 645.1 402.2 647.2 402.7 650.2 403.2 654.3 403.7 657.3 404.2 660.8 404.7 664.5 405.2 667.0 405.7 669.5 406.2 672.2 406.7 674.0 407.2 675.1 407.7 676.3 408.2 677.6 408.7 677.7 409.2 677.7 409.7 677.7 410.2 677.7 410.7 677.7 411.2 677.7 411.7 677.7 412.2 677.7 412.7 677.7 413.2 677.7 413.7 677.7 414.2 677.7 414.7 677.7 415.2 677.7 415.7 677.7 416.2 677.7 416.7 677.7 417.2 677.7 417.7 677.7 418.2 677.7 418.7 677.7 419.2 677.7 419.7 677.7 420.2 677.7 420.7 677.7 421.2 677.7 421.7 677.7 422.2 677.7 422.7 677.7 423.2 677.7 423.7 677.7 424.2 677.7 424.7 677.7 425.2 677.7 425.7 677.7 426.2 677.7 426.7 677.7 427.2 677.7 427.7 677.7 428.2 677.7 428.7 677.7 429.2 677.7 429.7 677.7 430.2 677.7 430.7 677.7 431.2 677.7 431.7 677.7 432.2 677.7 432.7 677.7 433.2 677.7 433.7 677.7 434.2 677.7 434.7 677.7 435.2 677.7 435.7 677.7 436.2 677.7 436.7 677.7 437.2 677.7 437.7 677.7 438.2 677.7 438.7 677.7 439.2 677.7 439.7 677.7 440.2 677.7 440.7 677.7" fill="none" stroke="#5c9a42" stroke-width="1.05" stroke-linejoin="round"/>
<path d="M381.00 678.9v3M385.97 678.9v2.2M388.87 678.9v2.2M390.93 678.9v2.2M392.53 678.9v2.2M393.84 678.9v2.2M394.94 678.9v2.2M395.90 678.9v2.2M396.75 678.9v2.2M397.50 678.9v3M402.47 678.9v2.2M405.37 678.9v2.2M407.43 678.9v2.2M409.03 678.9v2.2M410.34 678.9v2.2M411.44 678.9v2.2M412.40 678.9v2.2M413.25 678.9v2.2M414.00 678.9v3M418.97 678.9v2.2M421.87 678.9v2.2M423.93 678.9v2.2M425.53 678.9v2.2M426.84 678.9v2.2M427.94 678.9v2.2M428.90 678.9v2.2M429.75 678.9v2.2M430.50 678.9v3M435.47 678.9v2.2M438.37 678.9v2.2M440.43 678.9v2.2" stroke="#000" stroke-width="0.8" fill="none"/>
<rect x="377" y="618.1" width="65" height="60.8" fill="none" stroke="#1a1a1a" stroke-width="1.4"/>
<path d="M447.2 610.0 447.7 610.0 448.2 610.0 448.7 610.0 449.2 610.0 449.7 610.0 450.2 610.0 450.7 610.0 451.2 610.0 451.7 610.0 452.2 610.0 452.7 610.0 453.2 610.0 453.7 610.0 454.2 610.0 454.7 610.0 455.2 608.8 455.7 607.5 456.2 606.2 456.7 604.9 457.2 603.7 457.7 602.5 458.2 601.3 458.7 599.6 459.2 596.3 459.7 592.6 460.2 589.8 460.7 587.9 461.2 586.1 461.7 584.2 462.2 582.0 462.7 578.2 463.2 575.1 463.7 574.3 464.2 573.9 464.7 571.6 465.2 567.0 465.7 562.4 466.2 561.5 466.7 561.8 467.2 559.9 467.7 561.4 468.2 566.3 468.7 568.0 469.2 568.9 469.7 571.5 470.2 575.4 470.7 580.9 471.2 586.6 471.7 591.1 472.2 594.6 472.7 597.4 473.2 600.3 473.7 603.4 474.2 606.6 474.7 609.7 475.2 610.0 475.7 610.0 476.2 610.0 476.7 610.0 477.2 610.0 477.7 610.0 478.2 610.0 478.7 610.0 479.2 610.0 479.7 610.0 480.2 610.0 480.7 610.0 481.2 610.0 481.7 610.0 482.2 610.0 482.7 610.0 483.2 610.0 483.7 610.0 484.2 610.0 484.7 610.0 485.2 610.0 485.7 610.0 486.2 610.0 486.7 610.0 487.2 610.0 487.7 610.0 488.2 610.0 488.7 610.0 489.2 610.0 489.7 610.0 490.2 610.0 490.7 610.0 491.2 610.0 491.7 610.0 492.2 610.0 492.7 610.0 493.2 610.0 493.7 610.0 494.2 610.0 494.7 610.0 495.2 610.0 495.7 610.0 496.2 610.0 496.7 610.0 497.2 610.0 497.7 610.0 498.2 610.0 498.7 610.0 499.2 610.0 499.7 610.0 500.2 610.0 500.7 610.0 501.2 610.0 501.7 610.0 502.2 610.0 502.7 610.0 503.2 610.0 503.7 610.0 504.2 610.0 504.7 610.0 505.2 610.0 505.7 610.0 506.2 610.0 506.7 610.0 507.2 610.0 507.7 610.0 508.2 610.0 508.7 610.0 509.2 610.0 509.7 610.0" fill="none" stroke="#6e9ad0" stroke-width="1.05" stroke-linejoin="round"/>
<path d="M447.2 610.0 447.7 610.0 448.2 610.0 448.7 610.0 449.2 610.0 449.7 610.0 450.2 610.0 450.7 610.0 451.2 610.0 451.7 610.0 452.2 610.0 452.7 610.0 453.2 610.0 453.7 610.0 454.2 610.0 454.7 610.0 455.2 610.0 455.7 610.0 456.2 610.0 456.7 610.0 457.2 610.0 457.7 610.0 458.2 610.0 458.7 610.0 459.2 610.0 459.7 610.0 460.2 609.0 460.7 608.0 461.2 606.8 461.7 605.4 462.2 604.1 462.7 603.1 463.2 601.8 463.7 600.0 464.2 598.1 464.7 596.5 465.2 594.7 465.7 592.2 466.2 590.3 466.7 587.8 467.2 582.6 467.7 578.9 468.2 578.5 468.7 576.0 469.2 569.5 469.7 566.9 470.2 567.2 470.7 564.4 471.2 559.1 471.7 556.2 472.2 558.2 472.7 561.7 473.2 563.7 473.7 565.1 474.2 566.8 474.7 570.9 475.2 575.2 475.7 579.7 476.2 584.8 476.7 590.2 477.2 594.2 477.7 598.2 478.2 601.8 478.7 604.6 479.2 607.3 479.7 609.8 480.2 610.0 480.7 610.0 481.2 610.0 481.7 610.0 482.2 610.0 482.7 610.0 483.2 610.0 483.7 610.0 484.2 610.0 484.7 610.0 485.2 610.0 485.7 610.0 486.2 610.0 486.7 610.0 487.2 610.0 487.7 610.0 488.2 610.0 488.7 610.0 489.2 610.0 489.7 610.0 490.2 610.0 490.7 610.0 491.2 610.0 491.7 610.0 492.2 610.0 492.7 610.0 493.2 610.0 493.7 610.0 494.2 610.0 494.7 610.0 495.2 610.0 495.7 610.0 496.2 610.0 496.7 610.0 497.2 610.0 497.7 610.0 498.2 610.0 498.7 610.0 499.2 610.0 499.7 610.0 500.2 610.0 500.7 610.0 501.2 610.0 501.7 610.0 502.2 610.0 502.7 610.0 503.2 610.0 503.7 610.0 504.2 610.0 504.7 610.0 505.2 610.0 505.7 610.0 506.2 610.0 506.7 610.0 507.2 610.0 507.7 610.0 508.2 610.0 508.7 610.0 509.2 610.0 509.7 610.0" fill="none" stroke="#dc8c22" stroke-width="1.05" stroke-linejoin="round"/>
<path d="M447.2 610.0 447.7 610.0 448.2 610.0 448.7 610.0 449.2 610.0 449.7 610.0 450.2 610.0 450.7 610.0 451.2 610.0 451.7 610.0 452.2 610.0 452.7 610.0 453.2 610.0 453.7 610.0 454.2 610.0 454.7 610.0 455.2 610.0 455.7 610.0 456.2 610.0 456.7 610.0 457.2 610.0 457.7 610.0 458.2 610.0 458.7 610.0 459.2 610.0 459.7 610.0 460.2 610.0 460.7 610.0 461.2 610.0 461.7 610.0 462.2 610.0 462.7 610.0 463.2 610.0 463.7 610.0 464.2 610.0 464.7 610.0 465.2 609.2 465.7 608.4 466.2 607.5 466.7 606.6 467.2 605.8 467.7 605.0 468.2 604.2 468.7 603.2 469.2 602.0 469.7 601.0 470.2 601.0 470.7 600.0 471.2 597.6 471.7 595.1 472.2 593.3 472.7 591.4 473.2 588.4 473.7 585.0 474.2 581.5 474.7 578.9 475.2 575.4 475.7 570.1 476.2 566.4 476.7 565.1 477.2 562.0 477.7 559.4 478.2 558.8 478.7 560.8 479.2 561.9 479.7 563.9 480.2 567.9 480.7 569.1 481.2 568.7 481.7 569.2 482.2 574.3 482.7 581.3 483.2 585.9 483.7 589.4 484.2 592.0 484.7 594.4 485.2 596.6 485.7 599.8 486.2 603.3 486.7 605.0 487.2 606.1 487.7 607.6 488.2 609.1 488.7 610.0 489.2 610.0 489.7 610.0 490.2 610.0 490.7 610.0 491.2 610.0 491.7 610.0 492.2 610.0 492.7 610.0 493.2 610.0 493.7 610.0 494.2 610.0 494.7 610.0 495.2 610.0 495.7 610.0 496.2 610.0 496.7 610.0 497.2 610.0 497.7 610.0 498.2 610.0 498.7 610.0 499.2 610.0 499.7 610.0 500.2 610.0 500.7 610.0 501.2 610.0 501.7 610.0 502.2 610.0 502.7 610.0 503.2 610.0 503.7 610.0 504.2 610.0 504.7 610.0 505.2 610.0 505.7 610.0 506.2 610.0 506.7 610.0 507.2 610.0 507.7 610.0 508.2 610.0 508.7 610.0 509.2 610.0 509.7 610.0" fill="none" stroke="#5c9a42" stroke-width="1.05" stroke-linejoin="round"/>
<path d="M450.00 611.2v3M454.97 611.2v2.2M457.87 611.2v2.2M459.93 611.2v2.2M461.53 611.2v2.2M462.84 611.2v2.2M463.94 611.2v2.2M464.90 611.2v2.2M465.75 611.2v2.2M466.50 611.2v3M471.47 611.2v2.2M474.37 611.2v2.2M476.43 611.2v2.2M478.03 611.2v2.2M479.34 611.2v2.2M480.44 611.2v2.2M481.40 611.2v2.2M482.25 611.2v2.2M483.00 611.2v3M487.97 611.2v2.2M490.87 611.2v2.2M492.93 611.2v2.2M494.53 611.2v2.2M495.84 611.2v2.2M496.94 611.2v2.2M497.90 611.2v2.2M498.75 611.2v2.2M499.50 611.2v3M504.47 611.2v2.2M507.37 611.2v2.2M509.43 611.2v2.2" stroke="#000" stroke-width="0.8" fill="none"/>
<rect x="446" y="550.6" width="65" height="60.6" fill="none" stroke="#1a1a1a" stroke-width="1.4"/>
<path d="M447.2 677.7 447.7 677.7 448.2 677.7 448.7 677.7 449.2 677.7 449.7 677.7 450.2 677.7 450.7 677.7 451.2 677.7 451.7 677.7 452.2 677.7 452.7 677.7 453.2 677.0 453.7 675.8 454.2 674.4 454.7 673.2 455.2 672.1 455.7 670.9 456.2 669.7 456.7 668.7 457.2 667.5 457.7 665.9 458.2 664.0 458.7 662.4 459.2 660.9 459.7 658.7 460.2 654.7 460.7 651.0 461.2 649.6 461.7 648.1 462.2 645.6 462.7 643.3 463.2 641.2 463.7 639.5 464.2 639.1 464.7 638.0 465.2 634.5 465.7 629.8 466.2 627.4 466.7 627.9 467.2 628.5 467.7 626.7 468.2 626.5 468.7 626.6 469.2 626.9 469.7 630.8 470.2 634.5 470.7 637.0 471.2 642.6 471.7 646.4 472.2 649.6 472.7 654.0 473.2 659.1 473.7 663.1 474.2 665.4 474.7 668.5 475.2 672.0 475.7 674.4 476.2 676.2 476.7 677.7 477.2 677.7 477.7 677.7 478.2 677.7 478.7 677.7 479.2 677.7 479.7 677.7 480.2 677.7 480.7 677.7 481.2 677.7 481.7 677.7 482.2 677.7 482.7 677.7 483.2 677.7 483.7 677.7 484.2 677.7 484.7 677.7 485.2 677.7 485.7 677.7 486.2 677.7 486.7 677.7 487.2 677.7 487.7 677.7 488.2 677.7 488.7 677.7 489.2 677.7 489.7 677.7 490.2 677.7 490.7 677.7 491.2 677.7 491.7 677.7 492.2 677.7 492.7 677.7 493.2 677.7 493.7 677.7 494.2 677.7 494.7 677.7 495.2 677.7 495.7 677.7 496.2 677.7 496.7 677.7 497.2 677.7 497.7 677.7 498.2 677.7 498.7 677.7 499.2 677.7 499.7 677.7 500.2 677.7 500.7 677.7 501.2 677.7 501.7 677.7 502.2 677.7 502.7 677.7 503.2 677.7 503.7 677.7 504.2 677.7 504.7 677.7 505.2 677.7 505.7 677.7 506.2 677.7 506.7 677.7 507.2 677.7 507.7 677.7 508.2 677.7 508.7 677.7 509.2 677.7 509.7 677.7" fill="none" stroke="#6e9ad0" stroke-width="1.05" stroke-linejoin="round"/>
<path d="M447.2 677.7 447.7 677.7 448.2 677.7 448.7 677.7 449.2 677.7 449.7 677.7 450.2 677.7 450.7 677.7 451.2 677.7 451.7 677.7 452.2 677.7 452.7 676.6 453.2 675.4 453.7 674.3 454.2 673.1 454.7 672.1 455.2 670.8 455.7 669.2 456.2 667.6 456.7 666.4 457.2 665.8 457.7 664.0 458.2 662.0 458.7 660.2 459.2 658.0 459.7 656.0 460.2 654.2 460.7 651.4 461.2 648.0 461.7 645.1 462.2 640.6 462.7 636.4 463.2 635.3 463.7 633.0 464.2 630.8 464.7 631.2 465.2 632.3 465.7 631.5 466.2 627.0 466.7 623.7 467.2 624.8 467.7 630.3 468.2 632.8 468.7 632.8 469.2 634.7 469.7 638.6 470.2 642.6 470.7 646.3 471.2 650.6 471.7 654.5 472.2 658.9 472.7 662.9 473.2 666.4 473.7 669.6 474.2 672.5 474.7 674.0 475.2 675.3 475.7 676.8 476.2 677.7 476.7 677.7 477.2 677.7 477.7 677.7 478.2 677.7 478.7 677.7 479.2 677.7 479.7 677.7 480.2 677.7 480.7 677.7 481.2 677.7 481.7 677.7 482.2 677.7 482.7 677.7 483.2 677.7 483.7 677.7 484.2 677.7 484.7 677.7 485.2 677.7 485.7 677.7 486.2 677.7 486.7 677.7 487.2 677.7 487.7 677.7 488.2 677.7 488.7 677.7 489.2 677.7 489.7 677.7 490.2 677.7 490.7 677.7 491.2 677.7 491.7 677.7 492.2 677.7 492.7 677.7 493.2 677.7 493.7 677.7 494.2 677.7 494.7 677.7 495.2 677.7 495.7 677.7 496.2 677.7 496.7 677.7 497.2 677.7 497.7 677.7 498.2 677.7 498.7 677.7 499.2 677.7 499.7 677.7 500.2 677.7 500.7 677.7 501.2 677.7 501.7 677.7 502.2 677.7 502.7 677.7 503.2 677.7 503.7 677.7 504.2 677.7 504.7 677.7 505.2 677.7 505.7 677.7 506.2 677.7 506.7 677.7 507.2 677.7 507.7 677.7 508.2 677.7 508.7 677.7 509.2 677.7 509.7 677.7" fill="none" stroke="#dc8c22" stroke-width="1.05" stroke-linejoin="round"/>
<path d="M447.2 677.7 447.7 677.7 448.2 677.7 448.7 677.7 449.2 677.7 449.7 677.7 450.2 677.7 450.7 677.7 451.2 677.7 451.7 677.7 452.2 677.7 452.7 677.7 453.2 677.7 453.7 677.7 454.2 677.7 454.7 677.7 455.2 677.7 455.7 677.7 456.2 677.4 456.7 676.6 457.2 675.7 457.7 674.9 458.2 674.1 458.7 673.4 459.2 672.7 459.7 672.0 460.2 671.4 460.7 670.9 461.2 669.9 461.7 668.5 462.2 667.1 462.7 665.3 463.2 663.1 463.7 660.6 464.2 658.8 464.7 657.0 465.2 654.3 465.7 652.1 466.2 648.4 466.7 645.6 467.2 644.3 467.7 641.1 468.2 638.3 468.7 635.1 469.2 632.2 469.7 630.1 470.2 626.4 470.7 626.6 471.2 626.5 471.7 623.7 472.2 623.7 472.7 625.8 473.2 630.6 473.7 634.3 474.2 634.8 474.7 636.9 475.2 641.8 475.7 646.4 476.2 651.6 476.7 655.5 477.2 659.1 477.7 663.0 478.2 666.2 478.7 669.2 479.2 672.1 479.7 673.4 480.2 674.6 480.7 675.7 481.2 676.8 481.7 677.7 482.2 677.7 482.7 677.7 483.2 677.7 483.7 677.7 484.2 677.7 484.7 677.7 485.2 677.7 485.7 677.7 486.2 677.7 486.7 677.7 487.2 677.7 487.7 677.7 488.2 677.7 488.7 677.7 489.2 677.7 489.7 677.7 490.2 677.7 490.7 677.7 491.2 677.7 491.7 677.7 492.2 677.7 492.7 677.7 493.2 677.7 493.7 677.7 494.2 677.7 494.7 677.7 495.2 677.7 495.7 677.7 496.2 677.7 496.7 677.7 497.2 677.7 497.7 677.7 498.2 677.7 498.7 677.7 499.2 677.7 499.7 677.7 500.2 677.7 500.7 677.7 501.2 677.7 501.7 677.7 502.2 677.7 502.7 677.7 503.2 677.7 503.7 677.7 504.2 677.7 504.7 677.7 505.2 677.7 505.7 677.7 506.2 677.7 506.7 677.7 507.2 677.7 507.7 677.7 508.2 677.7 508.7 677.7 509.2 677.7 509.7 677.7" fill="none" stroke="#5c9a42" stroke-width="1.05" stroke-linejoin="round"/>
<path d="M450.00 678.9v3M454.97 678.9v2.2M457.87 678.9v2.2M459.93 678.9v2.2M461.53 678.9v2.2M462.84 678.9v2.2M463.94 678.9v2.2M464.90 678.9v2.2M465.75 678.9v2.2M466.50 678.9v3M471.47 678.9v2.2M474.37 678.9v2.2M476.43 678.9v2.2M478.03 678.9v2.2M479.34 678.9v2.2M480.44 678.9v2.2M481.40 678.9v2.2M482.25 678.9v2.2M483.00 678.9v3M487.97 678.9v2.2M490.87 678.9v2.2M492.93 678.9v2.2M494.53 678.9v2.2M495.84 678.9v2.2M496.94 678.9v2.2M497.90 678.9v2.2M498.75 678.9v2.2M499.50 678.9v3M504.47 678.9v2.2M507.37 678.9v2.2M509.43 678.9v2.2" stroke="#000" stroke-width="0.8" fill="none"/>
<rect x="446" y="618.1" width="65" height="60.8" fill="none" stroke="#1a1a1a" stroke-width="1.4"/>
<text x="201.3" y="695" font-size="10" text-anchor="middle" font-weight="normal" font-style="normal" fill="#1a1a1a" stroke="#1a1a1a" stroke-width="0.22" textLength="22.8" lengthAdjust="spacingAndGlyphs">p-SFK</text>
<text x="270.7" y="695" font-size="10" text-anchor="middle" font-weight="normal" font-style="normal" fill="#1a1a1a" stroke="#1a1a1a" stroke-width="0.22" textLength="24.4" lengthAdjust="spacingAndGlyphs">p-SYK</text>
<text x="340.4" y="695" font-size="10" text-anchor="middle" font-weight="normal" font-style="normal" fill="#1a1a1a" stroke="#1a1a1a" stroke-width="0.22" textLength="28.4" lengthAdjust="spacingAndGlyphs">p-PLC&#947;</text>
<text x="410" y="695" font-size="10" text-anchor="middle" font-weight="normal" font-style="normal" fill="#1a1a1a" stroke="#1a1a1a" stroke-width="0.22" textLength="24.2" lengthAdjust="spacingAndGlyphs">p-AKT</text>
<text x="479.2" y="695" font-size="10" text-anchor="middle" font-weight="normal" font-style="normal" fill="#1a1a1a" stroke="#1a1a1a" stroke-width="0.22" textLength="31.2" lengthAdjust="spacingAndGlyphs">p-STAT5</text>
<rect x="0.7" y="0.7" width="518.7" height="703.7" fill="none" stroke="#000" stroke-width="1.3"/>
</svg></body></html>
